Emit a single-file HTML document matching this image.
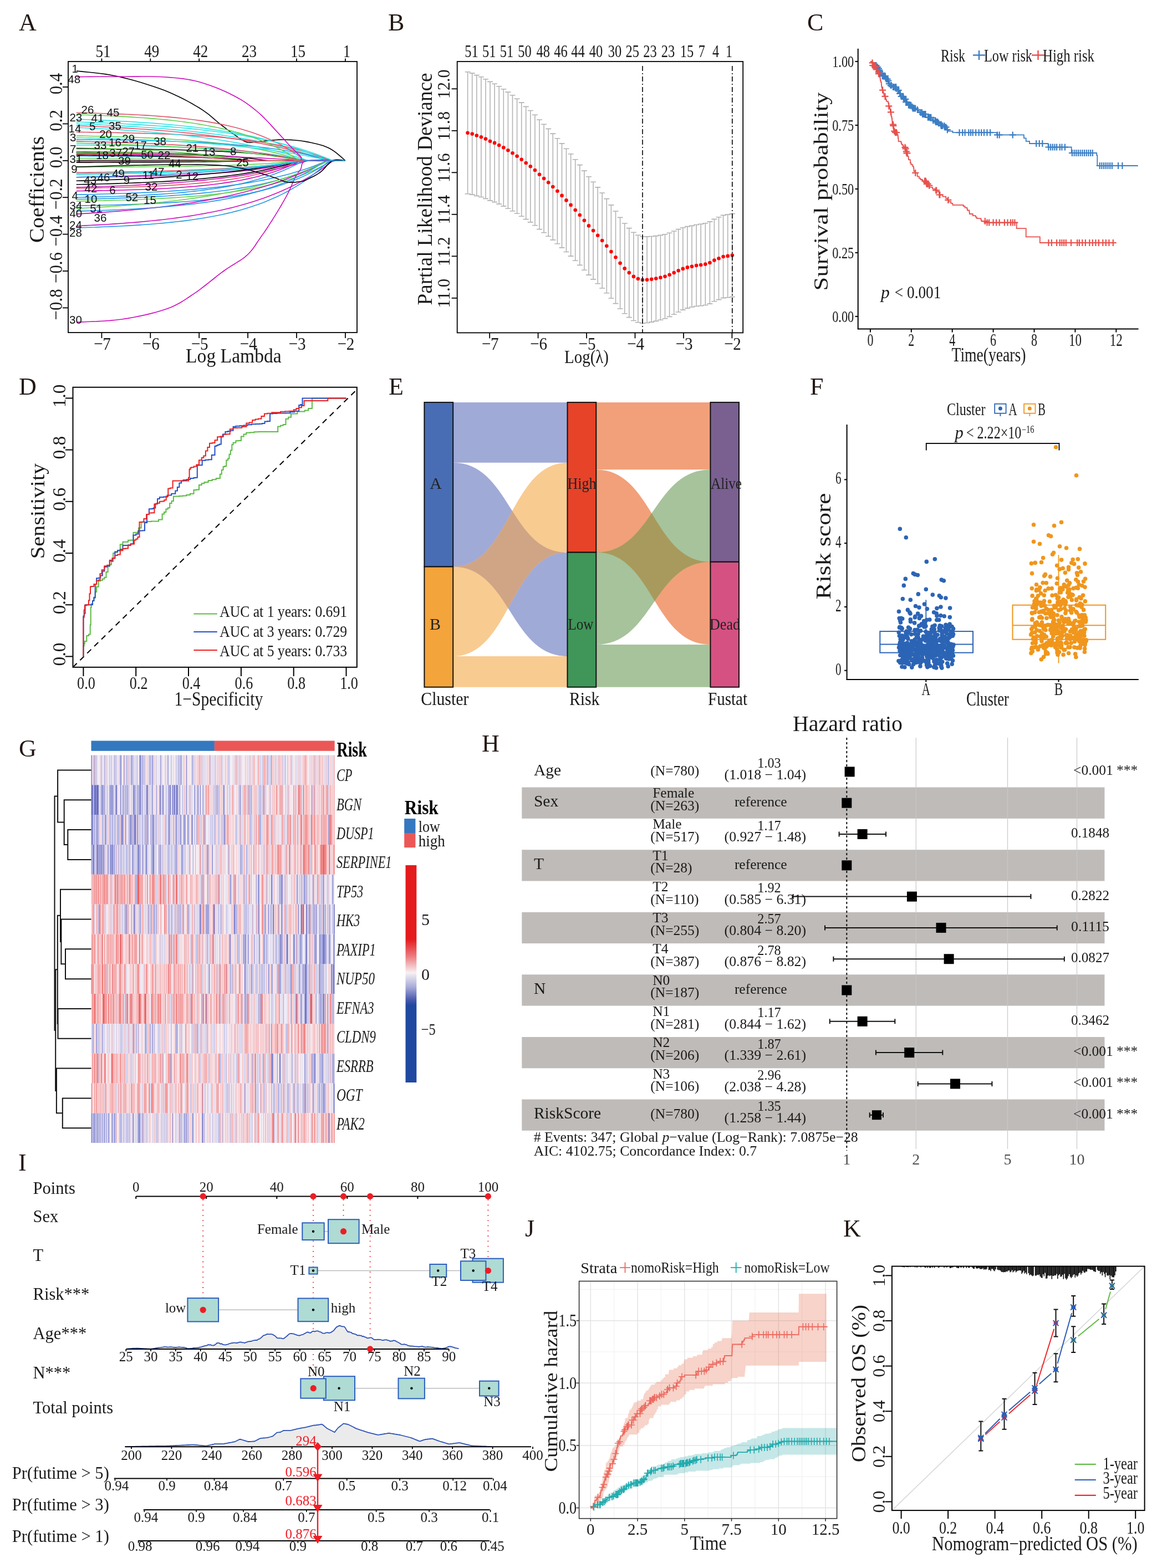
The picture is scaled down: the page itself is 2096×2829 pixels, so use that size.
<!DOCTYPE html><html><head><meta charset="utf-8"><title>Figure</title><style>html,body{margin:0;padding:0;background:#fff;}svg{display:block;}</style></head><body><svg xmlns="http://www.w3.org/2000/svg" width="2096" height="2829" viewBox="0 0 2096 2829" font-family="'Liberation Serif', 'Times New Roman', serif" fill="#1a1a1a"><rect width="2096" height="2829" fill="#fff"/><text x="34" y="55" font-size="44" fill="#231815">A</text>
<g clip-path="url(#clipA)" fill="none" stroke-width="1.6">
<defs><clipPath id="clipA"><rect x="123" y="111" width="521" height="489"/></clipPath></defs>
<path d="M138 128 143.6 128.6 151 129.4 159.8 130.2 169.7 131.3 180.1 132.5 190.9 133.9 201.6 135.7 211.9 137.7 222.1 140.1 232.8 142.8 243.8 145.8 254.9 149 265.9 152.4 276.7 155.9 287 159.5 296.6 163.1 305.7 166.8 314.5 170.7 323.1 174.7 331.2 178.8 339 182.9 346.4 187 353.4 191.1 360 195 366 198.9 371.6 202.8 376.7 206.7 381.4 210.6 385.8 214.4 390 218 394 221.4 398 224.6 401.8 227.5 405.4 230.2 408.7 232.8 411.9 235.2 414.9 237.4 417.9 239.5 420.8 241.6 423.7 243.6 426.6 245.6 429.3 247.6 432 249.5 434.6 251.2 437.2 252.9 439.8 254.3 442.4 255.5 445 256.4 447.5 257 449.8 257.2 452 257.2 454.2 257 456.6 256.6 459.2 256.2 462.3 255.8 466 255.5 470.3 255.1 475.1 254.6 480.4 254.1 485.9 253.5 491.6 252.9 497.4 252.5 503 252.1 508.5 252 513.8 252 519.1 252.2 524.5 252.4 529.8 252.8 535.1 253.2 540.4 253.8 545.7 254.5 551 255.4 556.4 256.4 561.8 257.5 567.3 258.7 572.8 260 578.2 261.5 583.4 263.1 588.3 265 593 267 597.5 269.5 602 272.4 606.4 275.7 610.6 279.1 614.5 282.4 617.9 285.4 620.8 288 623 289.8" fill="none" stroke="#000000" stroke-width="1.6"/>
<path d="M137.7 311.4 145.9 311.3 154.1 311.2 162.4 311.1 170.6 311 178.8 310.9 187 310.8 195.3 310.6 203.5 310.5 211.7 310.4 219.9 310.2 228.2 310.1 236.4 309.9 244.6 309.8 252.8 309.6 261 309.4 269.3 309.2 277.5 309 285.7 308.8 293.9 308.6 302.2 308.3 310.4 308.1 318.6 307.8 326.8 307.5 335.1 307.2 343.3 306.9 351.5 306.6 359.7 306.3 368 305.9 376.2 305.5 384.4 305.1 392.6 304.7 400.9 304.3 409.1 303.8 417.3 303.3 425.5 302.8 433.8 302.2 442 301.7 450.2 301 458.4 300.4 466.6 299.7 474.9 299 483.1 298.3 491.3 297.5 499.5 296.7 507.8 295.8 516 294.9 524.2 293.9 532.4 292.9 540.7 291.8 548.9 290.7 557.1 289.8 565.3 289.8 573.6 289.8 581.8 289.8 590 289.8 598.2 289.8 606.5 289.8 614.7 289.8 622.9 289.8" fill="none" stroke="#DF536B" stroke-width="1.6"/>
<path d="M137.7 245 145.9 245.1 154.1 245.3 162.4 245.5 170.6 245.7 178.8 245.8 187 246.1 195.3 246.3 203.5 246.5 211.7 246.7 219.9 247 228.2 247.3 236.4 247.6 244.6 247.9 252.8 248.2 261 248.6 269.3 248.9 277.5 249.3 285.7 249.8 293.9 250.2 302.2 250.7 310.4 251.2 318.6 251.7 326.8 252.3 335.1 252.9 343.3 253.5 351.5 254.2 359.7 254.9 368 255.6 376.2 256.4 384.4 257.3 392.6 258.2 400.9 259.2 409.1 260.2 417.3 261.3 425.5 262.4 433.8 263.6 442 264.9 450.2 266.3 458.4 267.7 466.6 269.3 474.9 270.9 483.1 272.6 491.3 274.4 499.5 276.4 507.8 278.5 516 280.7 524.2 283 532.4 285.4 540.7 288.1 548.9 289.8 557.1 289.8 565.3 289.8 573.6 289.8 581.8 289.8 590 289.8 598.2 289.8 606.5 289.8 614.7 289.8 622.9 289.8" fill="none" stroke="#61D04F" stroke-width="1.6"/>
<path d="M137.7 351.2 145.9 351.1 154.1 350.9 162.4 350.7 170.6 350.5 178.8 350.3 187 350 195.3 349.8 203.5 349.6 211.7 349.3 219.9 349 228.2 348.7 236.4 348.4 244.6 348.1 252.8 347.7 261 347.4 269.3 347 277.5 346.5 285.7 346.1 293.9 345.6 302.2 345.2 310.4 344.6 318.6 344.1 326.8 343.5 335.1 342.9 343.3 342.2 351.5 341.6 359.7 340.8 368 340.1 376.2 339.2 384.4 338.4 392.6 337.5 400.9 336.5 409.1 335.5 417.3 334.4 425.5 333.3 433.8 332.1 442 330.8 450.2 329.4 458.4 328 466.6 326.5 474.9 324.9 483.1 323.2 491.3 321.4 499.5 319.5 507.8 317.5 516 315.4 524.2 313.2 532.4 310.8 540.7 308.3 548.9 305.7 557.1 302.9 565.3 299.9 573.6 296.8 581.8 293.5 590 290 598.2 289.8 606.5 289.8 614.7 289.8 622.9 289.8" fill="none" stroke="#2297E6" stroke-width="1.6"/>
<path d="M137.7 223.4 145.9 223.7 154.1 224 162.4 224.4 170.6 224.7 178.8 225.1 187 225.5 195.3 225.9 203.5 226.3 211.7 226.7 219.9 227.1 228.2 227.6 236.4 228.1 244.6 228.6 252.8 229.2 261 229.7 269.3 230.3 277.5 230.9 285.7 231.5 293.9 232.2 302.2 232.9 310.4 233.6 318.6 234.4 326.8 235.1 335.1 236 343.3 236.8 351.5 237.7 359.7 238.6 368 239.6 376.2 240.6 384.4 241.7 392.6 242.8 400.9 243.9 409.1 245.2 417.3 246.4 425.5 247.7 433.8 249.1 442 250.5 450.2 252 458.4 253.6 466.6 255.2 474.9 256.9 483.1 258.6 491.3 260.5 499.5 262.4 507.8 264.4 516 266.5 524.2 268.7 532.4 271 540.7 273.4 548.9 275.9 557.1 278.4 565.3 281.2 573.6 284 581.8 286.9 590 289.8 598.2 289.8 606.5 289.8 614.7 289.8 622.9 289.8" fill="none" stroke="#28E2E5" stroke-width="1.6"/>
<path d="M137.7 344.6 145.9 344.5 154.1 344.4 162.4 344.2 170.6 344.1 178.8 343.9 187 343.8 195.3 343.6 203.5 343.4 211.7 343.2 219.9 343 228.2 342.8 236.4 342.5 244.6 342.3 252.8 342 261 341.7 269.3 341.3 277.5 341 285.7 340.6 293.9 340.2 302.2 339.7 310.4 339.2 318.6 338.7 326.8 338.1 335.1 337.5 343.3 336.9 351.5 336.2 359.7 335.4 368 334.6 376.2 333.7 384.4 332.7 392.6 331.7 400.9 330.6 409.1 329.4 417.3 328.1 425.5 326.7 433.8 325.2 442 323.6 450.2 321.9 458.4 320 466.6 318 474.9 315.8 483.1 313.5 491.3 310.9 499.5 308.2 507.8 305.3 516 302.1 524.2 298.7 532.4 295 540.7 291.1 548.9 289.8 557.1 289.8 565.3 289.8 573.6 289.8 581.8 289.8 590 289.8 598.2 289.8 606.5 289.8 614.7 289.8 622.9 289.8" fill="none" stroke="#CD0BBC" stroke-width="1.6"/>
<path d="M137.7 268.2 145.9 268.3 154.1 268.3 162.4 268.3 170.6 268.4 178.8 268.4 187 268.5 195.3 268.6 203.5 268.6 211.7 268.7 219.9 268.8 228.2 268.9 236.4 269 244.6 269 252.8 269.2 261 269.3 269.3 269.4 277.5 269.5 285.7 269.7 293.9 269.8 302.2 270 310.4 270.1 318.6 270.3 326.8 270.5 335.1 270.8 343.3 271 351.5 271.3 359.7 271.5 368 271.8 376.2 272.2 384.4 272.5 392.6 272.9 400.9 273.3 409.1 273.7 417.3 274.2 425.5 274.7 433.8 275.2 442 275.8 450.2 276.5 458.4 277.2 466.6 277.9 474.9 278.7 483.1 279.5 491.3 280.5 499.5 281.5 507.8 282.5 516 283.7 524.2 285 532.4 286.3 540.7 287.8 548.9 289.3 557.1 289.8 565.3 289.8 573.6 289.8 581.8 289.8 590 289.8 598.2 289.8 606.5 289.8 614.7 289.8 622.9 289.8" fill="none" stroke="#000000" stroke-width="1.6"/>
<path d="M137.7 273.2 145.9 273.3 154.1 273.4 162.4 273.5 170.6 273.7 178.8 273.8 187 274 195.3 274.1 203.5 274.3 211.7 274.5 219.9 274.7 228.2 274.9 236.4 275.1 244.6 275.3 252.8 275.6 261 275.8 269.3 276.1 277.5 276.4 285.7 276.7 293.9 277 302.2 277.4 310.4 277.8 318.6 278.2 326.8 278.6 335.1 279 343.3 279.5 351.5 280 359.7 280.6 368 281.2 376.2 281.8 384.4 282.5 392.6 283.2 400.9 283.9 409.1 284.7 417.3 285.5 425.5 286.4 433.8 287.4 442 288.4 450.2 289.5 458.4 289.8 466.6 289.8 474.9 289.8 483.1 289.8 491.3 289.8 499.5 289.8 507.8 289.8 516 289.8 524.2 289.8 532.4 289.8 540.7 289.8 548.9 289.8 557.1 289.8 565.3 289.8 573.6 289.8 581.8 289.8 590 289.8 598.2 289.8 606.5 289.8 614.7 289.8 622.9 289.8" fill="none" stroke="#DF536B" stroke-width="1.6"/>
<path d="M137.7 301.4 145.9 301.4 154.1 301.4 162.4 301.4 170.6 301.3 178.8 301.3 187 301.3 195.3 301.2 203.5 301.2 211.7 301.2 219.9 301.1 228.2 301.1 236.4 301.1 244.6 301 252.8 300.9 261 300.9 269.3 300.8 277.5 300.8 285.7 300.7 293.9 300.6 302.2 300.5 310.4 300.4 318.6 300.3 326.8 300.2 335.1 300.1 343.3 299.9 351.5 299.8 359.7 299.7 368 299.5 376.2 299.3 384.4 299.1 392.6 298.9 400.9 298.7 409.1 298.4 417.3 298.1 425.5 297.8 433.8 297.5 442 297.2 450.2 296.8 458.4 296.4 466.6 296 474.9 295.5 483.1 295 491.3 294.4 499.5 293.8 507.8 293.1 516 292.4 524.2 291.7 532.4 290.8 540.7 289.9 548.9 289.8 557.1 289.8 565.3 289.8 573.6 289.8 581.8 289.8 590 289.8 598.2 289.8 606.5 289.8 614.7 289.8 622.9 289.8" fill="none" stroke="#61D04F" stroke-width="1.6"/>
<path d="M137.7 359.5 145.9 359.4 154.1 359.2 162.4 359 170.6 358.8 178.8 358.6 187 358.4 195.3 358.2 203.5 357.9 211.7 357.6 219.9 357.4 228.2 357.1 236.4 356.8 244.6 356.4 252.8 356.1 261 355.7 269.3 355.3 277.5 354.9 285.7 354.4 293.9 354 302.2 353.5 310.4 352.9 318.6 352.3 326.8 351.7 335.1 351.1 343.3 350.4 351.5 349.7 359.7 348.9 368 348.1 376.2 347.2 384.4 346.3 392.6 345.3 400.9 344.3 409.1 343.2 417.3 342 425.5 340.8 433.8 339.4 442 338 450.2 336.5 458.4 334.9 466.6 333.3 474.9 331.5 483.1 329.6 491.3 327.6 499.5 325.4 507.8 323.1 516 320.7 524.2 318.2 532.4 315.4 540.7 312.5 548.9 309.5 557.1 306.2 565.3 302.7 573.6 299.1 581.8 295.2 590 291 598.2 289.8 606.5 289.8 614.7 289.8 622.9 289.8" fill="none" stroke="#2297E6" stroke-width="1.6"/>
<path d="M137.7 314.7 145.9 314.6 154.1 314.5 162.4 314.4 170.6 314.3 178.8 314.1 187 314 195.3 313.9 203.5 313.7 211.7 313.5 219.9 313.4 228.2 313.2 236.4 313 244.6 312.8 252.8 312.6 261 312.4 269.3 312.2 277.5 311.9 285.7 311.7 293.9 311.4 302.2 311.1 310.4 310.8 318.6 310.5 326.8 310.2 335.1 309.8 343.3 309.4 351.5 309 359.7 308.6 368 308.2 376.2 307.7 384.4 307.2 392.6 306.7 400.9 306.1 409.1 305.6 417.3 305 425.5 304.3 433.8 303.6 442 302.9 450.2 302.2 458.4 301.4 466.6 300.5 474.9 299.6 483.1 298.7 491.3 297.7 499.5 296.6 507.8 295.5 516 294.3 524.2 293.1 532.4 291.8 540.7 290.4 548.9 289.8 557.1 289.8 565.3 289.8 573.6 289.8 581.8 289.8 590 289.8 598.2 289.8 606.5 289.8 614.7 289.8 622.9 289.8" fill="none" stroke="#28E2E5" stroke-width="1.6"/>
<path d="M137.7 319.7 145.9 319.6 154.1 319.5 162.4 319.5 170.6 319.4 178.8 319.3 187 319.2 195.3 319.1 203.5 319 211.7 318.9 219.9 318.7 228.2 318.6 236.4 318.4 244.6 318.3 252.8 318.1 261 317.9 269.3 317.7 277.5 317.5 285.7 317.3 293.9 317.1 302.2 316.8 310.4 316.5 318.6 316.2 326.8 315.9 335.1 315.6 343.3 315.2 351.5 314.8 359.7 314.4 368 313.9 376.2 313.4 384.4 312.9 392.6 312.4 400.9 311.8 409.1 311.1 417.3 310.4 425.5 309.7 433.8 308.9 442 308 450.2 307.1 458.4 306.1 466.6 305.1 474.9 304 483.1 302.7 491.3 301.4 499.5 300.1 507.8 298.6 516 297 524.2 295.2 532.4 293.4 540.7 291.4 548.9 289.8 557.1 289.8 565.3 289.8 573.6 289.8 581.8 289.8 590 289.8 598.2 289.8 606.5 289.8 614.7 289.8 622.9 289.8" fill="none" stroke="#CD0BBC" stroke-width="1.6"/>
<path d="M137.7 274.9 145.9 274.9 154.1 274.9 162.4 275 170.6 275 178.8 275.1 187 275.1 195.3 275.2 203.5 275.3 211.7 275.4 219.9 275.4 228.2 275.5 236.4 275.6 244.6 275.7 252.8 275.8 261 276 269.3 276.1 277.5 276.3 285.7 276.4 293.9 276.6 302.2 276.8 310.4 277 318.6 277.2 326.8 277.5 335.1 277.8 343.3 278.1 351.5 278.4 359.7 278.7 368 279.1 376.2 279.6 384.4 280 392.6 280.5 400.9 281.1 409.1 281.7 417.3 282.3 425.5 283.1 433.8 283.8 442 284.7 450.2 285.6 458.4 286.6 466.6 287.7 474.9 288.9 483.1 289.8 491.3 289.8 499.5 289.8 507.8 289.8 516 289.8 524.2 289.8 532.4 289.8 540.7 289.8 548.9 289.8 557.1 289.8 565.3 289.8 573.6 289.8 581.8 289.8 590 289.8 598.2 289.8 606.5 289.8 614.7 289.8 622.9 289.8" fill="none" stroke="#000000" stroke-width="1.6"/>
<path d="M137.7 226.7 145.9 227 154.1 227.4 162.4 227.7 170.6 228.1 178.8 228.5 187 228.9 195.3 229.3 203.5 229.7 211.7 230.2 219.9 230.6 228.2 231.1 236.4 231.6 244.6 232.2 252.8 232.7 261 233.3 269.3 233.9 277.5 234.5 285.7 235.1 293.9 235.8 302.2 236.5 310.4 237.2 318.6 238 326.8 238.7 335.1 239.6 343.3 240.4 351.5 241.3 359.7 242.2 368 243.2 376.2 244.2 384.4 245.2 392.6 246.3 400.9 247.4 409.1 248.5 417.3 249.8 425.5 251 433.8 252.3 442 253.7 450.2 255.1 458.4 256.6 466.6 258.1 474.9 259.7 483.1 261.4 491.3 263.1 499.5 264.9 507.8 266.8 516 268.7 524.2 270.8 532.4 272.9 540.7 275.1 548.9 277.4 557.1 279.7 565.3 282.2 573.6 284.8 581.8 287.5 590 289.8 598.2 289.8 606.5 289.8 614.7 289.8 622.9 289.8" fill="none" stroke="#DF536B" stroke-width="1.6"/>
<path d="M137.7 362.8 145.9 362.7 154.1 362.6 162.4 362.4 170.6 362.2 178.8 362 187 361.9 195.3 361.6 203.5 361.4 211.7 361.2 219.9 361 228.2 360.7 236.4 360.4 244.6 360.1 252.8 359.8 261 359.5 269.3 359.1 277.5 358.7 285.7 358.3 293.9 357.9 302.2 357.4 310.4 356.9 318.6 356.4 326.8 355.8 335.1 355.2 343.3 354.6 351.5 353.9 359.7 353.2 368 352.4 376.2 351.6 384.4 350.7 392.6 349.7 400.9 348.7 409.1 347.7 417.3 346.6 425.5 345.3 433.8 344.1 442 342.7 450.2 341.2 458.4 339.7 466.6 338 474.9 336.3 483.1 334.4 491.3 332.4 499.5 330.2 507.8 328 516 325.5 524.2 323 532.4 320.2 540.7 317.3 548.9 314.2 557.1 310.8 565.3 307.3 573.6 303.5 581.8 299.5 590 295.2 598.2 290.6 606.5 289.8 614.7 289.8 622.9 289.8" fill="none" stroke="#61D04F" stroke-width="1.6"/>
<path d="M137.7 251.6 145.9 251.7 154.1 251.8 162.4 251.9 170.6 252 178.8 252.1 187 252.2 195.3 252.3 203.5 252.4 211.7 252.5 219.9 252.7 228.2 252.8 236.4 253 244.6 253.1 252.8 253.3 261 253.5 269.3 253.7 277.5 253.9 285.7 254.1 293.9 254.4 302.2 254.6 310.4 254.9 318.6 255.2 326.8 255.5 335.1 255.8 343.3 256.2 351.5 256.6 359.7 256.9 368 257.4 376.2 257.8 384.4 258.3 392.6 258.8 400.9 259.3 409.1 259.9 417.3 260.5 425.5 261.2 433.8 261.9 442 262.6 450.2 263.4 458.4 264.2 466.6 265.1 474.9 266.1 483.1 267.1 491.3 268.2 499.5 269.3 507.8 270.5 516 271.8 524.2 273.2 532.4 274.6 540.7 276.2 548.9 277.9 557.1 279.6 565.3 281.5 573.6 283.5 581.8 285.6 590 287.9 598.2 289.8 606.5 289.8 614.7 289.8 622.9 289.8" fill="none" stroke="#2297E6" stroke-width="1.6"/>
<path d="M137.7 261.6 145.9 261.7 154.1 261.7 162.4 261.8 170.6 261.9 178.8 262 187 262.1 195.3 262.3 203.5 262.4 211.7 262.5 219.9 262.6 228.2 262.8 236.4 262.9 244.6 263.1 252.8 263.3 261 263.5 269.3 263.7 277.5 263.9 285.7 264.1 293.9 264.4 302.2 264.6 310.4 264.9 318.6 265.2 326.8 265.5 335.1 265.9 343.3 266.2 351.5 266.6 359.7 267 368 267.5 376.2 267.9 384.4 268.4 392.6 268.9 400.9 269.5 409.1 270.1 417.3 270.7 425.5 271.4 433.8 272.1 442 272.9 450.2 273.7 458.4 274.6 466.6 275.5 474.9 276.5 483.1 277.5 491.3 278.6 499.5 279.8 507.8 281.1 516 282.5 524.2 283.9 532.4 285.4 540.7 287.1 548.9 288.8 557.1 289.8 565.3 289.8 573.6 289.8 581.8 289.8 590 289.8 598.2 289.8 606.5 289.8 614.7 289.8 622.9 289.8" fill="none" stroke="#28E2E5" stroke-width="1.6"/>
<path d="M137.7 276.5 145.9 276.6 154.1 276.7 162.4 276.8 170.6 276.9 178.8 277 187 277.1 195.3 277.2 203.5 277.3 211.7 277.4 219.9 277.5 228.2 277.7 236.4 277.8 244.6 277.9 252.8 278.1 261 278.2 269.3 278.4 277.5 278.6 285.7 278.7 293.9 278.9 302.2 279.1 310.4 279.3 318.6 279.5 326.8 279.7 335.1 279.9 343.3 280.1 351.5 280.4 359.7 280.6 368 280.9 376.2 281.1 384.4 281.4 392.6 281.7 400.9 282 409.1 282.3 417.3 282.6 425.5 283 433.8 283.3 442 283.7 450.2 284.1 458.4 284.5 466.6 284.9 474.9 285.4 483.1 285.8 491.3 286.3 499.5 286.8 507.8 287.3 516 287.9 524.2 288.4 532.4 289 540.7 289.6 548.9 289.8 557.1 289.8 565.3 289.8 573.6 289.8 581.8 289.8 590 289.8 598.2 289.8 606.5 289.8 614.7 289.8 622.9 289.8" fill="none" stroke="#CD0BBC" stroke-width="1.6"/>
<path d="M137.7 333 145.9 332.8 154.1 332.6 162.4 332.4 170.6 332.3 178.8 332 187 331.8 195.3 331.6 203.5 331.4 211.7 331.1 219.9 330.8 228.2 330.5 236.4 330.2 244.6 329.9 252.8 329.6 261 329.2 269.3 328.8 277.5 328.4 285.7 328 293.9 327.6 302.2 327.1 310.4 326.6 318.6 326 326.8 325.5 335.1 324.9 343.3 324.2 351.5 323.5 359.7 322.8 368 322.1 376.2 321.3 384.4 320.4 392.6 319.5 400.9 318.6 409.1 317.6 417.3 316.5 425.5 315.4 433.8 314.2 442 312.9 450.2 311.6 458.4 310.2 466.6 308.7 474.9 307.1 483.1 305.4 491.3 303.6 499.5 301.7 507.8 299.7 516 297.6 524.2 295.4 532.4 293 540.7 290.5 548.9 289.8 557.1 289.8 565.3 289.8 573.6 289.8 581.8 289.8 590 289.8 598.2 289.8 606.5 289.8 614.7 289.8 622.9 289.8" fill="none" stroke="#000000" stroke-width="1.6"/>
<path d="M137.7 238.3 145.9 238.4 154.1 238.5 162.4 238.6 170.6 238.7 178.8 238.9 187 239 195.3 239.1 203.5 239.3 211.7 239.4 219.9 239.6 228.2 239.8 236.4 240 244.6 240.2 252.8 240.4 261 240.6 269.3 240.8 277.5 241.1 285.7 241.4 293.9 241.7 302.2 242 310.4 242.3 318.6 242.7 326.8 243.1 335.1 243.5 343.3 244 351.5 244.4 359.7 244.9 368 245.5 376.2 246.1 384.4 246.7 392.6 247.3 400.9 248 409.1 248.8 417.3 249.6 425.5 250.5 433.8 251.4 442 252.3 450.2 253.4 458.4 254.5 466.6 255.7 474.9 257 483.1 258.3 491.3 259.8 499.5 261.4 507.8 263 516 264.8 524.2 266.7 532.4 268.7 540.7 270.9 548.9 273.2 557.1 275.7 565.3 278.3 573.6 281.1 581.8 284.1 590 287.3 598.2 289.8 606.5 289.8 614.7 289.8 622.9 289.8" fill="none" stroke="#DF536B" stroke-width="1.6"/>
<path d="M137.7 266.6 145.9 266.8 154.1 267 162.4 267.2 170.6 267.4 178.8 267.6 187 267.9 195.3 268.1 203.5 268.4 211.7 268.7 219.9 269 228.2 269.4 236.4 269.7 244.6 270.1 252.8 270.5 261 270.9 269.3 271.3 277.5 271.8 285.7 272.2 293.9 272.7 302.2 273.3 310.4 273.8 318.6 274.4 326.8 275.1 335.1 275.7 343.3 276.4 351.5 277.2 359.7 278 368 278.8 376.2 279.7 384.4 280.6 392.6 281.6 400.9 282.6 409.1 283.7 417.3 284.8 425.5 286.1 433.8 287.3 442 288.7 450.2 289.8 458.4 289.8 466.6 289.8 474.9 289.8 483.1 289.8 491.3 289.8 499.5 289.8 507.8 289.8 516 289.8 524.2 289.8 532.4 289.8 540.7 289.8 548.9 289.8 557.1 289.8 565.3 289.8 573.6 289.8 581.8 289.8 590 289.8 598.2 289.8 606.5 289.8 614.7 289.8 622.9 289.8" fill="none" stroke="#61D04F" stroke-width="1.6"/>
<path d="M137.7 281.5 145.9 281.5 154.1 281.5 162.4 281.6 170.6 281.6 178.8 281.6 187 281.7 195.3 281.7 203.5 281.7 211.7 281.8 219.9 281.8 228.2 281.9 236.4 281.9 244.6 282 252.8 282.1 261 282.2 269.3 282.3 277.5 282.4 285.7 282.5 293.9 282.6 302.2 282.7 310.4 282.8 318.6 283 326.8 283.2 335.1 283.4 343.3 283.6 351.5 283.8 359.7 284 368 284.3 376.2 284.6 384.4 285 392.6 285.3 400.9 285.7 409.1 286.2 417.3 286.7 425.5 287.2 433.8 287.8 442 288.5 450.2 289.2 458.4 289.8 466.6 289.8 474.9 289.8 483.1 289.8 491.3 289.8 499.5 289.8 507.8 289.8 516 289.8 524.2 289.8 532.4 289.8 540.7 289.8 548.9 289.8 557.1 289.8 565.3 289.8 573.6 289.8 581.8 289.8 590 289.8 598.2 289.8 606.5 289.8 614.7 289.8 622.9 289.8" fill="none" stroke="#2297E6" stroke-width="1.6"/>
<path d="M137.7 215.1 145.9 215.4 154.1 215.7 162.4 216 170.6 216.3 178.8 216.7 187 217 195.3 217.4 203.5 217.8 211.7 218.2 219.9 218.7 228.2 219.1 236.4 219.6 244.6 220.1 252.8 220.7 261 221.2 269.3 221.8 277.5 222.4 285.7 223.1 293.9 223.8 302.2 224.5 310.4 225.2 318.6 226 326.8 226.8 335.1 227.7 343.3 228.6 351.5 229.5 359.7 230.5 368 231.5 376.2 232.6 384.4 233.8 392.6 235 400.9 236.2 409.1 237.5 417.3 238.9 425.5 240.4 433.8 241.9 442 243.5 450.2 245.1 458.4 246.9 466.6 248.7 474.9 250.7 483.1 252.7 491.3 254.8 499.5 257 507.8 259.4 516 261.8 524.2 264.4 532.4 267.1 540.7 269.9 548.9 272.8 557.1 275.9 565.3 279.2 573.6 282.6 581.8 286.2 590 289.8 598.2 289.8 606.5 289.8 614.7 289.8 622.9 289.8" fill="none" stroke="#28E2E5" stroke-width="1.6"/>
<path d="M137.7 407.7 145.9 407.3 154.1 406.9 162.4 406.5 170.6 406.1 178.8 405.6 187 405.2 195.3 404.7 203.5 404.1 211.7 403.6 219.9 403 228.2 402.4 236.4 401.7 244.6 401.1 252.8 400.4 261 399.6 269.3 398.8 277.5 398 285.7 397.1 293.9 396.2 302.2 395.2 310.4 394.2 318.6 393.1 326.8 392 335.1 390.8 343.3 389.6 351.5 388.2 359.7 386.8 368 385.4 376.2 383.8 384.4 382.2 392.6 380.5 400.9 378.7 409.1 376.8 417.3 374.9 425.5 372.8 433.8 370.6 442 368.2 450.2 365.8 458.4 363.2 466.6 360.5 474.9 357.7 483.1 354.7 491.3 351.6 499.5 348.2 507.8 344.7 516 341.1 524.2 337.2 532.4 333.1 540.7 328.9 548.9 324.3 557.1 319.6 565.3 314.6 573.6 309.3 581.8 303.8 590 298 598.2 291.8 606.5 289.8 614.7 289.8 622.9 289.8" fill="none" stroke="#CD0BBC" stroke-width="1.6"/>
<path d="M137.7 293.1 145.9 293.1 154.1 293.1 162.4 293.1 170.6 293 178.8 293 187 293 195.3 293 203.5 292.9 211.7 292.9 219.9 292.9 228.2 292.9 236.4 292.8 244.6 292.8 252.8 292.7 261 292.7 269.3 292.7 277.5 292.6 285.7 292.6 293.9 292.5 302.2 292.5 310.4 292.4 318.6 292.3 326.8 292.3 335.1 292.2 343.3 292.1 351.5 292 359.7 292 368 291.9 376.2 291.8 384.4 291.7 392.6 291.6 400.9 291.5 409.1 291.3 417.3 291.2 425.5 291.1 433.8 290.9 442 290.8 450.2 290.6 458.4 290.4 466.6 290.3 474.9 290.1 483.1 289.9 491.3 289.8 499.5 289.8 507.8 289.8 516 289.8 524.2 289.8 532.4 289.8 540.7 289.8 548.9 289.8 557.1 289.8 565.3 289.8 573.6 289.8 581.8 289.8 590 289.8 598.2 289.8 606.5 289.8 614.7 289.8 622.9 289.8" fill="none" stroke="#000000" stroke-width="1.6"/>
<path d="M137.7 203.5 145.9 203.6 154.1 203.8 162.4 204 170.6 204.2 178.8 204.5 187 204.7 195.3 205 203.5 205.3 211.7 205.6 219.9 205.9 228.2 206.2 236.4 206.6 244.6 207 252.8 207.5 261 207.9 269.3 208.4 277.5 209 285.7 209.6 293.9 210.2 302.2 210.9 310.4 211.6 318.6 212.4 326.8 213.3 335.1 214.2 343.3 215.2 351.5 216.2 359.7 217.4 368 218.6 376.2 219.9 384.4 221.4 392.6 222.9 400.9 224.6 409.1 226.3 417.3 228.3 425.5 230.3 433.8 232.5 442 234.9 450.2 237.5 458.4 240.3 466.6 243.3 474.9 246.5 483.1 249.9 491.3 253.6 499.5 257.6 507.8 261.9 516 266.6 524.2 271.6 532.4 276.9 540.7 282.7 548.9 288.9 557.1 289.8 565.3 289.8 573.6 289.8 581.8 289.8 590 289.8 598.2 289.8 606.5 289.8 614.7 289.8 622.9 289.8" fill="none" stroke="#DF536B" stroke-width="1.6"/>
<path d="M137.7 274.9 145.9 274.9 154.1 275 162.4 275 170.6 275.1 178.8 275.1 187 275.2 195.3 275.3 203.5 275.4 211.7 275.5 219.9 275.6 228.2 275.7 236.4 275.8 244.6 276 252.8 276.1 261 276.3 269.3 276.5 277.5 276.7 285.7 276.9 293.9 277.2 302.2 277.5 310.4 277.8 318.6 278.1 326.8 278.4 335.1 278.8 343.3 279.3 351.5 279.8 359.7 280.3 368 280.8 376.2 281.5 384.4 282.2 392.6 282.9 400.9 283.7 409.1 284.6 417.3 285.6 425.5 286.7 433.8 287.9 442 289.2 450.2 289.8 458.4 289.8 466.6 289.8 474.9 289.8 483.1 289.8 491.3 289.8 499.5 289.8 507.8 289.8 516 289.8 524.2 289.8 532.4 289.8 540.7 289.8 548.9 289.8 557.1 289.8 565.3 289.8 573.6 289.8 581.8 289.8 590 289.8 598.2 289.8 606.5 289.8 614.7 289.8 622.9 289.8" fill="none" stroke="#61D04F" stroke-width="1.6"/>
<path d="M137.7 411 145.9 410.7 154.1 410.5 162.4 410.2 170.6 410 178.8 409.6 187 409.3 195.3 409 203.5 408.6 211.7 408.2 219.9 407.8 228.2 407.4 236.4 406.9 244.6 406.4 252.8 405.9 261 405.3 269.3 404.7 277.5 404 285.7 403.3 293.9 402.6 302.2 401.8 310.4 400.9 318.6 400 326.8 399.1 335.1 398.1 343.3 397 351.5 395.8 359.7 394.5 368 393.2 376.2 391.8 384.4 390.3 392.6 388.7 400.9 387 409.1 385.1 417.3 383.2 425.5 381.1 433.8 378.9 442 376.5 450.2 374 458.4 371.3 466.6 368.4 474.9 365.4 483.1 362.1 491.3 358.6 499.5 354.9 507.8 350.9 516 346.7 524.2 342.2 532.4 337.4 540.7 332.3 548.9 326.8 557.1 320.9 565.3 314.7 573.6 308.1 581.8 301 590 293.5 598.2 289.8 606.5 289.8 614.7 289.8 622.9 289.8" fill="none" stroke="#2297E6" stroke-width="1.6"/>
<path d="M137.7 248.3 145.9 248.5 154.1 248.7 162.4 248.9 170.6 249.2 178.8 249.4 187 249.6 195.3 249.9 203.5 250.2 211.7 250.4 219.9 250.7 228.2 251 236.4 251.4 244.6 251.7 252.8 252 261 252.4 269.3 252.7 277.5 253.1 285.7 253.5 293.9 254 302.2 254.4 310.4 254.8 318.6 255.3 326.8 255.8 335.1 256.3 343.3 256.9 351.5 257.4 359.7 258 368 258.6 376.2 259.2 384.4 259.9 392.6 260.6 400.9 261.3 409.1 262 417.3 262.8 425.5 263.6 433.8 264.4 442 265.3 450.2 266.2 458.4 267.1 466.6 268.1 474.9 269.1 483.1 270.2 491.3 271.3 499.5 272.5 507.8 273.7 516 274.9 524.2 276.2 532.4 277.6 540.7 279 548.9 280.5 557.1 282 565.3 283.6 573.6 285.3 581.8 287 590 288.8 598.2 289.8 606.5 289.8 614.7 289.8 622.9 289.8" fill="none" stroke="#28E2E5" stroke-width="1.6"/>
<path d="M138 581.4 144.3 581.1 152.8 580.7 162.8 580.3 174 579.9 185.8 579.2 197.7 578.4 209.3 577.3 220 576 230.3 574.4 240.9 572.5 251.5 570.4 262.1 568.1 272.4 565.6 282.3 563 291.5 560.3 300 557.5 307.5 554.7 314.2 551.8 320.1 548.8 325.7 545.7 331.1 542.4 336.5 538.9 342.2 535 348.4 530.9 355.1 526.3 362.2 521.1 369.4 515.5 376.7 509.8 384 504 391 498.4 397.8 493.2 404.1 488.5 410.1 484.4 415.8 480.6 421.4 477.2 426.7 473.9 431.7 470.8 436.5 467.6 441.1 464.3 445.3 460.7 449.1 457 452.5 453.2 455.6 449.4 458.5 445.5 461.2 441.5 463.8 437.5 466.6 433.4 469.5 429.2 472.5 424.9 475.6 420.6 478.6 416.2 481.6 411.7 484.6 407.1 487.6 402.4 490.7 397.7 493.7 392.9 496.8 387.9 500 382.7 503.2 377.4 506.4 372 509.5 366.7 512.5 361.4 515.3 356.4 517.9 351.7 520.2 347.2 522.3 342.7 524.3 338.4 526.1 334.3 527.7 330.3 529.3 326.7 530.9 323.3 532.4 320.2 533.8 317.6 535.1 315.4 536.3 313.6 537.4 312 538.5 310.5 539.6 309 540.8 307.5 542.1 305.7 543.1 303.7 543.6 301.5 544 299.1 544.5 296.8 545.4 294.7 547.1 292.7 550 291 554.2 289.8 560.6 289 569 288.7 578.9 288.6 589.4 288.8 599.7 289.1 609.3 289.4 617.3 289.7 623 289.8" fill="none" stroke="#CD0BBC" stroke-width="1.6"/>
<path d="M137.7 289.8 145.9 289.8 154.1 289.8 162.4 289.8 170.6 289.8 178.8 289.8 187 289.8 195.3 289.8 203.5 289.8 211.7 289.8 219.9 289.8 228.2 289.8 236.4 289.8 244.6 289.8 252.8 289.8 261 289.8 269.3 289.8 277.5 289.8 285.7 289.8 293.9 289.8 302.2 289.8 310.4 289.8 318.6 289.8 326.8 289.8 335.1 289.8 343.3 289.8 351.5 289.8 359.7 289.8 368 289.8 376.2 289.8 384.4 289.8 392.6 289.8 400.9 289.8 409.1 289.8 417.3 289.8 425.5 289.8 433.8 289.8 442 289.8 450.2 289.8 458.4 289.8 466.6 289.8 474.9 289.8 483.1 289.8 491.3 289.8 499.5 289.8 507.8 289.8 516 289.8 524.2 289.8 532.4 289.8 540.7 289.8 548.9 289.8 557.1 289.8 565.3 289.8 573.6 289.8 581.8 289.8 590 289.8 598.2 289.8 606.5 289.8 614.7 289.8 622.9 289.8" fill="none" stroke="#000000" stroke-width="1.6"/>
<path d="M137.7 339.6 145.9 339.5 154.1 339.4 162.4 339.2 170.6 339.1 178.8 338.9 187 338.8 195.3 338.6 203.5 338.4 211.7 338.2 219.9 338 228.2 337.7 236.4 337.5 244.6 337.2 252.8 336.9 261 336.6 269.3 336.2 277.5 335.9 285.7 335.5 293.9 335.1 302.2 334.6 310.4 334.1 318.6 333.6 326.8 333.1 335.1 332.5 343.3 331.8 351.5 331.1 359.7 330.4 368 329.6 376.2 328.7 384.4 327.8 392.6 326.8 400.9 325.8 409.1 324.6 417.3 323.4 425.5 322.1 433.8 320.7 442 319.2 450.2 317.6 458.4 315.8 466.6 314 474.9 311.9 483.1 309.8 491.3 307.5 499.5 305 507.8 302.3 516 299.4 524.2 296.4 532.4 293 540.7 289.8 548.9 289.8 557.1 289.8 565.3 289.8 573.6 289.8 581.8 289.8 590 289.8 598.2 289.8 606.5 289.8 614.7 289.8 622.9 289.8" fill="none" stroke="#DF536B" stroke-width="1.6"/>
<path d="M137.7 258.3 145.9 258.4 154.1 258.6 162.4 258.9 170.6 259.1 178.8 259.3 187 259.5 195.3 259.8 203.5 260 211.7 260.3 219.9 260.6 228.2 260.9 236.4 261.2 244.6 261.5 252.8 261.8 261 262.2 269.3 262.5 277.5 262.9 285.7 263.3 293.9 263.7 302.2 264.1 310.4 264.6 318.6 265.1 326.8 265.6 335.1 266.1 343.3 266.6 351.5 267.2 359.7 267.7 368 268.3 376.2 269 384.4 269.6 392.6 270.3 400.9 271.1 409.1 271.8 417.3 272.6 425.5 273.4 433.8 274.3 442 275.2 450.2 276.1 458.4 277.1 466.6 278.1 474.9 279.2 483.1 280.3 491.3 281.4 499.5 282.7 507.8 283.9 516 285.3 524.2 286.6 532.4 288.1 540.7 289.6 548.9 289.8 557.1 289.8 565.3 289.8 573.6 289.8 581.8 289.8 590 289.8 598.2 289.8 606.5 289.8 614.7 289.8 622.9 289.8" fill="none" stroke="#61D04F" stroke-width="1.6"/>
<path d="M137.7 371.1 145.9 371 154.1 370.9 162.4 370.7 170.6 370.6 178.8 370.4 187 370.2 195.3 370 203.5 369.8 211.7 369.6 219.9 369.4 228.2 369.1 236.4 368.9 244.6 368.6 252.8 368.3 261 367.9 269.3 367.6 277.5 367.2 285.7 366.8 293.9 366.4 302.2 365.9 310.4 365.4 318.6 364.9 326.8 364.3 335.1 363.7 343.3 363 351.5 362.3 359.7 361.6 368 360.7 376.2 359.9 384.4 358.9 392.6 357.9 400.9 356.9 409.1 355.7 417.3 354.5 425.5 353.2 433.8 351.8 442 350.3 450.2 348.7 458.4 346.9 466.6 345.1 474.9 343.1 483.1 340.9 491.3 338.7 499.5 336.2 507.8 333.6 516 330.8 524.2 327.8 532.4 324.5 540.7 321.1 548.9 317.4 557.1 313.4 565.3 309.2 573.6 304.6 581.8 299.7 590 294.5 598.2 289.8 606.5 289.8 614.7 289.8 622.9 289.8" fill="none" stroke="#2297E6" stroke-width="1.6"/>
<path d="M137.7 230 145.9 230.4 154.1 230.8 162.4 231.2 170.6 231.6 178.8 232 187 232.5 195.3 232.9 203.5 233.4 211.7 233.9 219.9 234.4 228.2 235 236.4 235.5 244.6 236.1 252.8 236.7 261 237.4 269.3 238 277.5 238.7 285.7 239.5 293.9 240.2 302.2 241 310.4 241.8 318.6 242.6 326.8 243.5 335.1 244.4 343.3 245.4 351.5 246.4 359.7 247.4 368 248.5 376.2 249.6 384.4 250.8 392.6 252 400.9 253.3 409.1 254.6 417.3 256 425.5 257.4 433.8 258.9 442 260.4 450.2 262 458.4 263.7 466.6 265.5 474.9 267.3 483.1 269.2 491.3 271.2 499.5 273.2 507.8 275.3 516 277.6 524.2 279.9 532.4 282.3 540.7 284.8 548.9 287.4 557.1 289.8 565.3 289.8 573.6 289.8 581.8 289.8 590 289.8 598.2 289.8 606.5 289.8 614.7 289.8 622.9 289.8" fill="none" stroke="#28E2E5" stroke-width="1.6"/>
<path d="M137.7 386.1 145.9 385.6 154.1 385.1 162.4 384.6 170.6 384.1 178.8 383.6 187 383 195.3 382.4 203.5 381.8 211.7 381.1 219.9 380.5 228.2 379.8 236.4 379 244.6 378.3 252.8 377.5 261 376.7 269.3 375.8 277.5 374.9 285.7 374 293.9 373 302.2 372 310.4 370.9 318.6 369.8 326.8 368.6 335.1 367.4 343.3 366.2 351.5 364.9 359.7 363.5 368 362.1 376.2 360.6 384.4 359.1 392.6 357.4 400.9 355.8 409.1 354 417.3 352.2 425.5 350.3 433.8 348.3 442 346.2 450.2 344.1 458.4 341.8 466.6 339.5 474.9 337.1 483.1 334.5 491.3 331.9 499.5 329.1 507.8 326.2 516 323.2 524.2 320.1 532.4 316.8 540.7 313.4 548.9 309.9 557.1 306.2 565.3 302.3 573.6 298.3 581.8 294.1 590 289.8 598.2 289.8 606.5 289.8 614.7 289.8 622.9 289.8" fill="none" stroke="#CD0BBC" stroke-width="1.6"/>
<path d="M137.7 279.8 145.9 279.9 154.1 280 162.4 280 170.6 280.1 178.8 280.2 187 280.2 195.3 280.3 203.5 280.4 211.7 280.5 219.9 280.6 228.2 280.7 236.4 280.9 244.6 281 252.8 281.1 261 281.3 269.3 281.4 277.5 281.6 285.7 281.8 293.9 282 302.2 282.2 310.4 282.4 318.6 282.6 326.8 282.9 335.1 283.1 343.3 283.4 351.5 283.7 359.7 284 368 284.4 376.2 284.8 384.4 285.2 392.6 285.6 400.9 286.1 409.1 286.6 417.3 287.1 425.5 287.6 433.8 288.2 442 288.9 450.2 289.6 458.4 289.8 466.6 289.8 474.9 289.8 483.1 289.8 491.3 289.8 499.5 289.8 507.8 289.8 516 289.8 524.2 289.8 532.4 289.8 540.7 289.8 548.9 289.8 557.1 289.8 565.3 289.8 573.6 289.8 581.8 289.8 590 289.8 598.2 289.8 606.5 289.8 614.7 289.8 622.9 289.8" fill="none" stroke="#000000" stroke-width="1.6"/>
<path d="M137.7 254.9 145.9 255.1 154.1 255.3 162.4 255.5 170.6 255.7 178.8 255.9 187 256.1 195.3 256.4 203.5 256.6 211.7 256.9 219.9 257.1 228.2 257.4 236.4 257.7 244.6 258 252.8 258.3 261 258.7 269.3 259 277.5 259.4 285.7 259.8 293.9 260.2 302.2 260.7 310.4 261.1 318.6 261.6 326.8 262.1 335.1 262.6 343.3 263.2 351.5 263.8 359.7 264.4 368 265 376.2 265.7 384.4 266.4 392.6 267.2 400.9 267.9 409.1 268.8 417.3 269.6 425.5 270.5 433.8 271.5 442 272.5 450.2 273.5 458.4 274.6 466.6 275.7 474.9 276.9 483.1 278.2 491.3 279.5 499.5 280.9 507.8 282.4 516 283.9 524.2 285.5 532.4 287.2 540.7 289 548.9 289.8 557.1 289.8 565.3 289.8 573.6 289.8 581.8 289.8 590 289.8 598.2 289.8 606.5 289.8 614.7 289.8 622.9 289.8" fill="none" stroke="#DF536B" stroke-width="1.6"/>
<path d="M137.7 286.5 145.9 286.5 154.1 286.5 162.4 286.6 170.6 286.6 178.8 286.6 187 286.6 195.3 286.7 203.5 286.7 211.7 286.8 219.9 286.8 228.2 286.9 236.4 286.9 244.6 287 252.8 287 261 287.1 269.3 287.2 277.5 287.2 285.7 287.3 293.9 287.4 302.2 287.5 310.4 287.6 318.6 287.7 326.8 287.8 335.1 287.9 343.3 288 351.5 288.2 359.7 288.3 368 288.5 376.2 288.7 384.4 288.9 392.6 289.1 400.9 289.3 409.1 289.5 417.3 289.7 425.5 289.8 433.8 289.8 442 289.8 450.2 289.8 458.4 289.8 466.6 289.8 474.9 289.8 483.1 289.8 491.3 289.8 499.5 289.8 507.8 289.8 516 289.8 524.2 289.8 532.4 289.8 540.7 289.8 548.9 289.8 557.1 289.8 565.3 289.8 573.6 289.8 581.8 289.8 590 289.8 598.2 289.8 606.5 289.8 614.7 289.8 622.9 289.8" fill="none" stroke="#61D04F" stroke-width="1.6"/>
<path d="M137.7 381.1 145.9 380.9 154.1 380.6 162.4 380.4 170.6 380.1 178.8 379.8 187 379.5 195.3 379.2 203.5 378.9 211.7 378.5 219.9 378.1 228.2 377.7 236.4 377.3 244.6 376.8 252.8 376.3 261 375.8 269.3 375.3 277.5 374.7 285.7 374.1 293.9 373.4 302.2 372.7 310.4 372 318.6 371.2 326.8 370.4 335.1 369.5 343.3 368.6 351.5 367.6 359.7 366.5 368 365.4 376.2 364.2 384.4 362.9 392.6 361.6 400.9 360.2 409.1 358.7 417.3 357.1 425.5 355.4 433.8 353.6 442 351.7 450.2 349.7 458.4 347.5 466.6 345.2 474.9 342.8 483.1 340.2 491.3 337.5 499.5 334.6 507.8 331.6 516 328.3 524.2 324.8 532.4 321.2 540.7 317.3 548.9 313.2 557.1 308.8 565.3 304.1 573.6 299.2 581.8 293.9 590 289.8 598.2 289.8 606.5 289.8 614.7 289.8 622.9 289.8" fill="none" stroke="#2297E6" stroke-width="1.6"/>
<path d="M137.7 220.1 145.9 220.3 154.1 220.6 162.4 220.9 170.6 221.2 178.8 221.5 187 221.8 195.3 222.2 203.5 222.5 211.7 222.9 219.9 223.3 228.2 223.7 236.4 224.1 244.6 224.6 252.8 225.1 261 225.6 269.3 226.1 277.5 226.6 285.7 227.2 293.9 227.8 302.2 228.4 310.4 229.1 318.6 229.8 326.8 230.5 335.1 231.3 343.3 232.1 351.5 232.9 359.7 233.8 368 234.7 376.2 235.7 384.4 236.7 392.6 237.7 400.9 238.8 409.1 240 417.3 241.2 425.5 242.5 433.8 243.8 442 245.2 450.2 246.7 458.4 248.2 466.6 249.8 474.9 251.5 483.1 253.3 491.3 255.1 499.5 257.1 507.8 259.1 516 261.2 524.2 263.5 532.4 265.8 540.7 268.3 548.9 270.8 557.1 273.5 565.3 276.3 573.6 279.3 581.8 282.4 590 285.6 598.2 289.1 606.5 289.8 614.7 289.8 622.9 289.8" fill="none" stroke="#28E2E5" stroke-width="1.6"/>
<path d="M137.7 337.9 145.9 337.7 154.1 337.5 162.4 337.3 170.6 337 178.8 336.7 187 336.5 195.3 336.2 203.5 335.8 211.7 335.5 219.9 335.2 228.2 334.8 236.4 334.5 244.6 334.1 252.8 333.6 261 333.2 269.3 332.8 277.5 332.3 285.7 331.8 293.9 331.2 302.2 330.7 310.4 330.1 318.6 329.5 326.8 328.8 335.1 328.2 343.3 327.5 351.5 326.7 359.7 325.9 368 325.1 376.2 324.2 384.4 323.3 392.6 322.4 400.9 321.4 409.1 320.3 417.3 319.2 425.5 318.1 433.8 316.9 442 315.6 450.2 314.2 458.4 312.8 466.6 311.3 474.9 309.8 483.1 308.2 491.3 306.4 499.5 304.6 507.8 302.7 516 300.8 524.2 298.7 532.4 296.5 540.7 294.2 548.9 291.8 557.1 289.8 565.3 289.8 573.6 289.8 581.8 289.8 590 289.8 598.2 289.8 606.5 289.8 614.7 289.8 622.9 289.8" fill="none" stroke="#CD0BBC" stroke-width="1.6"/>
<path d="M137.7 326.3 145.9 326.1 154.1 325.9 162.4 325.6 170.6 325.4 178.8 325.1 187 324.8 195.3 324.5 203.5 324.2 211.7 323.9 219.9 323.6 228.2 323.2 236.4 322.9 244.6 322.5 252.8 322.1 261 321.7 269.3 321.3 277.5 320.8 285.7 320.4 293.9 319.9 302.2 319.4 310.4 318.9 318.6 318.3 326.8 317.7 335.1 317.1 343.3 316.5 351.5 315.9 359.7 315.2 368 314.5 376.2 313.8 384.4 313 392.6 312.2 400.9 311.3 409.1 310.5 417.3 309.6 425.5 308.6 433.8 307.6 442 306.6 450.2 305.5 458.4 304.4 466.6 303.2 474.9 302 483.1 300.7 491.3 299.4 499.5 298 507.8 296.5 516 295 524.2 293.4 532.4 291.8 540.7 290.1 548.9 289.8 557.1 289.8 565.3 289.8 573.6 289.8 581.8 289.8 590 289.8 598.2 289.8 606.5 289.8 614.7 289.8 622.9 289.8" fill="none" stroke="#000000" stroke-width="1.6"/>
<path d="M137.7 291.5 145.9 291.5 154.1 291.4 162.4 291.4 170.6 291.4 178.8 291.4 187 291.4 195.3 291.4 203.5 291.4 211.7 291.4 219.9 291.3 228.2 291.3 236.4 291.3 244.6 291.3 252.8 291.3 261 291.3 269.3 291.2 277.5 291.2 285.7 291.2 293.9 291.2 302.2 291.1 310.4 291.1 318.6 291.1 326.8 291 335.1 291 343.3 291 351.5 290.9 359.7 290.9 368 290.8 376.2 290.8 384.4 290.7 392.6 290.7 400.9 290.6 409.1 290.5 417.3 290.5 425.5 290.4 433.8 290.3 442 290.2 450.2 290.2 458.4 290.1 466.6 290 474.9 289.9 483.1 289.8 491.3 289.8 499.5 289.8 507.8 289.8 516 289.8 524.2 289.8 532.4 289.8 540.7 289.8 548.9 289.8 557.1 289.8 565.3 289.8 573.6 289.8 581.8 289.8 590 289.8 598.2 289.8 606.5 289.8 614.7 289.8 622.9 289.8" fill="none" stroke="#DF536B" stroke-width="1.6"/>
<path d="M137.7 206.8 145.9 207 154.1 207.3 162.4 207.6 170.6 207.9 178.8 208.2 187 208.5 195.3 208.9 203.5 209.3 211.7 209.7 219.9 210.1 228.2 210.6 236.4 211.1 244.6 211.6 252.8 212.2 261 212.8 269.3 213.4 277.5 214.1 285.7 214.8 293.9 215.6 302.2 216.4 310.4 217.3 318.6 218.3 326.8 219.3 335.1 220.4 343.3 221.5 351.5 222.8 359.7 224.1 368 225.5 376.2 227 384.4 228.6 392.6 230.3 400.9 232.1 409.1 234 417.3 236.1 425.5 238.3 433.8 240.6 442 243.2 450.2 245.8 458.4 248.7 466.6 251.8 474.9 255 483.1 258.5 491.3 262.2 499.5 266.2 507.8 270.4 516 274.9 524.2 279.7 532.4 284.8 540.7 289.8 548.9 289.8 557.1 289.8 565.3 289.8 573.6 289.8 581.8 289.8 590 289.8 598.2 289.8 606.5 289.8 614.7 289.8 622.9 289.8" fill="none" stroke="#61D04F" stroke-width="1.6"/>
<path d="M137.7 319.7 145.9 319.5 154.1 319.3 162.4 319.1 170.6 318.9 178.8 318.7 187 318.5 195.3 318.3 203.5 318.1 211.7 317.8 219.9 317.6 228.2 317.3 236.4 317 244.6 316.7 252.8 316.4 261 316.1 269.3 315.8 277.5 315.4 285.7 315.1 293.9 314.7 302.2 314.3 310.4 313.9 318.6 313.5 326.8 313 335.1 312.6 343.3 312.1 351.5 311.6 359.7 311.1 368 310.5 376.2 310 384.4 309.4 392.6 308.7 400.9 308.1 409.1 307.4 417.3 306.7 425.5 306 433.8 305.2 442 304.4 450.2 303.6 458.4 302.7 466.6 301.8 474.9 300.8 483.1 299.8 491.3 298.8 499.5 297.7 507.8 296.6 516 295.4 524.2 294.2 532.4 292.9 540.7 291.6 548.9 290.2 557.1 289.8 565.3 289.8 573.6 289.8 581.8 289.8 590 289.8 598.2 289.8 606.5 289.8 614.7 289.8 622.9 289.8" fill="none" stroke="#2297E6" stroke-width="1.6"/>
<path d="M137.7 313 145.9 313 154.1 312.9 162.4 312.8 170.6 312.7 178.8 312.6 187 312.5 195.3 312.3 203.5 312.2 211.7 312.1 219.9 311.9 228.2 311.8 236.4 311.6 244.6 311.4 252.8 311.3 261 311.1 269.3 310.9 277.5 310.7 285.7 310.4 293.9 310.2 302.2 309.9 310.4 309.7 318.6 309.4 326.8 309.1 335.1 308.7 343.3 308.4 351.5 308 359.7 307.7 368 307.2 376.2 306.8 384.4 306.4 392.6 305.9 400.9 305.3 409.1 304.8 417.3 304.2 425.5 303.6 433.8 302.9 442 302.3 450.2 301.5 458.4 300.7 466.6 299.9 474.9 299 483.1 298.1 491.3 297.1 499.5 296.1 507.8 295 516 293.8 524.2 292.6 532.4 291.2 540.7 289.8 548.9 289.8 557.1 289.8 565.3 289.8 573.6 289.8 581.8 289.8 590 289.8 598.2 289.8 606.5 289.8 614.7 289.8 622.9 289.8" fill="none" stroke="#28E2E5" stroke-width="1.6"/>
<path d="M138 138.6 144.4 138.6 152.9 138.5 163 138.4 174.2 138.3 186 138.3 198 138.2 209.4 138.2 220 138.2 229.9 138.2 239.8 138.1 249.7 138.1 259.5 138 269.1 138 278.5 138.2 287.7 138.5 296.6 139 305.2 139.6 313.4 140.3 321.3 141 329.1 141.9 336.8 143 344.4 144.4 352.2 146 360 148 368.1 150.4 376.4 153.2 384.8 156.3 393.2 159.6 401.4 163.1 409.3 166.6 416.8 170.2 423.7 173.7 430.1 177.2 436 180.6 441.5 184.2 446.7 187.8 451.7 191.4 456.5 195.2 461.3 199 466 203 470.7 207.2 475.4 211.6 479.9 216.2 484.3 220.8 488.5 225.4 492.5 229.9 496.4 234.1 500 238 503.3 241.6 506.4 244.9 509.2 248 511.9 250.9 514.4 253.8 516.9 256.5 519.4 259.3 522 262 524.7 264.8 527.4 267.6 530.1 270.3 532.8 273 535.4 275.6 537.8 278 540 280.1 542 282 543.2 283.6 543.5 285 543.4 286.2 543.2 287.1 543.5 288 544.6 288.7 546.9 289.3 551 289.8 557.5 290.2 566.3 290.3 576.5 290.4 587.6 290.3 598.5 290.1 608.6 290 617 289.9 623 289.8" fill="none" stroke="#CD0BBC" stroke-width="1.6"/>
<path d="M138 301 150.9 300.7 168.6 300.2 189.7 299.6 212.9 299 236.9 298.4 260.3 297.9 281.8 297.5 300 297.2 315.6 297.1 330 297 343.3 297 355.6 297.1 367.1 297.3 377.7 297.6 387.7 297.9 397 298.4 405.3 299 412.4 299.6 418.5 300.4 424 301.2 429.1 302.2 434.1 303.2 439.3 304.4 445 305.7 451.2 307.2 457.8 309 464.4 310.9 471 312.9 477.4 314.9 483.5 316.8 489.1 318.6 494 320.2 498.2 321.6 501.8 323 504.8 324.3 507.6 325.4 510.1 326.5 512.6 327.4 515.2 328.1 518 328.7 521.1 329 524.3 329.1 527.5 329.1 530.8 328.9 533.9 328.6 536.8 328.2 539.6 327.8 542 327.5 544 327.2 545.6 327 546.9 326.7 548 326.4 549.1 326 550.4 325.5 552 324.7 554 323.8 556.4 322.6 559.2 321.3 562.2 319.8 565.4 318.2 568.6 316.5 571.9 314.6 575 312.6 578 310.5 580.8 308.1 583.6 305.4 586.4 302.4 589.1 299.3 591.8 296.4 594.5 293.7 597.2 291.4 600 289.8 603 288.8 606.2 288.3 609.6 288.3 612.9 288.5 616 288.9 618.8 289.3 621.2 289.7 623 289.8" fill="none" stroke="#000000" stroke-width="1.6"/>
<path d="M137.7 278.2 145.9 278.2 154.1 278.3 162.4 278.4 170.6 278.4 178.8 278.5 187 278.6 195.3 278.7 203.5 278.8 211.7 278.9 219.9 279 228.2 279.1 236.4 279.2 244.6 279.4 252.8 279.6 261 279.7 269.3 279.9 277.5 280.1 285.7 280.3 293.9 280.6 302.2 280.8 310.4 281.1 318.6 281.4 326.8 281.8 335.1 282.2 343.3 282.6 351.5 283 359.7 283.5 368 284 376.2 284.5 384.4 285.1 392.6 285.8 400.9 286.5 409.1 287.3 417.3 288.1 425.5 289.1 433.8 289.8 442 289.8 450.2 289.8 458.4 289.8 466.6 289.8 474.9 289.8 483.1 289.8 491.3 289.8 499.5 289.8 507.8 289.8 516 289.8 524.2 289.8 532.4 289.8 540.7 289.8 548.9 289.8 557.1 289.8 565.3 289.8 573.6 289.8 581.8 289.8 590 289.8 598.2 289.8 606.5 289.8 614.7 289.8 622.9 289.8" fill="none" stroke="#DF536B" stroke-width="1.6"/>
<path d="M137.7 376.1 145.9 375.7 154.1 375.3 162.4 374.8 170.6 374.4 178.8 373.9 187 373.4 195.3 372.9 203.5 372.3 211.7 371.7 219.9 371.2 228.2 370.5 236.4 369.9 244.6 369.2 252.8 368.5 261 367.8 269.3 367 277.5 366.2 285.7 365.4 293.9 364.5 302.2 363.6 310.4 362.7 318.6 361.7 326.8 360.7 335.1 359.6 343.3 358.5 351.5 357.4 359.7 356.1 368 354.9 376.2 353.6 384.4 352.2 392.6 350.8 400.9 349.3 409.1 347.8 417.3 346.1 425.5 344.5 433.8 342.7 442 340.9 450.2 339 458.4 337 466.6 334.9 474.9 332.8 483.1 330.5 491.3 328.2 499.5 325.7 507.8 323.2 516 320.5 524.2 317.7 532.4 314.8 540.7 311.8 548.9 308.7 557.1 305.4 565.3 302 573.6 298.4 581.8 294.7 590 290.9 598.2 289.8 606.5 289.8 614.7 289.8 622.9 289.8" fill="none" stroke="#61D04F" stroke-width="1.6"/>
<path d="M137.7 356.2 145.9 356 154.1 355.9 162.4 355.7 170.6 355.5 178.8 355.3 187 355 195.3 354.8 203.5 354.5 211.7 354.2 219.9 353.9 228.2 353.6 236.4 353.3 244.6 352.9 252.8 352.5 261 352.1 269.3 351.6 277.5 351.1 285.7 350.6 293.9 350.1 302.2 349.5 310.4 348.8 318.6 348.2 326.8 347.4 335.1 346.6 343.3 345.8 351.5 344.9 359.7 344 368 342.9 376.2 341.8 384.4 340.7 392.6 339.4 400.9 338.1 409.1 336.6 417.3 335.1 425.5 333.5 433.8 331.7 442 329.8 450.2 327.8 458.4 325.6 466.6 323.3 474.9 320.8 483.1 318.2 491.3 315.4 499.5 312.3 507.8 309.1 516 305.6 524.2 301.9 532.4 297.9 540.7 293.6 548.9 289.8 557.1 289.8 565.3 289.8 573.6 289.8 581.8 289.8 590 289.8 598.2 289.8 606.5 289.8 614.7 289.8 622.9 289.8" fill="none" stroke="#2297E6" stroke-width="1.6"/>
</g>
<rect x="123" y="111" width="521" height="489" fill="none" stroke="#000" stroke-width="1.8"/>
<line x1="183.4" y1="600" x2="183.4" y2="610" stroke="#000" stroke-width="1.8"/>
<line x1="183.4" y1="111" x2="183.4" y2="105.5" stroke="#000" stroke-width="1.8"/>
<text x="184.4" y="630.6" font-size="32.5" text-anchor="middle" textLength="31" lengthAdjust="spacingAndGlyphs">−7</text>
<text x="185.9" y="102.6" font-size="32.3" text-anchor="middle" textLength="27" lengthAdjust="spacingAndGlyphs">51</text>
<line x1="271.3" y1="600" x2="271.3" y2="610" stroke="#000" stroke-width="1.8"/>
<line x1="271.3" y1="111" x2="271.3" y2="105.5" stroke="#000" stroke-width="1.8"/>
<text x="272.3" y="630.6" font-size="32.5" text-anchor="middle" textLength="31" lengthAdjust="spacingAndGlyphs">−6</text>
<text x="273.8" y="102.6" font-size="32.3" text-anchor="middle" textLength="27" lengthAdjust="spacingAndGlyphs">49</text>
<line x1="359.2" y1="600" x2="359.2" y2="610" stroke="#000" stroke-width="1.8"/>
<line x1="359.2" y1="111" x2="359.2" y2="105.5" stroke="#000" stroke-width="1.8"/>
<text x="360.2" y="630.6" font-size="32.5" text-anchor="middle" textLength="31" lengthAdjust="spacingAndGlyphs">−5</text>
<text x="361.7" y="102.6" font-size="32.3" text-anchor="middle" textLength="27" lengthAdjust="spacingAndGlyphs">42</text>
<line x1="447.1" y1="600" x2="447.1" y2="610" stroke="#000" stroke-width="1.8"/>
<line x1="447.1" y1="111" x2="447.1" y2="105.5" stroke="#000" stroke-width="1.8"/>
<text x="448.1" y="630.6" font-size="32.5" text-anchor="middle" textLength="31" lengthAdjust="spacingAndGlyphs">−4</text>
<text x="449.6" y="102.6" font-size="32.3" text-anchor="middle" textLength="27" lengthAdjust="spacingAndGlyphs">23</text>
<line x1="535" y1="600" x2="535" y2="610" stroke="#000" stroke-width="1.8"/>
<line x1="535" y1="111" x2="535" y2="105.5" stroke="#000" stroke-width="1.8"/>
<text x="536" y="630.6" font-size="32.5" text-anchor="middle" textLength="31" lengthAdjust="spacingAndGlyphs">−3</text>
<text x="537.5" y="102.6" font-size="32.3" text-anchor="middle" textLength="27" lengthAdjust="spacingAndGlyphs">15</text>
<line x1="622.9" y1="600" x2="622.9" y2="610" stroke="#000" stroke-width="1.8"/>
<line x1="622.9" y1="111" x2="622.9" y2="105.5" stroke="#000" stroke-width="1.8"/>
<text x="623.9" y="630.6" font-size="32.5" text-anchor="middle" textLength="31" lengthAdjust="spacingAndGlyphs">−2</text>
<text x="625.4" y="102.6" font-size="32.3" text-anchor="middle" textLength="13" lengthAdjust="spacingAndGlyphs">1</text>
<line x1="123" y1="157" x2="113" y2="157" stroke="#000" stroke-width="1.8"/>
<text x="112.3" y="151" font-size="33.3" text-anchor="middle" textLength="38.7" lengthAdjust="spacingAndGlyphs" transform="rotate(-90 112.3 151)">0.4</text>
<line x1="123" y1="223.4" x2="113" y2="223.4" stroke="#000" stroke-width="1.8"/>
<text x="112.3" y="217.4" font-size="33.3" text-anchor="middle" textLength="38.7" lengthAdjust="spacingAndGlyphs" transform="rotate(-90 112.3 217.4)">0.2</text>
<line x1="123" y1="289.8" x2="113" y2="289.8" stroke="#000" stroke-width="1.8"/>
<text x="112.3" y="283.8" font-size="33.3" text-anchor="middle" textLength="38.7" lengthAdjust="spacingAndGlyphs" transform="rotate(-90 112.3 283.8)">0.0</text>
<line x1="123" y1="356.2" x2="113" y2="356.2" stroke="#000" stroke-width="1.8"/>
<text x="112.3" y="350.2" font-size="33.3" text-anchor="middle" textLength="56" lengthAdjust="spacingAndGlyphs" transform="rotate(-90 112.3 350.2)">−0.2</text>
<line x1="123" y1="422.6" x2="113" y2="422.6" stroke="#000" stroke-width="1.8"/>
<text x="112.3" y="416.6" font-size="33.3" text-anchor="middle" textLength="56" lengthAdjust="spacingAndGlyphs" transform="rotate(-90 112.3 416.6)">−0.4</text>
<line x1="123" y1="489" x2="113" y2="489" stroke="#000" stroke-width="1.8"/>
<text x="112.3" y="483" font-size="33.3" text-anchor="middle" textLength="56" lengthAdjust="spacingAndGlyphs" transform="rotate(-90 112.3 483)">−0.6</text>
<line x1="123" y1="555.4" x2="113" y2="555.4" stroke="#000" stroke-width="1.8"/>
<text x="112.3" y="549.4" font-size="33.3" text-anchor="middle" textLength="56" lengthAdjust="spacingAndGlyphs" transform="rotate(-90 112.3 549.4)">−0.8</text>
<text x="78.6" y="342" font-size="37" text-anchor="middle" textLength="192" lengthAdjust="spacingAndGlyphs" transform="rotate(-90 78.6 342)">Coefficients</text>
<text x="421.4" y="654" font-size="35.5" text-anchor="middle" textLength="172.6" lengthAdjust="spacingAndGlyphs">Log Lambda</text>
<text x="129.5" y="130.7" font-size="20.5" font-family="'Liberation Sans', Arial, sans-serif" fill="#111">1</text>
<text x="122.3" y="149.6" font-size="20.5" font-family="'Liberation Sans', Arial, sans-serif" fill="#111">48</text>
<text x="146.5" y="205.3" font-size="20.5" font-family="'Liberation Sans', Arial, sans-serif" fill="#111">26</text>
<text x="125.4" y="219.1" font-size="20.5" font-family="'Liberation Sans', Arial, sans-serif" fill="#111">23</text>
<text x="164.6" y="220.3" font-size="20.5" font-family="'Liberation Sans', Arial, sans-serif" fill="#111">41</text>
<text x="192.5" y="210.2" font-size="20.5" font-family="'Liberation Sans', Arial, sans-serif" fill="#111">45</text>
<text x="123.5" y="238.5" font-size="20.5" font-family="'Liberation Sans', Arial, sans-serif" fill="#111">14</text>
<text x="161" y="234.9" font-size="20.5" font-family="'Liberation Sans', Arial, sans-serif" fill="#111">5</text>
<text x="196.1" y="233.7" font-size="20.5" font-family="'Liberation Sans', Arial, sans-serif" fill="#111">35</text>
<text x="179.2" y="249.4" font-size="20.5" font-family="'Liberation Sans', Arial, sans-serif" fill="#111">20</text>
<text x="125.9" y="255.4" font-size="20.5" font-family="'Liberation Sans', Arial, sans-serif" fill="#111">3</text>
<text x="220.3" y="256.7" font-size="20.5" font-family="'Liberation Sans', Arial, sans-serif" fill="#111">29</text>
<text x="196.1" y="263.9" font-size="20.5" font-family="'Liberation Sans', Arial, sans-serif" fill="#111">16</text>
<text x="277.2" y="261.5" font-size="20.5" font-family="'Liberation Sans', Arial, sans-serif" fill="#111">38</text>
<text x="169.5" y="268.8" font-size="20.5" font-family="'Liberation Sans', Arial, sans-serif" fill="#111">33</text>
<text x="242.1" y="268.8" font-size="20.5" font-family="'Liberation Sans', Arial, sans-serif" fill="#111">17</text>
<text x="125.9" y="276" font-size="20.5" font-family="'Liberation Sans', Arial, sans-serif" fill="#111">7</text>
<text x="220.3" y="279.7" font-size="20.5" font-family="'Liberation Sans', Arial, sans-serif" fill="#111">27</text>
<text x="335.4" y="273.6" font-size="20.5" font-family="'Liberation Sans', Arial, sans-serif" fill="#111">21</text>
<text x="365.6" y="280.9" font-size="20.5" font-family="'Liberation Sans', Arial, sans-serif" fill="#111">13</text>
<text x="173.1" y="286.9" font-size="20.5" font-family="'Liberation Sans', Arial, sans-serif" fill="#111">18</text>
<text x="197.3" y="283.3" font-size="20.5" font-family="'Liberation Sans', Arial, sans-serif" fill="#111">37</text>
<text x="254.2" y="285.7" font-size="20.5" font-family="'Liberation Sans', Arial, sans-serif" fill="#111">50</text>
<text x="284.5" y="286.9" font-size="20.5" font-family="'Liberation Sans', Arial, sans-serif" fill="#111">22</text>
<text x="125.4" y="294.2" font-size="20.5" font-family="'Liberation Sans', Arial, sans-serif" fill="#111">31</text>
<text x="213.1" y="296.6" font-size="20.5" font-family="'Liberation Sans', Arial, sans-serif" fill="#111">39</text>
<text x="303.9" y="301.5" font-size="20.5" font-family="'Liberation Sans', Arial, sans-serif" fill="#111">44</text>
<text x="128.3" y="312.3" font-size="20.5" font-family="'Liberation Sans', Arial, sans-serif" fill="#111">9</text>
<text x="202.2" y="319.6" font-size="20.5" font-family="'Liberation Sans', Arial, sans-serif" fill="#111">49</text>
<text x="222.8" y="331.7" font-size="20.5" font-family="'Liberation Sans', Arial, sans-serif" fill="#111">9</text>
<text x="256.7" y="323.2" font-size="20.5" font-family="'Liberation Sans', Arial, sans-serif" fill="#111">11</text>
<text x="273.6" y="317.2" font-size="20.5" font-family="'Liberation Sans', Arial, sans-serif" fill="#111">47</text>
<text x="317.2" y="322" font-size="20.5" font-family="'Liberation Sans', Arial, sans-serif" fill="#111">2</text>
<text x="335.4" y="324.5" font-size="20.5" font-family="'Liberation Sans', Arial, sans-serif" fill="#111">12</text>
<text x="151.3" y="331.7" font-size="20.5" font-family="'Liberation Sans', Arial, sans-serif" fill="#111">43</text>
<text x="175.5" y="326.9" font-size="20.5" font-family="'Liberation Sans', Arial, sans-serif" fill="#111">46</text>
<text x="152.5" y="346.7" font-size="20.5" font-family="'Liberation Sans', Arial, sans-serif" fill="#111">42</text>
<text x="197.3" y="350.4" font-size="20.5" font-family="'Liberation Sans', Arial, sans-serif" fill="#111">6</text>
<text x="261.5" y="343.8" font-size="20.5" font-family="'Liberation Sans', Arial, sans-serif" fill="#111">32</text>
<text x="129.5" y="359.6" font-size="20.5" font-family="'Liberation Sans', Arial, sans-serif" fill="#111">4</text>
<text x="152.5" y="365.6" font-size="20.5" font-family="'Liberation Sans', Arial, sans-serif" fill="#111">10</text>
<text x="226.4" y="363.2" font-size="20.5" font-family="'Liberation Sans', Arial, sans-serif" fill="#111">52</text>
<text x="259.1" y="368" font-size="20.5" font-family="'Liberation Sans', Arial, sans-serif" fill="#111">15</text>
<text x="125.4" y="377.7" font-size="20.5" font-family="'Liberation Sans', Arial, sans-serif" fill="#111">34</text>
<text x="162.2" y="382.6" font-size="20.5" font-family="'Liberation Sans', Arial, sans-serif" fill="#111">51</text>
<text x="125.4" y="392.3" font-size="20.5" font-family="'Liberation Sans', Arial, sans-serif" fill="#111">40</text>
<text x="169.5" y="399.6" font-size="20.5" font-family="'Liberation Sans', Arial, sans-serif" fill="#111">36</text>
<text x="125" y="413.1" font-size="20.5" font-family="'Liberation Sans', Arial, sans-serif" fill="#111">24</text>
<text x="125" y="427.1" font-size="20.5" font-family="'Liberation Sans', Arial, sans-serif" fill="#111">28</text>
<text x="125" y="583.9" font-size="20.5" font-family="'Liberation Sans', Arial, sans-serif" fill="#111">30</text>
<text x="415" y="280.3" font-size="20.5" font-family="'Liberation Sans', Arial, sans-serif" fill="#111">8</text>
<text x="425.9" y="299.6" font-size="20.5" font-family="'Liberation Sans', Arial, sans-serif" fill="#111">25</text>
<text x="700" y="55" font-size="44" fill="#231815">B</text>
<path d="M843.6 129.7V349.7M838.6 129.7h10M838.6 349.7h10M851.7 132.1V351.1M846.7 132.1h10M846.7 351.1h10M859.8 135.6V353.4M854.8 135.6h10M854.8 353.4h10M867.9 138.8V355.5M862.9 138.8h10M862.9 355.5h10M876 142.8V358.4M871 142.8h10M871 358.4h10M884 147.4V361.9M879 147.4h10M879 361.9h10M892.1 151.2V364.6M887.1 151.2h10M887.1 364.6h10M900.2 155.8V368.1M895.2 155.8h10M895.2 368.1h10M908.3 160.7V371.9M903.3 160.7h10M903.3 371.9h10M916.4 166.1V376.2M911.4 166.1h10M911.4 376.2h10M924.5 171.8V380.8M919.5 171.8h10M919.5 380.8h10M932.6 178.3V385.3M927.6 178.3h10M927.6 385.3h10M940.7 185.1V390.3M935.7 185.1h10M935.7 390.3h10M948.7 192.4V395.6M943.7 192.4h10M943.7 395.6h10M956.8 199.5V400.9M951.8 199.5h10M951.8 400.9h10M964.9 207.3V406.7M959.9 207.3h10M959.9 406.7h10M973 216V413.6M968 216h10M968 413.6h10M981.1 224.2V419.8M976.1 224.2h10M976.1 419.8h10M989.2 232.4V426.2M984.2 232.4h10M984.2 426.2h10M997.3 241.1V432.9M992.3 241.1h10M992.3 432.9h10M1005.4 249.8V439.8M1000.4 249.8h10M1000.4 439.8h10M1013.5 258.9V446.9M1008.5 258.9h10M1008.5 446.9h10M1021.5 268.3V454.5M1016.5 268.3h10M1016.5 454.5h10M1029.6 277.7V462.1M1024.6 277.7h10M1024.6 462.1h10M1037.7 287.7V470.3M1032.7 287.7h10M1032.7 470.3h10M1045.8 297.6V478.4M1040.8 297.6h10M1040.8 478.4h10M1053.9 308.1V487.3M1048.9 308.1h10M1048.9 487.3h10M1062 318.7V496.1M1057 318.7h10M1057 496.1h10M1070.1 328.3V503.9M1065.1 328.3h10M1065.1 503.9h10M1078.2 337.9V511.7M1073.2 337.9h10M1073.2 511.7h10M1086.2 348V520M1081.2 348h10M1081.2 520h10M1094.3 358.6V528.8M1089.3 358.6h10M1089.3 528.8h10M1102.4 369.9V538.3M1097.4 369.9h10M1097.4 538.3h10M1110.5 381V547.6M1105.5 381h10M1105.5 547.6h10M1118.6 392.4V557M1113.6 392.4h10M1113.6 557h10M1126.7 403V565.8M1121.7 403h10M1121.7 565.8h10M1134.8 411.6V572.6M1129.8 411.6h10M1129.8 572.6h10M1142.9 419.3V578.5M1137.9 419.3h10M1137.9 578.5h10M1150.9 424.3V581.7M1145.9 424.3h10M1145.9 581.7h10M1159 426.8V583.2M1154 426.8h10M1154 583.2h10M1167.1 426.9V582.5M1162.1 426.9h10M1162.1 582.5h10M1175.2 426.5V581.1M1170.2 426.5h10M1170.2 581.1h10M1183.3 425.6V579.4M1178.3 425.6h10M1178.3 579.4h10M1191.4 424.4V577.2M1186.4 424.4h10M1186.4 577.2h10M1199.5 422.7V574.7M1194.5 422.7h10M1194.5 574.7h10M1207.6 420.2V571.4M1202.6 420.2h10M1202.6 571.4h10M1215.7 417V567.2M1210.7 417h10M1210.7 567.2h10M1223.7 413.6V563M1218.7 413.6h10M1218.7 563h10M1231.8 410.7V559.1M1226.8 410.7h10M1226.8 559.1h10M1239.9 408.6V556.1M1234.9 408.6h10M1234.9 556.1h10M1248 407.4V554M1243 407.4h10M1243 554h10M1256.1 405.5V552.5M1251.1 405.5h10M1251.1 552.5h10M1264.2 404.3V551.7M1259.2 404.3h10M1259.2 551.7h10M1272.3 402.7V550.5M1267.3 402.7h10M1267.3 550.5h10M1280.4 399.9V548.1M1275.4 399.9h10M1275.4 548.1h10M1288.4 395.4V543.8M1283.4 395.4h10M1283.4 543.8h10M1296.5 391.8V540.6M1291.5 391.8h10M1291.5 540.6h10M1304.6 388.4V537.6M1299.6 388.4h10M1299.6 537.6h10M1312.7 387.1V536.7M1307.7 387.1h10M1307.7 536.7h10M1320.8 385.6V535.6M1315.8 385.6h10M1315.8 535.6h10" fill="none" stroke="#b3b3b3" stroke-width="1.6"/>
<circle cx="843.6" cy="239.7" r="3.3" fill="#f00"/>
<circle cx="851.7" cy="241.6" r="3.3" fill="#f00"/>
<circle cx="859.8" cy="244.5" r="3.3" fill="#f00"/>
<circle cx="867.9" cy="247.2" r="3.3" fill="#f00"/>
<circle cx="876" cy="250.6" r="3.3" fill="#f00"/>
<circle cx="884" cy="254.7" r="3.3" fill="#f00"/>
<circle cx="892.1" cy="257.9" r="3.3" fill="#f00"/>
<circle cx="900.2" cy="262" r="3.3" fill="#f00"/>
<circle cx="908.3" cy="266.3" r="3.3" fill="#f00"/>
<circle cx="916.4" cy="271.2" r="3.3" fill="#f00"/>
<circle cx="924.5" cy="276.3" r="3.3" fill="#f00"/>
<circle cx="932.6" cy="281.8" r="3.3" fill="#f00"/>
<circle cx="940.7" cy="287.7" r="3.3" fill="#f00"/>
<circle cx="948.7" cy="294" r="3.3" fill="#f00"/>
<circle cx="956.8" cy="300.2" r="3.3" fill="#f00"/>
<circle cx="964.9" cy="307" r="3.3" fill="#f00"/>
<circle cx="973" cy="314.8" r="3.3" fill="#f00"/>
<circle cx="981.1" cy="322" r="3.3" fill="#f00"/>
<circle cx="989.2" cy="329.3" r="3.3" fill="#f00"/>
<circle cx="997.3" cy="337" r="3.3" fill="#f00"/>
<circle cx="1005.4" cy="344.8" r="3.3" fill="#f00"/>
<circle cx="1013.5" cy="352.9" r="3.3" fill="#f00"/>
<circle cx="1021.5" cy="361.4" r="3.3" fill="#f00"/>
<circle cx="1029.6" cy="369.9" r="3.3" fill="#f00"/>
<circle cx="1037.7" cy="379" r="3.3" fill="#f00"/>
<circle cx="1045.8" cy="388" r="3.3" fill="#f00"/>
<circle cx="1053.9" cy="397.7" r="3.3" fill="#f00"/>
<circle cx="1062" cy="407.4" r="3.3" fill="#f00"/>
<circle cx="1070.1" cy="416.1" r="3.3" fill="#f00"/>
<circle cx="1078.2" cy="424.8" r="3.3" fill="#f00"/>
<circle cx="1086.2" cy="434" r="3.3" fill="#f00"/>
<circle cx="1094.3" cy="443.7" r="3.3" fill="#f00"/>
<circle cx="1102.4" cy="454.1" r="3.3" fill="#f00"/>
<circle cx="1110.5" cy="464.3" r="3.3" fill="#f00"/>
<circle cx="1118.6" cy="474.7" r="3.3" fill="#f00"/>
<circle cx="1126.7" cy="484.4" r="3.3" fill="#f00"/>
<circle cx="1134.8" cy="492.1" r="3.3" fill="#f00"/>
<circle cx="1142.9" cy="498.9" r="3.3" fill="#f00"/>
<circle cx="1150.9" cy="503" r="3.3" fill="#f00"/>
<circle cx="1159" cy="505" r="3.3" fill="#f00"/>
<circle cx="1167.1" cy="504.7" r="3.3" fill="#f00"/>
<circle cx="1175.2" cy="503.8" r="3.3" fill="#f00"/>
<circle cx="1183.3" cy="502.5" r="3.3" fill="#f00"/>
<circle cx="1191.4" cy="500.8" r="3.3" fill="#f00"/>
<circle cx="1199.5" cy="498.7" r="3.3" fill="#f00"/>
<circle cx="1207.6" cy="495.8" r="3.3" fill="#f00"/>
<circle cx="1215.7" cy="492.1" r="3.3" fill="#f00"/>
<circle cx="1223.7" cy="488.3" r="3.3" fill="#f00"/>
<circle cx="1231.8" cy="484.9" r="3.3" fill="#f00"/>
<circle cx="1239.9" cy="482.4" r="3.3" fill="#f00"/>
<circle cx="1248" cy="480.7" r="3.3" fill="#f00"/>
<circle cx="1256.1" cy="479" r="3.3" fill="#f00"/>
<circle cx="1264.2" cy="478" r="3.3" fill="#f00"/>
<circle cx="1272.3" cy="476.6" r="3.3" fill="#f00"/>
<circle cx="1280.4" cy="474" r="3.3" fill="#f00"/>
<circle cx="1288.4" cy="469.6" r="3.3" fill="#f00"/>
<circle cx="1296.5" cy="466.2" r="3.3" fill="#f00"/>
<circle cx="1304.6" cy="463" r="3.3" fill="#f00"/>
<circle cx="1312.7" cy="461.9" r="3.3" fill="#f00"/>
<circle cx="1320.8" cy="460.6" r="3.3" fill="#f00"/>
<line x1="1159" y1="119" x2="1159" y2="600.4" stroke="#000" stroke-width="1.6" stroke-dasharray="9 4 2 4"/>
<line x1="1320.8" y1="119" x2="1320.8" y2="600.4" stroke="#000" stroke-width="1.6" stroke-dasharray="9 4 2 4"/>
<rect x="824.7" y="111" width="515.5" height="489.4" fill="none" stroke="#000" stroke-width="1.8"/>
<line x1="883.2" y1="600.4" x2="883.2" y2="610.4" stroke="#000" stroke-width="1.8"/>
<text x="884.2" y="630.6" font-size="32.5" text-anchor="middle" textLength="31" lengthAdjust="spacingAndGlyphs">−7</text>
<line x1="970.6" y1="600.4" x2="970.6" y2="610.4" stroke="#000" stroke-width="1.8"/>
<text x="971.6" y="630.6" font-size="32.5" text-anchor="middle" textLength="31" lengthAdjust="spacingAndGlyphs">−6</text>
<line x1="1058.1" y1="600.4" x2="1058.1" y2="610.4" stroke="#000" stroke-width="1.8"/>
<text x="1059.1" y="630.6" font-size="32.5" text-anchor="middle" textLength="31" lengthAdjust="spacingAndGlyphs">−5</text>
<line x1="1145.5" y1="600.4" x2="1145.5" y2="610.4" stroke="#000" stroke-width="1.8"/>
<text x="1146.5" y="630.6" font-size="32.5" text-anchor="middle" textLength="31" lengthAdjust="spacingAndGlyphs">−4</text>
<line x1="1233" y1="600.4" x2="1233" y2="610.4" stroke="#000" stroke-width="1.8"/>
<text x="1234" y="630.6" font-size="32.5" text-anchor="middle" textLength="31" lengthAdjust="spacingAndGlyphs">−3</text>
<line x1="1320.4" y1="600.4" x2="1320.4" y2="610.4" stroke="#000" stroke-width="1.8"/>
<text x="1321.4" y="630.6" font-size="32.5" text-anchor="middle" textLength="31" lengthAdjust="spacingAndGlyphs">−2</text>
<text x="850.4" y="102.6" font-size="31" text-anchor="middle" textLength="24.5" lengthAdjust="spacingAndGlyphs">51</text>
<text x="882.2" y="102.6" font-size="31" text-anchor="middle" textLength="24.5" lengthAdjust="spacingAndGlyphs">51</text>
<text x="914" y="102.6" font-size="31" text-anchor="middle" textLength="24.5" lengthAdjust="spacingAndGlyphs">51</text>
<text x="946.6" y="102.6" font-size="31" text-anchor="middle" textLength="24.5" lengthAdjust="spacingAndGlyphs">50</text>
<text x="979.7" y="102.6" font-size="31" text-anchor="middle" textLength="24.5" lengthAdjust="spacingAndGlyphs">48</text>
<text x="1011.4" y="102.6" font-size="31" text-anchor="middle" textLength="24.5" lengthAdjust="spacingAndGlyphs">46</text>
<text x="1042.4" y="102.6" font-size="31" text-anchor="middle" textLength="24.5" lengthAdjust="spacingAndGlyphs">44</text>
<text x="1075" y="102.6" font-size="31" text-anchor="middle" textLength="24.5" lengthAdjust="spacingAndGlyphs">40</text>
<text x="1108.9" y="102.6" font-size="31" text-anchor="middle" textLength="24.5" lengthAdjust="spacingAndGlyphs">30</text>
<text x="1140.7" y="102.6" font-size="31" text-anchor="middle" textLength="24.5" lengthAdjust="spacingAndGlyphs">25</text>
<text x="1172.5" y="102.6" font-size="31" text-anchor="middle" textLength="24.5" lengthAdjust="spacingAndGlyphs">23</text>
<text x="1205" y="102.6" font-size="31" text-anchor="middle" textLength="24.5" lengthAdjust="spacingAndGlyphs">23</text>
<text x="1239" y="102.6" font-size="31" text-anchor="middle" textLength="24.5" lengthAdjust="spacingAndGlyphs">15</text>
<text x="1265.7" y="102.6" font-size="31" text-anchor="middle" textLength="12" lengthAdjust="spacingAndGlyphs">7</text>
<text x="1291" y="102.6" font-size="31" text-anchor="middle" textLength="12" lengthAdjust="spacingAndGlyphs">4</text>
<text x="1315" y="102.6" font-size="31" text-anchor="middle" textLength="12" lengthAdjust="spacingAndGlyphs">1</text>
<line x1="824.7" y1="537.8" x2="814.7" y2="537.8" stroke="#000" stroke-width="1.8"/>
<text x="811" y="529.3" font-size="32.5" text-anchor="middle" textLength="52.7" lengthAdjust="spacingAndGlyphs" transform="rotate(-90 811 529.3)">11.0</text>
<line x1="824.7" y1="462.3" x2="814.7" y2="462.3" stroke="#000" stroke-width="1.8"/>
<text x="811" y="453.8" font-size="32.5" text-anchor="middle" textLength="52.7" lengthAdjust="spacingAndGlyphs" transform="rotate(-90 811 453.8)">11.2</text>
<line x1="824.7" y1="386.8" x2="814.7" y2="386.8" stroke="#000" stroke-width="1.8"/>
<text x="811" y="378.3" font-size="32.5" text-anchor="middle" textLength="52.7" lengthAdjust="spacingAndGlyphs" transform="rotate(-90 811 378.3)">11.4</text>
<line x1="824.7" y1="311.3" x2="814.7" y2="311.3" stroke="#000" stroke-width="1.8"/>
<text x="811" y="302.8" font-size="32.5" text-anchor="middle" textLength="52.7" lengthAdjust="spacingAndGlyphs" transform="rotate(-90 811 302.8)">11.6</text>
<line x1="824.7" y1="235.8" x2="814.7" y2="235.8" stroke="#000" stroke-width="1.8"/>
<text x="811" y="227.3" font-size="32.5" text-anchor="middle" textLength="52.7" lengthAdjust="spacingAndGlyphs" transform="rotate(-90 811 227.3)">11.8</text>
<line x1="824.7" y1="160.3" x2="814.7" y2="160.3" stroke="#000" stroke-width="1.8"/>
<text x="811" y="151.8" font-size="32.5" text-anchor="middle" textLength="52.7" lengthAdjust="spacingAndGlyphs" transform="rotate(-90 811 151.8)">12.0</text>
<text x="778.6" y="341" font-size="38.5" text-anchor="middle" textLength="419" lengthAdjust="spacingAndGlyphs" transform="rotate(-90 778.6 341)">Partial Likelihood Deviance</text>
<text x="1058" y="655" font-size="34" text-anchor="middle" textLength="80" lengthAdjust="spacingAndGlyphs">Log(λ)</text>
<text x="1456" y="55" font-size="44" fill="#231815">C</text>
<path d="M1569.9 110.9 1573.6 110.9 1573.6 112.3 1574.6 112.3 1574.6 115.1 1576.4 115.1 1576.4 118 1580.5 118 1580.5 120.8 1583.1 120.8 1583.1 123.7 1585.4 123.7 1585.4 126.5 1586.5 126.5 1586.5 129.2 1587.3 129.2 1587.3 131.9 1590.5 131.9 1590.5 134.5 1591.1 134.5 1591.1 137.2 1597.2 137.2 1597.2 139.9 1598.6 139.9 1598.6 142.7 1602 142.7 1602 145.6 1602.5 145.6 1602.5 148.4 1603.5 148.4 1603.5 151.2 1606.2 151.2 1606.2 154.1 1609.4 154.1 1609.4 156.9 1616.6 156.9 1616.6 159.9 1618.4 159.9 1618.4 162.9 1621.1 162.9 1621.1 165.9 1621.6 165.9 1621.6 168.9 1625.1 168.9 1625.1 171.3 1625.2 171.3 1625.2 173.8 1629.5 173.8 1629.5 176.3 1630.1 176.3 1630.1 178.8 1633.8 178.8 1633.8 181.3 1633.8 181.3 1633.8 184.1 1637.4 184.1 1637.4 187 1637.5 187 1637.5 189.8 1645.3 189.8 1645.3 192.7 1645.6 192.7 1645.6 195.5 1652.8 195.5 1652.8 198 1656.5 198 1656.5 200.4 1657.8 200.4 1657.8 202.9 1663.6 202.9 1663.6 205.9 1670 205.9 1670 208.9 1670.4 208.9 1670.4 211.8 1679.5 211.8 1679.5 214.7 1682.2 214.7 1682.2 217.6 1687.6 217.6 1687.6 219.9 1692.4 219.9 1692.4 222.2 1696.6 222.2 1696.6 224.5 1697.7 224.5 1697.7 226.9 1704.7 226.9 1704.7 229.4 1708 229.4 1708 231.8 1708.8 231.8 1708.8 234.2 1710.8 234.2 1710.8 236.7 1718.4 236.7 1718.4 239.2 1797.9 239.2 1798.1 239.2 1798.1 241.3 1798.3 241.3 1798.3 243.4 1846.7 243.4 1846.8 243.4 1846.8 246.4 1847 246.4 1847 249.4 1850.7 249.4 1850.7 254.9 1857 254.9 1857 259 1890.6 259 1890.6 265.5 1932.7 265.5 1932.7 276 1978.2 276 1978.2 280.2 1979.3 280.2 1979.3 299 2052.8 299" fill="none" stroke="#3C7EC4" stroke-width="1.8"/>
<path d="M1569.9 110.9 1570.6 110.9 1571.7 110.9 1571.7 113.3 1574.1 113.3 1574.1 115.7 1574.2 115.7 1574.2 118.1 1575.4 118.1 1575.4 120.6 1580.3 120.6 1580.3 123 1580.5 123 1580.5 125.4 1581.6 125.4 1581.6 127.8 1582.8 127.8 1582.8 130.2 1584.9 130.2 1584.9 133.2 1586.5 133.2 1586.5 136.2 1586.8 136.2 1586.8 139.2 1587.6 139.2 1587.6 142.2 1587.9 142.2 1587.9 145.1 1588.7 145.1 1588.7 148.1 1589.8 148.1 1589.8 151 1589.9 151 1589.9 154 1590.2 154 1590.2 156.9 1590.9 156.9 1590.9 159.7 1591.6 159.7 1591.6 162.6 1592.5 162.6 1592.5 165.4 1593.6 165.4 1593.6 168.2 1594.4 168.2 1594.4 171.1 1595 171.1 1595 173.9 1597 173.9 1597 176.9 1597.8 176.9 1597.8 179.9 1599 179.9 1599 182.9 1602 182.9 1602 185.9 1603 185.9 1603 188.6 1603.1 188.6 1603.1 191.4 1605 191.4 1605 194.2 1605.2 194.2 1605.2 196.9 1605.9 196.9 1605.9 199.7 1605.9 199.7 1605.9 202.4 1607.2 202.4 1607.2 205.2 1607.6 205.2 1607.6 208 1607.7 208 1607.7 210.7 1608.6 210.7 1608.6 213.5 1609.1 213.5 1609.1 216.2 1609.3 216.2 1609.3 219 1609.4 219 1609.4 221.8 1609.4 221.8 1609.4 224.5 1611 224.5 1611 226.9 1611.5 226.9 1611.5 229.4 1611.9 229.4 1611.9 231.8 1612 231.8 1612 234.2 1612.4 234.2 1612.4 236.6 1614.6 236.6 1614.6 239 1617.6 239 1617.6 241.4 1619 241.4 1619 243.8 1619.7 243.8 1619.7 246.7 1620 246.7 1620 249.5 1620.5 249.5 1620.5 252.3 1620.6 252.3 1620.6 255.2 1625.4 255.2 1625.4 258 1626.4 258 1626.4 260.9 1628.6 260.9 1628.6 263.3 1630.1 263.3 1630.1 265.8 1632.7 265.8 1632.7 268.3 1633.6 268.3 1633.6 270.8 1633.8 270.8 1633.8 273.3 1634.8 273.3 1634.8 276.3 1636.4 276.3 1636.4 279.3 1637.2 279.3 1637.2 282.2 1638.6 282.2 1638.6 285.2 1638.9 285.2 1638.9 288.2 1641.9 288.2 1641.9 291.2 1642 291.2 1642 294.2 1643.4 294.2 1643.4 297.2 1646.2 297.2 1646.2 300.1 1647.8 300.1 1647.8 303.1 1648.4 303.1 1648.4 306 1648.4 306 1648.4 309 1650.8 309 1650.8 311.9 1654.5 311.9 1654.5 315.1 1654.7 315.1 1654.7 318.4 1657.8 318.4 1657.8 321.6 1660.3 321.6 1660.3 324 1663.9 324 1663.9 326.5 1670 326.5 1670 328.9 1671.6 328.9 1671.6 331.9 1675.9 331.9 1675.9 334.9 1676.6 334.9 1676.6 337.9 1682.2 337.9 1682.2 340.9 1686.9 340.9 1686.9 343.4 1691.4 343.4 1691.4 345.8 1694.1 345.8 1694.1 348.3 1694.3 348.3 1694.3 351.5 1700.5 351.5 1700.5 354.7 1706.2 354.7 1706.2 357.9 1708.7 357.9 1708.7 360.9 1711 360.9 1711 363.9 1715.3 363.9 1715.3 366.9 1718.4 366.9 1718.4 369.9 1737.7 369.9 1737.7 372.2 1740.5 372.2 1740.5 374.6 1744.4 374.6 1744.4 377.1 1745 377.1 1745 379.5 1748.4 379.5 1748.4 382.8 1748.8 382.8 1748.8 386 1754.7 386 1754.7 389.2 1759.8 389.2 1759.8 391.7 1761.8 391.7 1761.8 394.1 1769.4 394.1 1769.4 396.6 1770.3 396.6 1770.3 399.1 1779 399.1 1779 401.6 1833.7 401.6 1833.7 412.2 1850.7 412.2 1850.7 427.4 1875.8 427.4 1875.8 438 2010.7 438" fill="none" stroke="#E8504C" stroke-width="1.8"/>
<path d="M1595.8 131.2v12M1589.8 137.2h12M1611 150.9v12M1605 156.9h12M1596.5 131.2v12M1590.5 137.2h12M1603.8 145.2v12M1597.8 151.2h12M1612.1 150.9v12M1606.1 156.9h12M1607.8 148.1v12M1601.8 154.1h12M1603.8 145.2v12M1597.8 151.2h12M1606.6 148.1v12M1600.6 154.1h12M1606.9 148.1v12M1600.9 154.1h12M1583.9 117.7v12M1577.9 123.7h12M1593.2 131.2v12M1587.2 137.2h12M1587.5 125.9v12M1581.5 131.9h12M1584.2 117.7v12M1578.2 123.7h12M1596.8 131.2v12M1590.8 137.2h12M1586.5 120.5v12M1580.5 126.5h12M1598.7 136.7v12M1592.7 142.7h12M1597.3 133.9v12M1591.3 139.9h12M1577.8 112v12M1571.8 118h12M1591.6 131.2v12M1585.6 137.2h12M1589.4 125.9v12M1583.4 131.9h12M1602.3 139.6v12M1596.3 145.6h12M1577.2 112v12M1571.2 118h12M1580.5 112v12M1574.5 118h12M1594.4 131.2v12M1588.4 137.2h12M1590 125.9v12M1584 131.9h12M1600.6 136.7v12M1594.6 142.7h12M1587.1 123.2v12M1581.1 129.2h12M1581.6 114.8v12M1575.6 120.8h12M1611.5 150.9v12M1605.5 156.9h12M1583.5 117.7v12M1577.5 123.7h12M1579.6 112v12M1573.6 118h12M1585 117.7v12M1579 123.7h12M1587.4 125.9v12M1581.4 131.9h12M1582.7 114.8v12M1576.7 120.8h12M1595.4 131.2v12M1589.4 137.2h12M1611.7 150.9v12M1605.7 156.9h12M1578.7 112v12M1572.7 118h12M1590.5 125.9v12M1584.5 131.9h12M1638.9 183.8v12M1632.9 189.8h12M1646.9 189.5v12M1640.9 195.5h12M1651.2 189.5v12M1645.2 195.5h12M1619.5 156.9v12M1613.5 162.9h12M1634.1 178.1v12M1628.1 184.1h12M1646.8 189.5v12M1640.8 195.5h12M1616.2 150.9v12M1610.2 156.9h12M1636 178.1v12M1630 184.1h12M1620.7 156.9v12M1614.7 162.9h12M1642.6 183.8v12M1636.6 189.8h12M1648.9 189.5v12M1642.9 195.5h12M1634.1 178.1v12M1628.1 184.1h12M1614.6 150.9v12M1608.6 156.9h12M1616.6 153.9v12M1610.6 159.9h12M1629.6 170.3v12M1623.6 176.3h12M1645.5 186.7v12M1639.5 192.7h12M1623 162.9v12M1617 168.9h12M1639 183.8v12M1633 189.8h12M1629.2 167.8v12M1623.2 173.8h12M1624 162.9v12M1618 168.9h12M1640.2 183.8v12M1634.2 189.8h12M1625.6 167.8v12M1619.6 173.8h12M1628 167.8v12M1622 173.8h12M1642.5 183.8v12M1636.5 189.8h12M1632.5 172.8v12M1626.5 178.8h12M1643.2 183.8v12M1637.2 189.8h12M1633.3 172.8v12M1627.3 178.8h12M1620.2 156.9v12M1614.2 162.9h12M1630.6 172.8v12M1624.6 178.8h12M1646.5 189.5v12M1640.5 195.5h12M1635.1 178.1v12M1629.1 184.1h12M1649.9 189.5v12M1643.9 195.5h12M1654.9 192v12M1648.9 198h12M1660.5 196.9v12M1654.5 202.9h12M1667.7 199.9v12M1661.7 205.9h12M1666.3 199.9v12M1660.3 205.9h12M1664.2 199.9v12M1658.2 205.9h12M1665.9 199.9v12M1659.9 205.9h12M1669.5 199.9v12M1663.5 205.9h12M1666.3 199.9v12M1660.3 205.9h12M1664 199.9v12M1658 205.9h12M1664.2 199.9v12M1658.2 205.9h12M1666 199.9v12M1660 205.9h12M1660.3 196.9v12M1654.3 202.9h12M1666 199.9v12M1660 205.9h12M1665.1 199.9v12M1659.1 205.9h12M1668 199.9v12M1662 205.9h12M1662.9 196.9v12M1656.9 202.9h12M1674.4 205.8v12M1668.4 211.8h12M1693.2 216.2v12M1687.2 222.2h12M1705.1 223.4v12M1699.1 229.4h12M1697 218.5v12M1691 224.5h12M1697.1 218.5v12M1691.1 224.5h12M1687.8 213.9v12M1681.8 219.9h12M1686.5 211.6v12M1680.5 217.6h12M1699.9 220.9v12M1693.9 226.9h12M1676.2 205.8v12M1670.2 211.8h12M1705.4 223.4v12M1699.4 229.4h12M1705.7 223.4v12M1699.7 229.4h12M1708.9 228.2v12M1702.9 234.2h12M1678.4 205.8v12M1672.4 211.8h12M1677.6 205.8v12M1671.6 211.8h12M1706.4 223.4v12M1700.4 229.4h12M1688.2 213.9v12M1682.2 219.9h12M1683.3 211.6v12M1677.3 217.6h12M1687.5 211.6v12M1681.5 217.6h12M1697.7 218.5v12M1691.7 224.5h12M1679.3 205.8v12M1673.3 211.8h12M1691.4 213.9v12M1685.4 219.9h12M1697.7 220.9v12M1691.7 226.9h12M1700 220.9v12M1694 226.9h12M1673.8 205.8v12M1667.8 211.8h12M1703.3 220.9v12M1697.3 226.9h12M1689.4 213.9v12M1683.4 219.9h12M1730.6 233.2v12M1724.6 239.2h12M1736.2 233.2v12M1730.2 239.2h12M1740.6 233.2v12M1734.6 239.2h12M1747.3 233.2v12M1741.3 239.2h12M1751 233.2v12M1745 239.2h12M1754.7 233.2v12M1748.7 239.2h12M1760.2 233.2v12M1754.2 239.2h12M1765.7 233.2v12M1759.7 239.2h12M1770.2 233.2v12M1764.2 239.2h12M1775 233.2v12M1769 239.2h12M1780.5 233.2v12M1774.5 239.2h12M1786.1 233.2v12M1780.1 239.2h12M1799 237.4v12M1793 243.4h12M1802.7 237.4v12M1796.7 243.4h12M1826.7 237.4v12M1820.7 243.4h12M1869.2 253v12M1863.2 259h12M1874.7 253v12M1868.7 259h12M1880.3 253v12M1874.3 259h12M1891.4 259.5v12M1885.4 265.5h12M1895.1 259.5v12M1889.1 265.5h12M1898.8 259.5v12M1892.8 265.5h12M1902.5 259.5v12M1896.5 265.5h12M1906.1 259.5v12M1900.1 265.5h12M1911.7 259.5v12M1905.7 265.5h12M1915.4 259.5v12M1909.4 265.5h12M1920.9 259.5v12M1914.9 265.5h12M1933.9 270v12M1927.9 276h12M1937.6 270v12M1931.6 276h12M1941.2 270v12M1935.2 276h12M1944.9 270v12M1938.9 276h12M1948.6 270v12M1942.6 276h12M1952.3 270v12M1946.3 276h12M1956 270v12M1950 276h12M1959.7 270v12M1953.7 276h12M1963.4 270v12M1957.4 276h12M1967.1 270v12M1961.1 276h12M1970.8 270v12M1964.8 276h12M1983.7 293v12M1977.7 299h12M1987.4 293v12M1981.4 299h12M1991.1 293v12M1985.1 299h12M1994.8 293v12M1988.8 299h12M1998.5 293v12M1992.5 299h12M2002.2 293v12M1996.2 299h12M2005.9 293v12M1999.9 299h12M2017 293v12M2011 299h12M2024.4 293v12M2018.4 299h12" fill="none" stroke="#3C7EC4" stroke-width="2.2"/>
<path d="M1577.8 114.6v12M1571.8 120.6h12M1579.7 114.6v12M1573.7 120.6h12M1575.4 112.1v12M1569.4 118.1h12M1584.8 124.2v12M1578.8 130.2h12M1574.3 112.1v12M1568.3 118.1h12M1579.4 114.6v12M1573.4 120.6h12M1573.6 107.3v12M1567.6 113.3h12M1580.6 119.4v12M1574.6 125.4h12M1585 127.2v12M1579 133.2h12M1584.7 124.2v12M1578.7 130.2h12M1592.1 156.6v12M1586.1 162.6h12M1596.5 167.9v12M1590.5 173.9h12M1603.2 185.4v12M1597.2 191.4h12M1606.9 196.4v12M1600.9 202.4h12M1610.9 218.5v12M1604.9 224.5h12M1614.9 233v12M1608.9 239h12M1617.1 233v12M1611.1 239h12M1611.4 220.9v12M1605.4 226.9h12M1613.2 230.6v12M1607.2 236.6h12M1615.6 233v12M1609.6 239h12M1636.4 270.3v12M1630.4 276.3h12M1633.5 262.3v12M1627.5 268.3h12M1635.4 270.3v12M1629.4 276.3h12M1635.7 270.3v12M1629.7 276.3h12M1632.5 259.8v12M1626.5 265.8h12M1635.5 270.3v12M1629.5 276.3h12M1634.8 267.3v12M1628.8 273.3h12M1651.2 305.9v12M1645.2 311.9h12M1673.7 325.9v12M1667.7 331.9h12M1671.6 325.9v12M1665.6 331.9h12M1669.7 320.5v12M1663.7 326.5h12M1670.8 322.9v12M1664.8 328.9h12M1676.2 328.9v12M1670.2 334.9h12M1668 320.5v12M1662 326.5h12M1689.2 337.4v12M1683.2 343.4h12M1688.2 337.4v12M1682.2 343.4h12M1694.4 345.5v12M1688.4 351.5h12M1695.4 345.5v12M1689.4 351.5h12M1710.3 354.9v12M1704.3 360.9h12M1776.8 393.1v12M1770.8 399.1h12M1780.5 395.6v12M1774.5 401.6h12M1784.2 395.6v12M1778.2 401.6h12M1791.6 395.6v12M1785.6 401.6h12M1797.1 395.6v12M1791.1 401.6h12M1802.7 395.6v12M1796.7 401.6h12M1811.9 395.6v12M1805.9 401.6h12M1817.5 395.6v12M1811.5 401.6h12M1823 395.6v12M1817 401.6h12M1826.7 395.6v12M1820.7 401.6h12M1830.4 395.6v12M1824.4 401.6h12M1891.4 432v12M1885.4 438h12M1896.9 432v12M1890.9 438h12M1906.1 432v12M1900.1 438h12M1911.7 432v12M1905.7 438h12M1915.4 432v12M1909.4 438h12M1919.1 432v12M1913.1 438h12M1922.8 432v12M1916.8 438h12M1932 432v12M1926 438h12M1943.1 432v12M1937.1 438h12M1946.8 432v12M1940.8 438h12M1952.3 432v12M1946.3 438h12M1957.9 432v12M1951.9 438h12M1965.3 432v12M1959.3 438h12M1970.8 432v12M1964.8 438h12M1976.4 432v12M1970.4 438h12M1981.9 432v12M1975.9 438h12M1989.3 432v12M1983.3 438h12M1994.8 432v12M1988.8 438h12M2000.4 432v12M1994.4 438h12M2007.8 432v12M2001.8 438h12" fill="none" stroke="#E8504C" stroke-width="2.2"/>
<line x1="1547.7" y1="87.8" x2="1547.7" y2="594.2" stroke="#000" stroke-width="2"/>
<line x1="1546.9" y1="593.4" x2="2053.6" y2="593.4" stroke="#000" stroke-width="2"/>
<line x1="1547.7" y1="570.9" x2="1542.5" y2="570.9" stroke="#000" stroke-width="2"/>
<text x="1540.2" y="580.5" font-size="30" text-anchor="end" textLength="39" lengthAdjust="spacingAndGlyphs">0.00</text>
<line x1="1547.7" y1="455.9" x2="1542.5" y2="455.9" stroke="#000" stroke-width="2"/>
<text x="1540.2" y="465.5" font-size="30" text-anchor="end" textLength="39" lengthAdjust="spacingAndGlyphs">0.25</text>
<line x1="1547.7" y1="340.9" x2="1542.5" y2="340.9" stroke="#000" stroke-width="2"/>
<text x="1540.2" y="350.5" font-size="30" text-anchor="end" textLength="39" lengthAdjust="spacingAndGlyphs">0.50</text>
<line x1="1547.7" y1="225.9" x2="1542.5" y2="225.9" stroke="#000" stroke-width="2"/>
<text x="1540.2" y="235.5" font-size="30" text-anchor="end" textLength="39" lengthAdjust="spacingAndGlyphs">0.75</text>
<line x1="1547.7" y1="110.9" x2="1542.5" y2="110.9" stroke="#000" stroke-width="2"/>
<text x="1540.2" y="120.5" font-size="30" text-anchor="end" textLength="39" lengthAdjust="spacingAndGlyphs">1.00</text>
<line x1="1569.9" y1="593.4" x2="1569.9" y2="599.5" stroke="#000" stroke-width="2"/>
<text x="1569.9" y="623.5" font-size="31.5" text-anchor="middle" textLength="11" lengthAdjust="spacingAndGlyphs">0</text>
<line x1="1643.8" y1="593.4" x2="1643.8" y2="599.5" stroke="#000" stroke-width="2"/>
<text x="1643.8" y="623.5" font-size="31.5" text-anchor="middle" textLength="11" lengthAdjust="spacingAndGlyphs">2</text>
<line x1="1717.7" y1="593.4" x2="1717.7" y2="599.5" stroke="#000" stroke-width="2"/>
<text x="1717.7" y="623.5" font-size="31.5" text-anchor="middle" textLength="11" lengthAdjust="spacingAndGlyphs">4</text>
<line x1="1791.6" y1="593.4" x2="1791.6" y2="599.5" stroke="#000" stroke-width="2"/>
<text x="1791.6" y="623.5" font-size="31.5" text-anchor="middle" textLength="11" lengthAdjust="spacingAndGlyphs">6</text>
<line x1="1865.5" y1="593.4" x2="1865.5" y2="599.5" stroke="#000" stroke-width="2"/>
<text x="1865.5" y="623.5" font-size="31.5" text-anchor="middle" textLength="11" lengthAdjust="spacingAndGlyphs">8</text>
<line x1="1939.4" y1="593.4" x2="1939.4" y2="599.5" stroke="#000" stroke-width="2"/>
<text x="1939.4" y="623.5" font-size="31.5" text-anchor="middle" textLength="23" lengthAdjust="spacingAndGlyphs">10</text>
<line x1="2013.3" y1="593.4" x2="2013.3" y2="599.5" stroke="#000" stroke-width="2"/>
<text x="2013.3" y="623.5" font-size="31.5" text-anchor="middle" textLength="23" lengthAdjust="spacingAndGlyphs">12</text>
<text x="1783.5" y="652" font-size="35.5" text-anchor="middle" textLength="134" lengthAdjust="spacingAndGlyphs">Time(years)</text>
<text x="1493" y="345.4" font-size="36.5" text-anchor="middle" textLength="358" lengthAdjust="spacingAndGlyphs" transform="rotate(-90 1493 345.4)">Survival probability</text>
<text x="1589" y="538" font-size="31.5" font-style="italic">p</text>
<text x="1613.8" y="538" font-size="31.5" textLength="83.6" lengthAdjust="spacingAndGlyphs">&lt; 0.001</text>
<text x="1697" y="111.2" font-size="31" textLength="44" lengthAdjust="spacingAndGlyphs">Risk</text>
<line x1="1755" y1="99.5" x2="1777" y2="99.5" stroke="#3C7EC4" stroke-width="2.4"/>
<line x1="1766" y1="91" x2="1766" y2="108" stroke="#3C7EC4" stroke-width="2.4"/>
<text x="1775" y="111.2" font-size="31" textLength="87" lengthAdjust="spacingAndGlyphs">Low risk</text>
<line x1="1861" y1="99.5" x2="1884" y2="99.5" stroke="#E8504C" stroke-width="2.4"/>
<line x1="1872.5" y1="91" x2="1872.5" y2="108" stroke="#E8504C" stroke-width="2.4"/>
<text x="1881" y="111.2" font-size="31" textLength="93" lengthAdjust="spacingAndGlyphs">High risk</text>
<text x="34" y="712" font-size="44" fill="#231815">D</text>
<line x1="131.5" y1="1203.8" x2="643.8" y2="702.7" stroke="#000" stroke-width="2" stroke-dasharray="10 8"/>
<path d="M150.4 1184.4 150.4 1165.6 151.6 1165.6 151.6 1161.1 152.8 1161.1 152.8 1157.1 156.3 1157.1 156.3 1147.1 159.9 1147.1 159.9 1144.8 160.8 1144.8 160.8 1144.6 161.8 1144.6 161.8 1144.4 162.7 1144.4 162.7 1127.5 163.7 1127.5 163.7 1095.9 164.6 1095.9 164.6 1089.3 167 1089.3 167 1083.7 169.4 1083.7 169.4 1077.6 171.7 1077.6 171.7 1067.9 174.1 1067.9 174.1 1058.8 177.7 1058.8 177.7 1048.2 181.2 1048.2 181.2 1047 184.8 1047 184.8 1044.6 188.3 1044.6 188.3 1041.8 191.5 1041.8 191.5 1032 194.6 1032 194.6 1021.6 197.8 1021.6 197.8 1018.7 201 1018.7 201 1013.1 204.1 1013.1 204.1 998 207.3 998 207.3 996.5 212 996.5 212 992.7 216.8 992.7 216.8 982.2 221.5 982.2 221.5 977.7 226.3 977.7 226.3 977.7 231 977.7 231 974.7 235.7 974.7 235.7 974.4 240.5 974.4 240.5 960.7 245.2 960.7 245.2 960.7 250 960.7 250 952.6 254.7 952.6 254.7 942.1 259.4 942.1 259.4 941.4 266.1 941.4 266.1 941.1 272.7 941.1 272.7 940.6 279.4 940.6 279.4 940.6 286 940.6 286 937.4 292.6 937.4 292.6 927.5 296 927.5 296 924 299.4 924 299.4 918.6 302.8 918.6 302.8 916.2 306.2 916.2 306.2 908.1 309.6 908.1 309.6 903.9 312.9 903.9 312.9 895.5 316.3 895.5 316.3 895.4 323 895.4 323 895.1 329.6 895.1 329.6 894.4 336.2 894.4 336.2 893.1 342.9 893.1 342.9 890.8 349.5 890.8 349.5 884 354.3 884 354.3 883.4 359 883.4 359 875.1 363.7 875.1 363.7 872.2 368.5 872.2 368.5 869.9 375.6 869.9 375.6 867 382.7 867 382.7 865.3 389.8 865.3 389.8 862.9 396.9 862.9 396.9 855.6 399.8 855.6 399.8 847.7 402.6 847.7 402.6 842 405.5 842 405.5 840.9 408.3 840.9 408.3 830.2 411.2 830.2 411.2 827.2 413.5 827.2 413.5 819.7 415.9 819.7 415.9 812.5 418.3 812.5 418.3 802.3 420.6 802.3 420.6 798.7 425.4 798.7 425.4 795.2 430.1 795.2 430.1 795 434.9 795 434.9 787.4 439.6 787.4 439.6 783.6 444.3 783.6 444.3 780.8 451.5 780.8 451.5 780.3 458.6 780.3 458.6 779.3 465.7 779.3 465.7 779 472.8 779 472.8 779 479.9 779 479.9 779 487 779 487 779 494.1 779 494.1 779 501.2 779 501.2 769.6 506 769.6 506 767.8 510.7 767.8 510.7 766.1 515.5 766.1 515.5 755.7 520.2 755.7 520.2 752.7 524.9 752.7 524.9 746.4 529.7 746.4 529.7 746.4 536.3 746.4 536.3 742.6 543 742.6 543 742.4 549.6 742.4 549.6 740.5 556.2 740.5 556.2 737 562.9 737 562.9 730.9 562.9 730.9 562.9 718.4 562.9 718.4 562.9 718.4 570.6 718.4 570.6 718.4 578.3 718.4 578.3 718.4 586 718.4 586 718.4 593.7 718.4 593.7 718.4 601.4 718.4 601.4 718.4 609.1 718.4 609.1 718.4 616.8 718.4 616.8 718.4 624.5 718.4" fill="none" stroke="#5CBA45" stroke-width="2"/>
<path d="M150.4 1184.4 150.4 1177.5 150.4 1177.5 150.4 1175.3 150.4 1175.3 150.4 1167.6 150.4 1167.6 150.4 1152.3 150.4 1152.3 150.4 1150 150.4 1150 150.4 1119.2 150.4 1119.2 150.4 1111.4 152 1111.4 152 1106.7 153.6 1106.7 153.6 1091.2 155.1 1091.2 155.1 1091.2 164.6 1091.2 164.6 1091.1 167 1091.1 167 1083.9 169.4 1083.9 169.4 1078.5 171.7 1078.5 171.7 1053.9 174.1 1053.9 174.1 1043.3 177.7 1043.3 177.7 1042.7 181.2 1042.7 181.2 1038.4 184.8 1038.4 184.8 1030.6 188.3 1030.6 188.3 1022.8 193.1 1022.8 193.1 1021.3 197.8 1021.3 197.8 1012.1 202.6 1012.1 202.6 1007.3 207.3 1007.3 207.3 995.6 212 995.6 212 993.5 216.8 993.5 216.8 991.2 221.5 991.2 221.5 984 226.3 984 226.3 983.9 231 983.9 231 983.3 235.7 983.3 235.7 981.2 240.5 981.2 240.5 965.4 245.2 965.4 245.2 963.6 249.2 963.6 249.2 957.8 253.1 957.8 253.1 957.4 257.1 957.4 257.1 957.3 261 957.3 261 943 265 943 265 928.1 268.9 928.1 268.9 918.3 272.7 918.3 272.7 917.9 276.5 917.9 276.5 916.4 280.3 916.4 280.3 909.1 284.1 909.1 284.1 900.1 287.9 900.1 287.9 897 295 897 295 896.6 302.1 896.6 302.1 893.6 309.2 893.6 309.2 890.8 316.3 890.8 316.3 885.4 319.9 885.4 319.9 879.1 323.4 879.1 323.4 871.6 327 871.6 327 867.5 330.6 867.5 330.6 866 336.9 866 336.9 865 343.2 865 343.2 862.9 349.5 862.9 349.5 861.9 352.7 861.9 352.7 861.7 355.8 861.7 355.8 839.6 359 839.6 359 839.2 364.7 839.2 364.7 830.7 370.4 830.7 370.4 829.7 376.1 829.7 376.1 829.2 381.8 829.2 381.8 820.9 387.5 820.9 387.5 804.9 390.3 804.9 390.3 803.8 393.1 803.8 393.1 802.6 396 802.6 396 801.4 398.8 801.4 398.8 788.3 401.7 788.3 401.7 783.7 406.4 783.7 406.4 779.1 411.2 779.1 411.2 778 415.9 778 415.9 776.8 420.6 776.8 420.6 769.7 425.4 769.7 425.4 768.8 432.5 768.8 432.5 768.3 439.6 768.3 439.6 767.6 446.7 767.6 446.7 766.2 453.8 766.2 453.8 765.2 460.9 765.2 460.9 765 468 765 468 764.7 472.8 764.7 472.8 764.1 477.5 764.1 477.5 760.4 482.3 760.4 482.3 760.1 487 760.1 487 746.4 491.8 746.4 491.8 746.1 499.7 746.1 499.7 745.6 507.6 745.6 507.6 745.5 515.5 745.5 515.5 745.2 523.4 745.2 523.4 743.2 531.3 743.2 531.3 741.7 539.2 741.7 539.2 731.1 542.3 731.1 542.3 730 545.5 730 545.5 718.4 548.6 718.4 548.6 718.4 556.2 718.4 556.2 718.4 563.8 718.4 563.8 718.4 571.4 718.4 571.4 718.4 579 718.4 579 718.4 586.6 718.4 586.6 718.4 594.2 718.4 594.2 718.4 601.7 718.4 601.7 718.4 609.3 718.4 609.3 718.4 616.9 718.4 616.9 718.4 624.5 718.4" fill="none" stroke="#2450C8" stroke-width="2"/>
<path d="M150.4 1184.4 150.4 1184.4 150.4 1184.4 150.4 1180.7 150.4 1180.7 150.4 1173.7 150.4 1173.7 150.4 1171.4 150.4 1171.4 150.4 1123.8 150.4 1123.8 150.4 1114.1 151.6 1114.1 151.6 1100.5 152.8 1100.5 152.8 1092.2 156.3 1092.2 156.3 1091.2 159.9 1091.2 159.9 1083.3 161.5 1083.3 161.5 1071.3 163 1071.3 163 1058.6 164.6 1058.6 164.6 1058.1 169.4 1058.1 169.4 1053.9 174.1 1053.9 174.1 1047.9 177.3 1047.9 177.3 1046.5 180.4 1046.5 180.4 1035.3 183.6 1035.3 183.6 1028.2 188.3 1028.2 188.3 1021.3 193.1 1021.3 193.1 1019.8 197.8 1019.8 197.8 1010.7 202.6 1010.7 202.6 1007.3 207.3 1007.3 207.3 1001.9 212 1001.9 212 1000.6 216.8 1000.6 216.8 993.3 221.5 993.3 221.5 989.9 226.3 989.9 226.3 989.4 231 989.4 231 984 235.7 984 235.7 981.5 238.9 981.5 238.9 981.4 242.1 981.4 242.1 974.4 245.2 974.4 245.2 972.4 248.4 972.4 248.4 968.9 251.5 968.9 251.5 942.1 254.7 942.1 254.7 941.7 259.4 941.7 259.4 935.9 264.2 935.9 264.2 928.1 268.9 928.1 268.9 925.6 273.7 925.6 273.7 925.2 278.4 925.2 278.4 909.5 283.1 909.5 283.1 907.7 287.9 907.7 287.9 904.8 292.6 904.8 292.6 904.4 296.2 904.4 296.2 902.2 299.7 902.2 299.7 895.3 303.3 895.3 303.3 881.5 306.9 881.5 306.9 880.6 311.6 880.6 311.6 867.5 316.3 867.5 316.3 867.5 324.2 867.5 324.2 867.5 332.1 867.5 332.1 867.5 340 867.5 340 861.7 341.6 861.7 341.6 846.7 343.2 846.7 343.2 844.2 344.8 844.2 344.8 843.2 349.5 843.2 349.5 841.6 354.3 841.6 354.3 838.6 359 838.6 359 830.2 363.7 830.2 363.7 825.8 367.3 825.8 367.3 822.5 370.9 822.5 370.9 813.6 374.4 813.6 374.4 806.9 378 806.9 378 799.7 382.7 799.7 382.7 799 387.5 799 387.5 794.2 392.2 794.2 392.2 788.3 396.9 788.3 396.9 787.4 402.9 787.4 402.9 783.6 408.8 783.6 408.8 783.2 414.7 783.2 414.7 774.3 420.6 774.3 420.6 772 428.5 772 428.5 771.7 436.4 771.7 436.4 769.7 444.3 769.7 444.3 763.6 449.8 763.6 449.8 762.3 455.2 762.3 455.2 758 460.6 758 460.6 756.4 466 756.4 466 755.5 471.4 755.5 471.4 750.9 476.9 750.9 476.9 746.4 482.3 746.4 482.3 745.7 490.2 745.7 490.2 744.2 498.1 744.2 498.1 744.2 506 744.2 506 742.7 513.9 742.7 513.9 742.3 521.8 742.3 521.8 741.7 529.7 741.7 529.7 739.3 534.4 739.3 534.4 737 539.2 737 539.2 735.3 543.9 735.3 543.9 732.1 548.6 732.1 548.6 723.1 553.4 723.1 553.4 723.1 561 723.1 561 723.1 568.6 723.1 568.6 723.1 576.1 723.1 576.1 723.1 583.7 723.1 583.7 723.1 591.3 723.1 591.3 718.4 591.3 718.4 591.3 718.4 599.6 718.4 599.6 718.4 607.9 718.4 607.9 718.4 616.2 718.4 616.2 718.4 624.5 718.4" fill="none" stroke="#EE2020" stroke-width="2"/>
<rect x="131.5" y="698.7" width="512.3" height="505.1" fill="none" stroke="#000" stroke-width="2"/>
<line x1="150.4" y1="1203.8" x2="150.4" y2="1220" stroke="#000" stroke-width="2"/>
<text x="155.4" y="1242.5" font-size="32" text-anchor="middle" textLength="32.7" lengthAdjust="spacingAndGlyphs">0.0</text>
<line x1="131.5" y1="1184.4" x2="117.9" y2="1184.4" stroke="#000" stroke-width="2"/>
<text x="117.6" y="1180.4" font-size="33.6" text-anchor="middle" transform="rotate(-90 117.6 1180.4)">0.0</text>
<line x1="245.2" y1="1203.8" x2="245.2" y2="1220" stroke="#000" stroke-width="2"/>
<text x="250.2" y="1242.5" font-size="32" text-anchor="middle" textLength="32.7" lengthAdjust="spacingAndGlyphs">0.2</text>
<line x1="131.5" y1="1091.2" x2="117.9" y2="1091.2" stroke="#000" stroke-width="2"/>
<text x="117.6" y="1087.2" font-size="33.6" text-anchor="middle" transform="rotate(-90 117.6 1087.2)">0.2</text>
<line x1="340" y1="1203.8" x2="340" y2="1220" stroke="#000" stroke-width="2"/>
<text x="345" y="1242.5" font-size="32" text-anchor="middle" textLength="32.7" lengthAdjust="spacingAndGlyphs">0.4</text>
<line x1="131.5" y1="998" x2="117.9" y2="998" stroke="#000" stroke-width="2"/>
<text x="117.6" y="994" font-size="33.6" text-anchor="middle" transform="rotate(-90 117.6 994)">0.4</text>
<line x1="434.9" y1="1203.8" x2="434.9" y2="1220" stroke="#000" stroke-width="2"/>
<text x="439.9" y="1242.5" font-size="32" text-anchor="middle" textLength="32.7" lengthAdjust="spacingAndGlyphs">0.6</text>
<line x1="131.5" y1="904.8" x2="117.9" y2="904.8" stroke="#000" stroke-width="2"/>
<text x="117.6" y="900.8" font-size="33.6" text-anchor="middle" transform="rotate(-90 117.6 900.8)">0.6</text>
<line x1="529.7" y1="1203.8" x2="529.7" y2="1220" stroke="#000" stroke-width="2"/>
<text x="534.7" y="1242.5" font-size="32" text-anchor="middle" textLength="32.7" lengthAdjust="spacingAndGlyphs">0.8</text>
<line x1="131.5" y1="811.6" x2="117.9" y2="811.6" stroke="#000" stroke-width="2"/>
<text x="117.6" y="807.6" font-size="33.6" text-anchor="middle" transform="rotate(-90 117.6 807.6)">0.8</text>
<line x1="624.5" y1="1203.8" x2="624.5" y2="1220" stroke="#000" stroke-width="2"/>
<text x="629.5" y="1242.5" font-size="32" text-anchor="middle" textLength="32.7" lengthAdjust="spacingAndGlyphs">1.0</text>
<line x1="131.5" y1="718.4" x2="117.9" y2="718.4" stroke="#000" stroke-width="2"/>
<text x="117.6" y="714.4" font-size="33.6" text-anchor="middle" transform="rotate(-90 117.6 714.4)">1.0</text>
<text x="79.5" y="922" font-size="36" text-anchor="middle" textLength="172.6" lengthAdjust="spacingAndGlyphs" transform="rotate(-90 79.5 922)">Sensitivity</text>
<text x="394.4" y="1273.2" font-size="35" text-anchor="middle" textLength="159.8" lengthAdjust="spacingAndGlyphs">1−Specificity</text>
<line x1="349.4" y1="1107.5" x2="391.8" y2="1107.5" stroke="#5CBA45" stroke-width="2"/>
<text x="396.3" y="1113.2" font-size="29.6" textLength="229.7" lengthAdjust="spacingAndGlyphs">AUC at 1 years: 0.691</text>
<line x1="349.4" y1="1140" x2="391.8" y2="1140" stroke="#2450C8" stroke-width="2"/>
<text x="396.3" y="1148.6" font-size="29.6" textLength="229.7" lengthAdjust="spacingAndGlyphs">AUC at 3 years: 0.729</text>
<line x1="349.4" y1="1173" x2="391.8" y2="1173" stroke="#EE2020" stroke-width="2"/>
<text x="396.3" y="1184.4" font-size="29.6" textLength="229.7" lengthAdjust="spacingAndGlyphs">AUC at 5 years: 0.733</text>
<text x="701" y="712" font-size="44" fill="#231815">E</text>
<path d="M817.2 725.9 C920.4 725.9 920.4 725.9 1023.5 725.9 L1023.5 834.8 C920.4 834.8 920.4 834.8 817.2 834.8Z" fill="#A0AAD7"/>
<path d="M817.2 834.8 C920.4 834.8 920.4 997 1023.5 997 L1023.5 1184 C920.4 1184 920.4 1022.5 817.2 1022.5Z" fill="#A0AAD7"/>
<path d="M817.2 1022.5 C920.4 1022.5 920.4 834.8 1023.5 834.8 L1023.5 996.6 C920.4 996.6 920.4 1184 817.2 1184Z" fill="#F8CB91"/>
<path d="M817.2 1184 C920.4 1184 920.4 1184 1023.5 1184 L1023.5 1239.7 C920.4 1239.7 920.4 1239.7 817.2 1239.7Z" fill="#F8CB91"/>
<defs><clipPath id="cE1"><path d="M817.2 834.8 C920.4 834.8 920.4 997 1023.5 997 L1023.5 1184 C920.4 1184 920.4 1022.5 817.2 1022.5Z"/></clipPath><clipPath id="cE2"><path d="M1075.3 996.6 C1178.3 996.6 1178.3 847.3 1281.4 847.3 L1281.4 1013.8 C1178.3 1013.8 1178.3 1163 1075.3 1163Z"/></clipPath></defs>
<path d="M817.2 1022.5 C920.4 1022.5 920.4 834.8 1023.5 834.8 L1023.5 996.6 C920.4 996.6 920.4 1184 817.2 1184Z" fill="#D0A586" clip-path="url(#cE1)"/>
<path d="M1075.3 725.9 C1178.3 725.9 1178.3 725.9 1281.4 725.9 L1281.4 847.3 C1178.3 847.3 1178.3 847.3 1075.3 847.3Z" fill="#F2A079"/>
<path d="M1075.3 847.3 C1178.3 847.3 1178.3 1013.8 1281.4 1013.8 L1281.4 1163 C1178.3 1163 1178.3 996.6 1075.3 996.6Z" fill="#F2A079"/>
<path d="M1075.3 996.6 C1178.3 996.6 1178.3 847.3 1281.4 847.3 L1281.4 1013.8 C1178.3 1013.8 1178.3 1163 1075.3 1163Z" fill="#A6C39B"/>
<path d="M1075.3 1163 C1178.3 1163 1178.3 1163 1281.4 1163 L1281.4 1239.7 C1178.3 1239.7 1178.3 1239.7 1075.3 1239.7Z" fill="#A6C39B"/>
<path d="M1075.3 847.3 C1178.3 847.3 1178.3 1013.8 1281.4 1013.8 L1281.4 1163 C1178.3 1163 1178.3 996.6 1075.3 996.6Z" fill="#A89A5C" clip-path="url(#cE2)"/>
<rect x="765.4" y="725.9" width="51.8" height="296.6" fill="#496DB4" stroke="#111" stroke-width="2"/>
<rect x="765.4" y="1022.5" width="51.8" height="217.2" fill="#F3A43B" stroke="#111" stroke-width="2"/>
<rect x="1023.5" y="725.9" width="51.8" height="270.7" fill="#E64329" stroke="#111" stroke-width="2"/>
<rect x="1023.5" y="996.6" width="51.8" height="243.1" fill="#3F9658" stroke="#111" stroke-width="2"/>
<rect x="1281.4" y="725.9" width="51.6" height="287.9" fill="#7A6091" stroke="#111" stroke-width="2"/>
<rect x="1281.4" y="1013.8" width="51.6" height="225.9" fill="#D55181" stroke="#111" stroke-width="2"/>
<text x="786" y="881.5" font-size="30" text-anchor="middle" fill="#222">A</text>
<text x="785" y="1135.5" font-size="30" text-anchor="middle" fill="#222">B</text>
<text x="1049.5" y="881.5" font-size="30" text-anchor="middle" fill="#222" textLength="52" lengthAdjust="spacingAndGlyphs">High</text>
<text x="1047.5" y="1135.5" font-size="30" text-anchor="middle" fill="#222" textLength="46" lengthAdjust="spacingAndGlyphs">Low</text>
<text x="1310" y="881.5" font-size="30" text-anchor="middle" fill="#222" textLength="56" lengthAdjust="spacingAndGlyphs">Alive</text>
<text x="1307.5" y="1135.5" font-size="30" text-anchor="middle" fill="#222" textLength="55" lengthAdjust="spacingAndGlyphs">Dead</text>
<text x="802.3" y="1272.3" font-size="33" text-anchor="middle" textLength="86" lengthAdjust="spacingAndGlyphs">Cluster</text>
<text x="1054.2" y="1272.3" font-size="33" text-anchor="middle" textLength="54.5" lengthAdjust="spacingAndGlyphs">Risk</text>
<text x="1312.5" y="1272.3" font-size="33" text-anchor="middle" textLength="71" lengthAdjust="spacingAndGlyphs">Fustat</text>
<text x="1461" y="712" font-size="44" fill="#231815">F</text>
<line x1="1670.3" y1="1139.1" x2="1670.3" y2="1082.3" stroke="#2C64B5" stroke-width="1.8"/>
<line x1="1670.3" y1="1177.6" x2="1670.3" y2="1205.1" stroke="#2C64B5" stroke-width="1.8"/>
<rect x="1587.3" y="1139.1" width="167.7" height="38.5" fill="none" stroke="#2C64B5" stroke-width="2"/>
<line x1="1587.3" y1="1162.6" x2="1755" y2="1162.6" stroke="#2C64B5" stroke-width="2"/>
<line x1="1909.5" y1="1091.7" x2="1909.5" y2="1001.3" stroke="#F0961C" stroke-width="1.8"/>
<line x1="1909.5" y1="1153.7" x2="1909.5" y2="1196.5" stroke="#F0961C" stroke-width="1.8"/>
<rect x="1826.5" y="1091.7" width="167.7" height="62" fill="none" stroke="#F0961C" stroke-width="2"/>
<line x1="1826.5" y1="1128.2" x2="1994.2" y2="1128.2" stroke="#F0961C" stroke-width="2"/>
<path d="M1696.6 1152h0M1655.6 1107.1h0M1695.3 1190h0M1689.9 1097.6h0M1645.4 1162.6h0M1688.4 1177.4h0M1660.5 1177.4h0M1679.7 1181.6h0M1718.9 1166.6h0M1697.3 1136.5h0M1716.5 1145.1h0M1678 1143.4h0M1657.1 1189h0M1706.4 1187.7h0M1640.8 1104.8h0M1622.9 1131.4h0M1707.9 1151.1h0M1642.5 1121.4h0M1709.3 1180.8h0M1676.8 1118h0M1650.5 1143.7h0M1691.3 1156h0M1664.2 1177.7h0M1650.9 1161.4h0M1690 1164.9h0M1641.5 1134.4h0M1652.9 1158.4h0M1621.4 1103.2h0M1659.7 1177h0M1679.2 1148.7h0M1674.1 1147.8h0M1674.6 1178.4h0M1642.2 1183h0M1715.1 1129.7h0M1622.4 1147.2h0M1691.2 1165.2h0M1637.2 1151h0M1625.8 1175.3h0M1702.4 1155.4h0M1655.2 1174.1h0M1644.2 1156.7h0M1713.2 1130.8h0M1653.9 1169h0M1654.9 1136h0M1701.2 1181h0M1701.4 1168h0M1713.7 1185.3h0M1637.3 1163.8h0M1681.8 1159.6h0M1716.8 1166h0M1623.6 1167.5h0M1658.3 1115.5h0M1661.5 1111.4h0M1709.5 1183.4h0M1624.5 1123h0M1651.5 1189.3h0M1636.2 1176.3h0M1680.7 1165.5h0M1700 1158.7h0M1644.2 1181.1h0M1700.9 1176.1h0M1707.8 1159.6h0M1639.4 1175.6h0M1689.2 1174.7h0M1714.9 1142.4h0M1694.1 1132.9h0M1624.1 1162.9h0M1628.7 1161h0M1630 1162h0M1640.7 1171.3h0M1673 1172.4h0M1713.1 1181h0M1707.7 1143h0M1716.5 1163.5h0M1696.9 1164.7h0M1697 1156.4h0M1627 1146.8h0M1659.1 1111.6h0M1712.6 1167.6h0M1643 1170.2h0M1704.8 1156.4h0M1699.7 1178.1h0M1689.8 1118.6h0M1705.2 1133.1h0M1686.1 1141.5h0M1683.1 1164.3h0M1683.8 1139.9h0M1686.1 1128.2h0M1654.8 1147.8h0M1671.9 1167.8h0M1652.1 1188.9h0M1622.4 1132.3h0M1678.4 1169.3h0M1681.7 1178.1h0M1719.5 1134.4h0M1695.5 1152.6h0M1697.3 1186h0M1660.1 1163.8h0M1625.7 1167.6h0M1717.1 1130.5h0M1652 1191h0M1709.7 1169.9h0M1647.3 1164.7h0M1703.2 1111.7h0M1652.9 1181.6h0M1647.6 1198.6h0M1633.2 1185.6h0M1707.6 1154.7h0M1694.5 1137.4h0M1696.9 1095h0M1653 1150.8h0M1678.3 1177.4h0M1626.7 1134.7h0M1653.7 1161.7h0M1702.6 1166.1h0M1653.1 1161.1h0M1671.6 1118.5h0M1661.8 1179h0M1705.9 1180.8h0M1640.3 1163.1h0M1661.7 1163.1h0M1680.2 1177.6h0M1714.5 1178.6h0M1711.1 1151.5h0M1622.2 1115.6h0M1637.6 1140.8h0M1675 1141.8h0M1623.7 1119.8h0M1631.7 1191.9h0M1710.6 1187h0M1667.6 1175.8h0M1704.8 1183.2h0M1702.5 1180.3h0M1660.7 1159.8h0M1671.8 1184.3h0M1717.6 1171.1h0M1636 1192.3h0M1639.3 1180.1h0M1625.5 1115.2h0M1629.7 1172.9h0M1674.5 1153h0M1621.3 1141h0M1687.2 1172h0M1699.6 1145.3h0M1669.4 1156h0M1638.9 1141.4h0M1644.1 1174.6h0M1657.5 1186.2h0M1683.1 1180.8h0M1650.9 1173.2h0M1717.7 1146.7h0M1663.5 1166.2h0M1634.2 1170.2h0M1628.1 1165.6h0M1713.1 1126.1h0M1669.9 1173.5h0M1642 1107h0M1700.7 1183.6h0M1623.8 1173.8h0M1710.9 1135.8h0M1718.3 1147.2h0M1714.2 1178.3h0M1652 1164h0M1713.4 1175.9h0M1709 1135.9h0M1635.7 1146.5h0M1688.7 1175.9h0M1629.1 1150.9h0M1640.5 1169.6h0M1719.9 1163.2h0M1636.5 1159.9h0M1709 1173.3h0M1712 1150.1h0M1703.7 1149h0M1631.8 1150h0M1662.3 1125.9h0M1680.1 1167.6h0M1696.4 1186.7h0M1665.5 1171.9h0M1688 1156.4h0M1629.9 1161h0M1690.9 1145.3h0M1650 1137.5h0M1673.3 1164.2h0M1701.9 1164.1h0M1713.3 1180.3h0M1695.3 1128.9h0M1709 1167.4h0M1650.9 1181.6h0M1633 1182.1h0M1717.8 1170.5h0M1684.6 1104.8h0M1702.1 1138.8h0M1711.9 1189h0M1698.5 1164.4h0M1694 1154.7h0M1655.3 1143.7h0M1637.8 1152.4h0M1633.5 1174.7h0M1701.7 1150.5h0M1718.4 1173.2h0M1699.8 1194h0M1670.5 1175.9h0M1656.4 1175.5h0M1638.6 1132h0M1661.1 1127.9h0M1634.3 1181.1h0M1689.4 1157.1h0M1679.6 1159.3h0M1663.5 1186.2h0M1667.5 1192.4h0M1690.1 1163.7h0M1676.8 1158.1h0M1664 1173.9h0M1636.5 1197.3h0M1714.5 1162.2h0M1638.4 1173.6h0M1667.4 1178.8h0M1710 1168.7h0M1623.8 1182.3h0M1671.5 1145.9h0M1674.2 1161.2h0M1667.2 1173.2h0M1625.5 1154.2h0M1715.9 1162.3h0M1715.7 1187.1h0M1638.1 1164.8h0M1676.4 1171.3h0M1657.9 1189.5h0M1630.8 1174.9h0M1656.2 1150h0M1695.3 1174.3h0M1650.8 1112.2h0M1713.6 1097h0M1692.4 1168.3h0M1712.5 1146.1h0M1705.9 1079.1h0M1693.8 1168.8h0M1717.7 1178.9h0M1677.5 1170.7h0M1631.1 1185.4h0M1653.7 1185.1h0M1658.2 1156.2h0M1708.2 1170.6h0M1688.2 1155.2h0M1665.4 1148.1h0M1652.3 1176.8h0M1703.3 1166h0M1660.7 1167.6h0M1699.6 1175.2h0M1665.1 1178h0M1686.2 1153.2h0M1710.8 1164.7h0M1684 1152.8h0M1708.7 1130.2h0M1670 1129.6h0M1638.9 1182h0M1636.9 1178.3h0M1632.9 1167.3h0M1652.6 1158.4h0M1625.9 1132.6h0M1636.8 1179.9h0M1659.7 1170.9h0M1703.2 1155.1h0M1666.6 1120.6h0M1713.3 1113.6h0M1656.4 1180.5h0M1716 1166.3h0M1714.7 1177.5h0M1706.9 1136h0M1681.8 1149.4h0M1643.6 1169.4h0M1672 1174.2h0M1679.4 1153.8h0M1667 1131h0M1708.2 1176.8h0M1661.5 1168.7h0M1623.7 1158.7h0M1623.7 1161h0M1667.1 1152.6h0M1718.1 1180.4h0M1676.6 1173.9h0M1661.7 1192.8h0M1682.1 1160.1h0M1706 1127.4h0M1654.9 1192.5h0M1699.8 1174.5h0M1627.2 1134.1h0M1658.9 1164.8h0M1658.4 1191h0M1668.8 1123.2h0M1673.2 1186.1h0M1650.3 1114h0M1635.5 1173.7h0M1710.8 1175.8h0M1682.4 1160.8h0M1627.8 1162h0M1686.2 1144.6h0M1629.1 1147.7h0M1663.8 1164.9h0M1627.7 1116.3h0M1718.1 1140.8h0M1662.2 1154.4h0M1684 1158.1h0M1689 1163.7h0M1622.5 1163.3h0M1717.4 1142.5h0M1636.4 1148.6h0M1623.2 1160.5h0M1666.7 1129.6h0M1669.7 1167.4h0M1713.1 1149.7h0M1680.2 1135.6h0M1704.3 1182.1h0M1655.6 1167.4h0M1672.3 1098.6h0M1671.7 1179.8h0M1649.6 1123.9h0M1673.1 1181.3h0M1627.2 1150.6h0M1679.1 1181.4h0M1623.1 1174.3h0M1638.5 1169.7h0M1711.7 1173.1h0M1698.4 1129.9h0M1650.2 1136.6h0M1685.2 1135.2h0M1650.2 1156.6h0M1637.4 1100.4h0M1657.6 1129.1h0M1624.2 1153h0M1664 1181.2h0M1634 1141.8h0M1673.8 1142.9h0M1678.9 1159.2h0M1699 1140.8h0M1716.6 1138.8h0M1688.7 1168.2h0M1699 1145.7h0M1698 1152.3h0M1702.9 1153.3h0M1687.2 1169.1h0M1683.4 1171.4h0M1710 1158.5h0M1689.9 1111.1h0M1708.4 1186.6h0M1695.5 1169.6h0M1631.7 1181.2h0M1701.8 1169.1h0M1699.6 1177.9h0M1659.9 1170.6h0M1680.8 1150.9h0M1659.7 1179.2h0M1719.5 1144.3h0M1660.6 1138.1h0M1689.2 1106.8h0M1667.5 1090h0M1681.9 1130.3h0M1633.1 1191.5h0M1633.9 1172.1h0M1649.8 1154.3h0M1649.4 1157.2h0M1687.7 1149.6h0M1658.3 1129.2h0M1698.4 1168.7h0M1657.9 1096.1h0M1693.6 1118.4h0M1668.7 1152.2h0M1654.7 1148.7h0M1635.2 1179.9h0M1660.7 1195.7h0M1658 1163.4h0M1625.2 1153h0M1682.6 1155.5h0M1629 1181.7h0M1647.4 1171h0M1651.5 1093.5h0M1704.7 1140h0M1656.2 1143.8h0M1621.5 1168.2h0M1670 1139.7h0M1642.3 1117.7h0M1635.1 1139h0M1711.7 1170.1h0M1628.9 1153.8h0M1640.7 1178.4h0M1630.5 1168h0M1643.8 1144.6h0M1623.5 1172.5h0M1670.9 1166.4h0M1696.8 1110.6h0M1664.6 1165.1h0M1684.4 1138.6h0M1703.3 1167.9h0M1682.1 1182.1h0M1634.5 1161h0M1701.4 1169.1h0M1718.5 1191.8h0M1719.4 1183h0M1642.1 1170.3h0M1705.6 1179h0M1644.8 1204.1h0M1648.5 1181.5h0M1661 1194.2h0M1687.4 1204.3h0M1656.7 1194.4h0M1648.1 1189h0M1652.9 1195.2h0M1623.5 1195.6h0M1678.4 1183.1h0M1684.9 1193.6h0M1664.2 1179.3h0M1717.2 1198.1h0M1697.6 1202.5h0M1654.5 1192.1h0M1679.2 1185.4h0M1671 1195.6h0M1639.7 1198.5h0M1657.7 1189.9h0M1687 1183h0M1655.7 1189.6h0M1636.2 1188.9h0M1656.9 1194.4h0M1641.3 1187.5h0M1651.8 1184.6h0M1626.9 1203h0M1673.4 1178.7h0M1661.8 1193.4h0M1648.4 1192.7h0M1687.7 1191.8h0M1709.3 1185.3h0M1659.1 1192.4h0M1651.7 1188.8h0M1694.2 1197.1h0M1697.2 1198.3h0M1647.8 1191.3h0M1659.9 1201.9h0M1631.8 1203.8h0M1698.6 1185.9h0M1672.8 1201.2h0M1707.8 1188.3h0M1664.8 1180.3h0M1652.5 1182.6h0M1710.2 1202.2h0M1620.9 1192.5h0M1663.8 1190.2h0M1675 1195.8h0M1660.7 1195.2h0M1693.6 1179.3h0M1697.9 1200.9h0M1693.3 1182.2h0M1653.5 1184h0M1671.5 1200.1h0M1637.9 1195.1h0M1626.3 1190.9h0M1625.5 1180.7h0M1698.8 1205.1h0M1674.5 1181h0M1672.9 1203.6h0M1688.2 1197h0M1688.7 1205h0M1684.5 1179h0M1669.2 1179.2h0M1697.4 1193.4h0M1636.5 1186h0M1684.8 1203.7h0M1653.6 1190.2h0M1632.3 1195.7h0M1689.6 1190.2h0M1708.7 1196.8h0M1633.4 1187.2h0M1630.1 1192.2h0M1673.7 1191.8h0M1666.4 1191.9h0M1628 1195.7h0M1644.5 1191.4h0M1672.9 1185.7h0M1634.9 1188h0M1677.7 1201.5h0M1628.7 1187.3h0M1686.4 1199.7h0M1682.8 1187.6h0M1695.9 1185.1h0M1711.1 1187.8h0M1714.7 1183.8h0M1697.9 1194.1h0M1678.5 1178.4h0M1690.3 1181.2h0M1674.9 1190.8h0M1691.2 1196.9h0M1623.3 954.3h0M1634.3 969.8h0M1686.3 1008.8h0M1671.3 1013.4h0M1647.3 1034.6h0M1650.3 1036.4h0M1655.3 1037.5h0M1698.3 1046.1h0M1633.3 1044.4h0M1702.3 1047.8h0M1630.3 1056.4h0M1670.3 1063.3h0M1656.3 1071.9h0M1682.3 1073.1h0M1694.3 1074.8h0M1697.3 1077.7h0M1628.3 1080.5h0M1642.3 1082.3h0" fill="none" stroke="#2C64B5" stroke-width="7.6" stroke-linecap="round"/>
<path d="M1893.7 1127.9h0M1948.2 1169.2h0M1882.7 1128.8h0M1862.3 1175.3h0M1907.3 1079.7h0M1861.2 1105.8h0M1930.6 1101.6h0M1878.1 1093.2h0M1888.3 1160h0M1952 1161.2h0M1926.5 1121.7h0M1886.8 1176h0M1958.9 1157.1h0M1861.3 1061.6h0M1913.4 1167.7h0M1956.2 1112.2h0M1911.3 1068.7h0M1904.9 1131h0M1883.7 1145.3h0M1944.4 1049.2h0M1884.5 1169.9h0M1957 1016.9h0M1923.9 1158.7h0M1890.1 1127.2h0M1914.5 1163.9h0M1913.7 1163.4h0M1883.3 1074h0M1933.3 1125.4h0M1882 1103.4h0M1914.7 1168.5h0M1908 1142.3h0M1868.3 1167.1h0M1946.4 1129.8h0M1900.3 1106.7h0M1874.4 1104.5h0M1940.9 1103.6h0M1907.3 1152h0M1954.6 1100.4h0M1859.6 1145.1h0M1940.8 1045.7h0M1933.5 1135.5h0M1923.4 1058.6h0M1897.1 1142.4h0M1950.9 1095.2h0M1900.7 1118.3h0M1872.4 1171.9h0M1930.8 1094.7h0M1912.8 1159.3h0M1889.2 1177.7h0M1919.4 1122.4h0M1928.9 1063.4h0M1870 1090.5h0M1938.5 1157.5h0M1910.4 1176.4h0M1878.3 1189.7h0M1924.4 1151.8h0M1945.6 1148h0M1905.7 1135.3h0M1927.5 1055.4h0M1886 1136.7h0M1907.4 1163.7h0M1880.7 1164.6h0M1925 1160.5h0M1947.4 1152.7h0M1874.8 1113.9h0M1936.9 1141.2h0M1884 1131.9h0M1867.3 1124.3h0M1909.6 1119.4h0M1862.5 1096h0M1941.1 1060.4h0M1906.7 1161.5h0M1955.6 1140.2h0M1941 1133.4h0M1860.8 1134.9h0M1913.4 1085.3h0M1951.9 1091.2h0M1911 1151.3h0M1932.8 1015.5h0M1878.7 1103h0M1884.5 1092.8h0M1882.3 1150.2h0M1882.4 1086.7h0M1906.8 1140.8h0M1908.4 1160h0M1879.4 1122.8h0M1950 1161.8h0M1893.3 1163.5h0M1861.7 1106.5h0M1922.6 1086.2h0M1863.4 1152.7h0M1928.6 1075.1h0M1957 1059.2h0M1913.3 1060.8h0M1952.9 1112.1h0M1917.1 1139.9h0M1911.2 1026.9h0M1955.2 1142.5h0M1866.6 1104.7h0M1911.9 1062.3h0M1944.3 1008.8h0M1947 1113.3h0M1879.4 1114.8h0M1891.6 1100.6h0M1921.5 1116.7h0M1944.3 1061.2h0M1874 1064.4h0M1916.6 1147h0M1952.8 1128.5h0M1907.9 1086.6h0M1914 1151.9h0M1879.3 1142h0M1921.4 1033.3h0M1906.4 1136.8h0M1927.6 1178.5h0M1913.7 1146.5h0M1923.7 1145.9h0M1907 1177.4h0M1862 1116.9h0M1869.7 1080h0M1945.1 1145.8h0M1877.6 1070.6h0M1908.1 1181.2h0M1871.6 1086.1h0M1909.4 1126.6h0M1896.5 1103.6h0M1926.9 1125.1h0M1867.4 1127.2h0M1909.9 1127.1h0M1949.7 1139.8h0M1911.7 1141h0M1865.4 1089.7h0M1895.3 1113.3h0M1898.2 1111.9h0M1915 1112.9h0M1878.9 1150.9h0M1950.1 1129.4h0M1898.3 1159.9h0M1935.1 1073.6h0M1896.2 1132.9h0M1869.3 1065.6h0M1919.9 1134.9h0M1897.2 1061.6h0M1909.6 1100.9h0M1919.3 1054.9h0M1954.2 1145.7h0M1887.8 1115.3h0M1953.7 1118.1h0M1882.5 1185.2h0M1899.7 1124.1h0M1872.3 1075.1h0M1922.4 1135.3h0M1946.7 1122.1h0M1914.8 1131.7h0M1859.9 1178.4h0M1927 1077.3h0M1880.9 1151.2h0M1930 1167.6h0M1913.5 1068.8h0M1932.6 1105.5h0M1904.3 1095.9h0M1958.8 1118.9h0M1882.7 1149.1h0M1862.1 1074.9h0M1867.3 1155.2h0M1951 1112.6h0M1892.8 1158.8h0M1957.3 1161.4h0M1868.8 1080h0M1940.7 1152.6h0M1867.3 1015.4h0M1876.1 1166h0M1891.1 1061.9h0M1901.3 1136.4h0M1933.4 1082.5h0M1876.6 1087.1h0M1956.4 1176.2h0M1945.3 1092.6h0M1869.9 1136.9h0M1948.4 1156.9h0M1916.9 1063.2h0M1921.9 1106.2h0M1878.8 1103.8h0M1942.4 1033.7h0M1885.1 1065.5h0M1940 1119.7h0M1930.4 1153.2h0M1927.5 1027.5h0M1899.6 1148.2h0M1906.6 1172.1h0M1900.1 1112.6h0M1894.4 1108.9h0M1919.3 1172.6h0M1942.5 1105.5h0M1864.7 1168.2h0M1921.8 1090.4h0M1946.3 1141.6h0M1927 1167.8h0M1925.7 1069.3h0M1959.5 1154.7h0M1881.8 1104.1h0M1887.3 1148.7h0M1941.5 1081.3h0M1875.8 1059.9h0M1936.5 1141.3h0M1918 1181.2h0M1893.2 1105.7h0M1878.9 1156.7h0M1881.1 1051.5h0M1860.4 1016.6h0M1911.1 1123.2h0M1933.7 1072.9h0M1888 1166h0M1868.7 1094h0M1914.6 1010.1h0M1903.4 1167.5h0M1957.4 1084.9h0M1949.9 1113h0M1930.7 1076.5h0M1899.5 1122h0M1906.2 1128.1h0M1906.3 1052.8h0M1936.8 1123.6h0M1922.9 1101.7h0M1886.2 1167.8h0M1890.6 1106.4h0M1870.6 1089.4h0M1862.9 1131.5h0M1874.3 1127.4h0M1889.9 1179.5h0M1862.5 1160.5h0M1940.5 1136.4h0M1875.3 1138.2h0M1898.6 1132.4h0M1883.5 1084.3h0M1896.4 1164.2h0M1928 1065.9h0M1871.9 1168.8h0M1956.9 1163.4h0M1868.1 1156.4h0M1877.4 1128.2h0M1943.6 1153.6h0M1894.5 1136.4h0M1887.4 1098.2h0M1956.6 1170.3h0M1904 1143h0M1928.8 1121.2h0M1957.6 1044.2h0M1898 1074.3h0M1945.7 1024.1h0M1902 1096.3h0M1868.8 1098.2h0M1902.2 1161.4h0M1860.6 1171h0M1864.7 1150h0M1952.4 1138.6h0M1954.5 1154.2h0M1916 1087.2h0M1948.4 1088.8h0M1902.9 1125.8h0M1920.6 1172.3h0M1948.6 1165.4h0M1869.8 1063.7h0M1918 1081.7h0M1958.2 1114.2h0M1907.2 1091.2h0M1951.9 1056.6h0M1953.2 1123h0M1946.4 1110.2h0M1919.9 1139h0M1886.5 1179.6h0M1951.5 1120.3h0M1935.6 1126.9h0M1897 1105.9h0M1878.9 1146.6h0M1894 1105.4h0M1885.8 1106.8h0M1909.8 1142.4h0M1949.7 1160.2h0M1947.4 1151.4h0M1951.8 1109.6h0M1947.2 1077.6h0M1868.3 1127.6h0M1908.5 1130.1h0M1896.5 1100.6h0M1887.3 1051.7h0M1922.2 1160.3h0M1901.5 1093.1h0M1941.3 1144h0M1955.1 1141h0M1921.8 1084.4h0M1955.9 1135.8h0M1907.1 1109.8h0M1884.3 1163.1h0M1917.2 1128.7h0M1946.8 1157h0M1949.1 1138.5h0M1900.3 1123h0M1951.8 1124.9h0M1882.9 1134.9h0M1861.4 1141.8h0M1897.6 1154h0M1927.7 1064h0M1937.8 1151.6h0M1927.4 1116.3h0M1916.6 1135h0M1924.7 1047.3h0M1938.9 1120.2h0M1925.4 1150h0M1918 1133.7h0M1883.7 1039.1h0M1913.5 1133h0M1939.6 1179.9h0M1920.5 1118h0M1936.8 1152.1h0M1908.8 1139.3h0M1917.2 1025.3h0M1886.4 1175.7h0M1941.1 1145.8h0M1941.8 1091.7h0M1913 1091.9h0M1865.7 1095.4h0M1914.1 1159.7h0M1929.8 1071.1h0M1912.2 1143.9h0M1916.1 1117h0M1955.4 1158.8h0M1942.8 1152.2h0M1866.8 1141h0M1886.3 1128.9h0M1930.9 1147.1h0M1898.2 1105.7h0M1943.2 1168.9h0M1947.3 1129.8h0M1957.4 1135.1h0M1881.6 1006.6h0M1930.3 1139.2h0M1882.1 1133.4h0M1861.6 1118.3h0M1936.2 1061.6h0M1867.1 1130.8h0M1923 1101.7h0M1920.2 1097.2h0M1941.5 1083.1h0M1918.5 1121.2h0M1882.6 1101.8h0M1870.6 1147.8h0M1937.4 1130.7h0M1941.1 1153.7h0M1949.5 1122.5h0M1909.6 1078.1h0M1866.1 1084.5h0M1932.2 1160.3h0M1901.7 1118.5h0M1909 1151h0M1938.6 1151.2h0M1882.9 1169h0M1937.9 1149.9h0M1955.9 1147.2h0M1876.7 1148.4h0M1893.3 1085.3h0M1926.6 1065.2h0M1913.4 1099.1h0M1950 1079.8h0M1868.2 1160.1h0M1935.2 1009.5h0M1870.2 1122.8h0M1958.3 1122.1h0M1868.1 1151.5h0M1892.7 1155.5h0M1861.3 1168.5h0M1950.6 1090.3h0M1953.6 1074h0M1936 1098.9h0M1937.9 1167.9h0M1904.4 1073.5h0M1910.2 1085.2h0M1937.3 1135.8h0M1907.5 1157.1h0M1956.4 1109.7h0M1877.1 1112.7h0M1929 1167.6h0M1949.2 1148.4h0M1926.5 1146.2h0M1938.3 1131.4h0M1946.3 1055.1h0M1949.5 1144.6h0M1940.8 1185.5h0M1903.5 1167.6h0M1904.5 1168h0M1904.5 806.8h0M1941.5 857.8h0M1914.5 942.2h0M1864.5 946.8h0M1901.5 948.5h0M1891.5 965.8h0M1895.5 967.5h0M1864.5 977.2h0M1875.5 981.2h0M1911.5 985.8h0M1923.5 988.7h0M1947.5 990.4h0M1900.5 997.3h0M1898.5 1000.2h0M1878.5 1014.5h0M1937.5 1017.4h0M1906.5 1020.3h0M1927.5 1023.2h0M1949.5 1031.8h0M1861.5 1034.6h0M1885.5 1036.4h0M1943.5 1037.5h0M1894.5 1040.4h0M1907.5 1043.2h0M1954.5 1049h0M1929.5 1051.9h0M1869.5 1054.7h0M1919.5 1057.6h0" fill="none" stroke="#F0961C" stroke-width="7.6" stroke-linecap="round"/>
<line x1="1527.6" y1="766" x2="1527.6" y2="1226.9" stroke="#000" stroke-width="2"/>
<line x1="1526.6" y1="1226" x2="2053.8" y2="1226" stroke="#000" stroke-width="2"/>
<line x1="1527.6" y1="1209.7" x2="1523" y2="1209.7" stroke="#000" stroke-width="2"/>
<text x="1517.5" y="1217.8" font-size="31.5" text-anchor="end" textLength="10.5" lengthAdjust="spacingAndGlyphs">0</text>
<line x1="1527.6" y1="1094.9" x2="1523" y2="1094.9" stroke="#000" stroke-width="2"/>
<text x="1517.5" y="1103" font-size="31.5" text-anchor="end" textLength="10.5" lengthAdjust="spacingAndGlyphs">2</text>
<line x1="1527.6" y1="980.1" x2="1523" y2="980.1" stroke="#000" stroke-width="2"/>
<text x="1517.5" y="988.2" font-size="31.5" text-anchor="end" textLength="10.5" lengthAdjust="spacingAndGlyphs">4</text>
<line x1="1527.6" y1="865.3" x2="1523" y2="865.3" stroke="#000" stroke-width="2"/>
<text x="1517.5" y="873.4" font-size="31.5" text-anchor="end" textLength="10.5" lengthAdjust="spacingAndGlyphs">6</text>
<line x1="1670.3" y1="1226" x2="1670.3" y2="1230.5" stroke="#000" stroke-width="2"/>
<text x="1670.3" y="1253.5" font-size="32.5" text-anchor="middle" textLength="15.5" lengthAdjust="spacingAndGlyphs">A</text>
<line x1="1909.5" y1="1226" x2="1909.5" y2="1230.5" stroke="#000" stroke-width="2"/>
<text x="1909.5" y="1253.5" font-size="32.5" text-anchor="middle" textLength="15.5" lengthAdjust="spacingAndGlyphs">B</text>
<text x="1781.4" y="1273" font-size="36.5" text-anchor="middle" textLength="77" lengthAdjust="spacingAndGlyphs">Cluster</text>
<text x="1498.3" y="985.4" font-size="37.5" text-anchor="middle" textLength="192" lengthAdjust="spacingAndGlyphs" transform="rotate(-90 1498.3 985.4)">Risk score</text>
<text x="1707.9" y="748.8" font-size="32.5" textLength="69.6" lengthAdjust="spacingAndGlyphs">Cluster</text>
<rect x="1794.2" y="728.7" width="20.4" height="17" fill="#fff" stroke="#2C64B5" stroke-width="1.8"/>
<circle cx="1804.4" cy="737" r="3.5" fill="#2C64B5"/>
<line x1="1804.4" y1="745.7" x2="1804.4" y2="751" stroke="#2C64B5" stroke-width="1.8"/>
<text x="1819.2" y="748.8" font-size="32.5" textLength="15.4" lengthAdjust="spacingAndGlyphs">A</text>
<rect x="1847.1" y="728.7" width="20.4" height="17" fill="#fff" stroke="#F0961C" stroke-width="1.8"/>
<circle cx="1857.3" cy="737" r="3.5" fill="#F0961C"/>
<line x1="1857.3" y1="745.7" x2="1857.3" y2="751" stroke="#F0961C" stroke-width="1.8"/>
<text x="1871.9" y="748.8" font-size="32.5" textLength="13.9" lengthAdjust="spacingAndGlyphs">B</text>
<path d="M1670.8 812.5V800H1910.5V812.5" fill="none" stroke="#111" stroke-width="2"/>
<text x="1722.5" y="791.2" font-size="30.5" font-style="italic">p</text>
<text x="1743" y="791.2" font-size="30.5" textLength="99.3" lengthAdjust="spacingAndGlyphs">&lt; 2.22×10</text>
<text x="1842.9" y="780.5" font-size="18" textLength="22.4" lengthAdjust="spacingAndGlyphs">−16</text>
<text x="34" y="1365.4" font-size="44" fill="#231815">G</text>
<rect x="164.5" y="1336.5" width="222.4" height="18.3" fill="#3478C0"/>
<rect x="386.9" y="1336.5" width="216.7" height="18.3" fill="#EB5757"/>
<text x="607.6" y="1364.5" font-size="37.5" font-weight="bold" fill="#000" textLength="54" lengthAdjust="spacingAndGlyphs">Risk</text>
<path d="M165.2 1362.5v53.8M223.8 1362.5v53.8M165.2 1416.3v53.8M172.6 1416.3v53.8M174 1416.3v53.8M188.7 1416.3v53.8M203.3 1416.3v53.8M210.6 1416.3v53.8M288.2 1416.3v53.8M289.6 1416.3v53.8M361.4 1416.3v53.8M171.1 1470.1v53.8M174 1470.1v53.8M219.4 1470.1v53.8M220.9 1470.1v53.8M263.3 1470.1v53.8M405.3 1470.1v53.8M184.3 1524v53.8M198.9 1524v53.8M276.5 1524v53.8M277.9 1524v53.8M289.6 1524v53.8M553.1 1577.8v53.8M599.9 1577.8v53.8M178.4 1631.6v53.8M362.8 1631.6v53.8M557.5 1631.6v53.8M586.8 1631.6v53.8M477 1685.4v53.8M506.3 1685.4v53.8M542.9 1685.4v53.8M570.7 1685.4v53.8M576.5 1685.4v53.8M594.1 1685.4v53.8M602.9 1685.4v53.8M484.3 1739.2v53.8M576.5 1739.2v53.8M466.7 1793.1v53.8M578 1793.1v53.8M591.2 1793.1v53.8M241.3 1846.9v53.8M602.9 1954.5v53.8M251.6 2008.3v53.8M311.6 2008.3v53.8" fill="none" stroke="#7d80cb" stroke-width="1.6"/>
<path d="M166.7 1362.5v53.8M172.6 1362.5v53.8M179.9 1362.5v53.8M181.3 1362.5v53.8M190.1 1362.5v53.8M226.7 1362.5v53.8M267.7 1362.5v53.8M280.9 1362.5v53.8M288.2 1362.5v53.8M297 1362.5v53.8M301.4 1362.5v53.8M323.3 1362.5v53.8M335 1362.5v53.8M339.4 1362.5v53.8M342.3 1362.5v53.8M345.3 1362.5v53.8M354 1362.5v53.8M371.6 1362.5v53.8M376 1362.5v53.8M381.9 1362.5v53.8M386.2 1362.5v53.8M408.2 1362.5v53.8M409.7 1362.5v53.8M421.4 1362.5v53.8M440.4 1362.5v53.8M453.6 1362.5v53.8M468.2 1362.5v53.8M471.1 1362.5v53.8M485.8 1362.5v53.8M500.4 1362.5v53.8M541.4 1362.5v53.8M554.6 1362.5v53.8M557.5 1362.5v53.8M564.8 1362.5v53.8M582.4 1362.5v53.8M599.9 1362.5v53.8M213.5 1416.3v53.8M235.5 1416.3v53.8M258.9 1416.3v53.8M280.9 1416.3v53.8M285.3 1416.3v53.8M286.7 1416.3v53.8M302.8 1416.3v53.8M340.9 1416.3v53.8M359.9 1416.3v53.8M362.8 1416.3v53.8M374.5 1416.3v53.8M383.3 1416.3v53.8M398 1416.3v53.8M415.5 1416.3v53.8M436 1416.3v53.8M437.5 1416.3v53.8M474.1 1416.3v53.8M481.4 1416.3v53.8M484.3 1416.3v53.8M497.5 1416.3v53.8M501.9 1416.3v53.8M518 1416.3v53.8M522.4 1416.3v53.8M523.8 1416.3v53.8M526.8 1416.3v53.8M541.4 1416.3v53.8M545.8 1416.3v53.8M548.7 1416.3v53.8M551.6 1416.3v53.8M559 1416.3v53.8M578 1416.3v53.8M598.5 1416.3v53.8M601.4 1416.3v53.8M187.2 1470.1v53.8M200.4 1470.1v53.8M210.6 1470.1v53.8M228.2 1470.1v53.8M238.4 1470.1v53.8M241.3 1470.1v53.8M245.7 1470.1v53.8M250.1 1470.1v53.8M270.6 1470.1v53.8M311.6 1470.1v53.8M324.8 1470.1v53.8M352.6 1470.1v53.8M354 1470.1v53.8M364.3 1470.1v53.8M377.5 1470.1v53.8M389.2 1470.1v53.8M392.1 1470.1v53.8M402.3 1470.1v53.8M417 1470.1v53.8M418.4 1470.1v53.8M430.2 1470.1v53.8M443.3 1470.1v53.8M444.8 1470.1v53.8M446.3 1470.1v53.8M465.3 1470.1v53.8M472.6 1470.1v53.8M475.5 1470.1v53.8M487.2 1470.1v53.8M498.9 1470.1v53.8M500.4 1470.1v53.8M534.1 1470.1v53.8M538.5 1470.1v53.8M560.4 1470.1v53.8M591.2 1470.1v53.8M599.9 1470.1v53.8M193 1524v53.8M231.1 1524v53.8M254.5 1524v53.8M256 1524v53.8M285.3 1524v53.8M291.1 1524v53.8M294 1524v53.8M297 1524v53.8M337.9 1524v53.8M357 1524v53.8M380.4 1524v53.8M393.6 1524v53.8M396.5 1524v53.8M422.8 1524v53.8M425.8 1524v53.8M447.7 1524v53.8M450.6 1524v53.8M519.4 1524v53.8M526.8 1524v53.8M528.2 1524v53.8M538.5 1524v53.8M544.3 1524v53.8M545.8 1524v53.8M566.3 1524v53.8M573.6 1524v53.8M575.1 1524v53.8M576.5 1524v53.8M592.6 1524v53.8M179.9 1577.8v53.8M182.8 1577.8v53.8M197.4 1577.8v53.8M215 1577.8v53.8M228.2 1577.8v53.8M258.9 1577.8v53.8M263.3 1577.8v53.8M280.9 1577.8v53.8M285.3 1577.8v53.8M292.6 1577.8v53.8M316 1577.8v53.8M326.2 1577.8v53.8M332.1 1577.8v53.8M339.4 1577.8v53.8M342.3 1577.8v53.8M359.9 1577.8v53.8M373.1 1577.8v53.8M384.8 1577.8v53.8M387.7 1577.8v53.8M398 1577.8v53.8M403.8 1577.8v53.8M414.1 1577.8v53.8M418.4 1577.8v53.8M419.9 1577.8v53.8M428.7 1577.8v53.8M433.1 1577.8v53.8M436 1577.8v53.8M437.5 1577.8v53.8M446.3 1577.8v53.8M447.7 1577.8v53.8M456.5 1577.8v53.8M458 1577.8v53.8M463.8 1577.8v53.8M468.2 1577.8v53.8M469.7 1577.8v53.8M471.1 1577.8v53.8M478.5 1577.8v53.8M482.8 1577.8v53.8M498.9 1577.8v53.8M510.7 1577.8v53.8M522.4 1577.8v53.8M529.7 1577.8v53.8M542.9 1577.8v53.8M545.8 1577.8v53.8M551.6 1577.8v53.8M559 1577.8v53.8M561.9 1577.8v53.8M563.3 1577.8v53.8M569.2 1577.8v53.8M570.7 1577.8v53.8M585.3 1577.8v53.8M592.6 1577.8v53.8M194.5 1631.6v53.8M239.9 1631.6v53.8M248.7 1631.6v53.8M261.8 1631.6v53.8M270.6 1631.6v53.8M286.7 1631.6v53.8M302.8 1631.6v53.8M314.5 1631.6v53.8M332.1 1631.6v53.8M352.6 1631.6v53.8M380.4 1631.6v53.8M381.9 1631.6v53.8M392.1 1631.6v53.8M405.3 1631.6v53.8M434.5 1631.6v53.8M446.3 1631.6v53.8M449.2 1631.6v53.8M471.1 1631.6v53.8M500.4 1631.6v53.8M504.8 1631.6v53.8M510.7 1631.6v53.8M520.9 1631.6v53.8M526.8 1631.6v53.8M535.5 1631.6v53.8M550.2 1631.6v53.8M551.6 1631.6v53.8M589.7 1631.6v53.8M592.6 1631.6v53.8M174 1685.4v53.8M248.7 1685.4v53.8M258.9 1685.4v53.8M260.4 1685.4v53.8M263.3 1685.4v53.8M267.7 1685.4v53.8M285.3 1685.4v53.8M291.1 1685.4v53.8M294 1685.4v53.8M295.5 1685.4v53.8M298.4 1685.4v53.8M301.4 1685.4v53.8M323.3 1685.4v53.8M330.6 1685.4v53.8M332.1 1685.4v53.8M335 1685.4v53.8M340.9 1685.4v53.8M342.3 1685.4v53.8M351.1 1685.4v53.8M352.6 1685.4v53.8M367.2 1685.4v53.8M395 1685.4v53.8M398 1685.4v53.8M399.4 1685.4v53.8M409.7 1685.4v53.8M452.1 1685.4v53.8M469.7 1685.4v53.8M472.6 1685.4v53.8M485.8 1685.4v53.8M496 1685.4v53.8M510.7 1685.4v53.8M175.5 1739.2v53.8M187.2 1739.2v53.8M196 1739.2v53.8M212.1 1739.2v53.8M229.6 1739.2v53.8M232.6 1739.2v53.8M234 1739.2v53.8M266.2 1739.2v53.8M288.2 1739.2v53.8M291.1 1739.2v53.8M294 1739.2v53.8M311.6 1739.2v53.8M323.3 1739.2v53.8M330.6 1739.2v53.8M339.4 1739.2v53.8M368.7 1739.2v53.8M411.1 1739.2v53.8M414.1 1739.2v53.8M422.8 1739.2v53.8M430.2 1739.2v53.8M434.5 1739.2v53.8M437.5 1739.2v53.8M438.9 1739.2v53.8M459.4 1739.2v53.8M556 1739.2v53.8M573.6 1739.2v53.8M586.8 1739.2v53.8M165.2 1793.1v53.8M194.5 1793.1v53.8M225.2 1793.1v53.8M232.6 1793.1v53.8M242.8 1793.1v53.8M257.4 1793.1v53.8M277.9 1793.1v53.8M297 1793.1v53.8M311.6 1793.1v53.8M316 1793.1v53.8M335 1793.1v53.8M349.7 1793.1v53.8M352.6 1793.1v53.8M361.4 1793.1v53.8M377.5 1793.1v53.8M378.9 1793.1v53.8M383.3 1793.1v53.8M389.2 1793.1v53.8M412.6 1793.1v53.8M433.1 1793.1v53.8M440.4 1793.1v53.8M452.1 1793.1v53.8M475.5 1793.1v53.8M479.9 1793.1v53.8M498.9 1793.1v53.8M501.9 1793.1v53.8M520.9 1793.1v53.8M526.8 1793.1v53.8M529.7 1793.1v53.8M538.5 1793.1v53.8M547.2 1793.1v53.8M588.2 1793.1v53.8M181.3 1846.9v53.8M191.6 1846.9v53.8M198.9 1846.9v53.8M209.1 1846.9v53.8M237 1846.9v53.8M247.2 1846.9v53.8M272.1 1846.9v53.8M273.5 1846.9v53.8M279.4 1846.9v53.8M280.9 1846.9v53.8M283.8 1846.9v53.8M291.1 1846.9v53.8M301.4 1846.9v53.8M310.1 1846.9v53.8M316 1846.9v53.8M323.3 1846.9v53.8M329.2 1846.9v53.8M332.1 1846.9v53.8M339.4 1846.9v53.8M348.2 1846.9v53.8M376 1846.9v53.8M381.9 1846.9v53.8M398 1846.9v53.8M403.8 1846.9v53.8M412.6 1846.9v53.8M415.5 1846.9v53.8M421.4 1846.9v53.8M425.8 1846.9v53.8M453.6 1846.9v53.8M455 1846.9v53.8M463.8 1846.9v53.8M472.6 1846.9v53.8M477 1846.9v53.8M487.2 1846.9v53.8M491.6 1846.9v53.8M515 1846.9v53.8M551.6 1846.9v53.8M560.4 1846.9v53.8M564.8 1846.9v53.8M573.6 1846.9v53.8M582.4 1846.9v53.8M598.5 1846.9v53.8M602.9 1846.9v53.8M191.6 1900.7v53.8M198.9 1900.7v53.8M226.7 1900.7v53.8M232.6 1900.7v53.8M239.9 1900.7v53.8M263.3 1900.7v53.8M270.6 1900.7v53.8M273.5 1900.7v53.8M276.5 1900.7v53.8M283.8 1900.7v53.8M313.1 1900.7v53.8M320.4 1900.7v53.8M321.8 1900.7v53.8M323.3 1900.7v53.8M345.3 1900.7v53.8M378.9 1900.7v53.8M381.9 1900.7v53.8M387.7 1900.7v53.8M424.3 1900.7v53.8M425.8 1900.7v53.8M450.6 1900.7v53.8M452.1 1900.7v53.8M458 1900.7v53.8M472.6 1900.7v53.8M494.6 1900.7v53.8M496 1900.7v53.8M497.5 1900.7v53.8M522.4 1900.7v53.8M525.3 1900.7v53.8M528.2 1900.7v53.8M529.7 1900.7v53.8M531.1 1900.7v53.8M538.5 1900.7v53.8M541.4 1900.7v53.8M551.6 1900.7v53.8M556 1900.7v53.8M564.8 1900.7v53.8M575.1 1900.7v53.8M583.8 1900.7v53.8M194.5 1954.5v53.8M197.4 1954.5v53.8M210.6 1954.5v53.8M222.3 1954.5v53.8M228.2 1954.5v53.8M231.1 1954.5v53.8M247.2 1954.5v53.8M253.1 1954.5v53.8M256 1954.5v53.8M267.7 1954.5v53.8M279.4 1954.5v53.8M280.9 1954.5v53.8M282.3 1954.5v53.8M304.3 1954.5v53.8M305.7 1954.5v53.8M308.7 1954.5v53.8M320.4 1954.5v53.8M351.1 1954.5v53.8M359.9 1954.5v53.8M368.7 1954.5v53.8M373.1 1954.5v53.8M377.5 1954.5v53.8M384.8 1954.5v53.8M387.7 1954.5v53.8M389.2 1954.5v53.8M399.4 1954.5v53.8M403.8 1954.5v53.8M427.2 1954.5v53.8M428.7 1954.5v53.8M430.2 1954.5v53.8M438.9 1954.5v53.8M446.3 1954.5v53.8M449.2 1954.5v53.8M450.6 1954.5v53.8M478.5 1954.5v53.8M484.3 1954.5v53.8M532.6 1954.5v53.8M541.4 1954.5v53.8M556 1954.5v53.8M579.4 1954.5v53.8M182.8 2008.3v53.8M235.5 2008.3v53.8M238.4 2008.3v53.8M260.4 2008.3v53.8M267.7 2008.3v53.8M294 2008.3v53.8M298.4 2008.3v53.8M313.1 2008.3v53.8M321.8 2008.3v53.8M326.2 2008.3v53.8M352.6 2008.3v53.8M359.9 2008.3v53.8M361.4 2008.3v53.8M370.1 2008.3v53.8M376 2008.3v53.8M380.4 2008.3v53.8M384.8 2008.3v53.8M386.2 2008.3v53.8M403.8 2008.3v53.8M411.1 2008.3v53.8M422.8 2008.3v53.8M471.1 2008.3v53.8M479.9 2008.3v53.8M481.4 2008.3v53.8M504.8 2008.3v53.8M513.6 2008.3v53.8M516.5 2008.3v53.8M522.4 2008.3v53.8M539.9 2008.3v53.8M569.2 2008.3v53.8M570.7 2008.3v53.8M576.5 2008.3v53.8M578 2008.3v53.8M597 2008.3v53.8M601.4 2008.3v53.8" fill="none" stroke="#f5e0e5" stroke-width="1.6"/>
<path d="M168.2 1362.5v53.8M185.7 1362.5v53.8M191.6 1362.5v53.8M200.4 1362.5v53.8M201.8 1362.5v53.8M206.2 1362.5v53.8M219.4 1362.5v53.8M238.4 1362.5v53.8M256 1362.5v53.8M258.9 1362.5v53.8M260.4 1362.5v53.8M276.5 1362.5v53.8M282.3 1362.5v53.8M291.1 1362.5v53.8M298.4 1362.5v53.8M304.3 1362.5v53.8M351.1 1362.5v53.8M365.8 1362.5v53.8M387.7 1362.5v53.8M392.1 1362.5v53.8M411.1 1362.5v53.8M412.6 1362.5v53.8M414.1 1362.5v53.8M425.8 1362.5v53.8M433.1 1362.5v53.8M447.7 1362.5v53.8M456.5 1362.5v53.8M469.7 1362.5v53.8M484.3 1362.5v53.8M487.2 1362.5v53.8M488.7 1362.5v53.8M503.3 1362.5v53.8M509.2 1362.5v53.8M513.6 1362.5v53.8M539.9 1362.5v53.8M542.9 1362.5v53.8M567.7 1362.5v53.8M588.2 1362.5v53.8M598.5 1362.5v53.8M178.4 1416.3v53.8M193 1416.3v53.8M194.5 1416.3v53.8M204.8 1416.3v53.8M206.2 1416.3v53.8M216.5 1416.3v53.8M220.9 1416.3v53.8M228.2 1416.3v53.8M237 1416.3v53.8M239.9 1416.3v53.8M254.5 1416.3v53.8M267.7 1416.3v53.8M270.6 1416.3v53.8M273.5 1416.3v53.8M343.8 1416.3v53.8M346.7 1416.3v53.8M355.5 1416.3v53.8M358.4 1416.3v53.8M370.1 1416.3v53.8M386.2 1416.3v53.8M387.7 1416.3v53.8M393.6 1416.3v53.8M400.9 1416.3v53.8M411.1 1416.3v53.8M434.5 1416.3v53.8M446.3 1416.3v53.8M450.6 1416.3v53.8M460.9 1416.3v53.8M466.7 1416.3v53.8M468.2 1416.3v53.8M510.7 1416.3v53.8M520.9 1416.3v53.8M534.1 1416.3v53.8M592.6 1416.3v53.8M169.6 1470.1v53.8M176.9 1470.1v53.8M184.3 1470.1v53.8M188.7 1470.1v53.8M194.5 1470.1v53.8M197.4 1470.1v53.8M209.1 1470.1v53.8M231.1 1470.1v53.8M232.6 1470.1v53.8M251.6 1470.1v53.8M261.8 1470.1v53.8M273.5 1470.1v53.8M277.9 1470.1v53.8M279.4 1470.1v53.8M280.9 1470.1v53.8M285.3 1470.1v53.8M288.2 1470.1v53.8M289.6 1470.1v53.8M308.7 1470.1v53.8M321.8 1470.1v53.8M340.9 1470.1v53.8M393.6 1470.1v53.8M399.4 1470.1v53.8M427.2 1470.1v53.8M452.1 1470.1v53.8M471.1 1470.1v53.8M474.1 1470.1v53.8M488.7 1470.1v53.8M494.6 1470.1v53.8M513.6 1470.1v53.8M518 1470.1v53.8M525.3 1470.1v53.8M528.2 1470.1v53.8M559 1470.1v53.8M171.1 1524v53.8M185.7 1524v53.8M204.8 1524v53.8M219.4 1524v53.8M220.9 1524v53.8M226.7 1524v53.8M235.5 1524v53.8M241.3 1524v53.8M242.8 1524v53.8M244.3 1524v53.8M258.9 1524v53.8M267.7 1524v53.8M295.5 1524v53.8M299.9 1524v53.8M304.3 1524v53.8M308.7 1524v53.8M316 1524v53.8M324.8 1524v53.8M362.8 1524v53.8M390.6 1524v53.8M395 1524v53.8M399.4 1524v53.8M414.1 1524v53.8M436 1524v53.8M446.3 1524v53.8M449.2 1524v53.8M515 1524v53.8M518 1524v53.8M523.8 1524v53.8M200.4 1577.8v53.8M245.7 1577.8v53.8M282.3 1577.8v53.8M283.8 1577.8v53.8M299.9 1577.8v53.8M345.3 1577.8v53.8M393.6 1577.8v53.8M399.4 1577.8v53.8M409.7 1577.8v53.8M430.2 1577.8v53.8M438.9 1577.8v53.8M443.3 1577.8v53.8M465.3 1577.8v53.8M488.7 1577.8v53.8M491.6 1577.8v53.8M501.9 1577.8v53.8M506.3 1577.8v53.8M513.6 1577.8v53.8M525.3 1577.8v53.8M539.9 1577.8v53.8M541.4 1577.8v53.8M547.2 1577.8v53.8M566.3 1577.8v53.8M572.1 1577.8v53.8M580.9 1577.8v53.8M588.2 1577.8v53.8M187.2 1631.6v53.8M190.1 1631.6v53.8M198.9 1631.6v53.8M215 1631.6v53.8M231.1 1631.6v53.8M250.1 1631.6v53.8M263.3 1631.6v53.8M279.4 1631.6v53.8M280.9 1631.6v53.8M291.1 1631.6v53.8M308.7 1631.6v53.8M320.4 1631.6v53.8M326.2 1631.6v53.8M329.2 1631.6v53.8M355.5 1631.6v53.8M393.6 1631.6v53.8M411.1 1631.6v53.8M421.4 1631.6v53.8M425.8 1631.6v53.8M441.9 1631.6v53.8M490.2 1631.6v53.8M537 1631.6v53.8M556 1631.6v53.8M575.1 1631.6v53.8M277.9 1685.4v53.8M289.6 1685.4v53.8M292.6 1685.4v53.8M297 1685.4v53.8M321.8 1685.4v53.8M343.8 1685.4v53.8M348.2 1685.4v53.8M364.3 1685.4v53.8M376 1685.4v53.8M389.2 1685.4v53.8M392.1 1685.4v53.8M417 1685.4v53.8M430.2 1685.4v53.8M441.9 1685.4v53.8M458 1685.4v53.8M462.4 1685.4v53.8M466.7 1685.4v53.8M482.8 1685.4v53.8M488.7 1685.4v53.8M512.1 1685.4v53.8M522.4 1685.4v53.8M538.5 1685.4v53.8M539.9 1685.4v53.8M545.8 1685.4v53.8M550.2 1685.4v53.8M566.3 1685.4v53.8M579.4 1685.4v53.8M592.6 1685.4v53.8M191.6 1739.2v53.8M261.8 1739.2v53.8M359.9 1739.2v53.8M376 1739.2v53.8M417 1739.2v53.8M446.3 1739.2v53.8M449.2 1739.2v53.8M450.6 1739.2v53.8M455 1739.2v53.8M460.9 1739.2v53.8M462.4 1739.2v53.8M481.4 1739.2v53.8M485.8 1739.2v53.8M498.9 1739.2v53.8M512.1 1739.2v53.8M541.4 1739.2v53.8M542.9 1739.2v53.8M554.6 1739.2v53.8M564.8 1739.2v53.8M570.7 1739.2v53.8M572.1 1739.2v53.8M579.4 1739.2v53.8M582.4 1739.2v53.8M597 1739.2v53.8M209.1 1793.1v53.8M223.8 1793.1v53.8M228.2 1793.1v53.8M307.2 1793.1v53.8M342.3 1793.1v53.8M392.1 1793.1v53.8M409.7 1793.1v53.8M424.3 1793.1v53.8M453.6 1793.1v53.8M478.5 1793.1v53.8M512.1 1793.1v53.8M531.1 1793.1v53.8M541.4 1793.1v53.8M548.7 1793.1v53.8M554.6 1793.1v53.8M556 1793.1v53.8M557.5 1793.1v53.8M559 1793.1v53.8M575.1 1793.1v53.8M585.3 1793.1v53.8M178.4 1846.9v53.8M179.9 1846.9v53.8M188.7 1846.9v53.8M194.5 1846.9v53.8M197.4 1846.9v53.8M210.6 1846.9v53.8M219.4 1846.9v53.8M220.9 1846.9v53.8M266.2 1846.9v53.8M285.3 1846.9v53.8M286.7 1846.9v53.8M295.5 1846.9v53.8M297 1846.9v53.8M318.9 1846.9v53.8M354 1846.9v53.8M361.4 1846.9v53.8M370.1 1846.9v53.8M384.8 1846.9v53.8M408.2 1846.9v53.8M433.1 1846.9v53.8M438.9 1846.9v53.8M479.9 1846.9v53.8M522.4 1846.9v53.8M592.6 1846.9v53.8M228.2 1900.7v53.8M229.6 1900.7v53.8M235.5 1900.7v53.8M238.4 1900.7v53.8M291.1 1900.7v53.8M292.6 1900.7v53.8M343.8 1900.7v53.8M361.4 1900.7v53.8M367.2 1900.7v53.8M376 1900.7v53.8M405.3 1900.7v53.8M415.5 1900.7v53.8M421.4 1900.7v53.8M465.3 1900.7v53.8M479.9 1900.7v53.8M493.1 1900.7v53.8M509.2 1900.7v53.8M515 1900.7v53.8M518 1900.7v53.8M534.1 1900.7v53.8M589.7 1900.7v53.8M204.8 1954.5v53.8M215 1954.5v53.8M257.4 1954.5v53.8M272.1 1954.5v53.8M349.7 1954.5v53.8M352.6 1954.5v53.8M374.5 1954.5v53.8M380.4 1954.5v53.8M406.7 1954.5v53.8M417 1954.5v53.8M418.4 1954.5v53.8M456.5 1954.5v53.8M462.4 1954.5v53.8M485.8 1954.5v53.8M496 1954.5v53.8M506.3 1954.5v53.8M510.7 1954.5v53.8M516.5 1954.5v53.8M534.1 1954.5v53.8M538.5 1954.5v53.8M542.9 1954.5v53.8M545.8 1954.5v53.8M551.6 1954.5v53.8M553.1 1954.5v53.8M566.3 1954.5v53.8M573.6 1954.5v53.8M578 1954.5v53.8M598.5 1954.5v53.8M172.6 2008.3v53.8M176.9 2008.3v53.8M179.9 2008.3v53.8M185.7 2008.3v53.8M187.2 2008.3v53.8M193 2008.3v53.8M197.4 2008.3v53.8M210.6 2008.3v53.8M226.7 2008.3v53.8M228.2 2008.3v53.8M231.1 2008.3v53.8M232.6 2008.3v53.8M244.3 2008.3v53.8M261.8 2008.3v53.8M275 2008.3v53.8M283.8 2008.3v53.8M285.3 2008.3v53.8M292.6 2008.3v53.8M295.5 2008.3v53.8M297 2008.3v53.8M335 2008.3v53.8M349.7 2008.3v53.8M378.9 2008.3v53.8M390.6 2008.3v53.8M398 2008.3v53.8M424.3 2008.3v53.8M450.6 2008.3v53.8M463.8 2008.3v53.8M485.8 2008.3v53.8M537 2008.3v53.8" fill="none" stroke="#ceccea" stroke-width="1.6"/>
<path d="M169.6 1362.5v53.8M362.8 1362.5v53.8M427.2 1362.5v53.8M466.7 1362.5v53.8M477 1362.5v53.8M478.5 1362.5v53.8M481.4 1362.5v53.8M519.4 1362.5v53.8M550.2 1362.5v53.8M551.6 1362.5v53.8M566.3 1362.5v53.8M576.5 1362.5v53.8M580.9 1362.5v53.8M602.9 1362.5v53.8M332.1 1416.3v53.8M342.3 1416.3v53.8M371.6 1416.3v53.8M373.1 1416.3v53.8M389.2 1416.3v53.8M447.7 1416.3v53.8M504.8 1416.3v53.8M506.3 1416.3v53.8M507.7 1416.3v53.8M509.2 1416.3v53.8M519.4 1416.3v53.8M532.6 1416.3v53.8M550.2 1416.3v53.8M575.1 1416.3v53.8M580.9 1416.3v53.8M591.2 1416.3v53.8M595.5 1416.3v53.8M602.9 1416.3v53.8M406.7 1470.1v53.8M409.7 1470.1v53.8M447.7 1470.1v53.8M459.4 1470.1v53.8M482.8 1470.1v53.8M484.3 1470.1v53.8M522.4 1470.1v53.8M529.7 1470.1v53.8M554.6 1470.1v53.8M556 1470.1v53.8M563.3 1470.1v53.8M566.3 1470.1v53.8M572.1 1470.1v53.8M579.4 1470.1v53.8M585.3 1470.1v53.8M586.8 1470.1v53.8M588.2 1470.1v53.8M597 1470.1v53.8M602.9 1470.1v53.8M398 1524v53.8M421.4 1524v53.8M440.4 1524v53.8M466.7 1524v53.8M490.2 1524v53.8M497.5 1524v53.8M500.4 1524v53.8M506.3 1524v53.8M507.7 1524v53.8M537 1524v53.8M551.6 1524v53.8M561.9 1524v53.8M572.1 1524v53.8M601.4 1524v53.8M193 1577.8v53.8M198.9 1577.8v53.8M201.8 1577.8v53.8M209.1 1577.8v53.8M210.6 1577.8v53.8M225.2 1577.8v53.8M235.5 1577.8v53.8M238.4 1577.8v53.8M251.6 1577.8v53.8M254.5 1577.8v53.8M257.4 1577.8v53.8M261.8 1577.8v53.8M277.9 1577.8v53.8M286.7 1577.8v53.8M291.1 1577.8v53.8M297 1577.8v53.8M298.4 1577.8v53.8M311.6 1577.8v53.8M314.5 1577.8v53.8M324.8 1577.8v53.8M330.6 1577.8v53.8M343.8 1577.8v53.8M365.8 1577.8v53.8M392.1 1577.8v53.8M412.6 1577.8v53.8M425.8 1577.8v53.8M531.1 1577.8v53.8M576.5 1577.8v53.8M166.7 1631.6v53.8M174 1631.6v53.8M175.5 1631.6v53.8M216.5 1631.6v53.8M232.6 1631.6v53.8M251.6 1631.6v53.8M269.2 1631.6v53.8M275 1631.6v53.8M289.6 1631.6v53.8M337.9 1631.6v53.8M399.4 1631.6v53.8M430.2 1631.6v53.8M462.4 1631.6v53.8M472.6 1631.6v53.8M496 1631.6v53.8M513.6 1631.6v53.8M515 1631.6v53.8M522.4 1631.6v53.8M560.4 1631.6v53.8M169.6 1685.4v53.8M178.4 1685.4v53.8M181.3 1685.4v53.8M209.1 1685.4v53.8M212.1 1685.4v53.8M213.5 1685.4v53.8M215 1685.4v53.8M239.9 1685.4v53.8M244.3 1685.4v53.8M257.4 1685.4v53.8M272.1 1685.4v53.8M304.3 1685.4v53.8M336.5 1685.4v53.8M339.4 1685.4v53.8M345.3 1685.4v53.8M365.8 1685.4v53.8M405.3 1685.4v53.8M427.2 1685.4v53.8M455 1685.4v53.8M563.3 1685.4v53.8M197.4 1739.2v53.8M198.9 1739.2v53.8M220.9 1739.2v53.8M223.8 1739.2v53.8M226.7 1739.2v53.8M239.9 1739.2v53.8M241.3 1739.2v53.8M245.7 1739.2v53.8M276.5 1739.2v53.8M289.6 1739.2v53.8M320.4 1739.2v53.8M337.9 1739.2v53.8M346.7 1739.2v53.8M361.4 1739.2v53.8M386.2 1739.2v53.8M387.7 1739.2v53.8M390.6 1739.2v53.8M395 1739.2v53.8M424.3 1739.2v53.8M168.2 1793.1v53.8M172.6 1793.1v53.8M175.5 1793.1v53.8M181.3 1793.1v53.8M193 1793.1v53.8M210.6 1793.1v53.8M220.9 1793.1v53.8M234 1793.1v53.8M241.3 1793.1v53.8M248.7 1793.1v53.8M254.5 1793.1v53.8M266.2 1793.1v53.8M280.9 1793.1v53.8M286.7 1793.1v53.8M288.2 1793.1v53.8M329.2 1793.1v53.8M330.6 1793.1v53.8M336.5 1793.1v53.8M343.8 1793.1v53.8M351.1 1793.1v53.8M355.5 1793.1v53.8M395 1793.1v53.8M398 1793.1v53.8M434.5 1793.1v53.8M437.5 1793.1v53.8M519.4 1793.1v53.8M566.3 1793.1v53.8M597 1793.1v53.8M598.5 1793.1v53.8M169.6 1846.9v53.8M267.7 1846.9v53.8M292.6 1846.9v53.8M362.8 1846.9v53.8M374.5 1846.9v53.8M380.4 1846.9v53.8M390.6 1846.9v53.8M446.3 1846.9v53.8M462.4 1846.9v53.8M465.3 1846.9v53.8M481.4 1846.9v53.8M509.2 1846.9v53.8M525.3 1846.9v53.8M535.5 1846.9v53.8M542.9 1846.9v53.8M566.3 1846.9v53.8M572.1 1846.9v53.8M599.9 1846.9v53.8M168.2 1900.7v53.8M184.3 1900.7v53.8M204.8 1900.7v53.8M207.7 1900.7v53.8M244.3 1900.7v53.8M251.6 1900.7v53.8M253.1 1900.7v53.8M257.4 1900.7v53.8M261.8 1900.7v53.8M288.2 1900.7v53.8M305.7 1900.7v53.8M329.2 1900.7v53.8M333.6 1900.7v53.8M346.7 1900.7v53.8M359.9 1900.7v53.8M368.7 1900.7v53.8M377.5 1900.7v53.8M393.6 1900.7v53.8M412.6 1900.7v53.8M456.5 1900.7v53.8M459.4 1900.7v53.8M477 1900.7v53.8M537 1900.7v53.8M166.7 1954.5v53.8M178.4 1954.5v53.8M181.3 1954.5v53.8M185.7 1954.5v53.8M191.6 1954.5v53.8M198.9 1954.5v53.8M201.8 1954.5v53.8M203.3 1954.5v53.8M213.5 1954.5v53.8M238.4 1954.5v53.8M241.3 1954.5v53.8M250.1 1954.5v53.8M260.4 1954.5v53.8M264.8 1954.5v53.8M286.7 1954.5v53.8M294 1954.5v53.8M307.2 1954.5v53.8M310.1 1954.5v53.8M321.8 1954.5v53.8M339.4 1954.5v53.8M390.6 1954.5v53.8M392.1 1954.5v53.8M452.1 1954.5v53.8M469.7 1954.5v53.8M475.5 1954.5v53.8M479.9 1954.5v53.8M498.9 1954.5v53.8M554.6 1954.5v53.8M592.6 1954.5v53.8M209.1 2008.3v53.8M256 2008.3v53.8M302.8 2008.3v53.8M307.2 2008.3v53.8M358.4 2008.3v53.8M419.9 2008.3v53.8M440.4 2008.3v53.8M443.3 2008.3v53.8M459.4 2008.3v53.8M460.9 2008.3v53.8M465.3 2008.3v53.8M475.5 2008.3v53.8M478.5 2008.3v53.8M534.1 2008.3v53.8M542.9 2008.3v53.8M551.6 2008.3v53.8M561.9 2008.3v53.8M572.1 2008.3v53.8" fill="none" stroke="#f4acae" stroke-width="1.6"/>
<path d="M171.1 1362.5v53.8M182.8 1362.5v53.8M188.7 1362.5v53.8M207.7 1362.5v53.8M239.9 1362.5v53.8M251.6 1362.5v53.8M257.4 1362.5v53.8M289.6 1362.5v53.8M302.8 1362.5v53.8M321.8 1362.5v53.8M324.8 1362.5v53.8M327.7 1362.5v53.8M346.7 1362.5v53.8M359.9 1362.5v53.8M378.9 1362.5v53.8M592.6 1362.5v53.8M169.6 1416.3v53.8M197.4 1416.3v53.8M198.9 1416.3v53.8M201.8 1416.3v53.8M225.2 1416.3v53.8M232.6 1416.3v53.8M242.8 1416.3v53.8M282.3 1416.3v53.8M324.8 1416.3v53.8M329.2 1416.3v53.8M365.8 1416.3v53.8M392.1 1416.3v53.8M449.2 1416.3v53.8M453.6 1416.3v53.8M469.7 1416.3v53.8M529.7 1416.3v53.8M178.4 1470.1v53.8M185.7 1470.1v53.8M191.6 1470.1v53.8M198.9 1470.1v53.8M203.3 1470.1v53.8M212.1 1470.1v53.8M222.3 1470.1v53.8M234 1470.1v53.8M247.2 1470.1v53.8M248.7 1470.1v53.8M272.1 1470.1v53.8M275 1470.1v53.8M313.1 1470.1v53.8M318.9 1470.1v53.8M330.6 1470.1v53.8M368.7 1470.1v53.8M387.7 1470.1v53.8M403.8 1470.1v53.8M433.1 1470.1v53.8M450.6 1470.1v53.8M469.7 1470.1v53.8M537 1470.1v53.8M165.2 1524v53.8M174 1524v53.8M178.4 1524v53.8M181.3 1524v53.8M194.5 1524v53.8M196 1524v53.8M201.8 1524v53.8M206.2 1524v53.8M210.6 1524v53.8M213.5 1524v53.8M217.9 1524v53.8M223.8 1524v53.8M238.4 1524v53.8M247.2 1524v53.8M253.1 1524v53.8M273.5 1524v53.8M275 1524v53.8M286.7 1524v53.8M302.8 1524v53.8M329.2 1524v53.8M348.2 1524v53.8M365.8 1524v53.8M376 1524v53.8M412.6 1524v53.8M444.8 1524v53.8M313.1 1577.8v53.8M364.3 1577.8v53.8M367.2 1577.8v53.8M424.3 1577.8v53.8M440.4 1577.8v53.8M462.4 1577.8v53.8M481.4 1577.8v53.8M535.5 1577.8v53.8M537 1577.8v53.8M544.3 1577.8v53.8M548.7 1577.8v53.8M591.2 1577.8v53.8M179.9 1631.6v53.8M225.2 1631.6v53.8M241.3 1631.6v53.8M253.1 1631.6v53.8M267.7 1631.6v53.8M272.1 1631.6v53.8M282.3 1631.6v53.8M304.3 1631.6v53.8M310.1 1631.6v53.8M316 1631.6v53.8M321.8 1631.6v53.8M324.8 1631.6v53.8M359.9 1631.6v53.8M367.2 1631.6v53.8M371.6 1631.6v53.8M373.1 1631.6v53.8M374.5 1631.6v53.8M398 1631.6v53.8M424.3 1631.6v53.8M427.2 1631.6v53.8M455 1631.6v53.8M488.7 1631.6v53.8M501.9 1631.6v53.8M509.2 1631.6v53.8M542.9 1631.6v53.8M559 1631.6v53.8M578 1631.6v53.8M580.9 1631.6v53.8M594.1 1631.6v53.8M599.9 1631.6v53.8M313.1 1685.4v53.8M354 1685.4v53.8M431.6 1685.4v53.8M438.9 1685.4v53.8M459.4 1685.4v53.8M475.5 1685.4v53.8M493.1 1685.4v53.8M498.9 1685.4v53.8M501.9 1685.4v53.8M507.7 1685.4v53.8M509.2 1685.4v53.8M519.4 1685.4v53.8M541.4 1685.4v53.8M551.6 1685.4v53.8M567.7 1685.4v53.8M569.2 1685.4v53.8M582.4 1685.4v53.8M586.8 1685.4v53.8M588.2 1685.4v53.8M595.5 1685.4v53.8M601.4 1685.4v53.8M348.2 1739.2v53.8M364.3 1739.2v53.8M396.5 1739.2v53.8M415.5 1739.2v53.8M419.9 1739.2v53.8M501.9 1739.2v53.8M504.8 1739.2v53.8M506.3 1739.2v53.8M523.8 1739.2v53.8M525.3 1739.2v53.8M557.5 1739.2v53.8M578 1739.2v53.8M580.9 1739.2v53.8M583.8 1739.2v53.8M313.1 1793.1v53.8M406.7 1793.1v53.8M436 1793.1v53.8M490.2 1793.1v53.8M542.9 1793.1v53.8M544.3 1793.1v53.8M553.1 1793.1v53.8M570.7 1793.1v53.8M580.9 1793.1v53.8M601.4 1793.1v53.8M184.3 1846.9v53.8M245.7 1846.9v53.8M250.1 1846.9v53.8M277.9 1846.9v53.8M320.4 1846.9v53.8M357 1846.9v53.8M516.5 1846.9v53.8M307.2 1900.7v53.8M396.5 1900.7v53.8M447.7 1900.7v53.8M455 1900.7v53.8M475.5 1900.7v53.8M485.8 1900.7v53.8M500.4 1900.7v53.8M526.8 1900.7v53.8M569.2 1900.7v53.8M580.9 1900.7v53.8M599.9 1900.7v53.8M601.4 1900.7v53.8M364.3 1954.5v53.8M409.7 1954.5v53.8M465.3 1954.5v53.8M490.2 1954.5v53.8M501.9 1954.5v53.8M512.1 1954.5v53.8M531.1 1954.5v53.8M537 1954.5v53.8M547.2 1954.5v53.8M576.5 1954.5v53.8M586.8 1954.5v53.8M601.4 1954.5v53.8M168.2 2008.3v53.8M169.6 2008.3v53.8M178.4 2008.3v53.8M181.3 2008.3v53.8M184.3 2008.3v53.8M191.6 2008.3v53.8M201.8 2008.3v53.8M203.3 2008.3v53.8M223.8 2008.3v53.8M253.1 2008.3v53.8M257.4 2008.3v53.8M324.8 2008.3v53.8M327.7 2008.3v53.8M332.1 2008.3v53.8M333.6 2008.3v53.8M339.4 2008.3v53.8M346.7 2008.3v53.8M348.2 2008.3v53.8M364.3 2008.3v53.8M393.6 2008.3v53.8M400.9 2008.3v53.8M446.3 2008.3v53.8" fill="none" stroke="#a2a4db" stroke-width="1.6"/>
<path d="M174 1362.5v53.8M197.4 1362.5v53.8M210.6 1362.5v53.8M216.5 1362.5v53.8M228.2 1362.5v53.8M229.6 1362.5v53.8M232.6 1362.5v53.8M247.2 1362.5v53.8M254.5 1362.5v53.8M261.8 1362.5v53.8M269.2 1362.5v53.8M270.6 1362.5v53.8M272.1 1362.5v53.8M308.7 1362.5v53.8M317.5 1362.5v53.8M326.2 1362.5v53.8M348.2 1362.5v53.8M400.9 1362.5v53.8M450.6 1362.5v53.8M474.1 1362.5v53.8M482.8 1362.5v53.8M515 1362.5v53.8M525.3 1362.5v53.8M168.2 1416.3v53.8M184.3 1416.3v53.8M226.7 1416.3v53.8M244.3 1416.3v53.8M245.7 1416.3v53.8M256 1416.3v53.8M257.4 1416.3v53.8M261.8 1416.3v53.8M292.6 1416.3v53.8M295.5 1416.3v53.8M299.9 1416.3v53.8M305.7 1416.3v53.8M316 1416.3v53.8M317.5 1416.3v53.8M323.3 1416.3v53.8M367.2 1416.3v53.8M390.6 1416.3v53.8M395 1416.3v53.8M414.1 1416.3v53.8M430.2 1416.3v53.8M438.9 1416.3v53.8M452.1 1416.3v53.8M472.6 1416.3v53.8M477 1416.3v53.8M487.2 1416.3v53.8M563.3 1416.3v53.8M566.3 1416.3v53.8M168.2 1470.1v53.8M201.8 1470.1v53.8M206.2 1470.1v53.8M207.7 1470.1v53.8M213.5 1470.1v53.8M215 1470.1v53.8M217.9 1470.1v53.8M253.1 1470.1v53.8M256 1470.1v53.8M257.4 1470.1v53.8M260.4 1470.1v53.8M267.7 1470.1v53.8M282.3 1470.1v53.8M298.4 1470.1v53.8M299.9 1470.1v53.8M323.3 1470.1v53.8M332.1 1470.1v53.8M337.9 1470.1v53.8M345.3 1470.1v53.8M351.1 1470.1v53.8M362.8 1470.1v53.8M380.4 1470.1v53.8M383.3 1470.1v53.8M395 1470.1v53.8M400.9 1470.1v53.8M425.8 1470.1v53.8M453.6 1470.1v53.8M468.2 1470.1v53.8M166.7 1524v53.8M207.7 1524v53.8M228.2 1524v53.8M229.6 1524v53.8M232.6 1524v53.8M234 1524v53.8M248.7 1524v53.8M251.6 1524v53.8M280.9 1524v53.8M288.2 1524v53.8M292.6 1524v53.8M305.7 1524v53.8M310.1 1524v53.8M314.5 1524v53.8M318.9 1524v53.8M330.6 1524v53.8M333.6 1524v53.8M352.6 1524v53.8M373.1 1524v53.8M437.5 1524v53.8M453.6 1524v53.8M477 1524v53.8M560.4 1524v53.8M362.8 1577.8v53.8M376 1577.8v53.8M389.2 1577.8v53.8M417 1577.8v53.8M421.4 1577.8v53.8M444.8 1577.8v53.8M450.6 1577.8v53.8M453.6 1577.8v53.8M485.8 1577.8v53.8M515 1577.8v53.8M557.5 1577.8v53.8M579.4 1577.8v53.8M582.4 1577.8v53.8M601.4 1577.8v53.8M169.6 1631.6v53.8M204.8 1631.6v53.8M220.9 1631.6v53.8M229.6 1631.6v53.8M254.5 1631.6v53.8M273.5 1631.6v53.8M305.7 1631.6v53.8M318.9 1631.6v53.8M342.3 1631.6v53.8M351.1 1631.6v53.8M384.8 1631.6v53.8M395 1631.6v53.8M402.3 1631.6v53.8M408.2 1631.6v53.8M440.4 1631.6v53.8M443.3 1631.6v53.8M444.8 1631.6v53.8M447.7 1631.6v53.8M463.8 1631.6v53.8M477 1631.6v53.8M516.5 1631.6v53.8M561.9 1631.6v53.8M576.5 1631.6v53.8M591.2 1631.6v53.8M595.5 1631.6v53.8M279.4 1685.4v53.8M310.1 1685.4v53.8M373.1 1685.4v53.8M374.5 1685.4v53.8M396.5 1685.4v53.8M424.3 1685.4v53.8M428.7 1685.4v53.8M479.9 1685.4v53.8M481.4 1685.4v53.8M497.5 1685.4v53.8M516.5 1685.4v53.8M544.3 1685.4v53.8M557.5 1685.4v53.8M559 1685.4v53.8M342.3 1739.2v53.8M392.1 1739.2v53.8M409.7 1739.2v53.8M444.8 1739.2v53.8M456.5 1739.2v53.8M463.8 1739.2v53.8M468.2 1739.2v53.8M469.7 1739.2v53.8M475.5 1739.2v53.8M477 1739.2v53.8M491.6 1739.2v53.8M500.4 1739.2v53.8M518 1739.2v53.8M520.9 1739.2v53.8M532.6 1739.2v53.8M545.8 1739.2v53.8M559 1739.2v53.8M561.9 1739.2v53.8M575.1 1739.2v53.8M588.2 1739.2v53.8M427.2 1793.1v53.8M443.3 1793.1v53.8M444.8 1793.1v53.8M449.2 1793.1v53.8M463.8 1793.1v53.8M504.8 1793.1v53.8M510.7 1793.1v53.8M569.2 1793.1v53.8M576.5 1793.1v53.8M579.4 1793.1v53.8M582.4 1793.1v53.8M599.9 1793.1v53.8M166.7 1846.9v53.8M168.2 1846.9v53.8M176.9 1846.9v53.8M185.7 1846.9v53.8M201.8 1846.9v53.8M217.9 1846.9v53.8M232.6 1846.9v53.8M239.9 1846.9v53.8M261.8 1846.9v53.8M308.7 1846.9v53.8M324.8 1846.9v53.8M327.7 1846.9v53.8M346.7 1846.9v53.8M349.7 1846.9v53.8M352.6 1846.9v53.8M373.1 1846.9v53.8M387.7 1846.9v53.8M405.3 1846.9v53.8M424.3 1846.9v53.8M178.4 1900.7v53.8M389.2 1900.7v53.8M398 1900.7v53.8M408.2 1900.7v53.8M427.2 1900.7v53.8M431.6 1900.7v53.8M440.4 1900.7v53.8M468.2 1900.7v53.8M474.1 1900.7v53.8M506.3 1900.7v53.8M512.1 1900.7v53.8M532.6 1900.7v53.8M553.1 1900.7v53.8M561.9 1900.7v53.8M576.5 1900.7v53.8M578 1900.7v53.8M579.4 1900.7v53.8M592.6 1900.7v53.8M595.5 1900.7v53.8M602.9 1900.7v53.8M209.1 1954.5v53.8M291.1 1954.5v53.8M343.8 1954.5v53.8M370.1 1954.5v53.8M412.6 1954.5v53.8M471.1 1954.5v53.8M477 1954.5v53.8M493.1 1954.5v53.8M494.6 1954.5v53.8M503.3 1954.5v53.8M507.7 1954.5v53.8M522.4 1954.5v53.8M557.5 1954.5v53.8M575.1 1954.5v53.8M585.3 1954.5v53.8M166.7 2008.3v53.8M174 2008.3v53.8M207.7 2008.3v53.8M216.5 2008.3v53.8M217.9 2008.3v53.8M219.4 2008.3v53.8M229.6 2008.3v53.8M234 2008.3v53.8M241.3 2008.3v53.8M248.7 2008.3v53.8M258.9 2008.3v53.8M264.8 2008.3v53.8M282.3 2008.3v53.8M299.9 2008.3v53.8M317.5 2008.3v53.8M323.3 2008.3v53.8M368.7 2008.3v53.8M383.3 2008.3v53.8M415.5 2008.3v53.8M427.2 2008.3v53.8M455 2008.3v53.8M494.6 2008.3v53.8M520.9 2008.3v53.8" fill="none" stroke="#b9b9e4" stroke-width="1.6"/>
<path d="M175.5 1362.5v53.8M194.5 1362.5v53.8M198.9 1362.5v53.8M209.1 1362.5v53.8M213.5 1362.5v53.8M234 1362.5v53.8M235.5 1362.5v53.8M241.3 1362.5v53.8M242.8 1362.5v53.8M244.3 1362.5v53.8M245.7 1362.5v53.8M248.7 1362.5v53.8M266.2 1362.5v53.8M273.5 1362.5v53.8M279.4 1362.5v53.8M285.3 1362.5v53.8M292.6 1362.5v53.8M299.9 1362.5v53.8M310.1 1362.5v53.8M318.9 1362.5v53.8M320.4 1362.5v53.8M330.6 1362.5v53.8M352.6 1362.5v53.8M367.2 1362.5v53.8M368.7 1362.5v53.8M370.1 1362.5v53.8M373.1 1362.5v53.8M383.3 1362.5v53.8M384.8 1362.5v53.8M395 1362.5v53.8M403.8 1362.5v53.8M419.9 1362.5v53.8M422.8 1362.5v53.8M428.7 1362.5v53.8M430.2 1362.5v53.8M436 1362.5v53.8M446.3 1362.5v53.8M463.8 1362.5v53.8M472.6 1362.5v53.8M479.9 1362.5v53.8M494.6 1362.5v53.8M498.9 1362.5v53.8M518 1362.5v53.8M522.4 1362.5v53.8M526.8 1362.5v53.8M528.2 1362.5v53.8M534.1 1362.5v53.8M535.5 1362.5v53.8M537 1362.5v53.8M560.4 1362.5v53.8M570.7 1362.5v53.8M573.6 1362.5v53.8M585.3 1362.5v53.8M586.8 1362.5v53.8M179.9 1416.3v53.8M181.3 1416.3v53.8M187.2 1416.3v53.8M191.6 1416.3v53.8M212.1 1416.3v53.8M223.8 1416.3v53.8M231.1 1416.3v53.8M238.4 1416.3v53.8M247.2 1416.3v53.8M250.1 1416.3v53.8M260.4 1416.3v53.8M263.3 1416.3v53.8M272.1 1416.3v53.8M283.8 1416.3v53.8M298.4 1416.3v53.8M301.4 1416.3v53.8M308.7 1416.3v53.8M310.1 1416.3v53.8M313.1 1416.3v53.8M321.8 1416.3v53.8M333.6 1416.3v53.8M335 1416.3v53.8M339.4 1416.3v53.8M345.3 1416.3v53.8M352.6 1416.3v53.8M354 1416.3v53.8M378.9 1416.3v53.8M381.9 1416.3v53.8M405.3 1416.3v53.8M406.7 1416.3v53.8M417 1416.3v53.8M422.8 1416.3v53.8M443.3 1416.3v53.8M456.5 1416.3v53.8M463.8 1416.3v53.8M465.3 1416.3v53.8M471.1 1416.3v53.8M479.9 1416.3v53.8M493.1 1416.3v53.8M516.5 1416.3v53.8M537 1416.3v53.8M569.2 1416.3v53.8M182.8 1470.1v53.8M193 1470.1v53.8M204.8 1470.1v53.8M225.2 1470.1v53.8M258.9 1470.1v53.8M283.8 1470.1v53.8M292.6 1470.1v53.8M294 1470.1v53.8M301.4 1470.1v53.8M302.8 1470.1v53.8M307.2 1470.1v53.8M310.1 1470.1v53.8M314.5 1470.1v53.8M349.7 1470.1v53.8M361.4 1470.1v53.8M371.6 1470.1v53.8M376 1470.1v53.8M378.9 1470.1v53.8M381.9 1470.1v53.8M384.8 1470.1v53.8M386.2 1470.1v53.8M398 1470.1v53.8M414.1 1470.1v53.8M428.7 1470.1v53.8M431.6 1470.1v53.8M436 1470.1v53.8M437.5 1470.1v53.8M455 1470.1v53.8M456.5 1470.1v53.8M458 1470.1v53.8M463.8 1470.1v53.8M497.5 1470.1v53.8M501.9 1470.1v53.8M506.3 1470.1v53.8M516.5 1470.1v53.8M569.2 1470.1v53.8M576.5 1470.1v53.8M188.7 1524v53.8M191.6 1524v53.8M216.5 1524v53.8M222.3 1524v53.8M245.7 1524v53.8M260.4 1524v53.8M261.8 1524v53.8M270.6 1524v53.8M272.1 1524v53.8M282.3 1524v53.8M307.2 1524v53.8M311.6 1524v53.8M313.1 1524v53.8M332.1 1524v53.8M339.4 1524v53.8M340.9 1524v53.8M343.8 1524v53.8M367.2 1524v53.8M370.1 1524v53.8M377.5 1524v53.8M381.9 1524v53.8M387.7 1524v53.8M400.9 1524v53.8M403.8 1524v53.8M406.7 1524v53.8M430.2 1524v53.8M433.1 1524v53.8M438.9 1524v53.8M459.4 1524v53.8M465.3 1524v53.8M468.2 1524v53.8M474.1 1524v53.8M479.9 1524v53.8M488.7 1524v53.8M513.6 1524v53.8M541.4 1524v53.8M597 1524v53.8M172.6 1577.8v53.8M203.3 1577.8v53.8M204.8 1577.8v53.8M222.3 1577.8v53.8M241.3 1577.8v53.8M301.4 1577.8v53.8M302.8 1577.8v53.8M308.7 1577.8v53.8M321.8 1577.8v53.8M323.3 1577.8v53.8M352.6 1577.8v53.8M361.4 1577.8v53.8M396.5 1577.8v53.8M406.7 1577.8v53.8M431.6 1577.8v53.8M475.5 1577.8v53.8M493.1 1577.8v53.8M500.4 1577.8v53.8M503.3 1577.8v53.8M516.5 1577.8v53.8M526.8 1577.8v53.8M534.1 1577.8v53.8M560.4 1577.8v53.8M575.1 1577.8v53.8M578 1577.8v53.8M598.5 1577.8v53.8M165.2 1631.6v53.8M182.8 1631.6v53.8M191.6 1631.6v53.8M197.4 1631.6v53.8M203.3 1631.6v53.8M217.9 1631.6v53.8M219.4 1631.6v53.8M222.3 1631.6v53.8M223.8 1631.6v53.8M238.4 1631.6v53.8M245.7 1631.6v53.8M260.4 1631.6v53.8M301.4 1631.6v53.8M307.2 1631.6v53.8M311.6 1631.6v53.8M333.6 1631.6v53.8M354 1631.6v53.8M357 1631.6v53.8M358.4 1631.6v53.8M370.1 1631.6v53.8M390.6 1631.6v53.8M409.7 1631.6v53.8M414.1 1631.6v53.8M417 1631.6v53.8M428.7 1631.6v53.8M450.6 1631.6v53.8M452.1 1631.6v53.8M458 1631.6v53.8M460.9 1631.6v53.8M481.4 1631.6v53.8M485.8 1631.6v53.8M487.2 1631.6v53.8M491.6 1631.6v53.8M494.6 1631.6v53.8M518 1631.6v53.8M541.4 1631.6v53.8M566.3 1631.6v53.8M569.2 1631.6v53.8M579.4 1631.6v53.8M588.2 1631.6v53.8M597 1631.6v53.8M601.4 1631.6v53.8M182.8 1685.4v53.8M190.1 1685.4v53.8M269.2 1685.4v53.8M273.5 1685.4v53.8M275 1685.4v53.8M302.8 1685.4v53.8M337.9 1685.4v53.8M355.5 1685.4v53.8M362.8 1685.4v53.8M380.4 1685.4v53.8M386.2 1685.4v53.8M406.7 1685.4v53.8M411.1 1685.4v53.8M422.8 1685.4v53.8M437.5 1685.4v53.8M446.3 1685.4v53.8M449.2 1685.4v53.8M456.5 1685.4v53.8M463.8 1685.4v53.8M465.3 1685.4v53.8M478.5 1685.4v53.8M484.3 1685.4v53.8M491.6 1685.4v53.8M494.6 1685.4v53.8M503.3 1685.4v53.8M528.2 1685.4v53.8M532.6 1685.4v53.8M554.6 1685.4v53.8M561.9 1685.4v53.8M564.8 1685.4v53.8M575.1 1685.4v53.8M589.7 1685.4v53.8M591.2 1685.4v53.8M597 1685.4v53.8M182.8 1739.2v53.8M201.8 1739.2v53.8M228.2 1739.2v53.8M237 1739.2v53.8M253.1 1739.2v53.8M256 1739.2v53.8M310.1 1739.2v53.8M340.9 1739.2v53.8M343.8 1739.2v53.8M355.5 1739.2v53.8M371.6 1739.2v53.8M378.9 1739.2v53.8M384.8 1739.2v53.8M389.2 1739.2v53.8M393.6 1739.2v53.8M427.2 1739.2v53.8M443.3 1739.2v53.8M447.7 1739.2v53.8M458 1739.2v53.8M466.7 1739.2v53.8M493.1 1739.2v53.8M507.7 1739.2v53.8M509.2 1739.2v53.8M510.7 1739.2v53.8M516.5 1739.2v53.8M519.4 1739.2v53.8M531.1 1739.2v53.8M534.1 1739.2v53.8M535.5 1739.2v53.8M537 1739.2v53.8M538.5 1739.2v53.8M544.3 1739.2v53.8M548.7 1739.2v53.8M566.3 1739.2v53.8M569.2 1739.2v53.8M585.3 1739.2v53.8M594.1 1739.2v53.8M219.4 1793.1v53.8M239.9 1793.1v53.8M272.1 1793.1v53.8M308.7 1793.1v53.8M320.4 1793.1v53.8M323.3 1793.1v53.8M354 1793.1v53.8M359.9 1793.1v53.8M374.5 1793.1v53.8M411.1 1793.1v53.8M450.6 1793.1v53.8M455 1793.1v53.8M487.2 1793.1v53.8M491.6 1793.1v53.8M493.1 1793.1v53.8M494.6 1793.1v53.8M516.5 1793.1v53.8M539.9 1793.1v53.8M545.8 1793.1v53.8M573.6 1793.1v53.8M602.9 1793.1v53.8M165.2 1846.9v53.8M172.6 1846.9v53.8M187.2 1846.9v53.8M193 1846.9v53.8M196 1846.9v53.8M204.8 1846.9v53.8M206.2 1846.9v53.8M213.5 1846.9v53.8M216.5 1846.9v53.8M222.3 1846.9v53.8M223.8 1846.9v53.8M226.7 1846.9v53.8M228.2 1846.9v53.8M229.6 1846.9v53.8M234 1846.9v53.8M235.5 1846.9v53.8M244.3 1846.9v53.8M254.5 1846.9v53.8M256 1846.9v53.8M260.4 1846.9v53.8M264.8 1846.9v53.8M289.6 1846.9v53.8M294 1846.9v53.8M302.8 1846.9v53.8M337.9 1846.9v53.8M345.3 1846.9v53.8M358.4 1846.9v53.8M359.9 1846.9v53.8M365.8 1846.9v53.8M368.7 1846.9v53.8M377.5 1846.9v53.8M383.3 1846.9v53.8M386.2 1846.9v53.8M409.7 1846.9v53.8M414.1 1846.9v53.8M430.2 1846.9v53.8M434.5 1846.9v53.8M437.5 1846.9v53.8M482.8 1846.9v53.8M488.7 1846.9v53.8M518 1846.9v53.8M556 1846.9v53.8M588.2 1846.9v53.8M256 1900.7v53.8M258.9 1900.7v53.8M272.1 1900.7v53.8M301.4 1900.7v53.8M332.1 1900.7v53.8M362.8 1900.7v53.8M374.5 1900.7v53.8M399.4 1900.7v53.8M403.8 1900.7v53.8M409.7 1900.7v53.8M414.1 1900.7v53.8M422.8 1900.7v53.8M433.1 1900.7v53.8M466.7 1900.7v53.8M471.1 1900.7v53.8M484.3 1900.7v53.8M487.2 1900.7v53.8M498.9 1900.7v53.8M501.9 1900.7v53.8M516.5 1900.7v53.8M519.4 1900.7v53.8M523.8 1900.7v53.8M542.9 1900.7v53.8M545.8 1900.7v53.8M548.7 1900.7v53.8M557.5 1900.7v53.8M572.1 1900.7v53.8M573.6 1900.7v53.8M585.3 1900.7v53.8M588.2 1900.7v53.8M594.1 1900.7v53.8M188.7 1954.5v53.8M216.5 1954.5v53.8M219.4 1954.5v53.8M254.5 1954.5v53.8M270.6 1954.5v53.8M292.6 1954.5v53.8M297 1954.5v53.8M302.8 1954.5v53.8M311.6 1954.5v53.8M313.1 1954.5v53.8M316 1954.5v53.8M324.8 1954.5v53.8M333.6 1954.5v53.8M376 1954.5v53.8M386.2 1954.5v53.8M395 1954.5v53.8M405.3 1954.5v53.8M408.2 1954.5v53.8M424.3 1954.5v53.8M444.8 1954.5v53.8M447.7 1954.5v53.8M463.8 1954.5v53.8M481.4 1954.5v53.8M497.5 1954.5v53.8M500.4 1954.5v53.8M504.8 1954.5v53.8M520.9 1954.5v53.8M526.8 1954.5v53.8M528.2 1954.5v53.8M535.5 1954.5v53.8M559 1954.5v53.8M567.7 1954.5v53.8M569.2 1954.5v53.8M588.2 1954.5v53.8M591.2 1954.5v53.8M595.5 1954.5v53.8M194.5 2008.3v53.8M200.4 2008.3v53.8M220.9 2008.3v53.8M222.3 2008.3v53.8M237 2008.3v53.8M245.7 2008.3v53.8M247.2 2008.3v53.8M254.5 2008.3v53.8M263.3 2008.3v53.8M269.2 2008.3v53.8M276.5 2008.3v53.8M277.9 2008.3v53.8M280.9 2008.3v53.8M289.6 2008.3v53.8M316 2008.3v53.8M329.2 2008.3v53.8M330.6 2008.3v53.8M340.9 2008.3v53.8M373.1 2008.3v53.8M387.7 2008.3v53.8M389.2 2008.3v53.8M395 2008.3v53.8M412.6 2008.3v53.8M437.5 2008.3v53.8M452.1 2008.3v53.8M453.6 2008.3v53.8M472.6 2008.3v53.8M484.3 2008.3v53.8M487.2 2008.3v53.8M498.9 2008.3v53.8M503.3 2008.3v53.8M506.3 2008.3v53.8M512.1 2008.3v53.8M529.7 2008.3v53.8M547.2 2008.3v53.8M560.4 2008.3v53.8M573.6 2008.3v53.8M575.1 2008.3v53.8" fill="none" stroke="#e1ddef" stroke-width="1.6"/>
<path d="M176.9 1362.5v53.8M178.4 1362.5v53.8M184.3 1362.5v53.8M187.2 1362.5v53.8M196 1362.5v53.8M203.3 1362.5v53.8M212.1 1362.5v53.8M220.9 1362.5v53.8M222.3 1362.5v53.8M250.1 1362.5v53.8M263.3 1362.5v53.8M283.8 1362.5v53.8M286.7 1362.5v53.8M294 1362.5v53.8M295.5 1362.5v53.8M305.7 1362.5v53.8M307.2 1362.5v53.8M311.6 1362.5v53.8M314.5 1362.5v53.8M316 1362.5v53.8M329.2 1362.5v53.8M333.6 1362.5v53.8M337.9 1362.5v53.8M340.9 1362.5v53.8M343.8 1362.5v53.8M390.6 1362.5v53.8M402.3 1362.5v53.8M405.3 1362.5v53.8M415.5 1362.5v53.8M417 1362.5v53.8M418.4 1362.5v53.8M437.5 1362.5v53.8M438.9 1362.5v53.8M441.9 1362.5v53.8M444.8 1362.5v53.8M449.2 1362.5v53.8M460.9 1362.5v53.8M462.4 1362.5v53.8M491.6 1362.5v53.8M512.1 1362.5v53.8M516.5 1362.5v53.8M520.9 1362.5v53.8M529.7 1362.5v53.8M531.1 1362.5v53.8M544.3 1362.5v53.8M556 1362.5v53.8M579.4 1362.5v53.8M594.1 1362.5v53.8M597 1362.5v53.8M196 1416.3v53.8M207.7 1416.3v53.8M215 1416.3v53.8M219.4 1416.3v53.8M234 1416.3v53.8M276.5 1416.3v53.8M279.4 1416.3v53.8M297 1416.3v53.8M326.2 1416.3v53.8M327.7 1416.3v53.8M330.6 1416.3v53.8M337.9 1416.3v53.8M348.2 1416.3v53.8M349.7 1416.3v53.8M364.3 1416.3v53.8M368.7 1416.3v53.8M408.2 1416.3v53.8M412.6 1416.3v53.8M424.3 1416.3v53.8M425.8 1416.3v53.8M428.7 1416.3v53.8M482.8 1416.3v53.8M490.2 1416.3v53.8M512.1 1416.3v53.8M513.6 1416.3v53.8M525.3 1416.3v53.8M528.2 1416.3v53.8M544.3 1416.3v53.8M560.4 1416.3v53.8M570.7 1416.3v53.8M573.6 1416.3v53.8M585.3 1416.3v53.8M172.6 1470.1v53.8M179.9 1470.1v53.8M229.6 1470.1v53.8M254.5 1470.1v53.8M269.2 1470.1v53.8M291.1 1470.1v53.8M327.7 1470.1v53.8M329.2 1470.1v53.8M335 1470.1v53.8M336.5 1470.1v53.8M343.8 1470.1v53.8M348.2 1470.1v53.8M357 1470.1v53.8M373.1 1470.1v53.8M374.5 1470.1v53.8M422.8 1470.1v53.8M449.2 1470.1v53.8M479.9 1470.1v53.8M504.8 1470.1v53.8M526.8 1470.1v53.8M545.8 1470.1v53.8M197.4 1524v53.8M212.1 1524v53.8M225.2 1524v53.8M237 1524v53.8M266.2 1524v53.8M269.2 1524v53.8M279.4 1524v53.8M283.8 1524v53.8M301.4 1524v53.8M323.3 1524v53.8M326.2 1524v53.8M336.5 1524v53.8M345.3 1524v53.8M346.7 1524v53.8M349.7 1524v53.8M351.1 1524v53.8M354 1524v53.8M355.5 1524v53.8M358.4 1524v53.8M364.3 1524v53.8M384.8 1524v53.8M386.2 1524v53.8M408.2 1524v53.8M409.7 1524v53.8M415.5 1524v53.8M424.3 1524v53.8M428.7 1524v53.8M443.3 1524v53.8M455 1524v53.8M463.8 1524v53.8M469.7 1524v53.8M510.7 1524v53.8M534.1 1524v53.8M564.8 1524v53.8M196 1577.8v53.8M260.4 1577.8v53.8M267.7 1577.8v53.8M269.2 1577.8v53.8M310.1 1577.8v53.8M335 1577.8v53.8M340.9 1577.8v53.8M349.7 1577.8v53.8M357 1577.8v53.8M370.1 1577.8v53.8M371.6 1577.8v53.8M380.4 1577.8v53.8M400.9 1577.8v53.8M405.3 1577.8v53.8M408.2 1577.8v53.8M411.1 1577.8v53.8M427.2 1577.8v53.8M455 1577.8v53.8M459.4 1577.8v53.8M484.3 1577.8v53.8M487.2 1577.8v53.8M496 1577.8v53.8M497.5 1577.8v53.8M519.4 1577.8v53.8M520.9 1577.8v53.8M523.8 1577.8v53.8M538.5 1577.8v53.8M556 1577.8v53.8M586.8 1577.8v53.8M589.7 1577.8v53.8M595.5 1577.8v53.8M597 1577.8v53.8M602.9 1577.8v53.8M172.6 1631.6v53.8M193 1631.6v53.8M234 1631.6v53.8M235.5 1631.6v53.8M256 1631.6v53.8M264.8 1631.6v53.8M288.2 1631.6v53.8M292.6 1631.6v53.8M294 1631.6v53.8M295.5 1631.6v53.8M335 1631.6v53.8M343.8 1631.6v53.8M345.3 1631.6v53.8M348.2 1631.6v53.8M364.3 1631.6v53.8M396.5 1631.6v53.8M403.8 1631.6v53.8M406.7 1631.6v53.8M412.6 1631.6v53.8M415.5 1631.6v53.8M437.5 1631.6v53.8M453.6 1631.6v53.8M459.4 1631.6v53.8M469.7 1631.6v53.8M482.8 1631.6v53.8M506.3 1631.6v53.8M531.1 1631.6v53.8M539.9 1631.6v53.8M563.3 1631.6v53.8M573.6 1631.6v53.8M585.3 1631.6v53.8M598.5 1631.6v53.8M187.2 1685.4v53.8M191.6 1685.4v53.8M201.8 1685.4v53.8M222.3 1685.4v53.8M225.2 1685.4v53.8M231.1 1685.4v53.8M250.1 1685.4v53.8M254.5 1685.4v53.8M261.8 1685.4v53.8M283.8 1685.4v53.8M286.7 1685.4v53.8M316 1685.4v53.8M326.2 1685.4v53.8M329.2 1685.4v53.8M358.4 1685.4v53.8M368.7 1685.4v53.8M377.5 1685.4v53.8M390.6 1685.4v53.8M393.6 1685.4v53.8M403.8 1685.4v53.8M418.4 1685.4v53.8M421.4 1685.4v53.8M425.8 1685.4v53.8M433.1 1685.4v53.8M444.8 1685.4v53.8M450.6 1685.4v53.8M460.9 1685.4v53.8M471.1 1685.4v53.8M487.2 1685.4v53.8M490.2 1685.4v53.8M500.4 1685.4v53.8M520.9 1685.4v53.8M525.3 1685.4v53.8M526.8 1685.4v53.8M537 1685.4v53.8M547.2 1685.4v53.8M548.7 1685.4v53.8M556 1685.4v53.8M572.1 1685.4v53.8M573.6 1685.4v53.8M598.5 1685.4v53.8M599.9 1685.4v53.8M171.1 1739.2v53.8M222.3 1739.2v53.8M231.1 1739.2v53.8M242.8 1739.2v53.8M254.5 1739.2v53.8M257.4 1739.2v53.8M269.2 1739.2v53.8M270.6 1739.2v53.8M282.3 1739.2v53.8M285.3 1739.2v53.8M316 1739.2v53.8M318.9 1739.2v53.8M335 1739.2v53.8M349.7 1739.2v53.8M351.1 1739.2v53.8M365.8 1739.2v53.8M373.1 1739.2v53.8M380.4 1739.2v53.8M399.4 1739.2v53.8M428.7 1739.2v53.8M440.4 1739.2v53.8M471.1 1739.2v53.8M474.1 1739.2v53.8M478.5 1739.2v53.8M482.8 1739.2v53.8M488.7 1739.2v53.8M494.6 1739.2v53.8M497.5 1739.2v53.8M589.7 1739.2v53.8M591.2 1739.2v53.8M599.9 1739.2v53.8M182.8 1793.1v53.8M201.8 1793.1v53.8M264.8 1793.1v53.8M270.6 1793.1v53.8M299.9 1793.1v53.8M362.8 1793.1v53.8M368.7 1793.1v53.8M399.4 1793.1v53.8M402.3 1793.1v53.8M405.3 1793.1v53.8M415.5 1793.1v53.8M418.4 1793.1v53.8M421.4 1793.1v53.8M422.8 1793.1v53.8M462.4 1793.1v53.8M465.3 1793.1v53.8M482.8 1793.1v53.8M488.7 1793.1v53.8M496 1793.1v53.8M506.3 1793.1v53.8M509.2 1793.1v53.8M513.6 1793.1v53.8M515 1793.1v53.8M518 1793.1v53.8M523.8 1793.1v53.8M564.8 1793.1v53.8M567.7 1793.1v53.8M572.1 1793.1v53.8M594.1 1793.1v53.8M171.1 1846.9v53.8M190.1 1846.9v53.8M200.4 1846.9v53.8M207.7 1846.9v53.8M212.1 1846.9v53.8M251.6 1846.9v53.8M253.1 1846.9v53.8M258.9 1846.9v53.8M269.2 1846.9v53.8M276.5 1846.9v53.8M282.3 1846.9v53.8M305.7 1846.9v53.8M307.2 1846.9v53.8M311.6 1846.9v53.8M313.1 1846.9v53.8M321.8 1846.9v53.8M330.6 1846.9v53.8M333.6 1846.9v53.8M342.3 1846.9v53.8M343.8 1846.9v53.8M378.9 1846.9v53.8M389.2 1846.9v53.8M392.1 1846.9v53.8M393.6 1846.9v53.8M395 1846.9v53.8M399.4 1846.9v53.8M400.9 1846.9v53.8M406.7 1846.9v53.8M411.1 1846.9v53.8M419.9 1846.9v53.8M440.4 1846.9v53.8M450.6 1846.9v53.8M468.2 1846.9v53.8M513.6 1846.9v53.8M523.8 1846.9v53.8M528.2 1846.9v53.8M529.7 1846.9v53.8M534.1 1846.9v53.8M539.9 1846.9v53.8M561.9 1846.9v53.8M570.7 1846.9v53.8M165.2 1900.7v53.8M172.6 1900.7v53.8M185.7 1900.7v53.8M193 1900.7v53.8M197.4 1900.7v53.8M215 1900.7v53.8M242.8 1900.7v53.8M245.7 1900.7v53.8M247.2 1900.7v53.8M282.3 1900.7v53.8M295.5 1900.7v53.8M297 1900.7v53.8M298.4 1900.7v53.8M311.6 1900.7v53.8M335 1900.7v53.8M348.2 1900.7v53.8M349.7 1900.7v53.8M355.5 1900.7v53.8M384.8 1900.7v53.8M392.1 1900.7v53.8M411.1 1900.7v53.8M418.4 1900.7v53.8M434.5 1900.7v53.8M436 1900.7v53.8M438.9 1900.7v53.8M441.9 1900.7v53.8M462.4 1900.7v53.8M481.4 1900.7v53.8M503.3 1900.7v53.8M507.7 1900.7v53.8M520.9 1900.7v53.8M539.9 1900.7v53.8M544.3 1900.7v53.8M547.2 1900.7v53.8M570.7 1900.7v53.8M168.2 1954.5v53.8M172.6 1954.5v53.8M225.2 1954.5v53.8M235.5 1954.5v53.8M244.3 1954.5v53.8M266.2 1954.5v53.8M289.6 1954.5v53.8M318.9 1954.5v53.8M330.6 1954.5v53.8M332.1 1954.5v53.8M342.3 1954.5v53.8M358.4 1954.5v53.8M362.8 1954.5v53.8M367.2 1954.5v53.8M371.6 1954.5v53.8M378.9 1954.5v53.8M396.5 1954.5v53.8M415.5 1954.5v53.8M419.9 1954.5v53.8M422.8 1954.5v53.8M433.1 1954.5v53.8M436 1954.5v53.8M443.3 1954.5v53.8M466.7 1954.5v53.8M468.2 1954.5v53.8M482.8 1954.5v53.8M487.2 1954.5v53.8M491.6 1954.5v53.8M518 1954.5v53.8M525.3 1954.5v53.8M544.3 1954.5v53.8M561.9 1954.5v53.8M570.7 1954.5v53.8M582.4 1954.5v53.8M594.1 1954.5v53.8M597 1954.5v53.8M599.9 1954.5v53.8M190.1 2008.3v53.8M198.9 2008.3v53.8M204.8 2008.3v53.8M212.1 2008.3v53.8M213.5 2008.3v53.8M225.2 2008.3v53.8M242.8 2008.3v53.8M272.1 2008.3v53.8M273.5 2008.3v53.8M288.2 2008.3v53.8M304.3 2008.3v53.8M308.7 2008.3v53.8M314.5 2008.3v53.8M318.9 2008.3v53.8M345.3 2008.3v53.8M351.1 2008.3v53.8M355.5 2008.3v53.8M357 2008.3v53.8M362.8 2008.3v53.8M371.6 2008.3v53.8M381.9 2008.3v53.8M392.1 2008.3v53.8M399.4 2008.3v53.8M405.3 2008.3v53.8M408.2 2008.3v53.8M428.7 2008.3v53.8M430.2 2008.3v53.8M433.1 2008.3v53.8M441.9 2008.3v53.8M456.5 2008.3v53.8M458 2008.3v53.8M468.2 2008.3v53.8M469.7 2008.3v53.8M474.1 2008.3v53.8M477 2008.3v53.8M497.5 2008.3v53.8M519.4 2008.3v53.8M526.8 2008.3v53.8M528.2 2008.3v53.8M535.5 2008.3v53.8M541.4 2008.3v53.8M554.6 2008.3v53.8M557.5 2008.3v53.8M559 2008.3v53.8M566.3 2008.3v53.8M585.3 2008.3v53.8" fill="none" stroke="#f4eef4" stroke-width="1.6"/>
<path d="M193 1362.5v53.8M204.8 1362.5v53.8M215 1362.5v53.8M225.2 1362.5v53.8M231.1 1362.5v53.8M264.8 1362.5v53.8M277.9 1362.5v53.8M313.1 1362.5v53.8M349.7 1362.5v53.8M355.5 1362.5v53.8M357 1362.5v53.8M358.4 1362.5v53.8M361.4 1362.5v53.8M364.3 1362.5v53.8M374.5 1362.5v53.8M380.4 1362.5v53.8M393.6 1362.5v53.8M398 1362.5v53.8M434.5 1362.5v53.8M452.1 1362.5v53.8M455 1362.5v53.8M496 1362.5v53.8M506.3 1362.5v53.8M507.7 1362.5v53.8M523.8 1362.5v53.8M532.6 1362.5v53.8M538.5 1362.5v53.8M545.8 1362.5v53.8M547.2 1362.5v53.8M559 1362.5v53.8M561.9 1362.5v53.8M563.3 1362.5v53.8M572.1 1362.5v53.8M583.8 1362.5v53.8M589.7 1362.5v53.8M591.2 1362.5v53.8M601.4 1362.5v53.8M190.1 1416.3v53.8M269.2 1416.3v53.8M277.9 1416.3v53.8M291.1 1416.3v53.8M377.5 1416.3v53.8M380.4 1416.3v53.8M399.4 1416.3v53.8M402.3 1416.3v53.8M418.4 1416.3v53.8M421.4 1416.3v53.8M427.2 1416.3v53.8M431.6 1416.3v53.8M440.4 1416.3v53.8M455 1416.3v53.8M458 1416.3v53.8M485.8 1416.3v53.8M488.7 1416.3v53.8M496 1416.3v53.8M503.3 1416.3v53.8M531.1 1416.3v53.8M535.5 1416.3v53.8M554.6 1416.3v53.8M556 1416.3v53.8M576.5 1416.3v53.8M588.2 1416.3v53.8M594.1 1416.3v53.8M181.3 1470.1v53.8M196 1470.1v53.8M223.8 1470.1v53.8M264.8 1470.1v53.8M286.7 1470.1v53.8M295.5 1470.1v53.8M297 1470.1v53.8M320.4 1470.1v53.8M342.3 1470.1v53.8M365.8 1470.1v53.8M390.6 1470.1v53.8M396.5 1470.1v53.8M408.2 1470.1v53.8M415.5 1470.1v53.8M419.9 1470.1v53.8M421.4 1470.1v53.8M424.3 1470.1v53.8M438.9 1470.1v53.8M440.4 1470.1v53.8M460.9 1470.1v53.8M478.5 1470.1v53.8M485.8 1470.1v53.8M503.3 1470.1v53.8M507.7 1470.1v53.8M515 1470.1v53.8M535.5 1470.1v53.8M539.9 1470.1v53.8M541.4 1470.1v53.8M550.2 1470.1v53.8M557.5 1470.1v53.8M570.7 1470.1v53.8M578 1470.1v53.8M582.4 1470.1v53.8M601.4 1470.1v53.8M209.1 1524v53.8M298.4 1524v53.8M321.8 1524v53.8M335 1524v53.8M368.7 1524v53.8M378.9 1524v53.8M389.2 1524v53.8M402.3 1524v53.8M405.3 1524v53.8M417 1524v53.8M418.4 1524v53.8M419.9 1524v53.8M427.2 1524v53.8M431.6 1524v53.8M441.9 1524v53.8M452.1 1524v53.8M456.5 1524v53.8M471.1 1524v53.8M472.6 1524v53.8M478.5 1524v53.8M485.8 1524v53.8M487.2 1524v53.8M494.6 1524v53.8M496 1524v53.8M498.9 1524v53.8M503.3 1524v53.8M509.2 1524v53.8M512.1 1524v53.8M520.9 1524v53.8M525.3 1524v53.8M529.7 1524v53.8M535.5 1524v53.8M539.9 1524v53.8M559 1524v53.8M570.7 1524v53.8M591.2 1524v53.8M598.5 1524v53.8M599.9 1524v53.8M169.6 1577.8v53.8M175.5 1577.8v53.8M206.2 1577.8v53.8M217.9 1577.8v53.8M231.1 1577.8v53.8M239.9 1577.8v53.8M242.8 1577.8v53.8M264.8 1577.8v53.8M272.1 1577.8v53.8M273.5 1577.8v53.8M305.7 1577.8v53.8M320.4 1577.8v53.8M329.2 1577.8v53.8M333.6 1577.8v53.8M337.9 1577.8v53.8M348.2 1577.8v53.8M351.1 1577.8v53.8M368.7 1577.8v53.8M377.5 1577.8v53.8M381.9 1577.8v53.8M383.3 1577.8v53.8M434.5 1577.8v53.8M452.1 1577.8v53.8M460.9 1577.8v53.8M477 1577.8v53.8M512.1 1577.8v53.8M528.2 1577.8v53.8M532.6 1577.8v53.8M554.6 1577.8v53.8M567.7 1577.8v53.8M594.1 1577.8v53.8M171.1 1631.6v53.8M176.9 1631.6v53.8M196 1631.6v53.8M201.8 1631.6v53.8M207.7 1631.6v53.8M213.5 1631.6v53.8M247.2 1631.6v53.8M258.9 1631.6v53.8M276.5 1631.6v53.8M283.8 1631.6v53.8M313.1 1631.6v53.8M317.5 1631.6v53.8M336.5 1631.6v53.8M340.9 1631.6v53.8M377.5 1631.6v53.8M389.2 1631.6v53.8M400.9 1631.6v53.8M419.9 1631.6v53.8M431.6 1631.6v53.8M436 1631.6v53.8M438.9 1631.6v53.8M465.3 1631.6v53.8M468.2 1631.6v53.8M475.5 1631.6v53.8M479.9 1631.6v53.8M497.5 1631.6v53.8M498.9 1631.6v53.8M512.1 1631.6v53.8M528.2 1631.6v53.8M532.6 1631.6v53.8M548.7 1631.6v53.8M572.1 1631.6v53.8M582.4 1631.6v53.8M172.6 1685.4v53.8M179.9 1685.4v53.8M206.2 1685.4v53.8M207.7 1685.4v53.8M219.4 1685.4v53.8M223.8 1685.4v53.8M228.2 1685.4v53.8M235.5 1685.4v53.8M237 1685.4v53.8M241.3 1685.4v53.8M247.2 1685.4v53.8M253.1 1685.4v53.8M264.8 1685.4v53.8M266.2 1685.4v53.8M282.3 1685.4v53.8M299.9 1685.4v53.8M307.2 1685.4v53.8M311.6 1685.4v53.8M324.8 1685.4v53.8M327.7 1685.4v53.8M349.7 1685.4v53.8M361.4 1685.4v53.8M370.1 1685.4v53.8M371.6 1685.4v53.8M387.7 1685.4v53.8M412.6 1685.4v53.8M419.9 1685.4v53.8M434.5 1685.4v53.8M436 1685.4v53.8M515 1685.4v53.8M200.4 1739.2v53.8M204.8 1739.2v53.8M210.6 1739.2v53.8M213.5 1739.2v53.8M215 1739.2v53.8M238.4 1739.2v53.8M244.3 1739.2v53.8M247.2 1739.2v53.8M258.9 1739.2v53.8M267.7 1739.2v53.8M273.5 1739.2v53.8M277.9 1739.2v53.8M279.4 1739.2v53.8M298.4 1739.2v53.8M302.8 1739.2v53.8M305.7 1739.2v53.8M308.7 1739.2v53.8M313.1 1739.2v53.8M326.2 1739.2v53.8M345.3 1739.2v53.8M358.4 1739.2v53.8M374.5 1739.2v53.8M383.3 1739.2v53.8M402.3 1739.2v53.8M403.8 1739.2v53.8M406.7 1739.2v53.8M412.6 1739.2v53.8M421.4 1739.2v53.8M436 1739.2v53.8M452.1 1739.2v53.8M465.3 1739.2v53.8M496 1739.2v53.8M513.6 1739.2v53.8M522.4 1739.2v53.8M528.2 1739.2v53.8M563.3 1739.2v53.8M592.6 1739.2v53.8M595.5 1739.2v53.8M197.4 1793.1v53.8M213.5 1793.1v53.8M244.3 1793.1v53.8M267.7 1793.1v53.8M269.2 1793.1v53.8M291.1 1793.1v53.8M292.6 1793.1v53.8M294 1793.1v53.8M301.4 1793.1v53.8M326.2 1793.1v53.8M332.1 1793.1v53.8M333.6 1793.1v53.8M370.1 1793.1v53.8M381.9 1793.1v53.8M384.8 1793.1v53.8M408.2 1793.1v53.8M417 1793.1v53.8M419.9 1793.1v53.8M431.6 1793.1v53.8M438.9 1793.1v53.8M456.5 1793.1v53.8M458 1793.1v53.8M460.9 1793.1v53.8M474.1 1793.1v53.8M481.4 1793.1v53.8M484.3 1793.1v53.8M507.7 1793.1v53.8M522.4 1793.1v53.8M532.6 1793.1v53.8M589.7 1793.1v53.8M592.6 1793.1v53.8M175.5 1846.9v53.8M182.8 1846.9v53.8M203.3 1846.9v53.8M215 1846.9v53.8M242.8 1846.9v53.8M257.4 1846.9v53.8M298.4 1846.9v53.8M304.3 1846.9v53.8M314.5 1846.9v53.8M326.2 1846.9v53.8M336.5 1846.9v53.8M367.2 1846.9v53.8M371.6 1846.9v53.8M396.5 1846.9v53.8M402.3 1846.9v53.8M417 1846.9v53.8M427.2 1846.9v53.8M431.6 1846.9v53.8M449.2 1846.9v53.8M456.5 1846.9v53.8M459.4 1846.9v53.8M460.9 1846.9v53.8M466.7 1846.9v53.8M469.7 1846.9v53.8M475.5 1846.9v53.8M493.1 1846.9v53.8M496 1846.9v53.8M498.9 1846.9v53.8M503.3 1846.9v53.8M504.8 1846.9v53.8M506.3 1846.9v53.8M510.7 1846.9v53.8M512.1 1846.9v53.8M520.9 1846.9v53.8M531.1 1846.9v53.8M537 1846.9v53.8M541.4 1846.9v53.8M545.8 1846.9v53.8M553.1 1846.9v53.8M557.5 1846.9v53.8M559 1846.9v53.8M563.3 1846.9v53.8M567.7 1846.9v53.8M569.2 1846.9v53.8M575.1 1846.9v53.8M578 1846.9v53.8M579.4 1846.9v53.8M594.1 1846.9v53.8M169.6 1900.7v53.8M181.3 1900.7v53.8M187.2 1900.7v53.8M194.5 1900.7v53.8M200.4 1900.7v53.8M209.1 1900.7v53.8M212.1 1900.7v53.8M219.4 1900.7v53.8M223.8 1900.7v53.8M231.1 1900.7v53.8M234 1900.7v53.8M248.7 1900.7v53.8M254.5 1900.7v53.8M260.4 1900.7v53.8M264.8 1900.7v53.8M267.7 1900.7v53.8M279.4 1900.7v53.8M286.7 1900.7v53.8M316 1900.7v53.8M318.9 1900.7v53.8M340.9 1900.7v53.8M342.3 1900.7v53.8M351.1 1900.7v53.8M354 1900.7v53.8M357 1900.7v53.8M364.3 1900.7v53.8M365.8 1900.7v53.8M383.3 1900.7v53.8M386.2 1900.7v53.8M402.3 1900.7v53.8M406.7 1900.7v53.8M419.9 1900.7v53.8M444.8 1900.7v53.8M449.2 1900.7v53.8M535.5 1900.7v53.8M554.6 1900.7v53.8M560.4 1900.7v53.8M586.8 1900.7v53.8M591.2 1900.7v53.8M598.5 1900.7v53.8M169.6 1954.5v53.8M176.9 1954.5v53.8M179.9 1954.5v53.8M184.3 1954.5v53.8M193 1954.5v53.8M196 1954.5v53.8M207.7 1954.5v53.8M212.1 1954.5v53.8M229.6 1954.5v53.8M232.6 1954.5v53.8M245.7 1954.5v53.8M258.9 1954.5v53.8M288.2 1954.5v53.8M314.5 1954.5v53.8M323.3 1954.5v53.8M329.2 1954.5v53.8M340.9 1954.5v53.8M346.7 1954.5v53.8M348.2 1954.5v53.8M354 1954.5v53.8M355.5 1954.5v53.8M361.4 1954.5v53.8M411.1 1954.5v53.8M437.5 1954.5v53.8M440.4 1954.5v53.8M453.6 1954.5v53.8M459.4 1954.5v53.8M472.6 1954.5v53.8M474.1 1954.5v53.8M488.7 1954.5v53.8M509.2 1954.5v53.8M513.6 1954.5v53.8M515 1954.5v53.8M523.8 1954.5v53.8M539.9 1954.5v53.8M548.7 1954.5v53.8M560.4 1954.5v53.8M563.3 1954.5v53.8M589.7 1954.5v53.8M266.2 2008.3v53.8M286.7 2008.3v53.8M301.4 2008.3v53.8M305.7 2008.3v53.8M310.1 2008.3v53.8M320.4 2008.3v53.8M337.9 2008.3v53.8M342.3 2008.3v53.8M343.8 2008.3v53.8M374.5 2008.3v53.8M377.5 2008.3v53.8M414.1 2008.3v53.8M421.4 2008.3v53.8M434.5 2008.3v53.8M444.8 2008.3v53.8M447.7 2008.3v53.8M462.4 2008.3v53.8M488.7 2008.3v53.8M490.2 2008.3v53.8M496 2008.3v53.8M515 2008.3v53.8M531.1 2008.3v53.8M550.2 2008.3v53.8M553.1 2008.3v53.8M589.7 2008.3v53.8M595.5 2008.3v53.8" fill="none" stroke="#f6d1d6" stroke-width="1.6"/>
<path d="M217.9 1362.5v53.8M237 1362.5v53.8M275 1362.5v53.8M336.5 1362.5v53.8M182.8 1416.3v53.8M200.4 1416.3v53.8M217.9 1416.3v53.8M222.3 1416.3v53.8M229.6 1416.3v53.8M248.7 1416.3v53.8M251.6 1416.3v53.8M266.2 1416.3v53.8M275 1416.3v53.8M294 1416.3v53.8M304.3 1416.3v53.8M320.4 1416.3v53.8M336.5 1416.3v53.8M351.1 1416.3v53.8M357 1416.3v53.8M433.1 1416.3v53.8M547.2 1416.3v53.8M165.2 1470.1v53.8M175.5 1470.1v53.8M190.1 1470.1v53.8M226.7 1470.1v53.8M235.5 1470.1v53.8M237 1470.1v53.8M239.9 1470.1v53.8M266.2 1470.1v53.8M304.3 1470.1v53.8M305.7 1470.1v53.8M317.5 1470.1v53.8M339.4 1470.1v53.8M355.5 1470.1v53.8M592.6 1470.1v53.8M169.6 1524v53.8M176.9 1524v53.8M179.9 1524v53.8M182.8 1524v53.8M200.4 1524v53.8M239.9 1524v53.8M257.4 1524v53.8M263.3 1524v53.8M264.8 1524v53.8M317.5 1524v53.8M327.7 1524v53.8M383.3 1524v53.8M434.5 1524v53.8M212.1 1577.8v53.8M247.2 1577.8v53.8M415.5 1577.8v53.8M504.8 1577.8v53.8M507.7 1577.8v53.8M509.2 1577.8v53.8M550.2 1577.8v53.8M564.8 1577.8v53.8M583.8 1577.8v53.8M228.2 1631.6v53.8M277.9 1631.6v53.8M339.4 1631.6v53.8M361.4 1631.6v53.8M376 1631.6v53.8M478.5 1631.6v53.8M484.3 1631.6v53.8M507.7 1631.6v53.8M538.5 1631.6v53.8M564.8 1631.6v53.8M567.7 1631.6v53.8M570.7 1631.6v53.8M305.7 1685.4v53.8M384.8 1685.4v53.8M415.5 1685.4v53.8M440.4 1685.4v53.8M447.7 1685.4v53.8M468.2 1685.4v53.8M504.8 1685.4v53.8M529.7 1685.4v53.8M531.1 1685.4v53.8M535.5 1685.4v53.8M578 1685.4v53.8M580.9 1685.4v53.8M585.3 1685.4v53.8M377.5 1739.2v53.8M453.6 1739.2v53.8M472.6 1739.2v53.8M490.2 1739.2v53.8M539.9 1739.2v53.8M547.2 1739.2v53.8M551.6 1739.2v53.8M553.1 1739.2v53.8M602.9 1739.2v53.8M345.3 1793.1v53.8M364.3 1793.1v53.8M396.5 1793.1v53.8M441.9 1793.1v53.8M469.7 1793.1v53.8M525.3 1793.1v53.8M535.5 1793.1v53.8M550.2 1793.1v53.8M174 1846.9v53.8M263.3 1846.9v53.8M270.6 1846.9v53.8M275 1846.9v53.8M317.5 1846.9v53.8M460.9 1900.7v53.8M490.2 1900.7v53.8M550.2 1900.7v53.8M563.3 1900.7v53.8M566.3 1900.7v53.8M567.7 1900.7v53.8M582.4 1900.7v53.8M441.9 1954.5v53.8M460.9 1954.5v53.8M519.4 1954.5v53.8M564.8 1954.5v53.8M580.9 1954.5v53.8M165.2 2008.3v53.8M171.1 2008.3v53.8M175.5 2008.3v53.8M188.7 2008.3v53.8M196 2008.3v53.8M206.2 2008.3v53.8M239.9 2008.3v53.8M250.1 2008.3v53.8M336.5 2008.3v53.8M592.6 2008.3v53.8" fill="none" stroke="#8c8ed2" stroke-width="1.6"/>
<path d="M253.1 1362.5v53.8M185.7 1416.3v53.8M209.1 1416.3v53.8M241.3 1416.3v53.8M253.1 1416.3v53.8M264.8 1416.3v53.8M307.2 1416.3v53.8M311.6 1416.3v53.8M403.8 1416.3v53.8M166.7 1470.1v53.8M242.8 1470.1v53.8M244.3 1470.1v53.8M276.5 1470.1v53.8M326.2 1470.1v53.8M333.6 1470.1v53.8M346.7 1470.1v53.8M168.2 1524v53.8M175.5 1524v53.8M187.2 1524v53.8M203.3 1524v53.8M466.7 1577.8v53.8M490.2 1577.8v53.8M242.8 1631.6v53.8M422.8 1631.6v53.8M466.7 1631.6v53.8M583.8 1631.6v53.8M602.9 1631.6v53.8M443.3 1685.4v53.8M550.2 1739.2v53.8M371.6 1793.1v53.8M491.6 1900.7v53.8M550.2 1954.5v53.8M583.8 1954.5v53.8M365.8 2008.3v53.8" fill="none" stroke="#6f72c5" stroke-width="1.6"/>
<path d="M332.1 1362.5v53.8M377.5 1362.5v53.8M389.2 1362.5v53.8M396.5 1362.5v53.8M399.4 1362.5v53.8M406.7 1362.5v53.8M424.3 1362.5v53.8M431.6 1362.5v53.8M443.3 1362.5v53.8M458 1362.5v53.8M459.4 1362.5v53.8M465.3 1362.5v53.8M475.5 1362.5v53.8M493.1 1362.5v53.8M497.5 1362.5v53.8M501.9 1362.5v53.8M504.8 1362.5v53.8M510.7 1362.5v53.8M548.7 1362.5v53.8M553.1 1362.5v53.8M569.2 1362.5v53.8M575.1 1362.5v53.8M578 1362.5v53.8M595.5 1362.5v53.8M384.8 1416.3v53.8M396.5 1416.3v53.8M409.7 1416.3v53.8M444.8 1416.3v53.8M459.4 1416.3v53.8M462.4 1416.3v53.8M478.5 1416.3v53.8M491.6 1416.3v53.8M494.6 1416.3v53.8M500.4 1416.3v53.8M515 1416.3v53.8M557.5 1416.3v53.8M564.8 1416.3v53.8M572.1 1416.3v53.8M579.4 1416.3v53.8M582.4 1416.3v53.8M586.8 1416.3v53.8M597 1416.3v53.8M599.9 1416.3v53.8M216.5 1470.1v53.8M316 1470.1v53.8M359.9 1470.1v53.8M412.6 1470.1v53.8M434.5 1470.1v53.8M477 1470.1v53.8M491.6 1470.1v53.8M493.1 1470.1v53.8M496 1470.1v53.8M510.7 1470.1v53.8M512.1 1470.1v53.8M520.9 1470.1v53.8M531.1 1470.1v53.8M547.2 1470.1v53.8M564.8 1470.1v53.8M573.6 1470.1v53.8M575.1 1470.1v53.8M589.7 1470.1v53.8M172.6 1524v53.8M190.1 1524v53.8M215 1524v53.8M320.4 1524v53.8M359.9 1524v53.8M371.6 1524v53.8M392.1 1524v53.8M411.1 1524v53.8M460.9 1524v53.8M462.4 1524v53.8M475.5 1524v53.8M482.8 1524v53.8M484.3 1524v53.8M493.1 1524v53.8M531.1 1524v53.8M554.6 1524v53.8M563.3 1524v53.8M589.7 1524v53.8M595.5 1524v53.8M165.2 1577.8v53.8M166.7 1577.8v53.8M185.7 1577.8v53.8M190.1 1577.8v53.8M226.7 1577.8v53.8M232.6 1577.8v53.8M237 1577.8v53.8M288.2 1577.8v53.8M307.2 1577.8v53.8M346.7 1577.8v53.8M354 1577.8v53.8M358.4 1577.8v53.8M386.2 1577.8v53.8M390.6 1577.8v53.8M402.3 1577.8v53.8M441.9 1577.8v53.8M479.9 1577.8v53.8M494.6 1577.8v53.8M518 1577.8v53.8M184.3 1631.6v53.8M188.7 1631.6v53.8M200.4 1631.6v53.8M209.1 1631.6v53.8M244.3 1631.6v53.8M266.2 1631.6v53.8M285.3 1631.6v53.8M298.4 1631.6v53.8M323.3 1631.6v53.8M327.7 1631.6v53.8M349.7 1631.6v53.8M368.7 1631.6v53.8M378.9 1631.6v53.8M383.3 1631.6v53.8M387.7 1631.6v53.8M418.4 1631.6v53.8M456.5 1631.6v53.8M519.4 1631.6v53.8M523.8 1631.6v53.8M525.3 1631.6v53.8M529.7 1631.6v53.8M554.6 1631.6v53.8M165.2 1685.4v53.8M168.2 1685.4v53.8M175.5 1685.4v53.8M185.7 1685.4v53.8M194.5 1685.4v53.8M197.4 1685.4v53.8M198.9 1685.4v53.8M204.8 1685.4v53.8M216.5 1685.4v53.8M226.7 1685.4v53.8M229.6 1685.4v53.8M270.6 1685.4v53.8M276.5 1685.4v53.8M280.9 1685.4v53.8M288.2 1685.4v53.8M320.4 1685.4v53.8M381.9 1685.4v53.8M400.9 1685.4v53.8M402.3 1685.4v53.8M408.2 1685.4v53.8M453.6 1685.4v53.8M474.1 1685.4v53.8M513.6 1685.4v53.8M523.8 1685.4v53.8M534.1 1685.4v53.8M560.4 1685.4v53.8M169.6 1739.2v53.8M172.6 1739.2v53.8M174 1739.2v53.8M178.4 1739.2v53.8M181.3 1739.2v53.8M194.5 1739.2v53.8M207.7 1739.2v53.8M217.9 1739.2v53.8M219.4 1739.2v53.8M235.5 1739.2v53.8M251.6 1739.2v53.8M260.4 1739.2v53.8M263.3 1739.2v53.8M272.1 1739.2v53.8M283.8 1739.2v53.8M286.7 1739.2v53.8M292.6 1739.2v53.8M295.5 1739.2v53.8M297 1739.2v53.8M299.9 1739.2v53.8M301.4 1739.2v53.8M327.7 1739.2v53.8M329.2 1739.2v53.8M332.1 1739.2v53.8M336.5 1739.2v53.8M352.6 1739.2v53.8M354 1739.2v53.8M362.8 1739.2v53.8M367.2 1739.2v53.8M370.1 1739.2v53.8M381.9 1739.2v53.8M400.9 1739.2v53.8M418.4 1739.2v53.8M425.8 1739.2v53.8M479.9 1739.2v53.8M487.2 1739.2v53.8M560.4 1739.2v53.8M174 1793.1v53.8M178.4 1793.1v53.8M179.9 1793.1v53.8M184.3 1793.1v53.8M198.9 1793.1v53.8M206.2 1793.1v53.8M207.7 1793.1v53.8M212.1 1793.1v53.8M231.1 1793.1v53.8M245.7 1793.1v53.8M247.2 1793.1v53.8M256 1793.1v53.8M258.9 1793.1v53.8M282.3 1793.1v53.8M283.8 1793.1v53.8M295.5 1793.1v53.8M302.8 1793.1v53.8M304.3 1793.1v53.8M305.7 1793.1v53.8M339.4 1793.1v53.8M340.9 1793.1v53.8M348.2 1793.1v53.8M357 1793.1v53.8M358.4 1793.1v53.8M365.8 1793.1v53.8M376 1793.1v53.8M386.2 1793.1v53.8M387.7 1793.1v53.8M393.6 1793.1v53.8M425.8 1793.1v53.8M428.7 1793.1v53.8M459.4 1793.1v53.8M468.2 1793.1v53.8M477 1793.1v53.8M485.8 1793.1v53.8M500.4 1793.1v53.8M528.2 1793.1v53.8M225.2 1846.9v53.8M231.1 1846.9v53.8M238.4 1846.9v53.8M248.7 1846.9v53.8M288.2 1846.9v53.8M299.9 1846.9v53.8M340.9 1846.9v53.8M351.1 1846.9v53.8M364.3 1846.9v53.8M418.4 1846.9v53.8M422.8 1846.9v53.8M428.7 1846.9v53.8M436 1846.9v53.8M443.3 1846.9v53.8M447.7 1846.9v53.8M452.1 1846.9v53.8M458 1846.9v53.8M471.1 1846.9v53.8M474.1 1846.9v53.8M478.5 1846.9v53.8M484.3 1846.9v53.8M494.6 1846.9v53.8M501.9 1846.9v53.8M554.6 1846.9v53.8M589.7 1846.9v53.8M595.5 1846.9v53.8M597 1846.9v53.8M601.4 1846.9v53.8M179.9 1900.7v53.8M196 1900.7v53.8M206.2 1900.7v53.8M213.5 1900.7v53.8M220.9 1900.7v53.8M222.3 1900.7v53.8M237 1900.7v53.8M241.3 1900.7v53.8M269.2 1900.7v53.8M285.3 1900.7v53.8M299.9 1900.7v53.8M302.8 1900.7v53.8M310.1 1900.7v53.8M317.5 1900.7v53.8M327.7 1900.7v53.8M339.4 1900.7v53.8M352.6 1900.7v53.8M358.4 1900.7v53.8M370.1 1900.7v53.8M373.1 1900.7v53.8M380.4 1900.7v53.8M390.6 1900.7v53.8M400.9 1900.7v53.8M417 1900.7v53.8M428.7 1900.7v53.8M437.5 1900.7v53.8M443.3 1900.7v53.8M446.3 1900.7v53.8M453.6 1900.7v53.8M463.8 1900.7v53.8M469.7 1900.7v53.8M478.5 1900.7v53.8M482.8 1900.7v53.8M510.7 1900.7v53.8M513.6 1900.7v53.8M559 1900.7v53.8M597 1900.7v53.8M175.5 1954.5v53.8M182.8 1954.5v53.8M187.2 1954.5v53.8M200.4 1954.5v53.8M206.2 1954.5v53.8M220.9 1954.5v53.8M234 1954.5v53.8M239.9 1954.5v53.8M242.8 1954.5v53.8M263.3 1954.5v53.8M277.9 1954.5v53.8M283.8 1954.5v53.8M285.3 1954.5v53.8M295.5 1954.5v53.8M335 1954.5v53.8M336.5 1954.5v53.8M345.3 1954.5v53.8M381.9 1954.5v53.8M383.3 1954.5v53.8M398 1954.5v53.8M400.9 1954.5v53.8M402.3 1954.5v53.8M414.1 1954.5v53.8M421.4 1954.5v53.8M425.8 1954.5v53.8M431.6 1954.5v53.8M458 1954.5v53.8M572.1 1954.5v53.8M215 2008.3v53.8M270.6 2008.3v53.8M279.4 2008.3v53.8M291.1 2008.3v53.8M354 2008.3v53.8M367.2 2008.3v53.8M402.3 2008.3v53.8M406.7 2008.3v53.8M409.7 2008.3v53.8M417 2008.3v53.8M418.4 2008.3v53.8M425.8 2008.3v53.8M431.6 2008.3v53.8M436 2008.3v53.8M438.9 2008.3v53.8M449.2 2008.3v53.8M482.8 2008.3v53.8M500.4 2008.3v53.8M507.7 2008.3v53.8M510.7 2008.3v53.8M523.8 2008.3v53.8M544.3 2008.3v53.8M545.8 2008.3v53.8M556 2008.3v53.8M564.8 2008.3v53.8M579.4 2008.3v53.8M582.4 2008.3v53.8M586.8 2008.3v53.8M591.2 2008.3v53.8M599.9 2008.3v53.8" fill="none" stroke="#f5c0c3" stroke-width="1.6"/>
<path d="M490.2 1362.5v53.8M376 1416.3v53.8M441.9 1416.3v53.8M498.9 1416.3v53.8M538.5 1416.3v53.8M583.8 1416.3v53.8M589.7 1416.3v53.8M466.7 1470.1v53.8M490.2 1470.1v53.8M519.4 1470.1v53.8M523.8 1470.1v53.8M544.3 1470.1v53.8M567.7 1470.1v53.8M598.5 1470.1v53.8M481.4 1524v53.8M504.8 1524v53.8M542.9 1524v53.8M548.7 1524v53.8M550.2 1524v53.8M580.9 1524v53.8M582.4 1524v53.8M585.3 1524v53.8M602.9 1524v53.8M181.3 1577.8v53.8M187.2 1577.8v53.8M188.7 1577.8v53.8M191.6 1577.8v53.8M194.5 1577.8v53.8M216.5 1577.8v53.8M219.4 1577.8v53.8M223.8 1577.8v53.8M244.3 1577.8v53.8M248.7 1577.8v53.8M266.2 1577.8v53.8M270.6 1577.8v53.8M275 1577.8v53.8M317.5 1577.8v53.8M327.7 1577.8v53.8M336.5 1577.8v53.8M474.1 1577.8v53.8M573.6 1577.8v53.8M185.7 1631.6v53.8M212.1 1631.6v53.8M365.8 1631.6v53.8M166.7 1685.4v53.8M171.1 1685.4v53.8M200.4 1685.4v53.8M220.9 1685.4v53.8M232.6 1685.4v53.8M234 1685.4v53.8M245.7 1685.4v53.8M308.7 1685.4v53.8M318.9 1685.4v53.8M346.7 1685.4v53.8M357 1685.4v53.8M359.9 1685.4v53.8M165.2 1739.2v53.8M176.9 1739.2v53.8M185.7 1739.2v53.8M188.7 1739.2v53.8M275 1739.2v53.8M280.9 1739.2v53.8M307.2 1739.2v53.8M317.5 1739.2v53.8M333.6 1739.2v53.8M405.3 1739.2v53.8M503.3 1739.2v53.8M526.8 1739.2v53.8M166.7 1793.1v53.8M185.7 1793.1v53.8M190.1 1793.1v53.8M204.8 1793.1v53.8M215 1793.1v53.8M216.5 1793.1v53.8M217.9 1793.1v53.8M226.7 1793.1v53.8M237 1793.1v53.8M238.4 1793.1v53.8M298.4 1793.1v53.8M317.5 1793.1v53.8M318.9 1793.1v53.8M321.8 1793.1v53.8M327.7 1793.1v53.8M346.7 1793.1v53.8M373.1 1793.1v53.8M380.4 1793.1v53.8M400.9 1793.1v53.8M430.2 1793.1v53.8M446.3 1793.1v53.8M447.7 1793.1v53.8M586.8 1793.1v53.8M335 1846.9v53.8M507.7 1846.9v53.8M519.4 1846.9v53.8M544.3 1846.9v53.8M548.7 1846.9v53.8M550.2 1846.9v53.8M583.8 1846.9v53.8M586.8 1846.9v53.8M591.2 1846.9v53.8M188.7 1900.7v53.8M190.1 1900.7v53.8M203.3 1900.7v53.8M250.1 1900.7v53.8M294 1900.7v53.8M304.3 1900.7v53.8M308.7 1900.7v53.8M488.7 1900.7v53.8M174 1954.5v53.8M217.9 1954.5v53.8M223.8 1954.5v53.8M226.7 1954.5v53.8M237 1954.5v53.8M248.7 1954.5v53.8M261.8 1954.5v53.8M273.5 1954.5v53.8M275 1954.5v53.8M301.4 1954.5v53.8M337.9 1954.5v53.8M365.8 1954.5v53.8M434.5 1954.5v53.8M396.5 2008.3v53.8M491.6 2008.3v53.8M509.2 2008.3v53.8M538.5 2008.3v53.8M548.7 2008.3v53.8M580.9 2008.3v53.8M583.8 2008.3v53.8M598.5 2008.3v53.8M602.9 2008.3v53.8" fill="none" stroke="#f08787" stroke-width="1.6"/>
<path d="M166.7 1416.3v53.8M314.5 1416.3v53.8M386.2 1631.6v53.8M583.8 1685.4v53.8M551.6 1793.1v53.8" fill="none" stroke="#565cb9" stroke-width="1.6"/>
<path d="M171.1 1416.3v53.8M547.2 1631.6v53.8" fill="none" stroke="#4c55b4" stroke-width="1.6"/>
<path d="M175.5 1416.3v53.8M176.9 1416.3v53.8M318.9 1416.3v53.8M250.1 1524v53.8M493.1 1631.6v53.8M544.3 1631.6v53.8M553.1 1631.6v53.8M518 1685.4v53.8M553.1 1685.4v53.8M441.9 1739.2v53.8M598.5 1739.2v53.8M601.4 1739.2v53.8M561.9 1793.1v53.8M583.8 1793.1v53.8M504.8 1900.7v53.8" fill="none" stroke="#6064be" stroke-width="1.6"/>
<path d="M419.9 1416.3v53.8M553.1 1416.3v53.8M561.9 1416.3v53.8M567.7 1416.3v53.8M358.4 1470.1v53.8M367.2 1470.1v53.8M370.1 1470.1v53.8M411.1 1470.1v53.8M441.9 1470.1v53.8M462.4 1470.1v53.8M509.2 1470.1v53.8M532.6 1470.1v53.8M548.7 1470.1v53.8M553.1 1470.1v53.8M580.9 1470.1v53.8M583.8 1470.1v53.8M594.1 1470.1v53.8M342.3 1524v53.8M361.4 1524v53.8M458 1524v53.8M491.6 1524v53.8M516.5 1524v53.8M532.6 1524v53.8M553.1 1524v53.8M556 1524v53.8M567.7 1524v53.8M569.2 1524v53.8M578 1524v53.8M588.2 1524v53.8M168.2 1577.8v53.8M176.9 1577.8v53.8M178.4 1577.8v53.8M184.3 1577.8v53.8M213.5 1577.8v53.8M220.9 1577.8v53.8M229.6 1577.8v53.8M253.1 1577.8v53.8M256 1577.8v53.8M279.4 1577.8v53.8M294 1577.8v53.8M295.5 1577.8v53.8M355.5 1577.8v53.8M374.5 1577.8v53.8M378.9 1577.8v53.8M422.8 1577.8v53.8M449.2 1577.8v53.8M472.6 1577.8v53.8M168.2 1631.6v53.8M181.3 1631.6v53.8M206.2 1631.6v53.8M210.6 1631.6v53.8M226.7 1631.6v53.8M237 1631.6v53.8M257.4 1631.6v53.8M299.9 1631.6v53.8M346.7 1631.6v53.8M433.1 1631.6v53.8M503.3 1631.6v53.8M534.1 1631.6v53.8M545.8 1631.6v53.8M176.9 1685.4v53.8M188.7 1685.4v53.8M193 1685.4v53.8M196 1685.4v53.8M203.3 1685.4v53.8M238.4 1685.4v53.8M242.8 1685.4v53.8M256 1685.4v53.8M314.5 1685.4v53.8M333.6 1685.4v53.8M378.9 1685.4v53.8M383.3 1685.4v53.8M166.7 1739.2v53.8M168.2 1739.2v53.8M179.9 1739.2v53.8M190.1 1739.2v53.8M193 1739.2v53.8M206.2 1739.2v53.8M209.1 1739.2v53.8M225.2 1739.2v53.8M250.1 1739.2v53.8M321.8 1739.2v53.8M324.8 1739.2v53.8M357 1739.2v53.8M398 1739.2v53.8M431.6 1739.2v53.8M433.1 1739.2v53.8M515 1739.2v53.8M529.7 1739.2v53.8M567.7 1739.2v53.8M169.6 1793.1v53.8M176.9 1793.1v53.8M188.7 1793.1v53.8M191.6 1793.1v53.8M203.3 1793.1v53.8M222.3 1793.1v53.8M250.1 1793.1v53.8M260.4 1793.1v53.8M275 1793.1v53.8M276.5 1793.1v53.8M279.4 1793.1v53.8M310.1 1793.1v53.8M314.5 1793.1v53.8M337.9 1793.1v53.8M414.1 1793.1v53.8M471.1 1793.1v53.8M497.5 1793.1v53.8M503.3 1793.1v53.8M537 1793.1v53.8M563.3 1793.1v53.8M355.5 1846.9v53.8M441.9 1846.9v53.8M444.8 1846.9v53.8M485.8 1846.9v53.8M497.5 1846.9v53.8M526.8 1846.9v53.8M532.6 1846.9v53.8M547.2 1846.9v53.8M576.5 1846.9v53.8M585.3 1846.9v53.8M166.7 1900.7v53.8M174 1900.7v53.8M176.9 1900.7v53.8M210.6 1900.7v53.8M216.5 1900.7v53.8M217.9 1900.7v53.8M225.2 1900.7v53.8M266.2 1900.7v53.8M275 1900.7v53.8M277.9 1900.7v53.8M280.9 1900.7v53.8M289.6 1900.7v53.8M314.5 1900.7v53.8M324.8 1900.7v53.8M326.2 1900.7v53.8M330.6 1900.7v53.8M336.5 1900.7v53.8M371.6 1900.7v53.8M395 1900.7v53.8M430.2 1900.7v53.8M165.2 1954.5v53.8M171.1 1954.5v53.8M190.1 1954.5v53.8M251.6 1954.5v53.8M276.5 1954.5v53.8M298.4 1954.5v53.8M299.9 1954.5v53.8M317.5 1954.5v53.8M326.2 1954.5v53.8M327.7 1954.5v53.8M357 1954.5v53.8M393.6 1954.5v53.8M455 1954.5v53.8M529.7 1954.5v53.8M466.7 2008.3v53.8M501.9 2008.3v53.8M518 2008.3v53.8M525.3 2008.3v53.8M563.3 2008.3v53.8M588.2 2008.3v53.8" fill="none" stroke="#f29898" stroke-width="1.6"/>
<path d="M475.5 1416.3v53.8M542.9 1416.3v53.8M481.4 1470.1v53.8M542.9 1470.1v53.8M551.6 1470.1v53.8M374.5 1524v53.8M547.2 1524v53.8M557.5 1524v53.8M579.4 1524v53.8M586.8 1524v53.8M171.1 1577.8v53.8M174 1577.8v53.8M234 1577.8v53.8M276.5 1577.8v53.8M304.3 1577.8v53.8M297 1631.6v53.8M330.6 1631.6v53.8M474.1 1631.6v53.8M210.6 1685.4v53.8M317.5 1685.4v53.8M414.1 1685.4v53.8M184.3 1739.2v53.8M248.7 1739.2v53.8M264.8 1739.2v53.8M314.5 1739.2v53.8M408.2 1739.2v53.8M200.4 1793.1v53.8M235.5 1793.1v53.8M253.1 1793.1v53.8M273.5 1793.1v53.8M285.3 1793.1v53.8M289.6 1793.1v53.8M324.8 1793.1v53.8M390.6 1793.1v53.8M595.5 1793.1v53.8M490.2 1846.9v53.8M500.4 1846.9v53.8M538.5 1846.9v53.8M175.5 1900.7v53.8M182.8 1900.7v53.8M337.9 1900.7v53.8M269.2 1954.5v53.8M567.7 2008.3v53.8M594.1 2008.3v53.8" fill="none" stroke="#ee7575" stroke-width="1.6"/>
<path d="M539.9 1416.3v53.8M561.9 1470.1v53.8M501.9 1524v53.8M522.4 1524v53.8M594.1 1524v53.8M207.7 1577.8v53.8M395 1577.8v53.8M184.3 1685.4v53.8M251.6 1685.4v53.8M203.3 1739.2v53.8M216.5 1739.2v53.8M304.3 1739.2v53.8M196 1793.1v53.8M263.3 1793.1v53.8M367.2 1793.1v53.8M403.8 1793.1v53.8M171.1 1900.7v53.8M493.1 2008.3v53.8M532.6 2008.3v53.8" fill="none" stroke="#ec6464" stroke-width="1.6"/>
<path d="M595.5 1470.1v53.8M289.6 1577.8v53.8M318.9 1577.8v53.8M171.1 1793.1v53.8M229.6 1793.1v53.8M261.8 1793.1v53.8M472.6 1793.1v53.8M534.1 1793.1v53.8M560.4 1793.1v53.8M580.9 1846.9v53.8M201.8 1900.7v53.8" fill="none" stroke="#ea5757" stroke-width="1.6"/>
<path d="M583.8 1524v53.8M251.6 1793.1v53.8" fill="none" stroke="#e84949" stroke-width="1.6"/>
<path d="M250.1 1577.8v53.8M187.2 1793.1v53.8" fill="none" stroke="#e73c3c" stroke-width="1.6"/>
<path d="M217.9 1685.4v53.8" fill="none" stroke="#e52f2f" stroke-width="1.6"/>
<text x="606.9" y="1409" font-size="31.6" font-style="italic" textLength="28.6" lengthAdjust="spacingAndGlyphs">CP</text>
<text x="606.9" y="1461.5" font-size="31.6" font-style="italic" textLength="45" lengthAdjust="spacingAndGlyphs">BGN</text>
<text x="606.9" y="1513.9" font-size="31.6" font-style="italic" textLength="67.8" lengthAdjust="spacingAndGlyphs">DUSP1</text>
<text x="606.9" y="1566.3" font-size="31.6" font-style="italic" textLength="99.7" lengthAdjust="spacingAndGlyphs">SERPINE1</text>
<text x="606.9" y="1618.8" font-size="31.6" font-style="italic" textLength="48.3" lengthAdjust="spacingAndGlyphs">TP53</text>
<text x="606.9" y="1671.2" font-size="31.6" font-style="italic" textLength="42.4" lengthAdjust="spacingAndGlyphs">HK3</text>
<text x="606.9" y="1723.7" font-size="31.6" font-style="italic" textLength="71" lengthAdjust="spacingAndGlyphs">PAXIP1</text>
<text x="606.9" y="1776.2" font-size="31.6" font-style="italic" textLength="69" lengthAdjust="spacingAndGlyphs">NUP50</text>
<text x="606.9" y="1828.6" font-size="31.6" font-style="italic" textLength="67.6" lengthAdjust="spacingAndGlyphs">EFNA3</text>
<text x="606.9" y="1881" font-size="31.6" font-style="italic" textLength="71" lengthAdjust="spacingAndGlyphs">CLDN9</text>
<text x="606.9" y="1933.5" font-size="31.6" font-style="italic" textLength="66.7" lengthAdjust="spacingAndGlyphs">ESRRB</text>
<text x="606.9" y="1986" font-size="31.6" font-style="italic" textLength="46.7" lengthAdjust="spacingAndGlyphs">OGT</text>
<text x="606.9" y="2038.4" font-size="31.6" font-style="italic" textLength="51" lengthAdjust="spacingAndGlyphs">PAK2</text>
<path d="M164.5 1497H122.3V1550.9H164.5" fill="none" stroke="#111" stroke-width="2"/>
<path d="M164.5 1443.2H115.7V1524H122.3" fill="none" stroke="#111" stroke-width="2"/>
<path d="M164.5 1389.4H104.1V1483.6H115.7" fill="none" stroke="#111" stroke-width="2"/>
<path d="M164.5 1712.3H118V1766.2H164.5" fill="none" stroke="#111" stroke-width="2"/>
<path d="M164.5 1658.5H110.4V1739.2H118" fill="none" stroke="#111" stroke-width="2"/>
<path d="M164.5 1604.7H109V1698.9H110.4" fill="none" stroke="#111" stroke-width="2"/>
<path d="M164.5 1820H104.5V1873.8H164.5" fill="none" stroke="#111" stroke-width="2"/>
<path d="M109 1651.8H103.8V1846.9H104.5" fill="none" stroke="#111" stroke-width="2"/>
<path d="M164.5 1981.4H112.8V2035.2H164.5" fill="none" stroke="#111" stroke-width="2"/>
<path d="M164.5 1927.6H101.9V2008.3H112.8" fill="none" stroke="#111" stroke-width="2"/>
<path d="M103.8 1749.3H100.2V1968H101.9" fill="none" stroke="#111" stroke-width="2"/>
<path d="M104.1 1436.5H98.5V1858.7H100.2" fill="none" stroke="#111" stroke-width="2"/>
<text x="729.8" y="1469.3" font-size="36" font-weight="bold" fill="#000" textLength="61" lengthAdjust="spacingAndGlyphs">Risk</text>
<rect x="729.2" y="1477" width="20.2" height="26" fill="#3478C0"/>
<rect x="729.2" y="1503" width="20.2" height="26.2" fill="#EB5757"/>
<text x="754.7" y="1500.7" font-size="30" textLength="39" lengthAdjust="spacingAndGlyphs">low</text>
<text x="754.7" y="1527" font-size="30" textLength="48" lengthAdjust="spacingAndGlyphs">high</text>
<defs><linearGradient id="gcb" x1="0" y1="0" x2="0" y2="1"><stop offset="0" stop-color="#E41A1C"/><stop offset="0.34" stop-color="#E41A1C"/><stop offset="0.42" stop-color="#EC7C80"/><stop offset="0.495" stop-color="#F7F1F3"/><stop offset="0.56" stop-color="#A9ACDA"/><stop offset="0.62" stop-color="#4858AE"/><stop offset="0.645" stop-color="#1F48A0"/><stop offset="1" stop-color="#1F48A0"/></linearGradient></defs>
<rect x="731.5" y="1561" width="19.8" height="392" fill="url(#gcb)"/>
<text x="760.1" y="1669.3" font-size="30">5</text>
<text x="760.1" y="1767.9" font-size="30">0</text>
<text x="759.7" y="1866.8" font-size="30" textLength="26" lengthAdjust="spacingAndGlyphs">−5</text>
<text x="869" y="1356.3" font-size="44" fill="#231815">H</text>
<rect x="941.3" y="1420.5" width="1051.1" height="56.3" fill="#BFBBB8"/>
<rect x="941.3" y="1533.2" width="1051.1" height="56.3" fill="#BFBBB8"/>
<rect x="941.3" y="1645.8" width="1051.1" height="56.3" fill="#BFBBB8"/>
<rect x="941.3" y="1758.3" width="1051.1" height="56.3" fill="#BFBBB8"/>
<rect x="941.3" y="1871" width="1051.1" height="56.3" fill="#BFBBB8"/>
<rect x="941.3" y="1983.5" width="1051.1" height="56.3" fill="#BFBBB8"/>
<line x1="1652.3" y1="1331" x2="1652.3" y2="2073" stroke="#c8c8c8" stroke-width="1.2"/>
<line x1="1817.5" y1="1331" x2="1817.5" y2="2073" stroke="#c8c8c8" stroke-width="1.2"/>
<line x1="1942.5" y1="1331" x2="1942.5" y2="2073" stroke="#c8c8c8" stroke-width="1.2"/>
<line x1="1527.3" y1="1331" x2="1527.3" y2="2076" stroke="#111" stroke-width="2" stroke-dasharray="4 4"/>
<text x="1529" y="1318.7" font-size="40" text-anchor="middle" textLength="198" lengthAdjust="spacingAndGlyphs">Hazard ratio</text>
<text x="962.9" y="1398.9" font-size="29.5">Age</text>
<text x="1173.3" y="1398.6" font-size="25.5">(N=780)</text>
<text x="1387.5" y="1384.9" font-size="25.5" text-anchor="middle" textLength="42.3" lengthAdjust="spacingAndGlyphs">1.03</text>
<text x="1380.3" y="1405.6" font-size="25.5" text-anchor="middle" textLength="147.4" lengthAdjust="spacingAndGlyphs">(1.018 − 1.04)</text>
<path d="M1530.5 1392.4H1534.4M1530.5 1387.9v9M1534.4 1387.9v9" fill="none" stroke="#111" stroke-width="2"/>
<rect x="1523.6" y="1383.4" width="18" height="18" fill="#000"/>
<text x="1936.1" y="1398.4" font-size="25.5" textLength="116" lengthAdjust="spacingAndGlyphs">&lt;0.001 ***</text>
<text x="962.9" y="1455.2" font-size="29.5">Sex</text>
<text x="1177.2" y="1438.9" font-size="25.5">Female</text>
<text x="1173.3" y="1461.6" font-size="25.5">(N=263)</text>
<text text-anchor="middle" x="1372.3" y="1455.2" font-size="25.5">reference</text>
<rect x="1518.3" y="1439.7" width="18" height="18" fill="#000"/>
<text x="1177.2" y="1495.2" font-size="25.5">Male</text>
<text x="1173.3" y="1517.9" font-size="25.5">(N=517)</text>
<text x="1387.5" y="1497.5" font-size="25.5" text-anchor="middle" textLength="42.3" lengthAdjust="spacingAndGlyphs">1.17</text>
<text x="1380.3" y="1518.2" font-size="25.5" text-anchor="middle" textLength="147.4" lengthAdjust="spacingAndGlyphs">(0.927 − 1.48)</text>
<path d="M1513.6 1505H1598M1513.6 1500.5v9M1598 1500.5v9" fill="none" stroke="#111" stroke-width="2"/>
<rect x="1546.6" y="1496" width="18" height="18" fill="#000"/>
<text x="1932" y="1511" font-size="25.5" textLength="69" lengthAdjust="spacingAndGlyphs">0.1848</text>
<text x="962.9" y="1567.8" font-size="29.5">T</text>
<text x="1177.2" y="1551.5" font-size="25.5">T1</text>
<text x="1173.3" y="1574.2" font-size="25.5">(N=28)</text>
<text text-anchor="middle" x="1372.3" y="1567.8" font-size="25.5">reference</text>
<rect x="1518.3" y="1552.3" width="18" height="18" fill="#000"/>
<text x="1177.2" y="1607.8" font-size="25.5">T2</text>
<text x="1173.3" y="1630.5" font-size="25.5">(N=110)</text>
<text x="1387.5" y="1610.1" font-size="25.5" text-anchor="middle" textLength="42.3" lengthAdjust="spacingAndGlyphs">1.92</text>
<text x="1380.3" y="1630.8" font-size="25.5" text-anchor="middle" textLength="147.4" lengthAdjust="spacingAndGlyphs">(0.585 − 6.31)</text>
<path d="M1430.6 1617.6H1859.4M1430.6 1613.1v9M1859.4 1613.1v9" fill="none" stroke="#111" stroke-width="2"/>
<rect x="1635.9" y="1608.6" width="18" height="18" fill="#000"/>
<text x="1932" y="1623.6" font-size="25.5" textLength="69" lengthAdjust="spacingAndGlyphs">0.2822</text>
<text x="1177.2" y="1664.1" font-size="25.5">T3</text>
<text x="1173.3" y="1686.8" font-size="25.5">(N=255)</text>
<text x="1387.5" y="1666.4" font-size="25.5" text-anchor="middle" textLength="42.3" lengthAdjust="spacingAndGlyphs">2.57</text>
<text x="1380.3" y="1687.1" font-size="25.5" text-anchor="middle" textLength="147.4" lengthAdjust="spacingAndGlyphs">(0.804 − 8.20)</text>
<path d="M1488 1673.9H1906.7M1488 1669.4v9M1906.7 1669.4v9" fill="none" stroke="#111" stroke-width="2"/>
<rect x="1688.5" y="1664.9" width="18" height="18" fill="#000"/>
<text x="1932" y="1679.9" font-size="25.5" textLength="69" lengthAdjust="spacingAndGlyphs">0.1115</text>
<text x="1177.2" y="1720.4" font-size="25.5">T4</text>
<text x="1173.3" y="1743.1" font-size="25.5">(N=387)</text>
<text x="1387.5" y="1722.7" font-size="25.5" text-anchor="middle" textLength="42.3" lengthAdjust="spacingAndGlyphs">2.78</text>
<text x="1380.3" y="1743.4" font-size="25.5" text-anchor="middle" textLength="147.4" lengthAdjust="spacingAndGlyphs">(0.876 − 8.82)</text>
<path d="M1503.4 1730.2H1919.8M1503.4 1725.7v9M1919.8 1725.7v9" fill="none" stroke="#111" stroke-width="2"/>
<rect x="1702.6" y="1721.2" width="18" height="18" fill="#000"/>
<text x="1932" y="1736.2" font-size="25.5" textLength="69" lengthAdjust="spacingAndGlyphs">0.0827</text>
<text x="962.9" y="1793" font-size="29.5">N</text>
<text x="1177.2" y="1776.7" font-size="25.5">N0</text>
<text x="1173.3" y="1799.4" font-size="25.5">(N=187)</text>
<text text-anchor="middle" x="1372.3" y="1793" font-size="25.5">reference</text>
<rect x="1518.3" y="1777.5" width="18" height="18" fill="#000"/>
<text x="1177.2" y="1833" font-size="25.5">N1</text>
<text x="1173.3" y="1855.7" font-size="25.5">(N=281)</text>
<text x="1387.5" y="1835.3" font-size="25.5" text-anchor="middle" textLength="42.3" lengthAdjust="spacingAndGlyphs">1.17</text>
<text x="1380.3" y="1856" font-size="25.5" text-anchor="middle" textLength="147.4" lengthAdjust="spacingAndGlyphs">(0.844 − 1.62)</text>
<path d="M1496.7 1842.8H1614.3M1496.7 1838.3v9M1614.3 1838.3v9" fill="none" stroke="#111" stroke-width="2"/>
<rect x="1546.6" y="1833.8" width="18" height="18" fill="#000"/>
<text x="1932" y="1848.8" font-size="25.5" textLength="69" lengthAdjust="spacingAndGlyphs">0.3462</text>
<text x="1177.2" y="1889.3" font-size="25.5">N2</text>
<text x="1173.3" y="1912" font-size="25.5">(N=206)</text>
<text x="1387.5" y="1891.6" font-size="25.5" text-anchor="middle" textLength="42.3" lengthAdjust="spacingAndGlyphs">1.87</text>
<text x="1380.3" y="1912.3" font-size="25.5" text-anchor="middle" textLength="147.4" lengthAdjust="spacingAndGlyphs">(1.339 − 2.61)</text>
<path d="M1579.9 1899.1H1700.3M1579.9 1894.6v9M1700.3 1894.6v9" fill="none" stroke="#111" stroke-width="2"/>
<rect x="1631.2" y="1890.1" width="18" height="18" fill="#000"/>
<text x="1936.1" y="1905.1" font-size="25.5" textLength="116" lengthAdjust="spacingAndGlyphs">&lt;0.001 ***</text>
<text x="1177.2" y="1945.6" font-size="25.5">N3</text>
<text x="1173.3" y="1968.3" font-size="25.5">(N=106)</text>
<text x="1387.5" y="1947.9" font-size="25.5" text-anchor="middle" textLength="42.3" lengthAdjust="spacingAndGlyphs">2.96</text>
<text x="1380.3" y="1968.6" font-size="25.5" text-anchor="middle" textLength="147.4" lengthAdjust="spacingAndGlyphs">(2.038 − 4.28)</text>
<path d="M1655.7 1955.4H1789.4M1655.7 1950.9v9M1789.4 1950.9v9" fill="none" stroke="#111" stroke-width="2"/>
<rect x="1714" y="1946.4" width="18" height="18" fill="#000"/>
<text x="1936.1" y="1961.4" font-size="25.5" textLength="116" lengthAdjust="spacingAndGlyphs">&lt;0.001 ***</text>
<text x="962.9" y="2018.2" font-size="29.5">RiskScore</text>
<text x="1173.3" y="2017.9" font-size="25.5">(N=780)</text>
<text x="1387.5" y="2004.2" font-size="25.5" text-anchor="middle" textLength="42.3" lengthAdjust="spacingAndGlyphs">1.35</text>
<text x="1380.3" y="2024.9" font-size="25.5" text-anchor="middle" textLength="147.4" lengthAdjust="spacingAndGlyphs">(1.258 − 1.44)</text>
<path d="M1568.7 2011.7H1593M1568.7 2007.2v9M1593 2007.2v9" fill="none" stroke="#111" stroke-width="2"/>
<rect x="1572.9" y="2003.2" width="17" height="17" fill="#000"/>
<text x="1936.1" y="2017.7" font-size="25.5" textLength="116" lengthAdjust="spacingAndGlyphs">&lt;0.001 ***</text>
<text x="1527.3" y="2100.5" font-size="28" text-anchor="middle" fill="#4d4d4d">1</text>
<text x="1652.3" y="2100.5" font-size="28" text-anchor="middle" fill="#4d4d4d">2</text>
<text x="1817.5" y="2100.5" font-size="28" text-anchor="middle" fill="#4d4d4d">5</text>
<text x="1942.5" y="2100.5" font-size="28" text-anchor="middle" fill="#4d4d4d">10</text>
<text x="962.7" y="2060" font-size="25.7" textLength="585" lengthAdjust="spacingAndGlyphs"># Events: 347; Global <tspan font-style="italic">p</tspan>−value (Log−Rank): 7.0875e−28</text>
<text x="962.7" y="2084.9" font-size="25.7" textLength="402.5" lengthAdjust="spacingAndGlyphs">AIC: 4102.75; Concordance Index: 0.7</text>
<text x="33" y="2111.5" font-size="44" fill="#231815">I</text>
<text x="59.6" y="2154.4" font-size="30.5">Points</text>
<text x="59.6" y="2204.7" font-size="30.5">Sex</text>
<text x="59.6" y="2274.9" font-size="30.5">T</text>
<text x="59.6" y="2344.5" font-size="30.5">Risk***</text>
<text x="59.6" y="2415.5" font-size="30.5">Age***</text>
<text x="59.6" y="2487.2" font-size="30.5">N***</text>
<text x="59.6" y="2550.4" font-size="30.5">Total points</text>
<text x="21.8" y="2667.9" font-size="30.5" textLength="175" lengthAdjust="spacingAndGlyphs">Pr(futime &gt; 5)</text>
<text x="21.8" y="2725.4" font-size="30.5" textLength="175" lengthAdjust="spacingAndGlyphs">Pr(futime &gt; 3)</text>
<text x="21.8" y="2782" font-size="30.5" textLength="175" lengthAdjust="spacingAndGlyphs">Pr(futime &gt; 1)</text>
<line x1="245.2" y1="2158.4" x2="880.4" y2="2158.4" stroke="#000" stroke-width="2"/>
<path d="M245.2 2158.4v4.5M372.2 2158.4v4.5M499.3 2158.4v4.5M626.3 2158.4v4.5M753.4 2158.4v4.5M880.4 2158.4v4.5" fill="none" stroke="#000" stroke-width="2"/>
<text x="245.2" y="2150.2" font-size="25" text-anchor="middle">0</text>
<text x="372.2" y="2150.2" font-size="25" text-anchor="middle">20</text>
<text x="499.3" y="2150.2" font-size="25" text-anchor="middle">40</text>
<text x="626.3" y="2150.2" font-size="25" text-anchor="middle">60</text>
<text x="753.4" y="2150.2" font-size="25" text-anchor="middle">80</text>
<text x="880.4" y="2150.2" font-size="25" text-anchor="middle">100</text>
<line x1="366.2" y1="2164" x2="366.2" y2="2363.3" stroke="#EE1C24" stroke-width="1.7" stroke-dasharray="1.8 7.5"/>
<line x1="565" y1="2164" x2="565" y2="2504.7" stroke="#EE1C24" stroke-width="1.7" stroke-dasharray="1.8 7.5"/>
<line x1="619.5" y1="2164" x2="619.5" y2="2221.7" stroke="#EE1C24" stroke-width="1.7" stroke-dasharray="1.8 7.5"/>
<line x1="667.6" y1="2164" x2="667.6" y2="2433.9" stroke="#EE1C24" stroke-width="1.7" stroke-dasharray="1.8 7.5"/>
<line x1="880.4" y1="2164" x2="880.4" y2="2292.5" stroke="#EE1C24" stroke-width="1.7" stroke-dasharray="1.8 7.5"/>
<line x1="565" y1="2221.7" x2="619.5" y2="2221.7" stroke="#bbb" stroke-width="1.5"/>
<rect x="545.3" y="2206.3" width="39.4" height="30.8" fill="#AEDBD3" stroke="#2C5EBE" stroke-width="2"/>
<circle cx="565" cy="2221.7" r="2.2" fill="#000"/>
<rect x="592" y="2200.2" width="55.6" height="43" fill="#AEDBD3" stroke="#2C5EBE" stroke-width="2"/>
<text x="537.5" y="2226" font-size="25" text-anchor="end">Female</text>
<text x="651.9" y="2226" font-size="25">Male</text>
<line x1="565" y1="2292.5" x2="880.4" y2="2292.5" stroke="#bbb" stroke-width="1.5"/>
<rect x="557.4" y="2286.5" width="15.2" height="12.1" fill="#AEDBD3" stroke="#2C5EBE" stroke-width="2"/>
<circle cx="565" cy="2292.5" r="2.2" fill="#000"/>
<rect x="775.4" y="2281" width="29.9" height="23" fill="#AEDBD3" stroke="#2C5EBE" stroke-width="2"/>
<circle cx="790.2" cy="2292.5" r="2.2" fill="#000"/>
<rect x="852.5" y="2270.7" width="55.4" height="43" fill="#AEDBD3" stroke="#2C5EBE" stroke-width="2"/>
<rect x="831" y="2275.3" width="45.4" height="34.7" fill="#AEDBD3" stroke="#2C5EBE" stroke-width="2"/>
<circle cx="853.7" cy="2292.5" r="2.2" fill="#000"/>
<text x="551.4" y="2300" font-size="25" text-anchor="end">T1</text>
<text x="778.4" y="2320.4" font-size="25">T2</text>
<text x="830.4" y="2269.8" font-size="25">T3</text>
<text x="869.8" y="2329.4" font-size="25">T4</text>
<line x1="366.2" y1="2363.3" x2="565" y2="2363.3" stroke="#bbb" stroke-width="1.5"/>
<rect x="338.4" y="2342.1" width="55.7" height="42.4" fill="#AEDBD3" stroke="#2C5EBE" stroke-width="2"/>
<rect x="537.5" y="2342.5" width="54.7" height="41.7" fill="#AEDBD3" stroke="#2C5EBE" stroke-width="2"/>
<circle cx="565" cy="2363.3" r="2.2" fill="#000"/>
<text x="335.4" y="2368.1" font-size="25" text-anchor="end">low</text>
<text x="596.8" y="2368.2" font-size="25">high</text>
<path d="M227.6 2433.9 227.6 2433.9 229.6 2433.7 231.6 2433.4 233.6 2433.3 235.6 2433.1 237.6 2433 239.6 2432.7 241.6 2432.6 243.6 2432.6 245.6 2432.7 247.6 2432.5 249.6 2432.6 251.6 2432.7 253.6 2433 255.6 2433 257.6 2433.2 259.6 2433.2 261.6 2433.4 263.6 2433.4 265.6 2433.6 267.6 2433.7 269.6 2433.8 271.6 2433.9 273.6 2433.6 275.6 2433.3 277.6 2432.9 279.6 2432.7 281.6 2432.1 283.6 2432 285.6 2431.5 287.6 2431.3 289.6 2431.1 291.6 2430.8 293.6 2430.7 295.6 2430.2 297.6 2430.1 299.6 2430.2 301.6 2430.5 303.6 2430.7 305.6 2430.4 307.6 2430.1 309.6 2430.3 311.6 2430.6 313.6 2431 315.6 2431 317.6 2431 319.6 2430.9 321.6 2430.4 323.6 2430.5 325.6 2430.6 327.6 2430.9 329.6 2431 331.6 2431 333.6 2431.4 335.6 2431.9 337.6 2432.8 339.6 2433.2 341.6 2433.1 343.6 2432.8 345.6 2432.6 347.6 2432.3 349.6 2432 351.6 2431.8 353.6 2431.7 355.6 2431.6 357.6 2431.5 359.6 2430.8 361.6 2430.5 363.6 2430.1 365.6 2429.4 367.6 2428.7 369.6 2428.2 371.6 2427.7 373.6 2427.3 375.6 2425.9 377.6 2426.5 379.6 2426.1 381.6 2427.1 383.6 2427.4 385.6 2427.4 387.6 2426.4 389.6 2424.9 391.6 2423 393.6 2423.2 395.6 2423.2 397.6 2424.7 399.6 2424.3 401.6 2425.6 403.6 2426.1 405.6 2426.4 407.6 2426.4 409.6 2425.6 411.6 2425.4 413.6 2424 415.6 2423.8 417.6 2423.2 419.6 2423 421.6 2422.7 423.6 2422.6 425.6 2422.9 427.6 2423 429.6 2422.3 431.6 2421.6 433.6 2421.4 435.6 2421.6 437.6 2422.3 439.6 2422.3 441.6 2423 443.6 2421.8 445.6 2421.5 447.6 2420.4 449.6 2420.3 451.6 2420 453.6 2419.8 455.6 2419 457.6 2418.4 459.6 2418.1 461.6 2417.8 463.6 2418.1 465.6 2416.3 467.6 2416 469.6 2414.6 471.6 2413.2 473.6 2410.8 475.6 2409.4 477.6 2408.8 479.6 2408.1 481.6 2407 483.6 2407.1 485.6 2407.2 487.6 2407.1 489.6 2407.2 491.6 2407.7 493.6 2408.7 495.6 2410.1 497.6 2411.6 499.6 2413.9 501.6 2414.3 503.6 2414.1 505.6 2414.3 507.6 2414.4 509.6 2415.4 511.6 2415.1 513.6 2413.7 515.6 2412.1 517.6 2410.5 519.6 2408.6 521.6 2406.7 523.6 2406.1 525.6 2405.8 527.6 2406.3 529.6 2406.4 531.6 2407.5 533.6 2407.9 535.6 2408.8 537.6 2409.1 539.6 2409.7 541.6 2409.1 543.6 2408.5 545.6 2407.9 547.6 2407.3 549.6 2405.8 551.6 2405 553.6 2403.6 555.6 2403.4 557.6 2404.3 559.6 2404.9 561.6 2403.7 563.6 2402 565.6 2401.7 567.6 2402.5 569.6 2401.6 571.6 2401.4 573.6 2401.4 575.6 2402.5 577.6 2403.1 579.6 2403.7 581.6 2405.3 583.6 2405.6 585.6 2405.6 587.6 2404.7 589.6 2404.4 591.6 2404.1 593.6 2405.1 595.6 2404.4 597.6 2403.6 599.6 2402 601.6 2401 603.6 2398.4 605.6 2395.9 607.6 2393.8 609.6 2393.2 611.6 2392 613.6 2391.8 615.6 2392.8 617.6 2393.3 619.6 2393.4 621.6 2394 623.6 2397.1 625.6 2400.6 627.6 2403 629.6 2402.8 631.6 2403.6 633.6 2403.9 635.6 2406.2 637.6 2406.1 639.6 2406.9 641.6 2407.3 643.6 2408.6 645.6 2409.5 647.6 2409.2 649.6 2409.5 651.6 2409.7 653.6 2411.2 655.6 2410.9 657.6 2412.2 659.6 2412.5 661.6 2413.8 663.6 2414.4 665.6 2413.9 667.6 2413.4 669.6 2413.4 671.6 2414.5 673.6 2416.3 675.6 2417 677.6 2417.1 679.6 2416.8 681.6 2416.6 683.6 2416.8 685.6 2416.7 687.6 2417.5 689.6 2418.2 691.6 2418.1 693.6 2417.3 695.6 2417.3 697.6 2417.4 699.6 2418.3 701.6 2418.4 703.6 2420 705.6 2419.5 707.6 2419.6 709.6 2418.4 711.6 2418.7 713.6 2419.3 715.6 2420.8 717.6 2421.5 719.6 2422.7 721.6 2423.8 723.6 2425.3 725.6 2425.6 727.6 2425.5 729.6 2425.2 731.6 2426 733.6 2426.3 735.6 2427.7 737.6 2427.9 739.6 2428.6 741.6 2428.4 743.6 2428.6 745.6 2428.9 747.6 2429.2 749.6 2429.4 751.6 2429.4 753.6 2429.7 755.6 2430 757.6 2429.3 759.6 2429.3 761.6 2428.9 763.6 2429.9 765.6 2430.2 767.6 2430.6 769.6 2430.4 771.6 2430 773.6 2430.3 775.6 2430.4 777.6 2430.6 779.6 2430.8 781.6 2431 783.6 2431.6 785.6 2431.7 787.6 2432 789.6 2432 791.6 2432.4 793.6 2432.7 795.6 2433 797.6 2433.1 799.6 2432.6 801.6 2432.3 803.6 2431.8 805.6 2431.2 807.6 2430.4 809.6 2429.4 811.6 2429.4 813.6 2429.5 815.6 2430.2 817.6 2430.7 819.6 2431.3 821.6 2432.1 823.6 2432.3 825.6 2432.8 827.6 2433.2 827.4 2433.9Z" fill="#EBEBEB"/>
<path d="M227.6 2433.9 229.6 2433.7 231.6 2433.4 233.6 2433.3 235.6 2433.1 237.6 2433 239.6 2432.7 241.6 2432.6 243.6 2432.6 245.6 2432.7 247.6 2432.5 249.6 2432.6 251.6 2432.7 253.6 2433 255.6 2433 257.6 2433.2 259.6 2433.2 261.6 2433.4 263.6 2433.4 265.6 2433.6 267.6 2433.7 269.6 2433.8 271.6 2433.9 273.6 2433.6 275.6 2433.3 277.6 2432.9 279.6 2432.7 281.6 2432.1 283.6 2432 285.6 2431.5 287.6 2431.3 289.6 2431.1 291.6 2430.8 293.6 2430.7 295.6 2430.2 297.6 2430.1 299.6 2430.2 301.6 2430.5 303.6 2430.7 305.6 2430.4 307.6 2430.1 309.6 2430.3 311.6 2430.6 313.6 2431 315.6 2431 317.6 2431 319.6 2430.9 321.6 2430.4 323.6 2430.5 325.6 2430.6 327.6 2430.9 329.6 2431 331.6 2431 333.6 2431.4 335.6 2431.9 337.6 2432.8 339.6 2433.2 341.6 2433.1 343.6 2432.8 345.6 2432.6 347.6 2432.3 349.6 2432 351.6 2431.8 353.6 2431.7 355.6 2431.6 357.6 2431.5 359.6 2430.8 361.6 2430.5 363.6 2430.1 365.6 2429.4 367.6 2428.7 369.6 2428.2 371.6 2427.7 373.6 2427.3 375.6 2425.9 377.6 2426.5 379.6 2426.1 381.6 2427.1 383.6 2427.4 385.6 2427.4 387.6 2426.4 389.6 2424.9 391.6 2423 393.6 2423.2 395.6 2423.2 397.6 2424.7 399.6 2424.3 401.6 2425.6 403.6 2426.1 405.6 2426.4 407.6 2426.4 409.6 2425.6 411.6 2425.4 413.6 2424 415.6 2423.8 417.6 2423.2 419.6 2423 421.6 2422.7 423.6 2422.6 425.6 2422.9 427.6 2423 429.6 2422.3 431.6 2421.6 433.6 2421.4 435.6 2421.6 437.6 2422.3 439.6 2422.3 441.6 2423 443.6 2421.8 445.6 2421.5 447.6 2420.4 449.6 2420.3 451.6 2420 453.6 2419.8 455.6 2419 457.6 2418.4 459.6 2418.1 461.6 2417.8 463.6 2418.1 465.6 2416.3 467.6 2416 469.6 2414.6 471.6 2413.2 473.6 2410.8 475.6 2409.4 477.6 2408.8 479.6 2408.1 481.6 2407 483.6 2407.1 485.6 2407.2 487.6 2407.1 489.6 2407.2 491.6 2407.7 493.6 2408.7 495.6 2410.1 497.6 2411.6 499.6 2413.9 501.6 2414.3 503.6 2414.1 505.6 2414.3 507.6 2414.4 509.6 2415.4 511.6 2415.1 513.6 2413.7 515.6 2412.1 517.6 2410.5 519.6 2408.6 521.6 2406.7 523.6 2406.1 525.6 2405.8 527.6 2406.3 529.6 2406.4 531.6 2407.5 533.6 2407.9 535.6 2408.8 537.6 2409.1 539.6 2409.7 541.6 2409.1 543.6 2408.5 545.6 2407.9 547.6 2407.3 549.6 2405.8 551.6 2405 553.6 2403.6 555.6 2403.4 557.6 2404.3 559.6 2404.9 561.6 2403.7 563.6 2402 565.6 2401.7 567.6 2402.5 569.6 2401.6 571.6 2401.4 573.6 2401.4 575.6 2402.5 577.6 2403.1 579.6 2403.7 581.6 2405.3 583.6 2405.6 585.6 2405.6 587.6 2404.7 589.6 2404.4 591.6 2404.1 593.6 2405.1 595.6 2404.4 597.6 2403.6 599.6 2402 601.6 2401 603.6 2398.4 605.6 2395.9 607.6 2393.8 609.6 2393.2 611.6 2392 613.6 2391.8 615.6 2392.8 617.6 2393.3 619.6 2393.4 621.6 2394 623.6 2397.1 625.6 2400.6 627.6 2403 629.6 2402.8 631.6 2403.6 633.6 2403.9 635.6 2406.2 637.6 2406.1 639.6 2406.9 641.6 2407.3 643.6 2408.6 645.6 2409.5 647.6 2409.2 649.6 2409.5 651.6 2409.7 653.6 2411.2 655.6 2410.9 657.6 2412.2 659.6 2412.5 661.6 2413.8 663.6 2414.4 665.6 2413.9 667.6 2413.4 669.6 2413.4 671.6 2414.5 673.6 2416.3 675.6 2417 677.6 2417.1 679.6 2416.8 681.6 2416.6 683.6 2416.8 685.6 2416.7 687.6 2417.5 689.6 2418.2 691.6 2418.1 693.6 2417.3 695.6 2417.3 697.6 2417.4 699.6 2418.3 701.6 2418.4 703.6 2420 705.6 2419.5 707.6 2419.6 709.6 2418.4 711.6 2418.7 713.6 2419.3 715.6 2420.8 717.6 2421.5 719.6 2422.7 721.6 2423.8 723.6 2425.3 725.6 2425.6 727.6 2425.5 729.6 2425.2 731.6 2426 733.6 2426.3 735.6 2427.7 737.6 2427.9 739.6 2428.6 741.6 2428.4 743.6 2428.6 745.6 2428.9 747.6 2429.2 749.6 2429.4 751.6 2429.4 753.6 2429.7 755.6 2430 757.6 2429.3 759.6 2429.3 761.6 2428.9 763.6 2429.9 765.6 2430.2 767.6 2430.6 769.6 2430.4 771.6 2430 773.6 2430.3 775.6 2430.4 777.6 2430.6 779.6 2430.8 781.6 2431 783.6 2431.6 785.6 2431.7 787.6 2432 789.6 2432 791.6 2432.4 793.6 2432.7 795.6 2433 797.6 2433.1 799.6 2432.6 801.6 2432.3 803.6 2431.8 805.6 2431.2 807.6 2430.4 809.6 2429.4 811.6 2429.4 813.6 2429.5 815.6 2430.2 817.6 2430.7 819.6 2431.3 821.6 2432.1 823.6 2432.3 825.6 2432.8 827.6 2433.2" fill="none" stroke="#2A50B8" stroke-width="1.8"/>
<line x1="227.6" y1="2433.9" x2="809.5" y2="2433.9" stroke="#000" stroke-width="2"/>
<text x="227.3" y="2456" font-size="25" text-anchor="middle">25</text>
<text x="272.1" y="2456" font-size="25" text-anchor="middle">30</text>
<text x="316.9" y="2456" font-size="25" text-anchor="middle">35</text>
<text x="361.7" y="2456" font-size="25" text-anchor="middle">40</text>
<text x="406.5" y="2456" font-size="25" text-anchor="middle">45</text>
<text x="451.3" y="2456" font-size="25" text-anchor="middle">50</text>
<text x="496.1" y="2456" font-size="25" text-anchor="middle">55</text>
<text x="540.9" y="2456" font-size="25" text-anchor="middle">60</text>
<text x="585.7" y="2456" font-size="25" text-anchor="middle">65</text>
<text x="630.5" y="2456" font-size="25" text-anchor="middle">70</text>
<text x="675.3" y="2456" font-size="25" text-anchor="middle">75</text>
<text x="720.1" y="2456" font-size="25" text-anchor="middle">80</text>
<text x="764.9" y="2456" font-size="25" text-anchor="middle">85</text>
<text x="809.7" y="2456" font-size="25" text-anchor="middle">90</text>
<path d="M227.3 2433.9v4M272.1 2433.9v4M316.9 2433.9v4M361.7 2433.9v4M406.5 2433.9v4M451.3 2433.9v4M496.1 2433.9v4M540.9 2433.9v4M585.7 2433.9v4M630.5 2433.9v4M675.3 2433.9v4M720.1 2433.9v4M764.9 2433.9v4M809.7 2433.9v4" fill="none" stroke="#000" stroke-width="1.8"/>
<line x1="565.2" y1="2504.7" x2="882.3" y2="2504.7" stroke="#bbb" stroke-width="1.5"/>
<rect x="583.8" y="2483.2" width="56.2" height="43.1" fill="#AEDBD3" stroke="#2C5EBE" stroke-width="2"/>
<circle cx="611.6" cy="2504.7" r="2.2" fill="#000"/>
<rect x="542.3" y="2487.4" width="45.5" height="35.3" fill="#AEDBD3" stroke="#2C5EBE" stroke-width="2"/>
<rect x="718.5" y="2486.7" width="47.4" height="36.7" fill="#AEDBD3" stroke="#2C5EBE" stroke-width="2"/>
<circle cx="742.4" cy="2504.7" r="2.2" fill="#000"/>
<rect x="865" y="2491.7" width="34.6" height="26.8" fill="#AEDBD3" stroke="#2C5EBE" stroke-width="2"/>
<circle cx="882.3" cy="2504.7" r="2.2" fill="#000"/>
<text x="555" y="2482.5" font-size="25">N0</text>
<text x="601.8" y="2546.2" font-size="25">N1</text>
<text x="728.3" y="2481.8" font-size="25">N2</text>
<text x="872.2" y="2537.4" font-size="25">N3</text>
<path d="M225.5 2610.2 225.5 2610.2 227.5 2610.2 229.5 2610.1 231.5 2610.1 233.5 2610 235.5 2610 237.5 2609.9 239.5 2609.9 241.5 2609.8 243.5 2609.8 245.5 2609.7 247.5 2609.7 249.5 2609.6 251.5 2609.6 253.5 2609.6 255.5 2609.5 257.5 2609.5 259.5 2609.4 261.5 2609.4 263.5 2609.3 265.5 2609.3 267.5 2609.3 269.5 2609.2 271.5 2609.2 273.5 2609.2 275.5 2609.1 277.5 2609.1 279.5 2609.1 281.5 2609 283.5 2609 285.5 2609 287.5 2608.9 289.5 2608.9 291.5 2608.9 293.5 2608.9 295.5 2608.8 297.5 2608.8 299.5 2608.8 301.5 2608.7 303.5 2608.7 305.5 2608.6 307.5 2608.5 309.5 2608.4 311.5 2608.3 313.5 2608.2 315.5 2608.1 317.5 2608 319.5 2607.9 321.5 2607.9 323.5 2607.8 325.5 2607.7 327.5 2607.6 329.5 2607.5 331.5 2607.4 333.5 2607.3 335.5 2607.2 337.5 2607.1 339.5 2607 341.5 2606.9 343.5 2606.8 345.5 2606.7 347.5 2606.6 349.5 2606.7 351.5 2606.9 353.5 2607.1 355.5 2607.2 357.5 2607.4 359.5 2607.6 361.5 2607.8 363.5 2607.9 365.5 2608.1 367.5 2608.3 369.5 2608.5 371.5 2608.6 373.5 2608.4 375.5 2607.9 377.5 2607.5 379.5 2607 381.5 2606.5 383.5 2606 385.5 2605.6 387.5 2605.1 389.5 2605.1 391.5 2605.1 393.5 2605.1 395.5 2605.1 397.5 2605.1 399.5 2605.1 401.5 2605.1 403.5 2604.9 405.5 2604.5 407.5 2604.2 409.5 2603.8 411.5 2603.4 413.5 2603 415.5 2602.6 417.5 2602.3 419.5 2601.9 421.5 2601.5 423.5 2601.1 425.5 2600.2 427.5 2599.2 429.5 2598.2 431.5 2597.2 433.5 2596.8 435.5 2597.4 437.5 2598 439.5 2598.6 441.5 2599.2 443.5 2599.8 445.5 2600.4 447.5 2601 449.5 2601 451.5 2600.9 453.5 2600.8 455.5 2600.6 457.5 2600.5 459.5 2600.4 461.5 2599.3 463.5 2598.2 465.5 2597.1 467.5 2596 469.5 2595.1 471.5 2594.9 473.5 2594.7 475.5 2594.5 477.5 2594.3 479.5 2594.1 481.5 2593.9 483.5 2593.5 485.5 2593 487.5 2592.5 489.5 2591.9 491.5 2591.4 493.5 2590.1 495.5 2588.2 497.5 2586.3 499.5 2584.5 501.5 2584.3 503.5 2584.2 505.5 2584 507.5 2583 509.5 2582 511.5 2581 513.5 2580.8 515.5 2580.8 517.5 2580.8 519.5 2580.8 521.5 2580.8 523.5 2580.8 525.5 2580.7 527.5 2580.2 529.5 2579.7 531.5 2579.2 533.5 2578.7 535.5 2578.2 537.5 2577.7 539.5 2577.3 541.5 2576.9 543.5 2576.5 545.5 2576.2 547.5 2575.8 549.5 2575.5 551.5 2575.1 553.5 2574.6 555.5 2574.1 557.5 2573.6 559.5 2573.1 561.5 2572.6 563.5 2572.1 565.5 2571.7 567.5 2571.5 569.5 2571.3 571.5 2571 573.5 2570.8 575.5 2570.5 577.5 2570.2 579.5 2569.6 581.5 2570.1 583.5 2571.7 585.5 2573.4 587.5 2575.1 589.5 2576.7 591.5 2578 593.5 2579 595.5 2580 597.5 2581 599.5 2582 601.5 2583 603.5 2584 605.5 2581.5 607.5 2579 609.5 2576.5 611.5 2574.7 613.5 2573.2 615.5 2571.6 617.5 2570.1 619.5 2568.5 621.5 2568.7 623.5 2569.1 625.5 2569.5 627.5 2569.9 629.5 2570.8 631.5 2571.8 633.5 2572.8 635.5 2573.8 637.5 2574.8 639.5 2575.9 641.5 2576.9 643.5 2577.8 645.5 2578.4 647.5 2579.1 649.5 2579.8 651.5 2580.4 653.5 2581.1 655.5 2581.7 657.5 2582.4 659.5 2583.1 661.5 2583.7 663.5 2584.3 665.5 2584.8 667.5 2585.3 669.5 2585.8 671.5 2586.3 673.5 2586.8 675.5 2587.3 677.5 2587.8 679.5 2588.3 681.5 2588.8 683.5 2588.6 685.5 2588.3 687.5 2588 689.5 2587.7 691.5 2587.3 693.5 2587 695.5 2586.7 697.5 2586.4 699.5 2586 701.5 2585.7 703.5 2586 705.5 2586.4 707.5 2586.7 709.5 2587 711.5 2587.3 713.5 2587.7 715.5 2588 717.5 2588.3 719.5 2588.6 721.5 2589 723.5 2589.5 725.5 2590 727.5 2590.5 729.5 2591 731.5 2591.5 733.5 2592 735.5 2592.5 737.5 2593 739.5 2593.5 741.5 2594.1 743.5 2594.9 745.5 2595.7 747.5 2596.5 749.5 2597.3 751.5 2598.1 753.5 2598.9 755.5 2599.8 757.5 2600.3 759.5 2599.6 761.5 2598.9 763.5 2598.2 765.5 2597.6 767.5 2597 769.5 2596.8 771.5 2596.5 773.5 2596.3 775.5 2596 777.5 2595.8 779.5 2595.6 781.5 2596.1 783.5 2596.8 785.5 2597.6 787.5 2598.3 789.5 2599.1 791.5 2599.8 793.5 2600.5 795.5 2601.1 797.5 2601.7 799.5 2602.3 801.5 2602.9 803.5 2603.5 805.5 2604.1 807.5 2604.7 809.5 2605.3 811.5 2605.1 813.5 2604.8 815.5 2604.6 817.5 2604.3 819.5 2604.1 821.5 2603.9 823.5 2603.6 825.5 2603.4 827.5 2603.2 829.5 2603.1 831.5 2603.6 833.5 2604.1 835.5 2604.6 837.5 2605.1 839.5 2605.6 841.5 2606.1 843.5 2606.5 845.5 2607 847.5 2607.5 849.5 2608 851.5 2608.5 853.5 2608.7 855.5 2608.7 857.5 2608.8 859.5 2608.9 861.5 2609 863.5 2609.1 865.5 2609.1 867.5 2609.2 869.5 2609.3 871.5 2609.4 873.5 2609.4 875.5 2609.5 877.5 2609.6 879.5 2609.8 881.5 2609.9 883.5 2610 885.5 2610.1 887.5 2610.2 887.9 2610.2Z" fill="#EBEBEB"/>
<path d="M225.5 2610.2 227.5 2610.2 229.5 2610.1 231.5 2610.1 233.5 2610 235.5 2610 237.5 2609.9 239.5 2609.9 241.5 2609.8 243.5 2609.8 245.5 2609.7 247.5 2609.7 249.5 2609.6 251.5 2609.6 253.5 2609.6 255.5 2609.5 257.5 2609.5 259.5 2609.4 261.5 2609.4 263.5 2609.3 265.5 2609.3 267.5 2609.3 269.5 2609.2 271.5 2609.2 273.5 2609.2 275.5 2609.1 277.5 2609.1 279.5 2609.1 281.5 2609 283.5 2609 285.5 2609 287.5 2608.9 289.5 2608.9 291.5 2608.9 293.5 2608.9 295.5 2608.8 297.5 2608.8 299.5 2608.8 301.5 2608.7 303.5 2608.7 305.5 2608.6 307.5 2608.5 309.5 2608.4 311.5 2608.3 313.5 2608.2 315.5 2608.1 317.5 2608 319.5 2607.9 321.5 2607.9 323.5 2607.8 325.5 2607.7 327.5 2607.6 329.5 2607.5 331.5 2607.4 333.5 2607.3 335.5 2607.2 337.5 2607.1 339.5 2607 341.5 2606.9 343.5 2606.8 345.5 2606.7 347.5 2606.6 349.5 2606.7 351.5 2606.9 353.5 2607.1 355.5 2607.2 357.5 2607.4 359.5 2607.6 361.5 2607.8 363.5 2607.9 365.5 2608.1 367.5 2608.3 369.5 2608.5 371.5 2608.6 373.5 2608.4 375.5 2607.9 377.5 2607.5 379.5 2607 381.5 2606.5 383.5 2606 385.5 2605.6 387.5 2605.1 389.5 2605.1 391.5 2605.1 393.5 2605.1 395.5 2605.1 397.5 2605.1 399.5 2605.1 401.5 2605.1 403.5 2604.9 405.5 2604.5 407.5 2604.2 409.5 2603.8 411.5 2603.4 413.5 2603 415.5 2602.6 417.5 2602.3 419.5 2601.9 421.5 2601.5 423.5 2601.1 425.5 2600.2 427.5 2599.2 429.5 2598.2 431.5 2597.2 433.5 2596.8 435.5 2597.4 437.5 2598 439.5 2598.6 441.5 2599.2 443.5 2599.8 445.5 2600.4 447.5 2601 449.5 2601 451.5 2600.9 453.5 2600.8 455.5 2600.6 457.5 2600.5 459.5 2600.4 461.5 2599.3 463.5 2598.2 465.5 2597.1 467.5 2596 469.5 2595.1 471.5 2594.9 473.5 2594.7 475.5 2594.5 477.5 2594.3 479.5 2594.1 481.5 2593.9 483.5 2593.5 485.5 2593 487.5 2592.5 489.5 2591.9 491.5 2591.4 493.5 2590.1 495.5 2588.2 497.5 2586.3 499.5 2584.5 501.5 2584.3 503.5 2584.2 505.5 2584 507.5 2583 509.5 2582 511.5 2581 513.5 2580.8 515.5 2580.8 517.5 2580.8 519.5 2580.8 521.5 2580.8 523.5 2580.8 525.5 2580.7 527.5 2580.2 529.5 2579.7 531.5 2579.2 533.5 2578.7 535.5 2578.2 537.5 2577.7 539.5 2577.3 541.5 2576.9 543.5 2576.5 545.5 2576.2 547.5 2575.8 549.5 2575.5 551.5 2575.1 553.5 2574.6 555.5 2574.1 557.5 2573.6 559.5 2573.1 561.5 2572.6 563.5 2572.1 565.5 2571.7 567.5 2571.5 569.5 2571.3 571.5 2571 573.5 2570.8 575.5 2570.5 577.5 2570.2 579.5 2569.6 581.5 2570.1 583.5 2571.7 585.5 2573.4 587.5 2575.1 589.5 2576.7 591.5 2578 593.5 2579 595.5 2580 597.5 2581 599.5 2582 601.5 2583 603.5 2584 605.5 2581.5 607.5 2579 609.5 2576.5 611.5 2574.7 613.5 2573.2 615.5 2571.6 617.5 2570.1 619.5 2568.5 621.5 2568.7 623.5 2569.1 625.5 2569.5 627.5 2569.9 629.5 2570.8 631.5 2571.8 633.5 2572.8 635.5 2573.8 637.5 2574.8 639.5 2575.9 641.5 2576.9 643.5 2577.8 645.5 2578.4 647.5 2579.1 649.5 2579.8 651.5 2580.4 653.5 2581.1 655.5 2581.7 657.5 2582.4 659.5 2583.1 661.5 2583.7 663.5 2584.3 665.5 2584.8 667.5 2585.3 669.5 2585.8 671.5 2586.3 673.5 2586.8 675.5 2587.3 677.5 2587.8 679.5 2588.3 681.5 2588.8 683.5 2588.6 685.5 2588.3 687.5 2588 689.5 2587.7 691.5 2587.3 693.5 2587 695.5 2586.7 697.5 2586.4 699.5 2586 701.5 2585.7 703.5 2586 705.5 2586.4 707.5 2586.7 709.5 2587 711.5 2587.3 713.5 2587.7 715.5 2588 717.5 2588.3 719.5 2588.6 721.5 2589 723.5 2589.5 725.5 2590 727.5 2590.5 729.5 2591 731.5 2591.5 733.5 2592 735.5 2592.5 737.5 2593 739.5 2593.5 741.5 2594.1 743.5 2594.9 745.5 2595.7 747.5 2596.5 749.5 2597.3 751.5 2598.1 753.5 2598.9 755.5 2599.8 757.5 2600.3 759.5 2599.6 761.5 2598.9 763.5 2598.2 765.5 2597.6 767.5 2597 769.5 2596.8 771.5 2596.5 773.5 2596.3 775.5 2596 777.5 2595.8 779.5 2595.6 781.5 2596.1 783.5 2596.8 785.5 2597.6 787.5 2598.3 789.5 2599.1 791.5 2599.8 793.5 2600.5 795.5 2601.1 797.5 2601.7 799.5 2602.3 801.5 2602.9 803.5 2603.5 805.5 2604.1 807.5 2604.7 809.5 2605.3 811.5 2605.1 813.5 2604.8 815.5 2604.6 817.5 2604.3 819.5 2604.1 821.5 2603.9 823.5 2603.6 825.5 2603.4 827.5 2603.2 829.5 2603.1 831.5 2603.6 833.5 2604.1 835.5 2604.6 837.5 2605.1 839.5 2605.6 841.5 2606.1 843.5 2606.5 845.5 2607 847.5 2607.5 849.5 2608 851.5 2608.5 853.5 2608.7 855.5 2608.7 857.5 2608.8 859.5 2608.9 861.5 2609 863.5 2609.1 865.5 2609.1 867.5 2609.2 869.5 2609.3 871.5 2609.4 873.5 2609.4 875.5 2609.5 877.5 2609.6 879.5 2609.8 881.5 2609.9 883.5 2610 885.5 2610.1 887.5 2610.2" fill="none" stroke="#2A50B8" stroke-width="1.8"/>
<line x1="225.5" y1="2610.2" x2="958" y2="2610.2" stroke="#000" stroke-width="2"/>
<text x="237" y="2633.5" font-size="25" text-anchor="middle">200</text>
<text x="309.4" y="2633.5" font-size="25" text-anchor="middle">220</text>
<text x="381.8" y="2633.5" font-size="25" text-anchor="middle">240</text>
<text x="454.2" y="2633.5" font-size="25" text-anchor="middle">260</text>
<text x="526.6" y="2633.5" font-size="25" text-anchor="middle">280</text>
<text x="599" y="2633.5" font-size="25" text-anchor="middle">300</text>
<text x="671.4" y="2633.5" font-size="25" text-anchor="middle">320</text>
<text x="743.8" y="2633.5" font-size="25" text-anchor="middle">340</text>
<text x="816.2" y="2633.5" font-size="25" text-anchor="middle">360</text>
<text x="888.6" y="2633.5" font-size="25" text-anchor="middle">380</text>
<text x="961" y="2633.5" font-size="25" text-anchor="middle">400</text>
<path d="M237 2610.2v4M309.4 2610.2v4M381.8 2610.2v4M454.2 2610.2v4M526.6 2610.2v4M599 2610.2v4M671.4 2610.2v4M743.8 2610.2v4M816.2 2610.2v4M888.6 2610.2v4M961 2610.2v4" fill="none" stroke="#000" stroke-width="1.8"/>
<line x1="205.8" y1="2667.5" x2="888.5" y2="2667.5" stroke="#000" stroke-width="2"/>
<text x="210.4" y="2689.2" font-size="25" text-anchor="middle">0.94</text>
<text x="301" y="2689.2" font-size="25" text-anchor="middle">0.9</text>
<text x="389.5" y="2689.2" font-size="25" text-anchor="middle">0.84</text>
<text x="511.3" y="2689.2" font-size="25" text-anchor="middle">0.7</text>
<text x="625.7" y="2689.2" font-size="25" text-anchor="middle">0.5</text>
<text x="721.1" y="2689.2" font-size="25" text-anchor="middle">0.3</text>
<text x="820.2" y="2689.2" font-size="25" text-anchor="middle">0.12</text>
<text x="892.8" y="2689.2" font-size="25" text-anchor="middle">0.04</text>
<path d="M207.4 2667.5v4M301 2667.5v4M386.5 2667.5v4M511.3 2667.5v4M625.7 2667.5v4M721.1 2667.5v4M817.2 2667.5v4M889.8 2667.5v4" fill="none" stroke="#000" stroke-width="1.6"/>
<line x1="258.8" y1="2724" x2="883.6" y2="2724" stroke="#000" stroke-width="2"/>
<text x="263.3" y="2745.8" font-size="25" text-anchor="middle">0.94</text>
<text x="354" y="2745.8" font-size="25" text-anchor="middle">0.9</text>
<text x="441.9" y="2745.8" font-size="25" text-anchor="middle">0.84</text>
<text x="552.8" y="2745.8" font-size="25" text-anchor="middle">0.7</text>
<text x="678.6" y="2745.8" font-size="25" text-anchor="middle">0.5</text>
<text x="774.1" y="2745.8" font-size="25" text-anchor="middle">0.3</text>
<text x="884.6" y="2745.8" font-size="25" text-anchor="middle">0.1</text>
<path d="M260.3 2724v4M354 2724v4M438.9 2724v4M552.8 2724v4M678.6 2724v4M774.1 2724v4M884.6 2724v4" fill="none" stroke="#000" stroke-width="1.6"/>
<line x1="248.8" y1="2780" x2="883" y2="2780" stroke="#000" stroke-width="2"/>
<text x="252.7" y="2797.6" font-size="25" text-anchor="middle">0.98</text>
<text x="374.7" y="2797.6" font-size="25" text-anchor="middle">0.96</text>
<text x="446.4" y="2797.6" font-size="25" text-anchor="middle">0.94</text>
<text x="537.4" y="2797.6" font-size="25" text-anchor="middle">0.9</text>
<text x="666.5" y="2797.6" font-size="25" text-anchor="middle">0.8</text>
<text x="747.3" y="2797.6" font-size="25" text-anchor="middle">0.7</text>
<text x="809.4" y="2797.6" font-size="25" text-anchor="middle">0.6</text>
<text x="887.9" y="2797.6" font-size="25" text-anchor="middle">0.45</text>
<path d="M249.7 2780v4M371.7 2780v4M443.4 2780v4M537.4 2780v4M666.5 2780v4M747.3 2780v4M809.4 2780v4M884.9 2780v4" fill="none" stroke="#000" stroke-width="1.6"/>
<line x1="573" y1="2610" x2="573" y2="2784" stroke="#EE1C24" stroke-width="2.4"/>
<path d="M573 2602L580 2610L573 2618L566 2610Z" fill="#EE1C24"/>
<path d="M564.5 2659.5H581.5L573 2673.5Z" fill="#EE1C24"/>
<path d="M564.5 2715H581.5L573 2729Z" fill="#EE1C24"/>
<path d="M564.5 2771H581.5L573 2785Z" fill="#EE1C24"/>
<text x="570.8" y="2608.4" font-size="25" text-anchor="end" fill="#EE1C24">294</text>
<text x="570.8" y="2664" font-size="25" text-anchor="end" fill="#EE1C24">0.596</text>
<text x="570.8" y="2716.2" font-size="25" text-anchor="end" fill="#EE1C24">0.683</text>
<text x="570.8" y="2776" font-size="25" text-anchor="end" fill="#EE1C24">0.876</text>
<circle cx="366.2" cy="2158.4" r="5.6" fill="#EE1C24"/>
<circle cx="565" cy="2158.4" r="5.6" fill="#EE1C24"/>
<circle cx="619.5" cy="2158.4" r="5.6" fill="#EE1C24"/>
<circle cx="667.6" cy="2158.4" r="5.6" fill="#EE1C24"/>
<circle cx="880.4" cy="2158.4" r="5.6" fill="#EE1C24"/>
<circle cx="619.5" cy="2221.7" r="5.6" fill="#EE1C24"/>
<circle cx="880.4" cy="2292.5" r="5.6" fill="#EE1C24"/>
<circle cx="366.2" cy="2363.3" r="5.6" fill="#EE1C24"/>
<circle cx="667.6" cy="2433.9" r="5.6" fill="#EE1C24"/>
<circle cx="565.2" cy="2504.7" r="5.6" fill="#EE1C24"/>
<text x="947" y="2231" font-size="44" fill="#231815">J</text>
<rect x="1044.6" y="2311.5" width="465" height="428.2" fill="#fff"/>
<path d="M1107.7 2311.5V2739.7M1192.4 2311.5V2739.7M1277.2 2311.5V2739.7M1361.9 2311.5V2739.7M1446.7 2311.5V2739.7M1044.6 2664.2H1509.6M1044.6 2551.6H1509.6M1044.6 2439H1509.6M1044.6 2326.4H1509.6" fill="none" stroke="#F2F2F2" stroke-width="1.2"/>
<path d="M1065.3 2311.5V2739.7M1150 2311.5V2739.7M1234.8 2311.5V2739.7M1319.5 2311.5V2739.7M1404.3 2311.5V2739.7M1489 2311.5V2739.7M1044.6 2720.5H1509.6M1044.6 2607.9H1509.6M1044.6 2495.3H1509.6M1044.6 2382.7H1509.6" fill="none" stroke="#E3E3E3" stroke-width="1.5"/>
<path d="M1065.3 2720.5 1067.1 2720.5 1067.1 2717.7 1069.4 2717.7 1069.4 2714.9 1070.7 2714.9 1070.7 2712.1 1070.8 2712.1 1070.8 2709.2 1071.6 2709.2 1071.6 2706.4 1071.9 2706.4 1071.9 2703.6 1072.7 2703.6 1072.7 2700.8 1073.4 2700.8 1073.4 2698 1078.7 2698 1078.7 2695.2 1080 2695.2 1080 2692.3 1082 2692.3 1082 2689.5 1082.2 2689.5 1082.2 2686.7 1082.5 2686.7 1082.5 2684 1084.8 2684 1084.8 2681.4 1085.3 2681.4 1085.3 2678.7 1085.4 2678.7 1085.4 2676 1085.5 2676 1085.5 2673.3 1086.6 2673.3 1086.6 2670.6 1086.6 2670.6 1086.6 2668 1087.1 2668 1087.1 2665.3 1088.5 2665.3 1088.5 2662.6 1088.9 2662.6 1088.9 2659.9 1088.9 2659.9 1088.9 2657.2 1089.4 2657.2 1089.4 2654.5 1089.9 2654.5 1089.9 2651.9 1092.3 2651.9 1092.3 2649.2 1092.5 2649.2 1092.5 2646.5 1092.5 2646.5 1092.5 2643.8 1092.7 2643.8 1092.7 2641.1 1093.2 2641.1 1093.2 2638.5 1096 2638.5 1096 2635.8 1097.7 2635.8 1097.7 2633.1 1099.2 2633.1 1099.2 2630.4 1099.9 2630.4 1099.9 2627.7 1100.5 2627.7 1100.5 2625 1101 2625 1101 2622.3 1102.1 2622.3 1102.1 2619.6 1103.6 2619.6 1103.6 2616.9 1104 2616.9 1104 2614.2 1105.3 2614.2 1105.3 2611.5 1108.7 2611.5 1108.7 2608.8 1110.7 2608.8 1110.7 2606.1 1112.4 2606.1 1112.4 2603.4 1114.3 2603.4 1114.3 2600.7 1114.9 2600.7 1114.9 2598.1 1117.4 2598.1 1117.4 2595.5 1118.1 2595.5 1118.1 2592.8 1118.9 2592.8 1118.9 2590.2 1120.2 2590.2 1120.2 2587.5 1121.7 2587.5 1121.7 2584.9 1121.7 2584.9 1121.7 2582.2 1121.9 2582.2 1121.9 2579.6 1122.8 2579.6 1122.8 2576.9 1123 2576.9 1123 2574.3 1124.1 2574.3 1124.1 2571.6 1125.1 2571.6 1125.1 2569 1125.5 2569 1125.5 2566.4 1127 2566.4 1127 2563.7 1127.3 2563.7 1127.3 2561.1 1127.9 2561.1 1127.9 2558.4 1132.2 2558.4 1132.2 2555.8 1132.9 2555.8 1132.9 2553.1 1133.1 2553.1 1133.1 2550.5 1134.6 2550.5 1134.6 2547.9 1134.7 2547.9 1134.7 2545.3 1136.2 2545.3 1136.2 2542.7 1138.9 2542.7 1138.9 2540.1 1140.3 2540.1 1140.3 2537.5 1141.6 2537.5 1141.6 2534.9 1142.3 2534.9 1142.3 2532.3 1144.2 2532.3 1144.2 2529.8 1149.4 2529.8 1149.4 2527.2 1155.8 2527.2 1155.8 2524.6 1160.1 2524.6 1160.1 2521.9 1160.6 2521.9 1160.6 2519.3 1161 2519.3 1161 2516.7 1161.9 2516.7 1161.9 2514.1 1163.7 2514.1 1163.7 2511.4 1165.4 2511.4 1165.4 2508.8 1169.3 2508.8 1169.3 2506.2 1170.8 2506.2 1170.8 2503.6 1172.7 2503.6 1172.7 2500.9 1174.3 2500.9 1174.3 2498.3 1180.9 2498.3 1180.9 2495.7 1184 2495.7 1184 2493 1192 2493 1192 2490.3 1194.3 2490.3 1194.3 2487.6 1197 2487.6 1197 2484.9 1199.5 2484.9 1199.5 2482.2 1199.8 2482.2 1199.8 2479.5 1206 2479.5 1206 2476.8 1206.4 2476.8 1206.4 2474.1 1206.8 2474.1 1206.8 2471.4 1215.2 2471.4 1215.2 2468.7 1221.6 2468.7 1221.6 2466 1223.7 2466 1223.7 2463.3 1229.2 2463.3 1229.2 2460.6 1233.1 2460.6 1233.1 2457.9 1233.5 2457.9 1233.5 2455.2 1234.8 2455.2 1234.8 2452.5 1239.8 2452.5 1239.8 2449.8 1249.8 2449.8 1249.8 2447 1257.3 2447 1257.3 2444.3 1266.8 2444.3 1266.8 2441.5 1266.9 2441.5 1266.9 2438.7 1268 2438.7 1268 2436 1277.1 2436 1277.1 2433.2 1283 2433.2 1283 2430.5 1285.6 2430.5 1285.6 2427.7 1285.9 2427.7 1285.9 2425 1288.8 2425 1288.8 2422.3 1293.6 2422.3 1293.6 2419.6 1301.4 2419.6 1301.4 2416.9 1302.6 2416.9 1302.6 2414.2 1319.5 2414.2 1319.7 2414.2 1319.7 2411.6 1319.9 2411.6 1319.9 2409 1320.2 2409 1320.2 2406.3 1320.4 2406.3 1320.4 2403.7 1320.5 2403.7 1320.5 2401.1 1320.6 2401.1 1320.6 2398.5 1320.8 2398.5 1320.8 2395.8 1320.8 2395.8 1320.8 2393.2 1320.9 2393.2 1320.9 2390.6 1320.9 2390.6 1320.9 2388 1321.2 2388 1321.2 2385.3 1321.2 2385.3 1321.2 2382.7 1350.1 2382.7 1350.5 2382.7 1350.5 2379.8 1351.1 2379.8 1351.1 2376.8 1351.2 2376.8 1351.2 2373.9 1351.2 2373.9 1351.2 2371 1351.8 2371 1351.8 2368.1 1440.6 2368.1 1440.6 2368.1 1440.6 2365.5 1440.6 2365.5 1440.6 2362.9 1440.6 2362.9 1440.6 2360.3 1440.6 2360.3 1440.6 2357.7 1440.7 2357.7 1440.7 2355.1 1440.7 2355.1 1440.7 2352.5 1440.8 2352.5 1440.8 2349.9 1440.8 2349.9 1440.8 2347.3 1440.8 2347.3 1440.8 2344.7 1440.8 2344.7 1440.8 2342.1 1440.9 2342.1 1440.9 2339.5 1440.9 2339.5 1440.9 2336.9 1440.9 2336.9 1440.9 2334.3 1490.7 2334.3 1490.7 2457 1440.9 2457 1440.9 2459.3 1440.8 2459.3 1440.8 2461.5 1440.7 2461.5 1440.7 2463.8 1440.6 2463.8 1345 2463.8 1345 2466.3 1344.8 2466.3 1344.8 2468.9 1344.5 2468.9 1344.5 2471.5 1344.4 2471.5 1344.4 2474.1 1343.7 2474.1 1343.7 2476.6 1343.7 2476.6 1343.7 2479.2 1343.3 2479.2 1343.3 2481.8 1343.3 2481.8 1343.3 2484 1330.8 2484 1330.8 2486.3 1319.5 2486.3 1319.5 2489.1 1318.2 2489.1 1318.2 2491.9 1313.1 2491.9 1313.1 2494.7 1307.7 2494.7 1307.7 2497.6 1285.6 2497.6 1285.6 2500.1 1271.4 2500.1 1271.4 2502.7 1270 2502.7 1270 2505.3 1252.8 2505.3 1252.8 2507.8 1243.3 2507.8 1243.3 2510.4 1237.8 2510.4 1237.8 2513 1237.8 2513 1237.8 2515.6 1234.8 2515.6 1234.8 2518.3 1233.3 2518.3 1233.3 2521 1230.4 2521 1230.4 2523.7 1226.6 2523.7 1226.6 2526.5 1219.9 2526.5 1219.9 2529.2 1209.2 2529.2 1209.2 2531.9 1207.1 2531.9 1207.1 2534.6 1192.2 2534.6 1192.2 2537.4 1187 2537.4 1187 2540.1 1186.9 2540.1 1186.9 2542.8 1184.8 2542.8 1184.8 2545.5 1184 2545.5 1184 2548.1 1182.4 2548.1 1182.4 2550.7 1180.5 2550.7 1180.5 2553.3 1179.2 2553.3 1179.2 2556 1178.4 2556 1178.4 2558.6 1172.2 2558.6 1172.2 2561.2 1170.4 2561.2 1170.4 2563.8 1170.2 2563.8 1170.2 2566.4 1170.1 2566.4 1170.1 2569 1168 2569 1168 2571.6 1163 2571.6 1163 2574.2 1160.6 2574.2 1160.6 2576.8 1155.8 2576.8 1155.8 2579.7 1153.4 2579.7 1153.4 2582.5 1153.2 2582.5 1153.2 2585.3 1149.7 2585.3 1149.7 2588.2 1135.1 2588.2 1135.1 2591 1133.1 2591 1133.1 2593.7 1131.2 2593.7 1131.2 2596.4 1130.5 2596.4 1130.5 2599.1 1128.4 2599.1 1128.4 2601.8 1126.8 2601.8 1126.8 2604.4 1126.6 2604.4 1126.6 2607.1 1123.8 2607.1 1123.8 2609.8 1117.9 2609.8 1117.9 2612.5 1116.9 2612.5 1116.9 2615.2 1116.5 2615.2 1116.5 2617.9 1115.2 2617.9 1115.2 2620.5 1114.4 2620.5 1114.4 2623.2 1114 2623.2 1114 2625.9 1112.4 2625.9 1112.4 2628.7 1112.4 2628.7 1112.4 2631.4 1109.7 2631.4 1109.7 2634.1 1108.5 2634.1 1108.5 2636.9 1107.8 2636.9 1107.8 2639.6 1106 2639.6 1106 2642.3 1105.7 2642.3 1105.7 2645.1 1104.8 2645.1 1104.8 2647.8 1103.6 2647.8 1103.6 2650.5 1103.3 2650.5 1103.3 2653.3 1102.5 2653.3 1102.5 2656 1101.2 2656 1101.2 2658.7 1101.2 2658.7 1101.2 2661.5 1100.7 2661.5 1100.7 2664.2 1099.2 2664.2 1099.2 2666.8 1098.9 2666.8 1098.9 2669.5 1098.3 2669.5 1098.3 2672.1 1098.3 2672.1 1098.3 2674.7 1096.2 2674.7 1096.2 2677.3 1096.1 2677.3 1096.1 2680 1096 2680 1096 2682.6 1095.1 2682.6 1095.1 2685.2 1093.3 2685.2 1093.3 2687.8 1091 2687.8 1091 2690.5 1088.7 2690.5 1088.7 2693.1 1088.6 2693.1 1088.6 2695.7 1088.4 2695.7 1088.4 2698.4 1087.9 2698.4 1087.9 2701 1086.9 2701 1086.9 2703.6 1085.5 2703.6 1085.5 2706.2 1083.4 2706.2 1083.4 2708.9 1082.7 2708.9 1082.7 2711.5 1082.2 2711.5 1082.2 2714.5 1078.5 2714.5 1078.5 2717.5 1072.5 2717.5 1072.5 2720.5 1065.3 2720.5Z" fill="#E46C4B" fill-opacity="0.3"/>
<path d="M1065.3 2720.5 1065.8 2720.5 1065.8 2719.1 1068 2719.1 1068 2717.7 1068.9 2717.7 1068.9 2716.4 1075.2 2716.4 1075.2 2715 1079.2 2715 1079.2 2713.6 1080.5 2713.6 1080.5 2712.2 1081.1 2712.2 1081.1 2710.9 1085.2 2710.9 1085.2 2709.5 1090.2 2709.5 1090.2 2708.1 1090.3 2708.1 1090.3 2706.7 1090.4 2706.7 1090.4 2705.4 1090.6 2705.4 1090.6 2704 1092.4 2704 1092.4 2702.6 1093.9 2702.6 1093.9 2701.2 1094 2701.2 1094 2699.9 1095.6 2699.9 1095.6 2698.5 1095.9 2698.5 1095.9 2697.1 1099.2 2697.1 1099.2 2695.7 1100.2 2695.7 1100.2 2694.4 1101.3 2694.4 1101.3 2693.1 1105.3 2693.1 1105.3 2691.8 1106.2 2691.8 1106.2 2690.4 1106.8 2690.4 1106.8 2689.1 1109.7 2689.1 1109.7 2687.8 1110.8 2687.8 1110.8 2686.5 1113.7 2686.5 1113.7 2685.1 1114 2685.1 1114 2683.8 1117.7 2683.8 1117.7 2682.5 1118.1 2682.5 1118.1 2681.2 1119.4 2681.2 1119.4 2679.8 1124.8 2679.8 1124.8 2678.5 1128.7 2678.5 1128.7 2677.2 1131.2 2677.2 1131.2 2675.9 1131.8 2675.9 1131.8 2674.5 1133.1 2674.5 1133.1 2673.2 1137.6 2673.2 1137.6 2671.9 1140.7 2671.9 1140.7 2670.6 1147.8 2670.6 1147.8 2669.3 1152.8 2669.3 1152.8 2668 1154.3 2668 1154.3 2666.6 1155.8 2666.6 1155.8 2665.3 1156.7 2665.3 1156.7 2664 1157.6 2664 1157.6 2662.7 1159.9 2662.7 1159.9 2661.3 1162.1 2661.3 1162.1 2660 1165.5 2660 1165.5 2658.6 1168.8 2658.6 1168.8 2657.3 1169 2657.3 1169 2656 1170.9 2656 1170.9 2654.6 1175.2 2654.6 1175.2 2653.3 1177.9 2653.3 1177.9 2652 1178.2 2652 1178.2 2650.6 1179.4 2650.6 1179.4 2649.3 1179.5 2649.3 1179.5 2647.9 1181.1 2647.9 1181.1 2646.6 1183.9 2646.6 1183.9 2645.3 1184 2645.3 1184 2643.9 1186.5 2643.9 1186.5 2642.6 1197.9 2642.6 1197.9 2641.2 1198.7 2641.2 1198.7 2639.8 1199.5 2639.8 1199.5 2638.5 1203.7 2638.5 1203.7 2637.1 1204.9 2637.1 1204.9 2635.7 1210.3 2635.7 1210.3 2634.3 1211.1 2634.3 1211.1 2633 1219.6 2633 1219.6 2631.6 1222.6 2631.6 1222.6 2630.2 1226.7 2630.2 1226.7 2628.9 1234.8 2628.9 1234.8 2627.5 1240.5 2627.5 1240.5 2626.1 1248.9 2626.1 1248.9 2624.7 1253.2 2624.7 1253.2 2623.3 1265.9 2623.3 1265.9 2621.9 1276.4 2621.9 1276.4 2620.5 1285.6 2620.5 1285.6 2619.2 1288 2619.2 1288 2617.8 1299.4 2617.8 1299.4 2616.5 1301.1 2616.5 1301.1 2615.2 1303.6 2615.2 1303.6 2613.9 1306.4 2613.9 1306.4 2612.5 1310.9 2612.5 1310.9 2611.2 1317.1 2611.2 1317.1 2609.9 1319.5 2609.9 1319.5 2608.6 1325.1 2608.6 1325.1 2607.2 1328.3 2607.2 1328.3 2605.9 1330.7 2605.9 1330.7 2604.6 1336 2604.6 1336 2603.3 1337.6 2603.3 1337.6 2601.9 1347.5 2601.9 1347.5 2600.6 1347.6 2600.6 1347.6 2599.3 1348.3 2599.3 1348.3 2598 1353.4 2598 1353.4 2596.6 1355.8 2596.6 1355.8 2595.2 1364.7 2595.2 1364.7 2593.8 1365.4 2593.8 1365.4 2592.4 1365.9 2592.4 1365.9 2591 1373.7 2591 1373.7 2589.6 1376.4 2589.6 1376.4 2588.2 1380 2588.2 1380 2586.8 1387.3 2586.8 1387.3 2585.4 1391.7 2585.4 1391.7 2584.1 1392.3 2584.1 1392.3 2582.9 1397.4 2582.9 1397.4 2581.6 1401.6 2581.6 1401.6 2580.4 1403.2 2580.4 1403.2 2579.1 1406.6 2579.1 1406.6 2577.9 1411.1 2577.9 1411.1 2576.6 1510.1 2576.6 1510.1 2624.6 1411.1 2624.6 1411.1 2625.9 1405.6 2625.9 1405.6 2627.3 1404 2627.3 1404 2628.6 1402 2628.6 1402 2630 1398.5 2630 1398.5 2631.3 1397.2 2631.3 1397.2 2632.7 1387.3 2632.7 1387.3 2634 1381.2 2634 1381.2 2635.4 1377.7 2635.4 1377.7 2636.7 1376.6 2636.7 1376.6 2638.1 1371 2638.1 1371 2639.4 1353.4 2639.4 1353.4 2640.8 1336.3 2640.8 1336.3 2642.2 1333.6 2642.2 1333.6 2643.6 1322.5 2643.6 1322.5 2645 1321.1 2645 1321.1 2646.4 1319.5 2646.4 1319.5 2647.8 1305.2 2647.8 1305.2 2649.3 1297 2649.3 1297 2650.7 1285.6 2650.7 1285.6 2652.2 1280.1 2652.2 1280.1 2653.6 1255.2 2653.6 1255.2 2655.1 1241.2 2655.1 1241.2 2656.5 1234.8 2656.5 1234.8 2658 1224.8 2658 1224.8 2659.4 1221.3 2659.4 1221.3 2660.8 1197.8 2660.8 1197.8 2662.2 1197 2662.2 1197 2663.6 1197 2663.6 1197 2665 1187 2665 1187 2666.5 1184 2666.5 1184 2667.8 1178.7 2667.8 1178.7 2669.1 1178.1 2669.1 1178.1 2670.4 1176.2 2670.4 1176.2 2671.8 1169 2671.8 1169 2673.1 1168.8 2673.1 1168.8 2674.4 1163.8 2674.4 1163.8 2675.8 1160.3 2675.8 1160.3 2677.1 1159 2677.1 1159 2678.4 1155.9 2678.4 1155.9 2679.7 1155.8 2679.7 1155.8 2681.1 1146.3 2681.1 1146.3 2682.5 1142.8 2682.5 1142.8 2683.9 1141.3 2683.9 1141.3 2685.3 1140.6 2685.3 1140.6 2686.7 1133.1 2686.7 1133.1 2688.1 1129.8 2688.1 1129.8 2689.4 1125.9 2689.4 1125.9 2690.8 1124.3 2690.8 1124.3 2692.1 1122.9 2692.1 1122.9 2693.5 1120.6 2693.5 1120.6 2694.8 1120.1 2694.8 1120.1 2696.2 1117.7 2696.2 1117.7 2697.5 1115.8 2697.5 1115.8 2698.9 1113.6 2698.9 1113.6 2700.2 1110.2 2700.2 1110.2 2701.6 1108.2 2701.6 1108.2 2702.9 1107.9 2702.9 1107.9 2704.3 1106.5 2704.3 1106.5 2705.6 1104.7 2705.6 1104.7 2707 1099.2 2707 1099.2 2708.3 1091.8 2708.3 1091.8 2709.7 1091 2709.7 1091 2711 1090.4 2711 1090.4 2712.4 1090.1 2712.4 1090.1 2713.7 1080.2 2713.7 1080.2 2715.1 1080.1 2715.1 1080.1 2716.4 1075.2 2716.4 1075.2 2717.8 1072.1 2717.8 1072.1 2719.1 1067.4 2719.1 1067.4 2720.5 1065.3 2720.5Z" fill="#1A9E9E" fill-opacity="0.25"/>
<path d="M1065.3 2720.5 1069.7 2720.5 1069.7 2717.8 1070.3 2717.8 1070.3 2715.1 1072 2715.1 1072 2712.4 1073 2712.4 1073 2709.7 1073.1 2709.7 1073.1 2707 1075.9 2707 1075.9 2704.3 1077.5 2704.3 1077.5 2701.6 1081.3 2701.6 1081.3 2699 1082.8 2699 1082.8 2696.4 1082.9 2696.4 1082.9 2693.9 1083.5 2693.9 1083.5 2691.3 1084.3 2691.3 1084.3 2688.7 1085.7 2688.7 1085.7 2686.1 1086.1 2686.1 1086.1 2683.5 1087.9 2683.5 1087.9 2681 1089 2681 1089 2678.4 1089.2 2678.4 1089.2 2675.7 1090.1 2675.7 1090.1 2673 1090.6 2673 1090.6 2670.3 1091.1 2670.3 1091.1 2667.6 1091.6 2667.6 1091.6 2665 1094.8 2665 1094.8 2662.3 1095 2662.3 1095 2659.6 1097.5 2659.6 1097.5 2656.9 1098.1 2656.9 1098.1 2654.2 1099.2 2654.2 1099.2 2651.5 1099.4 2651.5 1099.4 2648.9 1100.4 2648.9 1100.4 2646.2 1100.6 2646.2 1100.6 2643.5 1101.2 2643.5 1101.2 2640.9 1105.2 2640.9 1105.2 2638.2 1105.9 2638.2 1105.9 2635.6 1107 2635.6 1107 2633 1109.4 2633 1109.4 2630.4 1109.6 2630.4 1109.6 2627.8 1109.7 2627.8 1109.7 2625.1 1110.3 2625.1 1110.3 2622.5 1111.8 2622.5 1111.8 2619.9 1112.1 2619.9 1112.1 2617.3 1112.4 2617.3 1112.4 2614.7 1112.6 2614.7 1112.6 2612 1113.6 2612 1113.6 2609.3 1114.1 2609.3 1114.1 2606.7 1114.5 2606.7 1114.5 2604 1116 2604 1116 2601.3 1118 2601.3 1118 2598.7 1118 2598.7 1118 2596 1118.8 2596 1118.8 2593.4 1119.5 2593.4 1119.5 2590.7 1123.1 2590.7 1123.1 2588 1123.9 2588 1123.9 2585.4 1124.5 2585.4 1124.5 2582.5 1126.8 2582.5 1126.8 2579.6 1128 2579.6 1128 2576.7 1128.1 2576.7 1128.1 2573.8 1132.8 2573.8 1132.8 2571 1139.3 2571 1139.3 2568 1139.5 2568 1139.5 2565.1 1140 2565.1 1140 2562.2 1143.6 2562.2 1143.6 2559.3 1144.3 2559.3 1144.3 2556.3 1147.1 2556.3 1147.1 2553.4 1148.9 2553.4 1148.9 2550.5 1154.6 2550.5 1154.6 2547.7 1154.6 2547.7 1154.6 2544.8 1155.7 2544.8 1155.7 2541.9 1161.6 2541.9 1161.6 2539 1162.6 2539 1162.6 2536.1 1169.1 2536.1 1169.1 2533.1 1171.1 2533.1 1171.1 2530.2 1171.8 2530.2 1171.8 2527.3 1175.8 2527.3 1175.8 2524.4 1179.2 2524.4 1179.2 2521.4 1186.3 2521.4 1186.3 2518.6 1191 2518.6 1191 2515.7 1197.8 2515.7 1197.8 2512.8 1202.3 2512.8 1202.3 2509.9 1203.7 2509.9 1203.7 2507 1206 2507 1206 2504.1 1215.9 2504.1 1215.9 2501.2 1219.9 2501.2 1219.9 2498.2 1220.7 2498.2 1220.7 2495.3 1224.5 2495.3 1224.5 2492.4 1227.3 2492.4 1227.3 2489.6 1227.7 2489.6 1227.7 2486.7 1227.7 2486.7 1227.7 2483.8 1234.5 2483.8 1234.5 2480.9 1256.9 2480.9 1256.9 2478.7 1257.5 2478.7 1257.5 2476.6 1257.8 2476.6 1257.8 2474.1 1271.6 2474.1 1271.6 2471.7 1277.9 2471.7 1277.9 2469.2 1278.8 2469.2 1278.8 2466.6 1282.1 2466.6 1282.1 2464.1 1282.5 2464.1 1282.5 2461.6 1292.4 2461.6 1292.4 2459 1296 2459 1296 2456.4 1305.7 2456.4 1305.7 2453.8 1305.7 2453.8 1305.7 2451.2 1306.3 2451.2 1306.3 2448.6 1307 2448.6 1307 2446 1320.2 2446 1320.3 2446 1320.3 2443.4 1320.4 2443.4 1320.4 2440.9 1320.5 2440.9 1320.5 2438.3 1320.7 2438.3 1320.7 2435.7 1320.7 2435.7 1320.7 2433.2 1320.7 2433.2 1320.7 2430.6 1321.1 2430.6 1321.1 2428 1321.2 2428 1321.2 2425.5 1336.5 2425.5 1338.3 2425.5 1338.3 2422.7 1339.8 2422.7 1339.8 2419.9 1341.8 2419.9 1341.8 2417 1343.3 2417 1343.3 2414.2 1356.8 2414.2 1356.8 2411.2 1357.2 2411.2 1357.2 2408.1 1440.6 2408.1 1440.7 2408.1 1440.7 2405.3 1440.8 2405.3 1440.8 2402.4 1440.9 2402.4 1440.9 2399.5 1440.9 2399.5 1440.9 2396.6 1440.9 2396.6 1440.9 2393.7 1492.8 2393.7" fill="none" stroke="#EC6A60" stroke-width="1.8"/>
<path d="M1065.3 2720.5 1066.3 2720.5 1066.3 2719.1 1071.5 2719.1 1071.5 2717.6 1072.2 2717.6 1072.2 2716.2 1073.7 2716.2 1073.7 2714.7 1083.3 2714.7 1083.3 2713.3 1085.2 2713.3 1085.2 2712 1085.3 2712 1085.3 2710.7 1087.5 2710.7 1087.5 2709.4 1090.5 2709.4 1090.5 2708.1 1090.8 2708.1 1090.8 2706.8 1093.9 2706.8 1093.9 2705.5 1095.2 2705.5 1095.2 2704.2 1095.2 2704.2 1095.2 2702.9 1098.5 2702.9 1098.5 2701.6 1101.2 2701.6 1101.2 2700.3 1106.8 2700.3 1106.8 2699 1107.9 2699 1107.9 2697.8 1108 2697.8 1108 2696.5 1114.4 2696.5 1114.4 2695.2 1115.1 2695.2 1115.1 2694 1115.3 2694 1115.3 2692.7 1116.1 2692.7 1116.1 2691.4 1119.8 2691.4 1119.8 2690.1 1120.1 2690.1 1120.1 2688.8 1124.5 2688.8 1124.5 2687.5 1125 2687.5 1125 2686.2 1126.2 2686.2 1126.2 2684.9 1129.3 2684.9 1129.3 2683.6 1129.8 2683.6 1129.8 2682.3 1129.9 2682.3 1129.9 2681 1131 2681 1131 2679.7 1136.5 2679.7 1136.5 2678.4 1139.7 2678.4 1139.7 2676.9 1142.7 2676.9 1142.7 2675.5 1154.6 2675.5 1154.6 2674 1155.8 2674 1155.8 2672.5 1158.5 2672.5 1158.5 2671.2 1160.9 2671.2 1160.9 2669.9 1161.9 2669.9 1161.9 2668.5 1164.4 2668.5 1164.4 2667.2 1165 2667.2 1165 2665.9 1165.3 2665.9 1165.3 2664.5 1165.5 2664.5 1165.5 2663.2 1165.6 2663.2 1165.6 2661.9 1166.5 2661.9 1166.5 2660.5 1166.8 2660.5 1166.8 2659.2 1167.4 2659.2 1167.4 2657.9 1171.2 2657.9 1171.2 2656.5 1173.1 2656.5 1173.1 2655.2 1174 2655.2 1174 2654 1174.6 2654 1174.6 2652.7 1182.9 2652.7 1182.9 2651.5 1186.1 2651.5 1186.1 2650.2 1191.7 2650.2 1191.7 2649 1196.5 2649 1196.5 2647.8 1204.4 2647.8 1204.4 2646.4 1213.8 2646.4 1213.8 2645.1 1214.8 2645.1 1214.8 2643.6 1216.4 2643.6 1216.4 2642.1 1227 2642.1 1227 2640.6 1238.4 2640.6 1238.4 2639.1 1242.9 2639.1 1242.9 2637.6 1245.2 2637.6 1245.2 2636.2 1251.1 2636.2 1251.1 2634.7 1254.9 2634.7 1254.9 2633.2 1266.3 2633.2 1266.3 2631.8 1273.1 2631.8 1273.1 2630.4 1286.7 2630.4 1286.7 2629.1 1318.5 2629.1 1318.5 2627.5 1319.1 2627.5 1319.1 2626 1327.6 2626 1327.6 2624.6 1329.9 2624.6 1329.9 2623.1 1330.1 2623.1 1330.1 2621.6 1331 2621.6 1331 2620.2 1347.7 2620.2 1347.7 2618.7 1348.7 2618.7 1348.7 2617.3 1352.9 2617.3 1352.9 2615.9 1362.3 2615.9 1362.3 2614.4 1368.9 2614.4 1368.9 2612.9 1371 2612.9 1371 2611.4 1385.3 2611.4 1385.3 2609.9 1390.7 2609.9 1390.7 2608.5 1392.4 2608.5 1392.4 2607 1392.8 2607 1392.8 2605.6 1401.4 2605.6 1401.4 2604.2 1405.7 2604.2 1405.7 2602.7 1408.1 2602.7 1408.1 2601.6 1411.4 2601.6 1411.4 2600.5 1509.4 2600.5" fill="none" stroke="#20ABAE" stroke-width="1.8"/>
<path d="M1070.1 2711.3v13M1064.1 2717.8h12M1078.4 2695.1v13M1072.4 2701.6h12M1086.6 2677v13M1080.6 2683.5h12M1089.2 2671.9v13M1083.2 2678.4h12M1092.7 2658.5v13M1086.7 2665h12M1093 2658.5v13M1087 2665h12M1095.4 2653.1v13M1089.4 2659.6h12M1096.6 2653.1v13M1090.6 2659.6h12M1098.1 2647.7v13M1092.1 2654.2h12M1098.5 2647.7v13M1092.5 2654.2h12M1099.9 2642.4v13M1093.9 2648.9h12M1104.9 2634.4v13M1098.9 2640.9h12M1104.9 2634.4v13M1098.9 2640.9h12M1107.5 2626.5v13M1101.5 2633h12M1110.4 2616v13M1104.4 2622.5h12M1114.9 2597.5v13M1108.9 2604h12M1117.6 2594.8v13M1111.6 2601.3h12M1125.6 2576v13M1119.6 2582.5h12M1125.7 2576v13M1119.7 2582.5h12M1127.2 2573.1v13M1121.2 2579.6h12M1130.8 2567.3v13M1124.8 2573.8h12M1132 2567.3v13M1126 2573.8h12M1132.7 2567.3v13M1126.7 2573.8h12M1132.7 2567.3v13M1126.7 2573.8h12M1133.2 2564.5v13M1127.2 2571h12M1133.4 2564.5v13M1127.4 2571h12M1133.9 2564.5v13M1127.9 2571h12M1139.1 2564.5v13M1133.1 2571h12M1140.1 2555.7v13M1134.1 2562.2h12M1142.7 2555.7v13M1136.7 2562.2h12M1145.9 2549.8v13M1139.9 2556.3h12M1149.3 2544v13M1143.3 2550.5h12M1154.5 2544v13M1148.5 2550.5h12M1155.1 2538.3v13M1149.1 2544.8h12M1155.5 2538.3v13M1149.5 2544.8h12M1157.3 2535.4v13M1151.3 2541.9h12M1157.8 2535.4v13M1151.8 2541.9h12M1158.4 2535.4v13M1152.4 2541.9h12M1161.7 2532.5v13M1155.7 2539h12M1163.9 2529.6v13M1157.9 2536.1h12M1164.5 2529.6v13M1158.5 2536.1h12M1171.9 2520.8v13M1165.9 2527.3h12M1172.6 2520.8v13M1166.6 2527.3h12M1173.8 2520.8v13M1167.8 2527.3h12M1174.7 2520.8v13M1168.7 2527.3h12M1177.1 2517.9v13M1171.1 2524.4h12M1178.6 2517.9v13M1172.6 2524.4h12M1180.4 2514.9v13M1174.4 2521.4h12M1181 2514.9v13M1175 2521.4h12M1184.2 2514.9v13M1178.2 2521.4h12M1189.8 2512.1v13M1183.8 2518.6h12M1193.6 2509.2v13M1187.6 2515.7h12M1197.3 2509.2v13M1191.3 2515.7h12M1203.9 2500.5v13M1197.9 2507h12M1204.3 2500.5v13M1198.3 2507h12M1207.5 2497.6v13M1201.5 2504.1h12M1214.5 2497.6v13M1208.5 2504.1h12M1219.7 2494.7v13M1213.7 2501.2h12M1221.6 2488.8v13M1215.6 2495.3h12M1230 2477.3v13M1224 2483.8h12M1255.1 2474.4v13M1249.1 2480.9h12M1260.2 2467.6v13M1254.2 2474.1h12M1265.3 2467.6v13M1259.3 2474.1h12M1270.4 2467.6v13M1264.4 2474.1h12M1273.8 2465.2v13M1267.8 2471.7h12M1278.9 2460.1v13M1272.9 2466.6h12M1285.6 2455.1v13M1279.6 2461.6h12M1292.4 2452.5v13M1286.4 2459h12M1299.2 2449.9v13M1293.2 2456.4h12M1304.3 2449.9v13M1298.3 2456.4h12M1338.2 2419v13M1332.2 2425.5h12M1356.8 2404.7v13M1350.8 2411.2h12M1368.7 2401.6v13M1362.7 2408.1h12M1377.2 2401.6v13M1371.2 2408.1h12M1382.3 2401.6v13M1376.3 2408.1h12M1385.7 2401.6v13M1379.7 2408.1h12M1394.1 2401.6v13M1388.1 2408.1h12M1400.9 2401.6v13M1394.9 2408.1h12M1406 2401.6v13M1400 2408.1h12M1414.5 2401.6v13M1408.5 2408.1h12M1419.6 2401.6v13M1413.6 2408.1h12M1428 2401.6v13M1422 2408.1h12M1448.4 2387.2v13M1442.4 2393.7h12M1453.5 2387.2v13M1447.5 2393.7h12M1458.5 2387.2v13M1452.5 2393.7h12M1465.3 2387.2v13M1459.3 2393.7h12M1475.5 2387.2v13M1469.5 2393.7h12M1485.7 2387.2v13M1479.7 2393.7h12" fill="none" stroke="#EC6A60" stroke-width="1.6"/>
<path d="M1071.3 2712.6v13M1065.3 2719.1h12M1077.6 2708.2v13M1071.6 2714.7h12M1078.6 2708.2v13M1072.6 2714.7h12M1081.6 2708.2v13M1075.6 2714.7h12M1082.8 2708.2v13M1076.8 2714.7h12M1087.2 2704.2v13M1081.2 2710.7h12M1087.9 2702.9v13M1081.9 2709.4h12M1090.4 2702.9v13M1084.4 2709.4h12M1092.4 2700.3v13M1086.4 2706.8h12M1099 2695.1v13M1093 2701.6h12M1104.4 2693.8v13M1098.4 2700.3h12M1106.9 2692.5v13M1100.9 2699h12M1110.8 2690v13M1104.8 2696.5h12M1112 2690v13M1106 2696.5h12M1113.8 2690v13M1107.8 2696.5h12M1114.3 2690v13M1108.3 2696.5h12M1115 2688.7v13M1109 2695.2h12M1117.7 2684.9v13M1111.7 2691.4h12M1120.7 2682.3v13M1114.7 2688.8h12M1121.4 2682.3v13M1115.4 2688.8h12M1124.5 2681v13M1118.5 2687.5h12M1126 2679.7v13M1120 2686.2h12M1129.8 2675.8v13M1123.8 2682.3h12M1133.8 2673.2v13M1127.8 2679.7h12M1137.7 2671.9v13M1131.7 2678.4h12M1138.4 2671.9v13M1132.4 2678.4h12M1143.3 2669v13M1137.3 2675.5h12M1145.7 2669v13M1139.7 2675.5h12M1147.6 2669v13M1141.6 2675.5h12M1147.7 2669v13M1141.7 2675.5h12M1149.3 2669v13M1143.3 2675.5h12M1150 2669v13M1144 2675.5h12M1150.6 2669v13M1144.6 2675.5h12M1154.7 2667.5v13M1148.7 2674h12M1157.2 2666v13M1151.2 2672.5h12M1158.1 2666v13M1152.1 2672.5h12M1161 2663.4v13M1155 2669.9h12M1161.9 2662v13M1155.9 2668.5h12M1167.7 2651.4v13M1161.7 2657.9h12M1168.6 2651.4v13M1162.6 2657.9h12M1173.9 2648.7v13M1167.9 2655.2h12M1175.5 2646.2v13M1169.5 2652.7h12M1179.1 2646.2v13M1173.1 2652.7h12M1181.7 2646.2v13M1175.7 2652.7h12M1181.9 2646.2v13M1175.9 2652.7h12M1193.2 2642.5v13M1187.2 2649h12M1195.7 2642.5v13M1189.7 2649h12M1197.7 2641.3v13M1191.7 2647.8h12M1204.5 2639.9v13M1198.5 2646.4h12M1205.3 2639.9v13M1199.3 2646.4h12M1208.1 2639.9v13M1202.1 2646.4h12M1211.3 2639.9v13M1205.3 2646.4h12M1214.3 2638.6v13M1208.3 2645.1h12M1225.6 2635.6v13M1219.6 2642.1h12M1227.5 2634.1v13M1221.5 2640.6h12M1227.5 2634.1v13M1221.5 2640.6h12M1228.3 2634.1v13M1222.3 2640.6h12M1230.5 2634.1v13M1224.5 2640.6h12M1231.8 2634.1v13M1225.8 2640.6h12M1232.1 2634.1v13M1226.1 2640.6h12M1232.5 2634.1v13M1226.5 2640.6h12M1233.4 2634.1v13M1227.4 2640.6h12M1236.9 2634.1v13M1230.9 2640.6h12M1238.6 2632.6v13M1232.6 2639.1h12M1238.7 2632.6v13M1232.7 2639.1h12M1240.1 2632.6v13M1234.1 2639.1h12M1242.9 2632.6v13M1236.9 2639.1h12M1244.6 2631.1v13M1238.6 2637.6h12M1249.7 2629.7v13M1243.7 2636.2h12M1251.8 2628.2v13M1245.8 2634.7h12M1254.7 2628.2v13M1248.7 2634.7h12M1254.8 2628.2v13M1248.8 2634.7h12M1256.8 2626.7v13M1250.8 2633.2h12M1264.1 2626.7v13M1258.1 2633.2h12M1264.1 2626.7v13M1258.1 2633.2h12M1277.2 2623.9v13M1271.2 2630.4h12M1284 2623.9v13M1278 2630.4h12M1289 2622.6v13M1283 2629.1h12M1294.1 2622.6v13M1288.1 2629.1h12M1299.2 2622.6v13M1293.2 2629.1h12M1302.6 2622.6v13M1296.6 2629.1h12M1322.9 2619.5v13M1316.9 2626h12M1353.4 2609.4v13M1347.4 2615.9h12M1360.2 2609.4v13M1354.2 2615.9h12M1368.7 2607.9v13M1362.7 2614.4h12M1373.8 2604.9v13M1367.8 2611.4h12M1378.9 2604.9v13M1372.9 2611.4h12M1384 2604.9v13M1378 2611.4h12M1389 2603.4v13M1383 2609.9h12M1394.1 2599.1v13M1388.1 2605.6h12M1399.2 2599.1v13M1393.2 2605.6h12M1404.3 2597.7v13M1398.3 2604.2h12M1409.4 2595.1v13M1403.4 2601.6h12M1414.5 2594v13M1408.5 2600.5h12M1419.6 2594v13M1413.6 2600.5h12M1422.9 2594v13M1416.9 2600.5h12M1428 2594v13M1422 2600.5h12M1433.1 2594v13M1427.1 2600.5h12M1438.2 2594v13M1432.2 2600.5h12M1441.6 2594v13M1435.6 2600.5h12M1445 2594v13M1439 2600.5h12M1448.4 2594v13M1442.4 2600.5h12M1451.8 2594v13M1445.8 2600.5h12M1455.1 2594v13M1449.1 2600.5h12M1458.5 2594v13M1452.5 2600.5h12M1463.6 2594v13M1457.6 2600.5h12M1468.7 2594v13M1462.7 2600.5h12M1473.8 2594v13M1467.8 2600.5h12M1478.9 2594v13M1472.9 2600.5h12M1485.7 2594v13M1479.7 2600.5h12M1490.7 2594v13M1484.7 2600.5h12M1495.8 2594v13M1489.8 2600.5h12" fill="none" stroke="#20ABAE" stroke-width="1.6"/>
<rect x="1044.6" y="2311.5" width="465" height="428.2" fill="none" stroke="#333" stroke-width="1.6"/>
<line x1="1044.6" y1="2720.5" x2="1039.6" y2="2720.5" stroke="#333" stroke-width="1.6"/>
<text x="1040.2" y="2731" font-size="30.5" text-anchor="end" textLength="32.7" lengthAdjust="spacingAndGlyphs">0.0</text>
<line x1="1044.6" y1="2607.9" x2="1039.6" y2="2607.9" stroke="#333" stroke-width="1.6"/>
<text x="1040.2" y="2618.4" font-size="30.5" text-anchor="end" textLength="32.7" lengthAdjust="spacingAndGlyphs">0.5</text>
<line x1="1044.6" y1="2495.3" x2="1039.6" y2="2495.3" stroke="#333" stroke-width="1.6"/>
<text x="1040.2" y="2505.8" font-size="30.5" text-anchor="end" textLength="32.7" lengthAdjust="spacingAndGlyphs">1.0</text>
<line x1="1044.6" y1="2382.7" x2="1039.6" y2="2382.7" stroke="#333" stroke-width="1.6"/>
<text x="1040.2" y="2393.2" font-size="30.5" text-anchor="end" textLength="32.7" lengthAdjust="spacingAndGlyphs">1.5</text>
<line x1="1065.3" y1="2739.7" x2="1065.3" y2="2744.7" stroke="#333" stroke-width="1.6"/>
<text x="1065.3" y="2768.8" font-size="29" text-anchor="middle">0</text>
<line x1="1150" y1="2739.7" x2="1150" y2="2744.7" stroke="#333" stroke-width="1.6"/>
<text x="1150" y="2768.8" font-size="29" text-anchor="middle">2.5</text>
<line x1="1234.8" y1="2739.7" x2="1234.8" y2="2744.7" stroke="#333" stroke-width="1.6"/>
<text x="1234.8" y="2768.8" font-size="29" text-anchor="middle">5</text>
<line x1="1319.5" y1="2739.7" x2="1319.5" y2="2744.7" stroke="#333" stroke-width="1.6"/>
<text x="1319.5" y="2768.8" font-size="29" text-anchor="middle">7.5</text>
<line x1="1404.3" y1="2739.7" x2="1404.3" y2="2744.7" stroke="#333" stroke-width="1.6"/>
<text x="1404.3" y="2768.8" font-size="29" text-anchor="middle">10</text>
<line x1="1489" y1="2739.7" x2="1489" y2="2744.7" stroke="#333" stroke-width="1.6"/>
<text x="1489" y="2768.8" font-size="29" text-anchor="middle">12.5</text>
<text x="1277.5" y="2796" font-size="36" text-anchor="middle" textLength="66" lengthAdjust="spacingAndGlyphs">Time</text>
<text x="1005" y="2510" font-size="34.6" text-anchor="middle" textLength="291" lengthAdjust="spacingAndGlyphs" transform="rotate(-90 1005 2510)">Cumulative hazard</text>
<text x="1047.2" y="2297" font-size="28" textLength="66" lengthAdjust="spacingAndGlyphs">Strata</text>
<line x1="1118" y1="2287" x2="1137" y2="2287" stroke="#EC6A60" stroke-width="1.8"/>
<line x1="1127.5" y1="2277.5" x2="1127.5" y2="2296.5" stroke="#EC6A60" stroke-width="1.8"/>
<text x="1138" y="2295.5" font-size="27" textLength="158.7" lengthAdjust="spacingAndGlyphs">nomoRisk=High</text>
<line x1="1318" y1="2287" x2="1337.5" y2="2287" stroke="#20ABAE" stroke-width="1.8"/>
<line x1="1327.7" y1="2277.5" x2="1327.7" y2="2296.5" stroke="#20ABAE" stroke-width="1.8"/>
<text x="1342.5" y="2296.2" font-size="27" textLength="154" lengthAdjust="spacingAndGlyphs">nomoRisk=Low</text>
<text x="1521" y="2230.6" font-size="44" fill="#231815">K</text>
<line x1="1608.9" y1="2725.1" x2="2064.6" y2="2284.6" stroke="#D8D8D8" stroke-width="1.6"/>
<path d="M1627.8 2284.6v1.3M1629.6 2284.6v1.5M1631.3 2284.6v1.9M1634.8 2284.6v1.2M1636.6 2284.6v1.3M1638.3 2284.6v1.7M1641.8 2284.6v1.5M1650.6 2284.6v1.8M1654.1 2284.6v2.3M1661.1 2284.6v1.9M1668.1 2284.6v2.2M1669.8 2284.6v2.7M1673.3 2284.6v2.8M1676.8 2284.6v2.9M1678.6 2284.6v2.8M1682.1 2284.6v2.5M1685.6 2284.6v2.8M1692.6 2284.6v2.7M1694.3 2284.6v2M1703.1 2284.6v2.7M1706.6 2284.6v2M1708.3 2284.6v2M1713.6 2284.6v3.3M1715.3 2284.6v3.2M1717.1 2284.6v2.2M1718.8 2284.6v1.9M1725.8 2284.6v2.9M1727.6 2284.6v3.2M1729.3 2284.6v3.4M1732.8 2284.6v2.2M1734.6 2284.6v2.1M1738.1 2284.6v3.4M1743.3 2284.6v3.1M1746.8 2284.6v2.6M1748.6 2284.6v3M1753.8 2284.6v2.5M1755.6 2284.6v4.4M1757.3 2284.6v4.4M1760.8 2284.6v3.7M1762.6 2284.6v4.5M1764.3 2284.6v3.4M1766.1 2284.6v3.3M1767.8 2284.6v5.2M1769.6 2284.6v4.9M1771.3 2284.6v5M1773.1 2284.6v3.9M1774.8 2284.6v6.4M1776.6 2284.6v5.1M1778.3 2284.6v6.2M1780.1 2284.6v4.7M1783.6 2284.6v6.9M1785.3 2284.6v6.5M1787.1 2284.6v8.7M1788.8 2284.6v5M1790.6 2284.6v4.8M1792.3 2284.6v7.6M1794.1 2284.6v8.8M1795.8 2284.6v5.7M1799.3 2284.6v6.2M1801.1 2284.6v7M1802.8 2284.6v6.8M1804.6 2284.6v8M1806.3 2284.6v10.1M1808.1 2284.6v10.3M1809.8 2284.6v10.9M1811.6 2284.6v10.5M1813.3 2284.6v10.6M1815.1 2284.6v9.4M1816.8 2284.6v9.6M1818.6 2284.6v7.9M1820.3 2284.6v7.7M1822.1 2284.6v11M1823.8 2284.6v9.7M1825.6 2284.6v6.9M1827.3 2284.6v10.8M1829.1 2284.6v9.2M1830.8 2284.6v7.7M1832.6 2284.6v10.8M1834.3 2284.6v9M1836.1 2284.6v8.2M1837.8 2284.6v7.7M1839.6 2284.6v7.5M1841.3 2284.6v7.9M1843.1 2284.6v13.6M1844.8 2284.6v11.2M1846.6 2284.6v8.1M1848.3 2284.6v13.1M1850.1 2284.6v11.5M1851.8 2284.6v14.3M1855.3 2284.6v12.3M1857.1 2284.6v16.1M1858.8 2284.6v15M1860.6 2284.6v16.1M1862.3 2284.6v17.8M1864.1 2284.6v16.8M1867.6 2284.6v17M1869.3 2284.6v17M1871.1 2284.6v15.3M1872.8 2284.6v16M1874.6 2284.6v14.9M1876.3 2284.6v18.5M1878.1 2284.6v20.6M1879.8 2284.6v21.2M1881.6 2284.6v14.3M1883.3 2284.6v18M1885.1 2284.6v11.9M1886.8 2284.6v22.5M1888.6 2284.6v21.9M1890.3 2284.6v16.9M1892.1 2284.6v16.7M1893.8 2284.6v17.6M1895.6 2284.6v16.4M1897.3 2284.6v23.1M1899.1 2284.6v17.3M1900.8 2284.6v17.4M1902.6 2284.6v16.2M1904.3 2284.6v16.7M1906.1 2284.6v13.9M1907.8 2284.6v22.6M1909.6 2284.6v16.4M1911.3 2284.6v14.3M1913.1 2284.6v18.9M1914.8 2284.6v18.4M1916.6 2284.6v15.5M1918.3 2284.6v23.2M1920.1 2284.6v13.7M1921.8 2284.6v21.7M1923.6 2284.6v24.1M1925.3 2284.6v21.8M1927.1 2284.6v17.8M1928.8 2284.6v14.5M1930.6 2284.6v18.9M1932.3 2284.6v21.4M1934.1 2284.6v19.2M1935.8 2284.6v16M1937.6 2284.6v14.3M1939.3 2284.6v20.3M1941.1 2284.6v16.3M1942.8 2284.6v19M1944.6 2284.6v17M1946.3 2284.6v12.6M1948.1 2284.6v11.4M1949.8 2284.6v15M1951.6 2284.6v12.2M1953.3 2284.6v8.2M1955.1 2284.6v10.9M1956.8 2284.6v11.8M1958.6 2284.6v9.6M1960.3 2284.6v9.7M1962.1 2284.6v5M1963.8 2284.6v5M1965.6 2284.6v5.3M1967.3 2284.6v6.3M1969.1 2284.6v6.5M1970.8 2284.6v6.7M1972.6 2284.6v8.9M1974.3 2284.6v9.4M1976.1 2284.6v10.4M1979.6 2284.6v6.6M1981.3 2284.6v8.4M1983.1 2284.6v8.3M1984.8 2284.6v13.4M1986.6 2284.6v10.7M1988.3 2284.6v16.6M1990.1 2284.6v10.4M1991.8 2284.6v13.7M1993.6 2284.6v19.6M1995.3 2284.6v11.6M1997.1 2284.6v16.5M1998.8 2284.6v17.2M2000.6 2284.6v16M2002.3 2284.6v23.4M2004.1 2284.6v16.8M2005.8 2284.6v19.4M2007.6 2284.6v20M2009.3 2284.6v19.8M2011.1 2284.6v16.5M2012.8 2284.6v9.4" fill="none" stroke="#000" stroke-width="1.5"/>
<path d="M1769.3 2617.6V2564.6M1765.3 2617.6h8M1765.3 2564.6h8M1811.5 2578.8V2523.8M1807.5 2578.8h8M1807.5 2523.8h8M1866.5 2534V2476.8M1862.5 2534h8M1862.5 2476.8h8M1904.5 2411.6V2362.6M1900.5 2411.6h8M1900.5 2362.6h8M1904.5 2493.2V2442.2M1900.5 2493.2h8M1900.5 2442.2h8M1936.2 2374.8V2338.1M1932.2 2374.8h8M1932.2 2338.1h8M1936.2 2440.1V2393.2M1932.2 2440.1h8M1932.2 2393.2h8M1991.1 2389.1V2352.4M1987.1 2389.1h8M1987.1 2352.4h8M2005.9 2325.9V2309.6M2001.9 2325.9h8M2001.9 2309.6h8" fill="none" stroke="#111" stroke-width="2"/>
<path d="M1777.1 2586.2L1803.7 2559.7M1819.8 2544.7L1858.2 2511.4M1874.7 2496.9L1896.3 2478M1907.5 2460.1L1933.2 2369.1" fill="none" stroke="#2B5DB5" stroke-width="2"/>
<path d="M1777.4 2588.6L1803.4 2565M1819.8 2550.4L1858.2 2516.7M1869.7 2499L1901.3 2397.6" fill="none" stroke="#EE2A2F" stroke-width="2"/>
<path d="M1944.7 2410.7L1982.6 2379.8M1994.1 2362.2L2003 2330.4" fill="none" stroke="#62BB46" stroke-width="2"/>
<circle cx="1769.3" cy="2593.9" r="4" fill="#2B5DB5"/>
<circle cx="1811.5" cy="2551.9" r="4" fill="#2B5DB5"/>
<circle cx="1866.5" cy="2504.2" r="4" fill="#2B5DB5"/>
<circle cx="1904.5" cy="2470.7" r="4" fill="#2B5DB5"/>
<circle cx="1936.2" cy="2358.5" r="4" fill="#2B5DB5"/>
<circle cx="1769.3" cy="2596" r="4" fill="#EE2A2F"/>
<circle cx="1811.5" cy="2557.6" r="4" fill="#EE2A2F"/>
<circle cx="1866.5" cy="2509.5" r="4" fill="#EE2A2F"/>
<circle cx="1904.5" cy="2387.1" r="4" fill="#EE2A2F"/>
<circle cx="1936.2" cy="2417.7" r="4" fill="#62BB46"/>
<circle cx="1991.1" cy="2372.8" r="4" fill="#62BB46"/>
<circle cx="2005.9" cy="2319.8" r="4" fill="#62BB46"/>
<path d="M1764.3 2588.9l10 10M1774.3 2588.9l-10 10M1806.5 2546.9l10 10M1816.5 2546.9l-10 10M1861.5 2499.2l10 10M1871.5 2499.2l-10 10M1899.5 2465.7l10 10M1909.5 2465.7l-10 10M1931.2 2353.5l10 10M1941.2 2353.5l-10 10M1764.3 2591l10 10M1774.3 2591l-10 10M1806.5 2552.6l10 10M1816.5 2552.6l-10 10M1861.5 2504.5l10 10M1871.5 2504.5l-10 10M1899.5 2382.1l10 10M1909.5 2382.1l-10 10M1931.2 2412.7l10 10M1941.2 2412.7l-10 10M1986.1 2367.8l10 10M1996.1 2367.8l-10 10M2000.9 2314.8l10 10M2010.9 2314.8l-10 10" fill="none" stroke="#2B5DB5" stroke-width="2"/>
<rect x="1608.9" y="2284.6" width="455.7" height="440.5" fill="none" stroke="#000" stroke-width="2"/>
<line x1="1625.6" y1="2725.1" x2="1625.6" y2="2740.1" stroke="#000" stroke-width="2"/>
<text x="1625.6" y="2767" font-size="31.8" text-anchor="middle" textLength="32.4" lengthAdjust="spacingAndGlyphs">0.0</text>
<line x1="1608.9" y1="2709.4" x2="1596.6" y2="2709.4" stroke="#000" stroke-width="2"/>
<text x="1595.8" y="2709.4" font-size="32.4" text-anchor="middle" textLength="40.2" lengthAdjust="spacingAndGlyphs" transform="rotate(-90 1595.8 2709.4)">0.0</text>
<line x1="1710.1" y1="2725.1" x2="1710.1" y2="2740.1" stroke="#000" stroke-width="2"/>
<text x="1710.1" y="2767" font-size="31.8" text-anchor="middle" textLength="32.4" lengthAdjust="spacingAndGlyphs">0.2</text>
<line x1="1608.9" y1="2627.8" x2="1596.6" y2="2627.8" stroke="#000" stroke-width="2"/>
<text x="1595.8" y="2627.8" font-size="32.4" text-anchor="middle" textLength="40.2" lengthAdjust="spacingAndGlyphs" transform="rotate(-90 1595.8 2627.8)">0.2</text>
<line x1="1794.6" y1="2725.1" x2="1794.6" y2="2740.1" stroke="#000" stroke-width="2"/>
<text x="1794.6" y="2767" font-size="31.8" text-anchor="middle" textLength="32.4" lengthAdjust="spacingAndGlyphs">0.4</text>
<line x1="1608.9" y1="2546.2" x2="1596.6" y2="2546.2" stroke="#000" stroke-width="2"/>
<text x="1595.8" y="2546.2" font-size="32.4" text-anchor="middle" textLength="40.2" lengthAdjust="spacingAndGlyphs" transform="rotate(-90 1595.8 2546.2)">0.4</text>
<line x1="1879.2" y1="2725.1" x2="1879.2" y2="2740.1" stroke="#000" stroke-width="2"/>
<text x="1879.2" y="2767" font-size="31.8" text-anchor="middle" textLength="32.4" lengthAdjust="spacingAndGlyphs">0.6</text>
<line x1="1608.9" y1="2464.6" x2="1596.6" y2="2464.6" stroke="#000" stroke-width="2"/>
<text x="1595.8" y="2464.6" font-size="32.4" text-anchor="middle" textLength="40.2" lengthAdjust="spacingAndGlyphs" transform="rotate(-90 1595.8 2464.6)">0.6</text>
<line x1="1963.7" y1="2725.1" x2="1963.7" y2="2740.1" stroke="#000" stroke-width="2"/>
<text x="1963.7" y="2767" font-size="31.8" text-anchor="middle" textLength="32.4" lengthAdjust="spacingAndGlyphs">0.8</text>
<line x1="1608.9" y1="2383" x2="1596.6" y2="2383" stroke="#000" stroke-width="2"/>
<text x="1595.8" y="2383" font-size="32.4" text-anchor="middle" textLength="40.2" lengthAdjust="spacingAndGlyphs" transform="rotate(-90 1595.8 2383)">0.8</text>
<line x1="2048.2" y1="2725.1" x2="2048.2" y2="2740.1" stroke="#000" stroke-width="2"/>
<text x="2048.2" y="2767" font-size="31.8" text-anchor="middle" textLength="32.4" lengthAdjust="spacingAndGlyphs">1.0</text>
<line x1="1608.9" y1="2301.4" x2="1596.6" y2="2301.4" stroke="#000" stroke-width="2"/>
<text x="1595.8" y="2301.4" font-size="32.4" text-anchor="middle" textLength="40.2" lengthAdjust="spacingAndGlyphs" transform="rotate(-90 1595.8 2301.4)">1.0</text>
<text x="1866.4" y="2797" font-size="35" text-anchor="middle" textLength="370.6" lengthAdjust="spacingAndGlyphs">Nomogram−predicted OS (%)</text>
<text x="1561" y="2496" font-size="35" text-anchor="middle" textLength="284.4" lengthAdjust="spacingAndGlyphs" transform="rotate(-90 1561 2496)">Observed OS (%)</text>
<line x1="1938.7" y1="2641.9" x2="1976.8" y2="2641.9" stroke="#62BB46" stroke-width="2.2"/>
<text x="1989.4" y="2651.4" font-size="30.5" textLength="62.6" lengthAdjust="spacingAndGlyphs">1-year</text>
<line x1="1938.7" y1="2670" x2="1976.8" y2="2670" stroke="#2B5DB5" stroke-width="2.2"/>
<text x="1989.4" y="2677.3" font-size="30.5" textLength="62.6" lengthAdjust="spacingAndGlyphs">3-year</text>
<line x1="1938.7" y1="2697.8" x2="1976.8" y2="2697.8" stroke="#EE2A2F" stroke-width="2.2"/>
<text x="1989.4" y="2703.7" font-size="30.5" textLength="62.6" lengthAdjust="spacingAndGlyphs">5-year</text></svg></body></html>
